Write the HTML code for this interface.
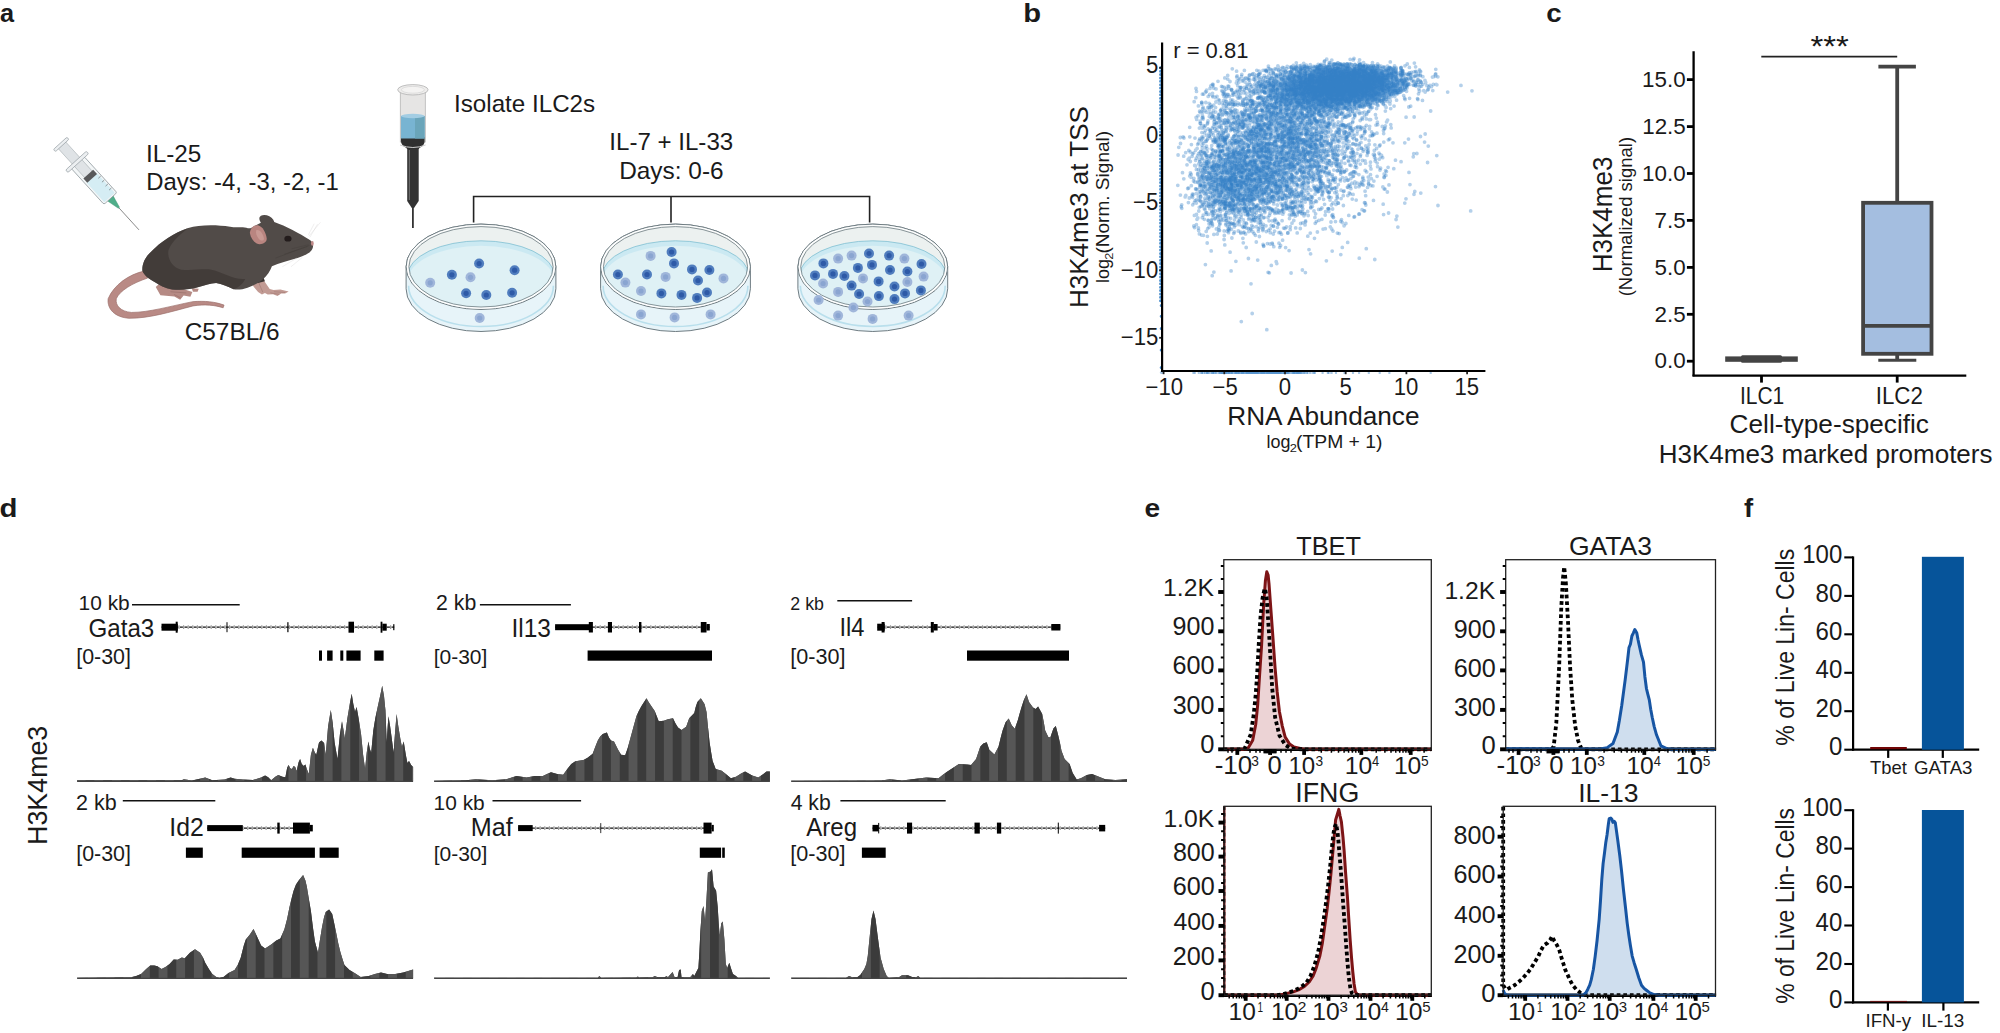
<!DOCTYPE html>
<html lang="en"><head><meta charset="utf-8"><title>Figure</title>
<style>
html,body{margin:0;padding:0;background:#fff;}
body{width:2000px;height:1033px;overflow:hidden;}
svg{display:block;font-family:"Liberation Sans",sans-serif;}
svg text{fill:#1a1a1a;}
</style></head><body>
<svg width="2000" height="1033" viewBox="0 0 2000 1033">
<rect width="2000" height="1033" fill="#fff"/>
<g id="panel-a">
<text transform="translate(0 21.6) scale(1.004 1.000)" font-size="25.2" font-weight="bold">a</text>
<text x="146" y="161.9" font-size="24.3">IL-25</text>
<text x="146.3" y="190.3" font-size="23.9">Days: -4, -3, -2, -1</text>
<text x="184.7" y="339.6" font-size="24.4">C57BL/6</text>
<text x="454" y="111.7" font-size="24.2">Isolate ILC2s</text>
<text x="609.3" y="149.5" font-size="24.1">IL-7 + IL-33</text>
<text x="619.2" y="178.6" font-size="24.4">Days: 0-6</text>
<path d="M473.6 222.5V196.5H869.6V222.5M671 196.5V222.5" fill="none" stroke="#222" stroke-width="1.6"/>
<g transform="translate(61.2 144.4) rotate(47.7) scale(0.1065)">
<line x1="795" y1="0" x2="1085" y2="0" stroke="#555" stroke-width="6"/>
<polygon points="683,-36 683,36 805,7 805,-7" fill="#4fae8a" stroke="#3f9574" stroke-width="4"/>
<rect x="225" y="-82" width="462" height="164" rx="16" fill="#f3f6f7" stroke="#8f989d" stroke-width="7"/>
<rect x="428" y="-66" width="246" height="132" rx="6" fill="#d5edf4"/>
<rect x="8" y="-47" width="380" height="94" fill="#dfe3e6" stroke="#a0a8ad" stroke-width="5"/>
<rect x="378" y="-62" width="54" height="124" fill="#58595b"/>
<rect x="206" y="-132" width="32" height="264" rx="14" fill="#eceff1" stroke="#8f989d" stroke-width="6"/>
<rect x="-14" y="-86" width="28" height="172" rx="12" fill="#eceff1" stroke="#8f989d" stroke-width="6"/>
<path d="M470 -74V-44M520 -74V-44M570 -74V-44M620 -74V-44" stroke="#555" stroke-width="5" fill="none"/>
</g>
<g transform="translate(100 200) scale(0.11616)">
<path d="M380 612 C250 640 120 730 70 850 C60 940 130 1010 250 1018 C420 1020 600 965 800 912 C900 895 990 905 1060 928 L1068 905 C990 875 900 868 800 875 C600 915 420 968 270 968 C180 960 130 910 140 850 C170 780 280 715 410 672 Z" fill="#b98a85" stroke="#9c6f6a" stroke-width="6"/>
<path d="M480 750 L520 712 L600 760 L710 765 L795 792 L778 832 L720 822 L690 858 L640 830 L520 820 Z" fill="#b58a84"/>
<path d="M610 790 L740 800 M640 815 L690 840" stroke="#9a716b" stroke-width="6" fill="none" stroke-linecap="round"/>
<path d="M790 760 L850 765 L840 790 L800 790Z" fill="#b58a84"/>
<path d="M1302 717 L1361 692 L1411 692 L1461 767 L1494 775 L1553 771 L1624 788 L1594 804 L1560 806 L1528 826 L1490 812 L1444 813 L1420 800 L1394 813 L1361 792 L1328 754 Z" fill="#c29b94"/>
<path d="M1361 700 L1400 790 M1500 790 L1590 796 M1470 800 L1540 812" stroke="#a47c76" stroke-width="6" fill="none" stroke-linecap="round"/>
<path d="M1345 690 L1405 660 L1420 700 L1360 715Z" fill="#3a3432"/>
<path d="M365 610 C360 540 400 480 440 445 C520 360 640 280 760 240 C850 212 1000 210 1120 230 C1170 240 1190 232 1230 235 C1260 238 1285 250 1300 240 L1385 195 C1370 170 1365 150 1385 135 C1420 122 1470 135 1492 170 L1500 190 C1600 225 1720 290 1800 340 C1830 360 1840 375 1832 410 C1820 450 1780 470 1700 500 C1620 525 1540 545 1480 570 C1465 610 1440 650 1400 685 C1370 715 1320 735 1270 755 C1230 770 1180 775 1150 768 C1100 745 1050 722 1000 715 C950 715 900 735 850 750 C780 770 700 778 620 770 C560 760 510 730 470 705 C420 680 380 650 365 610 Z" fill="#514b48"/>
<path d="M365 610 C360 540 400 480 440 445 C520 360 640 280 760 240 C700 290 620 350 590 430 C575 500 620 580 700 600 C800 610 880 590 960 600 C1060 620 1150 690 1250 680 C1230 720 1200 750 1150 768 C1100 745 1050 722 1000 715 C950 715 900 735 850 750 C780 770 700 778 620 770 C560 760 510 730 470 705 C420 680 380 650 365 610 Z" fill="#3d3734" opacity="0.75"/>
<path d="M1290 285 C1295 240 1325 212 1360 218 C1400 228 1428 280 1435 330 C1438 360 1410 380 1375 380 C1335 378 1300 340 1290 285 Z" fill="#b98580"/>
<path d="M1345 260 C1375 250 1405 290 1412 335 C1405 355 1385 352 1368 335 C1350 315 1338 285 1345 260Z" fill="#c99a94"/>
<ellipse cx="1618" cy="333" rx="31" ry="25" fill="#231c1c"/>
<ellipse cx="1828" cy="374" rx="12" ry="20" fill="#c08a88"/>
<path d="M1802 392 L1511 500 M1786 400 L1586 467 M1795 385 L1650 420" stroke="#3b3532" stroke-width="3" fill="none" opacity="0.7"/>
<path d="M1798 312 L1898 192 M1807 321 L1873 208 M1794 300 L1844 204 M1744 492 L1644 575 M1694 500 L1569 575" stroke="#d4d2d0" stroke-width="3" fill="none"/>
</g>
<g>
<line x1="412.9" y1="205" x2="412.9" y2="228" stroke="#333" stroke-width="1.8"/>
<path d="M407.2 146 H418.7 V201 L414 208 H411.8 L407.2 201Z" fill="#333"/>
<line x1="409.3" y1="150" x2="409.3" y2="200" stroke="#888" stroke-width="0.8"/>
<rect x="400.3" y="90" width="25" height="52" fill="#e6e5e4" stroke="#b5b5b5" stroke-width="0.8"/>
<path d="M401 137 H424.6 V141 C424.6 146 420 147 418.7 149 H407.2 C406 147 401 146 401 141Z" fill="#2f2f2f"/>
<rect x="401" y="116" width="23.6" height="22.5" fill="#78b4d2"/>
<rect x="415" y="116" width="9.6" height="22.5" fill="#6aa5ba"/>
<ellipse cx="412.8" cy="116" rx="11.8" ry="2.2" fill="#a3cde3"/>
<path d="M400 145 Q412.9 150 425.6 145" stroke="#ccc" stroke-width="1" fill="none"/>
<ellipse cx="412.9" cy="89.8" rx="15.2" ry="5.2" fill="#eeedec" stroke="#b8b8b8" stroke-width="0.9"/>
<ellipse cx="412.9" cy="89.8" rx="11.5" ry="3.4" fill="#f4f3f2" stroke="#d0d0d0" stroke-width="0.6"/>
</g>
<g>
<path d="M406.1 266.8 A74.9 42.7 0 0 1 555.9 266.8 V288.8 A74.9 42.7 0 0 1 406.1 288.8 Z" fill="#e7f4f9" stroke="#6f7c82" stroke-width="1"/>
<path d="M408.6 285.8 A72.4 40.7 0 0 0 553.4 285.8" fill="none" stroke="#b9dfec" stroke-width="1.6"/>
<ellipse cx="481" cy="266.8" rx="74.9" ry="42.7" fill="#ecf1f0" stroke="#6f7c82" stroke-width="1"/>
<clipPath id="dc481"><ellipse cx="481" cy="266.8" rx="72.5" ry="40.5"/></clipPath>
<g clip-path="url(#dc481)">
<ellipse cx="481" cy="275.8" rx="73.4" ry="35" fill="#cbe9f2" stroke="#7fbfd2" stroke-width="0.8"/>
<ellipse cx="481" cy="280.3" rx="72.9" ry="34.5" fill="#dff1f5"/>
</g>
<ellipse cx="481" cy="266.8" rx="73.3" ry="41.2" fill="none" stroke="#fff" stroke-width="1.4"/>
<ellipse cx="481" cy="266.8" rx="72.1" ry="40.2" fill="none" stroke="#6f7c82" stroke-width="0.8"/>
<circle cx="470.5" cy="277.3" r="5" fill="#a0b6da"/><circle cx="470.5" cy="277.3" r="2.6" fill="#8aa5d1"/>
<circle cx="430.2" cy="282.8" r="5" fill="#a0b6da"/><circle cx="430.2" cy="282.8" r="2.6" fill="#8aa5d1"/>
<circle cx="479.7" cy="318" r="5" fill="#a0b6da"/><circle cx="479.7" cy="318" r="2.6" fill="#8aa5d1"/>
<circle cx="479.1" cy="263.5" r="5" fill="#507dbe"/><circle cx="479.1" cy="263.5" r="2.6" fill="#2e5aa7"/>
<circle cx="451.9" cy="274.8" r="5" fill="#507dbe"/><circle cx="451.9" cy="274.8" r="2.6" fill="#2e5aa7"/>
<circle cx="514.6" cy="270.2" r="5" fill="#507dbe"/><circle cx="514.6" cy="270.2" r="2.6" fill="#2e5aa7"/>
<circle cx="466.1" cy="293.3" r="5" fill="#507dbe"/><circle cx="466.1" cy="293.3" r="2.6" fill="#2e5aa7"/>
<circle cx="486.3" cy="295" r="5" fill="#507dbe"/><circle cx="486.3" cy="295" r="2.6" fill="#2e5aa7"/>
<circle cx="512.1" cy="292.8" r="5" fill="#507dbe"/><circle cx="512.1" cy="292.8" r="2.6" fill="#2e5aa7"/>
</g>
<g>
<path d="M600.6 266.8 A74.9 42.7 0 0 1 750.4 266.8 V288.8 A74.9 42.7 0 0 1 600.6 288.8 Z" fill="#e7f4f9" stroke="#6f7c82" stroke-width="1"/>
<path d="M603.1 285.8 A72.4 40.7 0 0 0 747.9 285.8" fill="none" stroke="#b9dfec" stroke-width="1.6"/>
<ellipse cx="675.5" cy="266.8" rx="74.9" ry="42.7" fill="#ecf1f0" stroke="#6f7c82" stroke-width="1"/>
<clipPath id="dc675"><ellipse cx="675.5" cy="266.8" rx="72.5" ry="40.5"/></clipPath>
<g clip-path="url(#dc675)">
<ellipse cx="675.5" cy="275.8" rx="73.4" ry="35" fill="#cbe9f2" stroke="#7fbfd2" stroke-width="0.8"/>
<ellipse cx="675.5" cy="280.3" rx="72.9" ry="34.5" fill="#dff1f5"/>
</g>
<ellipse cx="675.5" cy="266.8" rx="73.3" ry="41.2" fill="none" stroke="#fff" stroke-width="1.4"/>
<ellipse cx="675.5" cy="266.8" rx="72.1" ry="40.2" fill="none" stroke="#6f7c82" stroke-width="0.8"/>
<circle cx="650.6" cy="255.9" r="5" fill="#a0b6da"/><circle cx="650.6" cy="255.9" r="2.6" fill="#8aa5d1"/>
<circle cx="665.6" cy="276.9" r="5" fill="#a0b6da"/><circle cx="665.6" cy="276.9" r="2.6" fill="#8aa5d1"/>
<circle cx="723.5" cy="278.4" r="5" fill="#a0b6da"/><circle cx="723.5" cy="278.4" r="2.6" fill="#8aa5d1"/>
<circle cx="625.4" cy="282.6" r="5" fill="#a0b6da"/><circle cx="625.4" cy="282.6" r="2.6" fill="#8aa5d1"/>
<circle cx="641" cy="291" r="5" fill="#a0b6da"/><circle cx="641" cy="291" r="2.6" fill="#8aa5d1"/>
<circle cx="641" cy="314.4" r="5" fill="#a0b6da"/><circle cx="641" cy="314.4" r="2.6" fill="#8aa5d1"/>
<circle cx="674.6" cy="317.4" r="5" fill="#a0b6da"/><circle cx="674.6" cy="317.4" r="2.6" fill="#8aa5d1"/>
<circle cx="710.6" cy="314.4" r="5" fill="#a0b6da"/><circle cx="710.6" cy="314.4" r="2.6" fill="#8aa5d1"/>
<circle cx="671.6" cy="252" r="5" fill="#507dbe"/><circle cx="671.6" cy="252" r="2.6" fill="#2e5aa7"/>
<circle cx="674" cy="263.4" r="5" fill="#507dbe"/><circle cx="674" cy="263.4" r="2.6" fill="#2e5aa7"/>
<circle cx="692" cy="269.4" r="5" fill="#507dbe"/><circle cx="692" cy="269.4" r="2.6" fill="#2e5aa7"/>
<circle cx="709.4" cy="270" r="5" fill="#507dbe"/><circle cx="709.4" cy="270" r="2.6" fill="#2e5aa7"/>
<circle cx="617.9" cy="274.5" r="5" fill="#507dbe"/><circle cx="617.9" cy="274.5" r="2.6" fill="#2e5aa7"/>
<circle cx="647" cy="274.5" r="5" fill="#507dbe"/><circle cx="647" cy="274.5" r="2.6" fill="#2e5aa7"/>
<circle cx="698" cy="280.5" r="5" fill="#507dbe"/><circle cx="698" cy="280.5" r="2.6" fill="#2e5aa7"/>
<circle cx="661.4" cy="293.4" r="5" fill="#507dbe"/><circle cx="661.4" cy="293.4" r="2.6" fill="#2e5aa7"/>
<circle cx="681.5" cy="294.9" r="5" fill="#507dbe"/><circle cx="681.5" cy="294.9" r="2.6" fill="#2e5aa7"/>
<circle cx="707" cy="292.5" r="5" fill="#507dbe"/><circle cx="707" cy="292.5" r="2.6" fill="#2e5aa7"/>
<circle cx="697.1" cy="297.9" r="5" fill="#507dbe"/><circle cx="697.1" cy="297.9" r="2.6" fill="#2e5aa7"/>
</g>
<g>
<path d="M797.9 266.8 A74.9 42.7 0 0 1 947.7 266.8 V288.8 A74.9 42.7 0 0 1 797.9 288.8 Z" fill="#e7f4f9" stroke="#6f7c82" stroke-width="1"/>
<path d="M800.4 285.8 A72.4 40.7 0 0 0 945.2 285.8" fill="none" stroke="#b9dfec" stroke-width="1.6"/>
<ellipse cx="872.8" cy="266.8" rx="74.9" ry="42.7" fill="#ecf1f0" stroke="#6f7c82" stroke-width="1"/>
<clipPath id="dc872"><ellipse cx="872.8" cy="266.8" rx="72.5" ry="40.5"/></clipPath>
<g clip-path="url(#dc872)">
<ellipse cx="872.8" cy="275.8" rx="73.4" ry="35" fill="#cbe9f2" stroke="#7fbfd2" stroke-width="0.8"/>
<ellipse cx="872.8" cy="280.3" rx="72.9" ry="34.5" fill="#dff1f5"/>
</g>
<ellipse cx="872.8" cy="266.8" rx="73.3" ry="41.2" fill="none" stroke="#fff" stroke-width="1.4"/>
<ellipse cx="872.8" cy="266.8" rx="72.1" ry="40.2" fill="none" stroke="#6f7c82" stroke-width="0.8"/>
<circle cx="838.1" cy="258.6" r="5" fill="#a0b6da"/><circle cx="838.1" cy="258.6" r="2.6" fill="#8aa5d1"/>
<circle cx="851.6" cy="255.6" r="5" fill="#a0b6da"/><circle cx="851.6" cy="255.6" r="2.6" fill="#8aa5d1"/>
<circle cx="904.4" cy="258.6" r="5" fill="#a0b6da"/><circle cx="904.4" cy="258.6" r="2.6" fill="#8aa5d1"/>
<circle cx="923.6" cy="276.6" r="5" fill="#a0b6da"/><circle cx="923.6" cy="276.6" r="2.6" fill="#8aa5d1"/>
<circle cx="863" cy="278.4" r="5" fill="#a0b6da"/><circle cx="863" cy="278.4" r="2.6" fill="#8aa5d1"/>
<circle cx="907.4" cy="282" r="5" fill="#a0b6da"/><circle cx="907.4" cy="282" r="2.6" fill="#8aa5d1"/>
<circle cx="823.1" cy="283.5" r="5" fill="#a0b6da"/><circle cx="823.1" cy="283.5" r="2.6" fill="#8aa5d1"/>
<circle cx="838.1" cy="291.9" r="5" fill="#a0b6da"/><circle cx="838.1" cy="291.9" r="2.6" fill="#8aa5d1"/>
<circle cx="818.6" cy="300" r="5" fill="#a0b6da"/><circle cx="818.6" cy="300" r="2.6" fill="#8aa5d1"/>
<circle cx="867.5" cy="301.5" r="5" fill="#a0b6da"/><circle cx="867.5" cy="301.5" r="2.6" fill="#8aa5d1"/>
<circle cx="853.4" cy="307.5" r="5" fill="#a0b6da"/><circle cx="853.4" cy="307.5" r="2.6" fill="#8aa5d1"/>
<circle cx="838.1" cy="315.6" r="5" fill="#a0b6da"/><circle cx="838.1" cy="315.6" r="2.6" fill="#8aa5d1"/>
<circle cx="872.6" cy="318.9" r="5" fill="#a0b6da"/><circle cx="872.6" cy="318.9" r="2.6" fill="#8aa5d1"/>
<circle cx="908.6" cy="315.6" r="5" fill="#a0b6da"/><circle cx="908.6" cy="315.6" r="2.6" fill="#8aa5d1"/>
<circle cx="869" cy="253.5" r="5" fill="#507dbe"/><circle cx="869" cy="253.5" r="2.6" fill="#2e5aa7"/>
<circle cx="889.1" cy="255.6" r="5" fill="#507dbe"/><circle cx="889.1" cy="255.6" r="2.6" fill="#2e5aa7"/>
<circle cx="823.4" cy="263.4" r="5" fill="#507dbe"/><circle cx="823.4" cy="263.4" r="2.6" fill="#2e5aa7"/>
<circle cx="921.5" cy="264" r="5" fill="#507dbe"/><circle cx="921.5" cy="264" r="2.6" fill="#2e5aa7"/>
<circle cx="872" cy="264.9" r="5" fill="#507dbe"/><circle cx="872" cy="264.9" r="2.6" fill="#2e5aa7"/>
<circle cx="857.9" cy="267.9" r="5" fill="#507dbe"/><circle cx="857.9" cy="267.9" r="2.6" fill="#2e5aa7"/>
<circle cx="890" cy="270" r="5" fill="#507dbe"/><circle cx="890" cy="270" r="2.6" fill="#2e5aa7"/>
<circle cx="907.4" cy="271.5" r="5" fill="#507dbe"/><circle cx="907.4" cy="271.5" r="2.6" fill="#2e5aa7"/>
<circle cx="815" cy="275.4" r="5" fill="#507dbe"/><circle cx="815" cy="275.4" r="2.6" fill="#2e5aa7"/>
<circle cx="833" cy="273.9" r="5" fill="#507dbe"/><circle cx="833" cy="273.9" r="2.6" fill="#2e5aa7"/>
<circle cx="844.4" cy="276" r="5" fill="#507dbe"/><circle cx="844.4" cy="276" r="2.6" fill="#2e5aa7"/>
<circle cx="878.6" cy="281.4" r="5" fill="#507dbe"/><circle cx="878.6" cy="281.4" r="2.6" fill="#2e5aa7"/>
<circle cx="851.6" cy="285.6" r="5" fill="#507dbe"/><circle cx="851.6" cy="285.6" r="2.6" fill="#2e5aa7"/>
<circle cx="894.5" cy="286.5" r="5" fill="#507dbe"/><circle cx="894.5" cy="286.5" r="2.6" fill="#2e5aa7"/>
<circle cx="859.1" cy="294" r="5" fill="#507dbe"/><circle cx="859.1" cy="294" r="2.6" fill="#2e5aa7"/>
<circle cx="878.9" cy="296.1" r="5" fill="#507dbe"/><circle cx="878.9" cy="296.1" r="2.6" fill="#2e5aa7"/>
<circle cx="905" cy="293.4" r="5" fill="#507dbe"/><circle cx="905" cy="293.4" r="2.6" fill="#2e5aa7"/>
<circle cx="920.9" cy="290.4" r="5" fill="#507dbe"/><circle cx="920.9" cy="290.4" r="2.6" fill="#2e5aa7"/>
<circle cx="894.5" cy="299.1" r="5" fill="#507dbe"/><circle cx="894.5" cy="299.1" r="2.6" fill="#2e5aa7"/>
</g>
</g>
<g id="panel-b">
<text transform="translate(1023.3 22) scale(1.159 1.000)" font-size="25.2" font-weight="bold">b</text>
<g fill="none" stroke="#2f7cc4" stroke-opacity="0.36" stroke-width="3.8" stroke-linecap="round">
<path d="M1160.6 67.8h0M1160.6 71.2h0M1160.6 74.6h0M1160.6 77.9h0M1160.6 81.3h0M1160.6 84.7h0M1160.6 88.1h0M1160.6 91.4h0M1160.6 94.8h0M1160.6 98.2h0M1160.6 101.6h0M1160.6 104.9h0M1160.6 108.3h0M1160.6 111.7h0M1160.6 115.1h0M1160.6 118.4h0M1160.6 121.8h0M1160.6 125.2h0M1160.6 128.6h0M1160.6 131.9h0M1160.6 135.3h0M1160.6 138.7h0M1160.6 142.1h0M1160.6 145.4h0M1160.6 148.8h0M1160.6 152.2h0M1160.6 155.6h0M1160.6 158.9h0M1160.6 162.3h0M1160.6 165.7h0M1160.6 169.1h0M1160.6 172.4h0M1160.6 175.8h0M1160.6 179.2h0M1160.6 182.6h0M1160.6 185.9h0M1160.6 189.3h0M1160.6 192.7h0M1160.6 196.1h0M1160.6 199.4h0M1160.6 202.8h0M1160.6 206.2h0M1160.6 209.6h0M1160.6 212.9h0M1160.6 216.3h0M1160.6 219.7h0M1160.6 223.1h0M1160.6 226.4h0M1160.6 229.8h0M1160.6 233.2h0M1160.6 236.6h0M1160.6 239.9h0M1160.6 243.3h0M1160.6 246.7h0M1160.6 250.1h0M1160.6 253.4h0M1160.6 256.8h0M1160.6 260.2h0M1160.6 263.6h0M1160.6 266.9h0M1160.6 270.3h0M1160.6 273.7h0M1160.6 277.1h0M1160.6 280.4h0M1160.6 283.8h0M1160.6 287.2h0M1160.6 290.6h0M1160.6 293.9h0M1160.6 297.3h0M1160.6 300.7h0M1161.2 305.4h0M1161.2 316.2h0M1161.2 328.4h0M1161.2 350h0M1161.2 367.5h0" stroke-opacity="0.9" stroke-width="3"/>
<path d="M1231.5 372.9h0M1237.9 372.9h0M1256.7 372.9h0M1257 372.9h0M1287.1 372.9h0M1258.4 372.9h0M1292.5 372.9h0M1255.1 372.9h0M1251.4 372.9h0M1247 372.9h0M1307 372.9h0M1310 372.9h0M1226.5 372.9h0M1276.9 372.9h0M1275.6 372.9h0M1272 372.9h0M1223.2 372.9h0M1238.6 372.9h0M1292.5 372.9h0M1228.4 372.9h0M1295.8 372.9h0M1269.2 372.9h0M1244.4 372.9h0M1261.7 372.9h0M1237.4 372.9h0M1289.4 372.9h0M1290.8 372.9h0M1252.4 372.9h0M1273.1 372.9h0M1251.6 372.9h0M1271 372.9h0M1277.3 372.9h0M1277.3 372.9h0M1255.6 372.9h0M1274.3 372.9h0M1264.4 372.9h0M1286.8 372.9h0M1262.4 372.9h0M1249.6 372.9h0M1299.3 372.9h0M1283.5 372.9h0M1331.6 372.9h0M1248.3 372.9h0M1278.6 372.9h0M1201.6 372.9h0M1255 372.9h0M1201.6 372.9h0M1235 372.9h0M1212.9 372.9h0M1252.6 372.9h0M1230.8 372.9h0M1268.1 372.9h0M1212 372.9h0M1288.3 372.9h0M1279.8 372.9h0M1246.6 372.9h0M1275.4 372.9h0M1228.9 372.9h0M1256 372.9h0M1250.3 372.9h0M1258 372.9h0M1251.8 372.9h0M1294 372.9h0M1244.4 372.9h0M1268.3 372.9h0M1306.7 372.9h0M1280.6 372.9h0M1273.9 372.9h0M1269.5 372.9h0M1304.4 372.9h0M1252 372.9h0M1297.7 372.9h0M1242.1 372.9h0M1261.3 372.9h0M1236 372.9h0M1300.2 372.9h0M1216.3 372.9h0M1245.6 372.9h0M1243.9 372.9h0M1267.2 372.9h0M1272.7 372.9h0M1219.5 372.9h0M1331.3 372.9h0M1206.7 372.9h0M1244.5 372.9h0M1284.5 372.9h0M1296.7 372.9h0M1223.4 372.9h0M1262.3 372.9h0M1221.6 372.9h0M1306.5 372.9h0M1216 372.9h0M1211.3 372.9h0M1249.9 372.9h0M1205.2 372.9h0M1237.9 372.9h0M1257.2 372.9h0M1253.7 372.9h0M1263.2 372.9h0M1232.7 372.9h0M1251.4 372.9h0M1297.5 372.9h0M1236.4 372.9h0M1223.8 372.9h0M1229.8 372.9h0M1270.5 372.9h0M1280.7 372.9h0M1162 372.9h0M1161 372.5h0M1322.6 372.9h0M1328.7 372.9h0M1336 372.9h0M1344.5 372.9h0M1353 372.9h0M1359.1 372.9h0M1368.8 372.9h0M1379.7 372.9h0M1389.4 372.9h0M1430.7 372.9h0" stroke-opacity="0.42" stroke-width="2.4"/>
<path d="M1294.6 372.9h0M1267.3 372.9h0M1276.2 372.9h0M1271.4 372.9h0M1283.8 372.9h0M1248.8 372.9h0M1255.3 372.9h0M1249.8 372.9h0M1257.9 372.9h0M1258.9 372.9h0M1273.2 372.9h0M1235.9 372.9h0M1327.8 372.9h0M1253.6 372.9h0M1214.2 372.9h0M1266.1 372.9h0M1312.5 372.9h0M1283.6 372.9h0M1257.5 372.9h0M1236.7 372.9h0M1267 372.9h0M1280.7 372.9h0M1250.5 372.9h0M1267.8 372.9h0M1258.8 372.9h0M1228.8 372.9h0M1247.3 372.9h0M1269.6 372.9h0M1242.5 372.9h0M1257.5 372.9h0M1276.7 372.9h0M1239.4 372.9h0M1274.5 372.9h0M1287.3 372.9h0M1269.7 372.9h0M1284.2 372.9h0M1301.7 372.9h0M1204.1 372.9h0M1307.6 372.9h0M1241.1 372.9h0M1244.3 372.9h0M1241.3 372.9h0M1268.8 372.9h0M1250.7 372.9h0M1213.6 372.9h0M1208.4 372.9h0M1241.9 372.9h0M1277.5 372.9h0M1293.6 372.9h0M1253.3 372.9h0M1267.4 372.9h0M1258.6 372.9h0M1207.6 372.9h0M1261.9 372.9h0M1252.5 372.9h0M1254.7 372.9h0M1264.1 372.9h0M1242.3 372.9h0M1275.1 372.9h0M1222.1 372.9h0M1302.6 372.9h0M1256.8 372.9h0M1193.4 372.9h0M1296.9 372.9h0M1260.7 372.9h0M1279.8 372.9h0M1262.9 372.9h0M1215.6 372.9h0M1278.6 372.9h0M1249.7 372.9h0M1198.8 372.9h0M1267.7 372.9h0M1287.1 372.9h0M1287 372.9h0M1242.5 372.9h0M1246.5 372.9h0M1280.3 372.9h0M1262.8 372.9h0M1225 372.9h0M1266.1 372.9h0M1247.4 372.9h0M1203 372.9h0M1298.8 372.9h0M1288 372.9h0M1296.2 372.9h0M1280.1 372.9h0M1314.9 372.9h0M1247.2 372.9h0M1261.6 372.9h0M1277.3 372.9h0M1248.9 372.9h0M1296.6 372.9h0M1220.5 372.9h0M1281.2 372.9h0M1289.4 372.9h0M1211.7 372.9h0M1226.3 372.9h0M1212.5 372.9h0M1301.1 372.9h0M1248.7 372.9h0M1268.2 372.9h0M1243.8 372.9h0M1231.7 372.9h0M1271.5 372.9h0M1250.2 372.9h0M1250.6 372.9h0M1264.4 372.9h0M1245.3 372.9h0M1237.9 372.9h0" stroke-opacity="0.42" stroke-width="2.4"/>
<path d="M1239.8 372.9h0M1231.7 372.9h0M1201.2 372.9h0M1228.2 372.9h0M1297.2 372.9h0M1267 372.9h0M1253.7 372.9h0M1201.9 372.9h0M1248.8 372.9h0M1252.3 372.9h0M1222 372.9h0M1243.1 372.9h0M1260.2 372.9h0M1213.6 372.9h0M1235 372.9h0M1236 372.9h0M1249.2 372.9h0M1256.7 372.9h0M1280.6 372.9h0M1261.3 372.9h0M1213.6 372.9h0M1264.7 372.9h0M1279 372.9h0M1301.6 372.9h0M1248.2 372.9h0M1259.3 372.9h0M1194.8 372.9h0M1273.4 372.9h0M1268.5 372.9h0M1218.9 372.9h0M1224.1 372.9h0M1279.6 372.9h0M1273.9 372.9h0M1299.2 372.9h0M1279.5 372.9h0M1209 372.9h0M1264.9 372.9h0M1247.6 372.9h0M1284.7 372.9h0M1263.5 372.9h0M1275.6 372.9h0M1271.4 372.9h0M1266.8 372.9h0M1294.4 372.9h0M1285.7 372.9h0M1253.8 372.9h0M1272.5 372.9h0M1242.2 372.9h0M1251.2 372.9h0M1267.8 372.9h0M1278.1 372.9h0M1239.2 372.9h0M1242.7 372.9h0M1261.2 372.9h0M1298.9 372.9h0M1235.3 372.9h0M1206.9 372.9h0M1224.4 372.9h0M1268 372.9h0M1227.9 372.9h0M1273.5 372.9h0M1271.4 372.9h0M1238.4 372.9h0M1221.4 372.9h0M1235.1 372.9h0M1255.6 372.9h0M1253.9 372.9h0M1247.3 372.9h0M1278.4 372.9h0M1279.3 372.9h0M1270.2 372.9h0M1246.7 372.9h0M1262.9 372.9h0M1241.6 372.9h0M1277.2 372.9h0M1236 372.9h0M1284.3 372.9h0M1287.7 372.9h0M1218.4 372.9h0M1257 372.9h0M1314.1 372.9h0M1292.4 372.9h0M1273.7 372.9h0M1268.4 372.9h0M1286.4 372.9h0M1259.7 372.9h0M1304.4 372.9h0M1232.7 372.9h0M1274.1 372.9h0M1275.9 372.9h0M1253.9 372.9h0M1231.8 372.9h0M1262.7 372.9h0M1256.4 372.9h0M1276.1 372.9h0M1224.2 372.9h0M1273.4 372.9h0M1282.8 372.9h0M1271.1 372.9h0M1264.7 372.9h0M1224 372.9h0M1242.2 372.9h0M1261.4 372.9h0M1229.1 372.9h0M1229.6 372.9h0M1284.2 372.9h0M1284.7 372.9h0M1230.4 372.9h0M1255.5 372.9h0M1226.6 372.9h0" stroke-opacity="0.42" stroke-width="2.4"/>
<path d="M1181.8 208.3h0m1.3-71.5h0m5.5 51.3h0m1.7-26.6h0m0.1 11.3h0m2.8 21.7h0m0.6 31.4h0m0.4-124.2h0m0.9 98.9h0m0.5-50.4h0m0.6 43.3h0m0.3-102.1h0m0.6 57h0m0.5 7.4h0m0.4 19.2h0m0.1-1.9h0m2.1 11.7h0m0.7-29.1h0m0.2 17h0m1.2-25.1h0m0 0.4h0m0.4-39.3h0m0.2 66.3h0m0.9-22h0m0.5 17.8h0m0.3 12.9h0m0.1 1.1h0m0.1 13.6h0m0.2-50.5h0m1.5-35.7h0m0.3 79.9h0m0.2-1.6h0m0.1 2.5h0m0.1-53.2h0m0.3-16h0m1.3 32.4h0m0.2-43.1h0m0.1-6h0m0.1-3.8h0m0.6 63.5h0m0.6 38h0m1.2-28.2h0m0 46.1h0m0.4-40.7h0m0.2-65.5h0m0.1 11.7h0m0.4 78.6h0m0.3-56.1h0m0.2 56.9h0m0.1-42.3h0m0.1 49.5h0m0.3-74.1h0m0 40.7h0m0.1-16.3h0m0.7-8.3h0m0.1-18.2h0m0.2 3.3h0m0.3 35.8h0m0.6-65.6h0m0.2-10.1h0m0.2 73.2h0m0.3 13.9h0m0.3-24.9h0m0-37.1h0m0.3-30.8h0m0.1 85.2h0m0.4-17.9h0m0 3.3h0m0.2 18.3h0m0.2 18.4h0m0 6.9h0m0.1-93.1h0m0.2 64.2h0m0.1-15.4h0m0.4-10.3h0m0-40.8h0m0.1 54.4h0m0.1 60.5h0m0.3-59.1h0m0.1-43.8h0m0.3-26.8h0m0.3 20.4h0m0.1 80.9h0m0-9.8h0m0.1 31.5h0m0.3-27.9h0m0-57.8h0m0.1 47.1h0m0 17.5h0m0.1-92.1h0m0.2 84.6h0m0.1-15.3h0m0.1-53.6h0m0.5 54.8h0m0.4-43.1h0m0.1-3.3h0m0.1 47.7h0m0.3 20.1h0m0.2-50.5h0m0.2 28.6h0m0-42.6h0m0.1 21.8h0m0-27.8h0m0.4-26.1h0m0 64.8h0m0.2-38.4h0m0 34.8h0m0.2-26.8h0m0.1 52.8h0m0-51.6h0m0-34h0m0.5 128.4h0m0-54.5h0m0.1 21.6h0m0.1-15.7h0m0.3-31.8h0m0.1-24.9h0m0.1 57.4h0m0.2 0.4h0m0-4.6h0m0.1-77.7h0m0.1 57.1h0m0 45.4h0m0.3-19.9h0m0.2 16.9h0m0.1-27.2h0m0.5-40.7h0m0.1-32.8h0m0.1 65.9h0m0 15.7h0m0-17.9h0m0 19.1h0m0.5-7.5h0m0-36.5h0m0.2 41.4h0m0 18.7h0m0 23h0m0-48.8h0m0.3 1h0m0.1 9.2h0m0.1-34h0m0.2-31.9h0m0.1 22.8h0m0.1 36.2h0m0.2-62.8h0m0 51.1h0m0.2 22.8h0m0.1 13.5h0m0-119h0m0.4 32.8h0m0 66h0m0.2-5.4h0m0.3 43.8h0m0-42.2h0m0.1-3.7h0m0 30.7h0m0.1-36.4h0m0.1-90.5h0m0.2 103.4h0m0.1-12h0m0-5h0m0.1 22.1h0m0.2-24.8h0m0.2-46.4h0m0.2 73.5h0m0.1-14.2h0m0.1-62.5h0m0.2 70.8h0m0 42.9h0m0.1-43.5h0m0.2 12.2h0m0.2-5.9h0m0.4-47.6h0m0 17.6h0m0.2 28h0m0.1-20.3h0m0.1 20.6h0m0.1 21.6h0m0-36.7h0m0.3-21.7h0m0.2 24.4h0m0.2-32h0m0.1 33.8h0m0.2-75.1h0m0.1 103.9h0m0 4.6h0m0.5-39.9h0m0.1-42.5h0m0.1 74.9h0m0.3-40h0m0-48.2h0m0.1 0h0m0 51.2h0m0.1 26.5h0m0.3-24.9h0m0 20.7h0m0.1 16.2h0m0.4-10.4h0m0 64.5h0m0.1-83.2h0m0.3-20h0m0.1 18.5h0m0.1-7.5h0m0-17.2h0m0.5-12h0m0.1-14.3h0m0.1-33.8h0m0 50.1h0m0.1-20.8h0m0.2 77.3h0m0.1-36.6h0m0-28h0m0.1 18.6h0m0 47h0m0.1-0.4h0m0.1-13.8h0m0-38.4h0m0.1-0.8h0m0.1-29.8h0m0 87.2h0m0.1-44.1h0m0-35h0m0.1 106.7h0m0.1-18.9h0m0-15.1h0m0.1-12.5h0m0-64.2h0m0.1 100.6h0m0.1-67.2h0m0-18.4h0m0.1 58.4h0m0.1-70.2h0m0.3 80.2h0m0.1-45.3h0m0.2-18.4h0m0 53.3h0m0.4 7h0m0-38.9h0m0.4-28.9h0m0.1 21.2h0m0.3 24.2h0m0-20.5h0m0.1 28h0m0.2-98h0m0.1 62.4h0m0 61.7h0m0.2-29.8h0m0-24.7h0m0.1-52.1h0m0 72.8h0m0.1-101.3h0m0.1 72.1h0m0.5-0.4h0m0.1 17.2h0m0.2-43.6h0m0 0.7h0m0-41.4h0m0.1 46.5h0m0.1-14.2h0m0.1 0.8h0m0 85.8h0m0.1 11.8h0m0.1-39h0m0.5 47.1h0m0.1-114.4h0m0.5 99.5h0m0.1-22.5h0m0.1 25.8h0m0.1-94h0m0-35.4h0m0.1 20.3h0m0.7 62.8h0m0.4-24.3h0m0.4 18.6h0m0.2 14.2h0m0.1 77.1h0m0.1-91.2h0m0.2 20.5h0m0.1 34h0m0.1-32.8h0m0-1.7h0m0.2 23.5h0m0.2-23.2h0m0.2-98.1h0m0.5 21.9h0m0.1 77.6h0m0.5-31.8h0m0-10.8h0m0.2-0.3h0m0.8 76.2h0m0.2-10.7h0m0.2-8.1h0m0.1-82h0m0.3 6.7h0m0.2 72.8h0m0-83.7h0m0.1 67.7h0m0 11.2h0m0.1-23.6h0m0-8.1h0m0.1-15.4h0m0 15.8h0m0 46.7h0m0.1-50.1h0m0.2-19.2h0m0.1 8.6h0m0-43.6h0m0.1 45.5h0m0 12.9h0m0.3-41.9h0m0.6 102h0m0-29.1h0m0.2-85.4h0m0-25.9h0m0.7 117.4h0m0.2-24.8h0m0.1-10.2h0m0-18.1h0m0.1 47.3h0m0.2-16.5h0m0-2.3h0m0.1-93.5h0m0.2 134.7h0m0.2-41h0m0.2 2h0m0-9.6h0m0.1-85.5h0m0 92.9h0m0.2 17.5h0m0-11.9h0m0.4 17.3h0m0.1-100.1h0m0.2 88.2h0m0.2-15.8h0m0-69.8h0m0 76.5h0m0.1-30.2h0m0.1-49h0m0.1 117.1h0m0-77.4h0m0 15h0m0.1 15.8h0m0 5.3h0m0-16.9h0m0.1-12.2h0m0.2 50.4h0m0.1-95h0m0.1-4.1h0m0.2 75.3h0m0-75.6h0m0.2 98.9h0m0.1-31.4h0m0.1-49.1h0m0.1 26.7h0m0.1 19.6h0m0.2 13.3h0m0.3 94.5h0m0-140.2h0m0.1 62.5h0m0.4-35.3h0m0-0.7h0m0-29.6h0m0.1 56.8h0m0-4.6h0m0.1 62.2h0m0.1-62.9h0m0-6.3h0m0.1-34.9h0m0.1-50.5h0m0.2 91.6h0m0.1-64.5h0m0.1-32.6h0m0.4 14.7h0m0 71.6h0m0.4-6.4h0m0.1-78.5h0m0.1 100.5h0m0.1-41.6h0m0.1-1.9h0m0 93.3h0m0.2-112.6h0m0 101h0m0.2-107.6h0m0.1 69.7h0m0 12.7h0m0.2 30h0m0.1-73.5h0m0 67.4h0m0-33.4h0m0.1-13.7h0m0-13.6h0m0.1 29.8h0m0 10.8h0m0.2-8.7h0m0-7.8h0m0.2 15h0m0.9-86.9h0m0.4 93.3h0m0.1 4.7h0m0-19.9h0m0.1-63.5h0m0.3-11.2h0m0 66.1h0m0.1 74.8h0m0.1-70.6h0m0-97.1h0m0.1 120.9h0m0.1-109.7h0m0.1 83.1h0m0.1 7.8h0m0.3-37.5h0m0-51.4h0m0.3 102.7h0m0.1-104.6h0m0.4-8h0m0.3 85.6h0m0.2 36.1h0m0.1-87.3h0m0.2 41.3h0m0.2-39h0m0.1-47.6h0m0 68.8h0m0.1 48h0m0.3-12h0m0-1.1h0m0.1-71.3h0m0-1.9h0m0 9.8h0m0.1-22h0m0.3 8.6h0m0.1 17h0m0.2 60.6h0m0-71.3h0m0.2 30.8h0m0.3-24.9h0m0.1 58.1h0m0.4-18.8h0m0 7.1h0m0 2.5h0m0.1 39.2h0m0 3.3h0m0.1-87.2h0m0.2 40.3h0m0-70.7h0m0.2 21.9h0m0 115.6h0m0.1-107.3h0m0.1 28.4h0m0 39.6h0m0.1-26.5h0m0.4 10.2h0m0-30h0m0 23.1h0m0.1 1h0m0.1 4.7h0m0 20.8h0m0.3-41.6h0m0.1 56.8h0m0.1-40.5h0m0.3 22.1h0m0-7.7h0m0.2-80.3h0m0 27.5h0m0.3-15.6h0m0 18.5h0m0 141.4h0m0.2-68h0m0.2-24.7h0m0.1-87.5h0m0 89h0m0-30.1h0m0.6 53.7h0m0.5 3.3h0m0 9.5h0m0-13.9h0m0.1-80.5h0m0.3-29.8h0m0-13h0m0.1 124.2h0m0.1-85.7h0m0.1-31h0m0.1 94.1h0m0.3-33.5h0m0 57.6h0m0.2-15h0m0-91.9h0m0.3 82.5h0m0.3-85.7h0m0 24.3h0m0.3 86.4h0m0.2-106.8h0m0.1 79.6h0m0.2 11.4h0m0-67.6h0m0.1-36.1h0m0.3 11.1h0m0.1 16.3h0m0.3-5.2h0m0.1 64.8h0m0.1-9.9h0m0-50.5h0m0.1 17.1h0m0.2-10.2h0m0.3 79.9h0m0-104.3h0m0.2 41.5h0m0.3 3.4h0m0.1-6.2h0m0-45.3h0m0.1 16.7h0m0.2-3h0m0.1 55h0m0.2 16.3h0m0-85.5h0m0.1-6h0m0.3 96.3h0m0.1-6h0m0.1 76.7h0m0.5-30.1h0m0.1-90h0m0 67.2h0m0.4-49.2h0m0.1-40.7h0m0.2 17.3h0m0.1-15.8h0m0.1-13.9h0m0.2 71.4h0m0.2-12.5h0m0-24.9h0m0.1 30.7h0m0 50.6h0m0.5-99.3h0m0.1 86.3h0m0.1-68.9h0m0-41.7h0m0.1-0.5h0m0.2 111.7h0m0-51.4h0m0 30.5h0m0.1-29.5h0m0.4 56.4h0m0.1-14.8h0m0.1-27.3h0m0 50.4h0m0.1-100.8h0m0.3-17.8h0m0 107.3h0m0.1-20.4h0m0.1-37h0m0.5 24.8h0m0.5-77.4h0m0.1 47h0m0.2 25.8h0m0 28.2h0m0.1-109.5h0m0.1 13.9h0m0.2 84h0m0-31.3h0m0 86.4h0m0.3-92.7h0m0.2-51.1h0m0.1 0.6h0m0.2 118.3h0m0-114.7h0m0-6.2h0m0.1 77.3h0m0.1-8.3h0m0.1-34.4h0m0.1 61.2h0m0-78.1h0m0.3 46.4h0m0.1-51.4h0m0.2 24.1h0m0.2-18.4h0m0.1-3.9h0m0-6.9h0m0.1-23.7h0m0.6 48.4h0m0.2 64.6h0m0.1-12.1h0m0-49.1h0m0.1 48.8h0m0-18.7h0m0.1-4.4h0m0.1-60.1h0m0 50.5h0m0.1 3.7h0m0-4.6h0m0.2-24.6h0m0-19.4h0m0.1 29.3h0m0.1-0.5h0m0 29.8h0m0-70.2h0m0.1 111.1h0m0 17.7h0m0-139.4h0m0.1 10.6h0m0 46.5h0m0-1.2h0m0.4-33.6h0m0.1 62.6h0m0-2.7h0m0.1-54.8h0m0.3 70.5h0m0.1-49.4h0m0 51.5h0m0-41.2h0m0.1 18h0m0.1-51.8h0m0 69.4h0m0.1-24.5h0m0.1-13.9h0m0.4 43.5h0m0-52.5h0m0.1-21.6h0m0 0.9h0m0.1 107.5h0m0-117.2h0m0.2 44.3h0m0 1.5h0m0.2 3.3h0m0.2-62.8h0m0.3 0.6h0m0 93.2h0m0-85.7h0m0 16.2h0m0.1 5.3h0m0 16.2h0m0.6 39.4h0m0.2-74.7h0m0 95.5h0m0.1-9.2h0m0-87.1h0m0.1 10h0m0 36.6h0m0.1-34.2h0m0-15.6h0m0.2 102.2h0m0-21.6h0m0.2 1.1h0m0-64.9h0m0.1 50h0m0-20.5h0m0.2-38.7h0m0 109.2h0m0.3-87.1h0m0.1-17.6h0m0 81.8h0m0 43.8h0m0.1-53.3h0m0.1-52.9h0m0.1 73.6h0m0.1-96.4h0m0.2 44.9h0m0-55h0m0.2 105.5h0m0-87.5h0m0.1 2.3h0m0.1 76.2h0m0-73.2h0m0-30.1h0m0.1 37.5h0m0.1 20.3h0m0 80.9h0m0.2-76.8h0m0 22.4h0m0-71.3h0m0.1 78.2h0m0-67.8h0m0.2 21.5h0m0.1 38.8h0m0.1-52.4h0m0.1-10.4h0m0.2-18.8h0m0.1 15.7h0m0 31.5h0m0-29.6h0m0 107.8h0m0-104.4h0m0.2 20.9h0m0-3.3h0m0-15.4h0m0-21.7h0m0.1 80.8h0m0.2 3h0m0-61.9h0m0.1 138.9h0m0-124.9h0m0.1 40h0m0-62.6h0m0.1-1.4h0m0.1 2.9h0m0.1 43.3h0m0.1 7.5h0m0.1 25.3h0m0.1-47.6h0m0-34h0m0.2 104.6h0m0.5-92.9h0m0-0.5h0m0.2-2.9h0m0-9.2h0m0 7.5h0m0 10.5h0m0.2 35.2h0m0.2-49.3h0m0.1 102.1h0m0.2-102h0m0.1-3.8h0m0 78.5h0m0.3-56.5h0m0.1 67.6h0m0-87.6h0m0.2-14.3h0m0 9.5h0m0-4.5h0m0 94.1h0m0.1-14.6h0m0 75.6h0m0-144.9h0m0.3 73.8h0m0.2-75.7h0m0.1 40.5h0m0.1-33.3h0m0 16h0m0.1-19.4h0m0 8.8h0m0.2-25.6h0m0 115.3h0m0.2-96.6h0m0.1 81.4h0m0-11.1h0m0.1 15.6h0m0.2 39.9h0m0.1-129.5h0m0.1 0.1h0m0.2 12.7h0m0.1-9.5h0m0 2.8h0m0.2-4.2h0m0 82.5h0m0.3-59.2h0m0-29.1h0m0 11h0m0.1-10.4h0m0 3.8h0m0 24.8h0m0-29.7h0m0 12.5h0m0.2 2.6h0m0.1-13.6h0m0 22h0m0-29.8h0m0 24.1h0m0.2-19.4h0m0 20.9h0m0.2-10.4h0m0 61.8h0m0-60.6h0m0-8.2h0m0.1 10.2h0m0 90.9h0m0.1-90.3h0m0.2 65h0m0.2-2.9h0m0 24.1h0m0.2-82.9h0m0-12.6h0m0.2 19.5h0m0-33.7h0m0 40.6h0m0.1-20.5h0m0.1-16.4h0m0.1 104.5h0m0.3-48.8h0m0-36.1h0m0-17h0m0.2 9h0m0.1 43.8h0m0.2-41.6h0m0.1-7h0m0.2 30.5h0m0.1 6.6h0m0.2-37.6h0m0.1 71.2h0m0-22.5h0m0 6.5h0m0.3-44h0m0 27.2h0m0.1-36.3h0m0 47.7h0m0.1 8.8h0m0-57.9h0m0.1 6.1h0m0.1 6.9h0m0 11.1h0m0 20.5h0m0-25.9h0m0.1 42.3h0m0.1-29h0m0-44.6h0m0.3 2.8h0m0.1 82.9h0m0-60.3h0m0.1-7.8h0m0.2 82.3h0m0.1-65.9h0m0.3 34.5h0m0.2 52.8h0m0.2-97.7h0m0.1-9.3h0m0.1-1.5h0m0.2 99h0m0-76h0m0.1-8h0m0-1.5h0m0-3.7h0m0.2 30.5h0m0.1-43h0m0 21.4h0m0.1 0.3h0m0.2-5.5h0m0.1-15.9h0m0 18.2h0m0 76h0m0.1-79.3h0m0-11.1h0m0 5.8h0m0.4 77.7h0m0-77.3h0m0.1 0.6h0m0 58.3h0m0 62h0m0.1-123.3h0m0 9h0m0.1-18.3h0m0 21.4h0m0.1 63.4h0m0-80.3h0m0.4 62.2h0m0.1-54.2h0m0 82.8h0m0-6.2h0m0.2-82.2h0m0-6.4h0m0 8h0m0-10.9h0m0 10.2h0m0.2-2h0m0 2h0m0.1 7.5h0m0.1 11.9h0m0.3-29.3h0m0.4 12.8h0m0.1 80.9h0m0-62.7h0m0.1-17h0m0 27h0m0.1 39h0m0.1-58.6h0m0 84.3h0m0-106.9h0m0.1 27.3h0m0.1-16.7h0m0 22.2h0m0.1-29.9h0m0 19.4h0m0.1 108.5h0m0-37.8h0m0.2-78.8h0m0.2-7.9h0m0-0.8h0m0.2 10.5h0m0.1 45.9h0m0.1-47.4h0m0 58.6h0m0-63.1h0m0.1 83.7h0m0-46h0m0-31.4h0m0.1 99.6h0m0.2-35.5h0m0 36.4h0m0.1-90.5h0m0.1 95.9h0m0.1-66.3h0m0.1-32h0m0 52.2h0m0.2-56.1h0m0 2.8h0m0-6.2h0m0 14.2h0m0.2 26h0m0.1-35.3h0m0.3 27.2h0m0.1 7.1h0m0.2-60.9h0m0.1 3.5h0m0.2 17.4h0m0-3.7h0m0.1-4.2h0m0 18.7h0m0 35.8h0m0.1-36.7h0m0.1 30.2h0m0.1-29.7h0m0.1-31.1h0m0 15.3h0m0.1-13.5h0m0 123.1h0m0.4-101.8h0m0.2 17.6h0m0-21.1h0m0-0.8h0m0.2 8.9h0m0.4 6.8h0m0-11h0m0-11.9h0m0 14.1h0m0.1-25.2h0m0.1 4.4h0m0.1 7.4h0m0.1 16.8h0m0-1.8h0m0.1 10.5h0m0 115.5h0m0.2-136.1h0m0 26.9h0m0-29.7h0m0.2-0.1h0m0 15.1h0m0-7.3h0m0.1 42.5h0m0 66.9h0m0-10.4h0m0.2-8.2h0m0.2-83.8h0m0.2-17.7h0m0.1 24h0m0-12h0m0.1 1h0m0-14.2h0m0 2.3h0m0.1 18.8h0m0.1-9.4h0m0-4.6h0m0-7.1h0m0.3 109.6h0m0.1-108h0m0 29.2h0m0-29.1h0m0.1 14.6h0m0 14.8h0m0.2-13.7h0m0.1-4.9h0m0.1 0.3h0m0.2-15.4h0m0.1 29.5h0m0.1 41.3h0m0.2 62.4h0m0-127h0m0.2 9.6h0m0.1-20.3h0m0 17.4h0m0 12.3h0m0.1-21h0m0.1 53.2h0m0.1-40.9h0m0-9.7h0m0 12.3h0m0.1 1.4h0m0.1-10.2h0m0.2 45.5h0m0-59.2h0m0.1 121.5h0m0.1-39.1h0m0-70.9h0m0 0h0m0 7.2h0m0.2-9.7h0m0.1 81.9h0m0-67.4h0m0-27.5h0m0.2 59.3h0m0.1-47.8h0m0 1.9h0m0 5h0m0-6.3h0m0.1-7.4h0m0 21.7h0m0.1-7.8h0m0.1-11.3h0m0.1 5.9h0m0.1 2.1h0m0.1 9.6h0m0.1 2.8h0m0.2-8.7h0m0-6h0m0.1 0.8h0m0 7.5h0m0-2.2h0m0.1 36.3h0m0 49.4h0m0 0.8h0m0.1-73.8h0m0 46.4h0m0-49.5h0m0-1.7h0m0.2-16.5h0m0.2 11.1h0m0.2 9.7h0m0-5.6h0m0.2-10.9h0m0 90.8h0m0 14.3h0m0.2-57.3h0m0.1-27h0m0-12.3h0m0-22.7h0m0 4.5h0m0.3 13.5h0m0 20.1h0m0 21.5h0m0-25.5h0m0.1-24.5h0m0.1 90.6h0m0.1-68.9h0m0.1 76.5h0m0-70.4h0m0.1-9h0m0.1-7.5h0m0 25.5h0m0-36h0m0-8.2h0m0 27.9h0m0.3 65.2h0m0-76.8h0m0-1.5h0m0.1 4.1h0m0-10.9h0m0.1 13.8h0m0 48.4h0m0-49.5h0m0.1 5.1h0m0.1-9.2h0m0-9.6h0m0 6.9h0m0-5.7h0m0.1 8.6h0m0.1-2h0m0.2 101.7h0m0.1-92.5h0m0.2 7.5h0m0-26.2h0m0 9.1h0m0.2-11.5h0m0.3 20.2h0m0-25.3h0m0.1 23.6h0m0 63.8h0m0 19.3h0m0-108h0m0.3 21.4h0m0.1-2.5h0m0 14.1h0m0-7h0m0 1.2h0m0.1 7.6h0m0.1-21.4h0m0 7.5h0m0 25.8h0m0.2-36.2h0m0 83.8h0m0.1-62.3h0m0.1-15.5h0m0.1 27.3h0m0.1-33.8h0m0.1 2.3h0m0 8h0m0.2 57.6h0m0-38.3h0m0-5.3h0m0.1-15.5h0m0 14.8h0m0 1.2h0m0.1 82.9h0m0.1-108.7h0m0 22.7h0m0.2-21.6h0m0.2 10.8h0m0 29.3h0m0.1-46.4h0m0 31.7h0m0.1-29.5h0m0 17.9h0m0.1 5h0m0-11.9h0m0 12.3h0m0 55.4h0m0.1-66.9h0m0 120.6h0m0.1-118h0m0.1-7.4h0m0 55h0m0.1-46.5h0m0.1-4.4h0m0-6.3h0m0 3.9h0m0.1 9.1h0m0-2.1h0m0-4.6h0m0.1 4.8h0m0 10.2h0m0.1-18.4h0m0.1 4.4h0m0-0.6h0m0 15.1h0m0-17.4h0m0.1-9.9h0m0 9.8h0m0.1 75.8h0m0.1-87.1h0m0.1 16.1h0m0 5.8h0m0.1 122.3h0m0.1-116.9h0m0.1-13.4h0m0 23h0m0.1-16.8h0m0.2-12.6h0m0.1 1h0m0.1-0.6h0m0.1 8.3h0m0-16.4h0m0.3 109.9h0m0-97.9h0m0 7.1h0m0-0.3h0m0.1-11.4h0m0 22.7h0m0.1-14.3h0m0 15.5h0m0.1 33.5h0m0-66.1h0m0.1 19.3h0m0 10.2h0m0.3-2.5h0m0-19.5h0m0 4.9h0m0.3 27.8h0m0-20.2h0m0.1-2.4h0m0 10.5h0m0.1 0.4h0m0-19.6h0m0.4 14.7h0m0.1-18.2h0m0 19.1h0m0.1-22.2h0m0 19h0m0-1.6h0m0 1.9h0m0.1-3.1h0m0.1-8.4h0m0 21.2h0m0.1-17.5h0m0 9.1h0m0-13.3h0m0 14.6h0m0-19.7h0m0.2 3.5h0m0 10h0m0 3.3h0m0.1-17.4h0m0 0.8h0m0-0.6h0m0 18.6h0m0.1-9.7h0m0 13.3h0m0.1-0.9h0m0.1-12.6h0m0-1.3h0m0.4 1.1h0m0.1-17.2h0m0 32.6h0m0.1-19.7h0m0.1 5.7h0m0-0.3h0m0.1-13h0m0.1 100.9h0m0.1-31.1h0m0-49.8h0m0.1-6.4h0m0.1 6.1h0m0-20.4h0m0.1 23.7h0m0-5.1h0m0 16.6h0m0.1-18.1h0m0 46.5h0m0.1-19.4h0m0-31.7h0m0.1 2.7h0m0-5.4h0m0-15.6h0m0.1 8.6h0m0 13.3h0m0.1 99.6h0m0-92.5h0m0 7.1h0m0-9.1h0m0.3 38.7h0m0-45.4h0m0 0.4h0m0-2.2h0m0.2 32.9h0m0.1 15.1h0m0-44.3h0m0.1-8.8h0m0.3-7.5h0m0 64h0m0-32.5h0m0.1-18.6h0m0.1-0.1h0m0 1.1h0m0.2-7h0m0.2 8.7h0m0 52.7h0m0.1-43h0m0 0.1h0m0.1-29.6h0m0 25.2h0m0.2 2h0m0 1.5h0m0.2-23.3h0m0 6h0m0.1 9.5h0m0.1-2.1h0m0.1 9.1h0m0-20.4h0m0.1 7.7h0m0.1 0.8h0m0 8.9h0m0.1-5.9h0m0 3.7h0m0.2 10.7h0m0.1 121.4h0m0-131.4h0m0.1 2.8h0m0 31h0m0-43.7h0m0-4.7h0m0 3.4h0m0 2.8h0m0.2 13.5h0m0-11.9h0m0-3.7h0m0 2.6h0m0 4.7h0m0-3.7h0m0.1 3.4h0m0-1.3h0m0.1 20.2h0m0-15h0m0 80.5h0m0-83.5h0m0-13.2h0m0.4 21.2h0m0.1 8.2h0m0.2-2h0m0-21.3h0m0-6.5h0m0.1 27.8h0m0.3-23.8h0m0 10.6h0m0.2 9.7h0m0-15.5h0m0.1 3.5h0m0.1-6.1h0m0 16.4h0m0-12h0m0 3.8h0m0.2-0.2h0m0.1-6.1h0m0.1 10.2h0m0 0.1h0m0-4.6h0m0 10.1h0m0.1-11.9h0m0.1 14.2h0m0.4-25.1h0m0.1-8.1h0m0 26.5h0m0.1 80h0m0-54.3h0m0.1-40.9h0m0.3 55.8h0m0-52.2h0m0-2.5h0m0.1 1.7h0m0 1.8h0m0.1-11.5h0m0 6.4h0m0.1 25.1h0m0-9.6h0m0.1 14.7h0m0.1-31.4h0m0.1 5.8h0m0 3.7h0m0.1 61.4h0m0.1-73.9h0m0 25.7h0m0-23.7h0m0.2 0.8h0m0-9.9h0m0.1 24.9h0m0.1-7.1h0m0.2-14.4h0m0 32.1h0m0.1-0.3h0m0.1-35.6h0m0.1 20.3h0m0.1 9.3h0m0-8.7h0m0 7.4h0m0-20.8h0m0.2 13.2h0m0 1.7h0m0-3.2h0m0.1 0.5h0m0.1-11.4h0m0 10.3h0m0.1 104.4h0m0.1-99.2h0m0-10.5h0m0-5.2h0m0 12.2h0m0.2 63.7h0m0-66.2h0m0 160.5h0m0-155.2h0m0-4.3h0m0.1-13.2h0m0 8.6h0m0.1-11.7h0m0.2 12.8h0m0.1 12.6h0m0-5.4h0m0-3.8h0m0-7.6h0m0 16.5h0m0.1 94.2h0m0.2-92.8h0m0-17.3h0m0 7.5h0m0.1-7.4h0m0.1 2h0m0-0.7h0m0 9.4h0m0.1 1.1h0m0-7.4h0m0 4.2h0m0 130.9h0m0.1-81.9h0m0.2-38.7h0m0-16.5h0m0.1 25.7h0m0.1-30.6h0m0.1 23.6h0m0.2-9.3h0m0 4.3h0m0.2-10.8h0m0.2 15.3h0m0.1-7.7h0m0 4.1h0m0.1-22.7h0m0 16.1h0m0.3-5.4h0m0 10.2h0m0.1-0.4h0m0-13.9h0m0.1 12.2h0m0.1 3.3h0m0.1 2.9h0m0.2 5.4h0m0.1-27.2h0m0.1 18.7h0m0.1 2.3h0m0-14.6h0m0 2.6h0m0 15.3h0m0.1-3.6h0m0.1-18.2h0m0 4.3h0m0-10h0m0.2 1.8h0m0 15.3h0m0.1-6.8h0m0.1 16.1h0m0.1-3.7h0m0.1-3.2h0m0-11.7h0m0.3 5.6h0m0 4.5h0m0.1-3.3h0m0 6.7h0m0.1 6.8h0m0.5-20.9h0m0.1 9h0m0 4.2h0m0.1-7.5h0m0-6.6h0m0.2 4.2h0m0.1 2.5h0m0 12.5h0m0-25.3h0m0.1 10.4h0m0.1-4.7h0m0.1 9.7h0m0.6-6.3h0m0 0.1h0m0 11.5h0m0 92.6h0m0-106.7h0m0 15.2h0m0.1-1.8h0m0.1 3.5h0m0 9.9h0m0.1 78.2h0m0-76.9h0m0-3h0m0.1 69.9h0m0-87.3h0m0.1-5.8h0m0-4.4h0m0 14.4h0m0-19.7h0m0.1 4.3h0m0.2-1.7h0m0 7.8h0m0.1 7.2h0m0.1 6.3h0m0.1-3.8h0m0-11.9h0m0.1 21.7h0m0-13.7h0m0-11.8h0m0.2 17h0m0-4h0m0.1 8.6h0m0.1-12h0m0.1-9.3h0m0 9.6h0m0.2-11.2h0m0-1.5h0m0.2 12.8h0m0 9h0m0.1-3.5h0m0-8.3h0m0-15h0m0.1 6.1h0m0 2.2h0m0 29h0m0.1-23h0m0.1 7.5h0m0.1 0.2h0m0.2 43.5h0m0-55.6h0m0 18.2h0m0.3-2.3h0m0-22.9h0m0.1 18.6h0m0-21.7h0m0 13.9h0m0.1-12.4h0m0.1 82.1h0m0.1-57.6h0m0.1-5.4h0m0.2 11.1h0m0-5.3h0m0.2-14.8h0m0.1 2.9h0m0.1-10.5h0m0 11.1h0m0.1 13.7h0m0-7.6h0m0.1-6.6h0m0.2 15.8h0m0-21.5h0m0-12h0m0.1 10.9h0m0.2 16.3h0m0 10.4h0m0.1-40.3h0m0.2 43h0m0-5.2h0m0.2-17.6h0m0 8.3h0m0.1-5.3h0m0.1-8.4h0m0.1-6.6h0m0.1 16h0m0.1-3.8h0m0-13.8h0m0.1 10.8h0m0.3 16.7h0m0-15.2h0m0.1 7.8h0m0.2-11.1h0m0 6.9h0m0.3 6.1h0m0.1-15.1h0m0.1 17h0m0.1-1.1h0m0-21.2h0m0.1 16.9h0m0.1-10.7h0m0 22.1h0m0.1-8.2h0m0-3.9h0m0.2 21.9h0m0-38.2h0m0 17.3h0m0 9.1h0m0.2-10h0m0.2-8.5h0m0.1 20.1h0m0-12.4h0m0 0.8h0m0.1-6.5h0m0 99.4h0m0.1-103.3h0m0 15.9h0m0-19.9h0m0.2 3.5h0m0.1 2.9h0m0.2 14.9h0m0-3.6h0m0.2-8.2h0m0.1 12.6h0m0-19.5h0m0 108.1h0m0.2-113.7h0m0.2-0.8h0m0.1 20.8h0m0.1-5.1h0m0.4-3.5h0m0.1-2.8h0m0 8.8h0m0.1-9h0m0 20.9h0m0.2-3.9h0m0.1 1.2h0m0.1-6.5h0m0.3-18h0m0 13.8h0m0.1 10.8h0m0.1-14h0m0-5h0m0-4.1h0m0 13.7h0m0.2-1.7h0m0.1-4h0m0 7.5h0m0 3h0m0.2 5.8h0m0 24.1h0m0.1-25.1h0m0-27.3h0m0.1 5.7h0m0.1 3.8h0m0.1-7.6h0m0.1 2h0m0 31.4h0m0.1-23.4h0m0.1-1.1h0m0 14.2h0m0.1-5.4h0m0.1-6h0m0.1-12.1h0m0 26.1h0m0.2-11.5h0m0 5.6h0m0.2-0.3h0m0.2-18.1h0m0.1 16h0m0 14.1h0m0-10.4h0m0-9.6h0m0.2 8.3h0m0-2.7h0m0.2 6.1h0m0-14.6h0m0 6.1h0m0.1 97.7h0m0.2 3.4h0m0.2-94h0m0.1 2.1h0m0 14.3h0m0.1-20.6h0m0.2-4.9h0m0 6.5h0m0.1-1.2h0m0-3.5h0m0.4 14.1h0m0.2 7.1h0m0-29.8h0m0-0.9h0m0.4 22.7h0m0.2-28.1h0m0 11.2h0m0.3 7.5h0m0-9.9h0m0.1 1.1h0m0.1 18.6h0m0.1-11.6h0m0.1-0.3h0m0 1.2h0m0.1-5.9h0m0.1-8.2h0m0.1 0h0m0 3.7h0m0.1 14.3h0m0.1-11h0m0.3 16.1h0m0.3-7.6h0m0.2 48.2h0m0-60.8h0m0.1 13.4h0m0.1-10.3h0m0.3-10.9h0m0 24.1h0m0.1-14.2h0m0.2-10.7h0m0 21h0m0.1-3.1h0m0 8.2h0m0.1-4.9h0m0.4-3.8h0m0.1-1.4h0m0 1h0m0.1-4.9h0m0.1 7.9h0m0.1-4.8h0m0 76h0m0.1-81.1h0m0 9.6h0m0-7.1h0m0.5-6.2h0m0-2.9h0m0 23.6h0m0.1 0.9h0m0-8.4h0m0.1 1.7h0m0 4.4h0m0.1-6.3h0m0.2-15.1h0m0 20.5h0m0.2-11.9h0m0.2 4.4h0m0 41.8h0m0.3-39.6h0m0.2-6.7h0m0 13.7h0m0.2-18.8h0m0 18.2h0m0-2.6h0m0.1-0.3h0m0.1-12.2h0m0 13.6h0m0.1 7.9h0m0.1 78h0m0.1-82h0m0-8.3h0m0.2 8.7h0m0-12.3h0m0.1 19.7h0m0.2-14.8h0m0.1-5.7h0m0.3 5.8h0m0.2-11.1h0m0.1 13.7h0m0.2 3.6h0m0.2-14.7h0m0 12.6h0m0.2 61.7h0m0.1-59.1h0m0.2-16.8h0m0.2 6.1h0m0.2 10.1h0m0.3-4.7h0m0-0.2h0m0.1-8.4h0m0.1 9h0m0.5-9.5h0m0.4-0.4h0m0 0.7h0m0-13.9h0m0.1 21h0m0.4-5.9h0m0.1 7h0m0.1 2.1h0m0.1 4.8h0m0.4-16.9h0m0.2 6.4h0m0.1 4.1h0m0.1-11.2h0m0.5 5.1h0m0.3 47.8h0m0.3-34.7h0m0.1-12h0m0-8.6h0m0-8.2h0m0 33.3h0m0.3-10.2h0m0 87.6h0m0.2-93.6h0m0 12.6h0m0.1 4.6h0m0.6-23.4h0m0.2-0.9h0m0.6 0.5h0m0.2 0.9h0m0.3 7.2h0m0.1 86.1h0m0.2-102.2h0m0.3 15.8h0m0.5-4.7h0m0.1-1.8h0m0.5 8.4h0m0.5 125.9h0m0-125.6h0m0.3-14.2h0m0.3 21.6h0m0.8-27.3h0m0.6 6.5h0m1.6 1.7h0m0.6 8.3h0m0 1.4h0m0.1-6.8h0m0.2 1.5h0m0.1-10.8h0m0.1 22.2h0m0.1-5.6h0m0-15.6h0m0.2 11.1h0m0.4-2.5h0m0 2.2h0m0.6-15.3h0m0.1 10.9h0m0.4 12.7h0m0.5-6.7h0m0.2-5.9h0m0.3 10h0m0.9 5.8h0m0.1-1.1h0m0.2-9.1h0m0.3-0.9h0m0.9 9.1h0m0.3-9.4h0m0.1 1h0m3-7.3h0m0.7-1.5h0m0.2-2.7h0m1.6 3.2h0m0.4 129.2h0m0.1-115.8h0m0.3-9.2h0m1 0.6h0m0.3 6.7h0m1.5-10.7h0m2.8-0.4h0m0 4.2h0m0.1-3.3h0m3.1 10.1h0m2-9.6h0m2.3 4h0m17.2 106.9h0"/>
<path d="M1180.5 143.5h0m10.9 1.1h0m1.3 60.2h0m2.9-15.9h0m0.4-100.4h0m0.4 111.3h0m2-93.9h0m0.1 47.8h0m0.7 23.5h0m0.1 30.1h0m0.6-45.6h0m0.3-49.2h0m0.9 72.8h0m0.2-7.6h0m0.2-66.3h0m0.3-7.4h0m0.1 28.6h0m0.1 26.6h0m0.3 6.1h0m0.9 49.9h0m0.1-49.8h0m0.9 21.3h0m0-59.5h0m0.3 33.7h0m1.1-19.7h0m0.6 90.2h0m0.2-139.9h0m0.2-1.4h0m0.5 58.5h0m0.4 36h0m0.1-0.1h0m0.3-4.9h0m0.1-0.2h0m0.7 4.4h0m0.2 18.5h0m0.2-68.5h0m0 41.9h0m0.1-39.6h0m0.5 38.1h0m0.2-12.4h0m0.3 22.6h0m0.1 8h0m0.2 31.2h0m0-118.6h0m0.3-19.2h0m0.2 72h0m0.3 14.5h0m0-54.3h0m0 87.8h0m0.1-27.7h0m0.2-11.9h0m0.2-12.6h0m0.4 122.1h0m0.2-60.6h0m0.2-129.3h0m0.1 99.2h0m0.2-69h0m0 95.8h0m0.7-49.9h0m0.6 1.6h0m0.6-34.7h0m0 44h0m0.1 5h0m0.4 22.1h0m0.1-18.8h0m0.1-18.7h0m0 9.4h0m0 30.1h0m0.1-22.7h0m0.1-16.1h0m0.4-12.1h0m1.6 65h0m0.1-47.1h0m0.3 28.8h0m0.1-20.4h0m0.1-77.6h0m0.7 64.8h0m0 57.1h0m0.2-13.6h0m0.1-81.6h0m0.6 51.3h0m0.5 21.7h0m0.1-88.6h0m0.3 73.1h0m0.2-22h0m0.2 42.6h0m0.2-1h0m0-26.2h0m0.6-15.6h0m0.1 15.2h0m0.3 14.2h0m0 6h0m0.1-10.6h0m0-12.1h0m0.1-35.5h0m0.1 58.7h0m0.5 12.2h0m0.2-63.2h0m0.1 18.8h0m0.2-32.4h0m0-39.9h0m0.1 74h0m1 40.7h0m0.6-87.8h0m0 60h0m0.1 34.3h0m0.1-54.7h0m0-20.2h0m0.1 23.3h0m0.1 38.6h0m0-10.1h0m0.1 24.9h0m0.1-55.5h0m0.1-71.6h0m0 116.3h0m0-77.7h0m0.3-21.3h0m0.5 65.7h0m0-9.2h0m0.2 7.3h0m0.1-47.9h0m0 109h0m0.1-80.3h0m0.1 47.2h0m0.2-30.7h0m0.5 54.9h0m0.1-29.9h0m0.1-5.7h0m0 8.3h0m0.2 0h0m0-24.7h0m0.1-18.5h0m0 19.3h0m0.3 42.5h0m0.5-43.4h0m0-73.8h0m0.2 88h0m0 21.8h0m0.1-31.5h0m0-20.2h0m0.1-7.1h0m0.3 104.8h0m0-41.9h0m0.1-53.8h0m0 33.7h0m0.3-17.4h0m0 51.5h0m0.1-47.2h0m0.3 12.4h0m0-89.7h0m0.1 83.8h0m0 19.2h0m0-18h0m0.1-38.9h0m0 125h0m0.3-80.8h0m0.3-46.4h0m0.1 24.3h0m0.2 31.3h0m0.4 2.7h0m0.3-51.1h0m0.1 6.5h0m0-53.2h0m0 7.6h0m0.6 5.8h0m0.3 18.8h0m0 97h0m0.1-110.9h0m0.3 81.8h0m0.1-49.3h0m0 19.2h0m0.1-5.4h0m0.3 9.9h0m0-17.8h0m0.3 1.1h0m0 31.5h0m0.2-101.4h0m0 97.4h0m0.1-30h0m0.4 26.4h0m0-33.3h0m0.1-60.5h0m0 43.2h0m0 61.3h0m0.1-53.9h0m0.6 29.2h0m0.4 24.3h0m0.1-41.7h0m0.2 44.4h0m0.3-11.6h0m0.3-1h0m0.2-20.9h0m0.3-23.5h0m0 29h0m0-47.9h0m0.6 6.9h0m0.1 64.3h0m0.1-8h0m0.1-66.3h0m0.5 6.7h0m0.1 0.2h0m0.2 43.4h0m0.2 17.5h0m0-2.4h0m0.2-9.4h0m0.2-7.3h0m0.3 64.7h0m0.1-60.6h0m0.2 44.5h0m0.2-44.4h0m0.2-12.3h0m0.3-19.6h0m0 21.5h0m0.1 12h0m0.1 20.5h0m0.7-45.1h0m0.2 18.7h0m0.3-14.7h0m0.1-27.4h0m0.7 105.8h0m0-66.5h0m0.1 0.6h0m0.3-18.5h0m0.3 12h0m0.1-6.4h0m0 72.9h0m0-54.8h0m0.1-46.4h0m0.2 38.9h0m0.1 16.2h0m0.1-49.2h0m0.4 23.3h0m0.2 30.9h0m0-70.1h0m0.2 71.3h0m0.1 23.1h0m0.1-98.7h0m0-22.7h0m0.2 31.4h0m0.6-11h0m0 18.7h0m0.3 30.5h0m0 19.5h0m0.1-3.4h0m0.1-4.2h0m0.1-30.3h0m0.1-7.9h0m0.1 5.1h0m0.1 22.4h0m0.1 9.7h0m0 10.2h0m0.2-28.2h0m0-33.1h0m0.1 141h0m0-44.4h0m0.5-82.6h0m0.1 17.3h0m0.4 15.7h0m0.2-0.4h0m0 6.1h0m0.3 21.8h0m0-62.5h0m0.1 71.5h0m0-5.2h0m0.3 32.8h0m0-98.7h0m0-45.3h0m0.2 16.5h0m0.4 108.4h0m0.2 1.2h0m0-109.9h0m0.3 93.7h0m0.1-60.1h0m0.1 46.6h0m0.2-20.4h0m0 54.5h0m0.1-13h0m0-4.2h0m0-54h0m0.1 49.8h0m0.2 17.7h0m0-54.3h0m0 18h0m0.2 0.1h0m0.2-72.3h0m0.2 64.7h0m0.1-34.1h0m0.1 5.1h0m0.2 47.6h0m0-50.4h0m0.1 42.9h0m0.4-87.9h0m0.1 61.4h0m0-0.4h0m0-3.2h0m0.2 3.4h0m0.4 60.1h0m0.1-62.2h0m0.1 58.8h0m0.2-33.9h0m0.1-6.3h0m0.2 7.9h0m0.3-14h0m0 7.9h0m0.1 47.2h0m0-39.3h0m0.1-96.9h0m0 49.9h0m0-19.7h0m0.1 17.1h0m0.3 78.1h0m0.1-39.7h0m0.1-35.9h0m0.1 110.9h0m0-49.3h0m0.2-11.5h0m0-48.6h0m0.1 36.9h0m0.1-40.3h0m0.2 61h0m0.3-70.4h0m0.3 57.9h0m0.2 14.3h0m0.3-3.4h0m0-9h0m0.3-93.4h0m0 102.8h0m0-43.7h0m0.3-20.1h0m0.2-4.9h0m0.1-22.7h0m0.1 90.9h0m0.1 7.8h0m0.1-109.5h0m0.5 121.5h0m0.1-7.3h0m0.2-127.2h0m0.2 5.6h0m0.1 67.8h0m0.1 72.3h0m0-59.9h0m0.4 43.4h0m0-33.4h0m0.1 2h0m0.6 43h0m0.6-64.4h0m0.3-37.2h0m0 33h0m0.1-34.8h0m0.5 30.3h0m0.1-25.8h0m0.2 11h0m0.1-1h0m0.1 4.7h0m0.2 19.8h0m0.1 16.5h0m0.1-78.2h0m0.1 36h0m0.3 25.2h0m0 27.5h0m0.2-60.4h0m0.1 21.9h0m0-46.6h0m0.1 53.8h0m0-43h0m0.1 108.2h0m0.1-118h0m0.1 64.4h0m0.2-6.1h0m0.3-64.5h0m0.2 102.2h0m0.3-54.3h0m0.2-37.2h0m0.3 18.4h0m0.4 65h0m0-61.2h0m0.1-42.7h0m0.1 98.2h0m0.1 2.9h0m0.2 65.4h0m0.1-75.6h0m0.8-39.2h0m0.1-17h0m0.2-21.8h0m0.1 78.6h0m0.1-17.5h0m0.1 36.1h0m0-4.9h0m0 11.5h0m0.1-49h0m0-59h0m0 122h0m0.4-112.1h0m0.1 74.2h0m0.3-49.4h0m0-51.6h0m0.2 60.1h0m0.1-46.7h0m0 27.4h0m0.1 119.1h0m0-125.6h0m0.2 29.5h0m0-53.8h0m0.1 40.4h0m0.2 50.9h0m0.5-50h0m0-34.8h0m0.1 26h0m0.1-11.1h0m0.1 43.4h0m0.2-57.8h0m0 104.9h0m0.1 6.2h0m0.1-73.6h0m0.2 52.3h0m0.1 7.3h0m0-71h0m0 87.8h0m0.1-44.9h0m0-76.7h0m0.2 132.4h0m0.3-27.7h0m0 6.7h0m0-3.8h0m0.1 14.5h0m0.4-8.6h0m0.1 34.2h0m0-0.1h0m0-48.8h0m0.2-95.3h0m0.2 119.8h0m0.3-64.2h0m0-41.1h0m0.1 89.4h0m0.4-81.6h0m0 116.4h0m0-41.3h0m0.2-93.3h0m0.1 54.4h0m0 1.2h0m0.2-28.8h0m0.1-19.6h0m0.3 95.8h0m0.1-98.5h0m0.1 74.9h0m0-38.2h0m0 52.7h0m0.3-67.1h0m0.1 96.2h0m0-21.3h0m0.4-36.6h0m0.2 3.6h0m0.3-23.2h0m0 18.3h0m0.4-61.2h0m0.1 44.6h0m0.2 76.9h0m0.1-22.9h0m0.1-79.3h0m0 84h0m0.3-93.7h0m0 101.3h0m0.4-42.7h0m0.1 55.4h0m0-49.9h0m0-76.8h0m0.1-15.4h0m0 92.4h0m0.2-43.7h0m0 114.1h0m0.1-40.6h0m0.1 5.7h0m0.1-112.7h0m0.5 0.1h0m0.5-11.1h0m0.1 114.6h0m0.1-26.7h0m0.1 83.5h0m0.1-99.5h0m0 8.4h0m0.4-1.9h0m0.2-55.9h0m0.1 61h0m0.1-88.6h0m0 40h0m0.1 33.9h0m0.1-4.2h0m0.1-54.2h0m0.1 39.9h0m0.1-29.6h0m0.1 37.5h0m0.1-48.5h0m0.2 90.6h0m0-48.9h0m0.2 18.5h0m0.3-5.1h0m0-9h0m0-39.6h0m0.3-19.7h0m0 85.2h0m0.1-19.5h0m0.1-1.3h0m0.2 93.1h0m0.1-20.2h0m0-140.1h0m0.1 83.3h0m0.1-48.8h0m0.2 18.6h0m0.2 75h0m0.2-53.5h0m0.1 11.5h0m0.3-54.5h0m0.1 80.1h0m0.2-23.4h0m0 42.1h0m0.1-113.5h0m0.2 28.4h0m0.1-8.2h0m0.1 62.9h0m0.1-47.9h0m0.1-30.7h0m0.6 8.1h0m0.1 85.2h0m0-77.3h0m0.1 0.7h0m0.1 10.5h0m0-10.7h0m0 17.5h0m0.1 85.8h0m0-122.9h0m0.2 96.7h0m0 7.8h0m0.1-112h0m0.1-1.5h0m0.2 112.4h0m0.3-46.8h0m0.2-3.2h0m0 39.8h0m0.1-84.5h0m0.1 58.3h0m0.1 11.7h0m0-63.5h0m0.1 88.4h0m0.1-93.2h0m0 48.2h0m0.1 24.1h0m0.3-89.1h0m0.2 116.4h0m0.3-2.2h0m0.1 24.6h0m0-130.3h0m0.1 50.8h0m0.2-53.4h0m0.1 110.8h0m0-117.9h0m0.1 22.2h0m0-5.2h0m0.1-12.4h0m0.2 47.6h0m0.1 36h0m0-83.3h0m0.1 34.3h0m0 14.3h0m0.2-31.1h0m0 76.6h0m0-74.5h0m0.1-10.9h0m0-1.3h0m0 63.2h0m0.1 53.5h0m0.2 65.5h0m0-142.4h0m0.3-17.5h0m0.1 37.6h0m0.1-69.5h0m0 0.9h0m0.1 92.7h0m0.5-80.6h0m0.1 72.1h0m0.1-91.1h0m0.2 76.4h0m0-68.2h0m0 5.5h0m0.1 103h0m0.3 10h0m0.1-31.5h0m0.3 12.2h0m0-99.3h0m0.2 3.5h0m0.2-3.9h0m0.3-13.1h0m0.2 68.3h0m0-62.3h0m0.1 6.2h0m0-2.9h0m0 63h0m0.1-53.1h0m0.1 68.5h0m0.2-64.2h0m0 75.1h0m0.1-76.2h0m0.1-12.4h0m0.1 98h0m0.2-48.1h0m0.5-39.2h0m0.3 83h0m0-25.5h0m0.1-66.6h0m0 24.8h0m0.1 85.8h0m0-9.4h0m0.1-49.2h0m0-40.1h0m0.2 52.7h0m0-48.8h0m0.3-17.5h0m0.1 12.7h0m0 15.3h0m0.1-15.9h0m0 72.8h0m0-73.7h0m0.1 28.8h0m0 20.8h0m0.2-37.8h0m0.1 34.2h0m0.1-46.9h0m0.3-13.4h0m0.1 120.3h0m0.2-100.7h0m0 100.4h0m0.3-37.9h0m0.2-20.9h0m0.2-32.8h0m0-21.5h0m0.1 65.6h0m0.1-71.4h0m0.2 23.2h0m0-12h0m0 1.9h0m0.1 36.3h0m0.2 34.6h0m0.1 7.4h0m0.2-46.5h0m0.1-19h0m0 102.3h0m0.1-123.2h0m0.1 87.8h0m0-60.4h0m0.1 66.8h0m0.2-107.5h0m0 84.9h0m0-40.1h0m0.1 109.3h0m0-139.1h0m0.2 55h0m0-44h0m0.2-20.7h0m0 23.2h0m0.1-32.4h0m0.1 41.5h0m0-19.5h0m0.2 25.5h0m0.1-37.4h0m0.3 78.6h0m0.1-61.4h0m0 40.7h0m0.1-39.1h0m0.3 71.8h0m0-54.9h0m0.1-28.5h0m0 29.2h0m0 21.7h0m0.1 77.7h0m0-115.1h0m0-7.8h0m0-9.6h0m0.3 11.2h0m0.1 57.8h0m0.2-5.2h0m0 52.4h0m0.1-92.5h0m0-3.2h0m0.1 52h0m0.1-65h0m0.1 8.9h0m0 64h0m0.1-71.1h0m0.1-24.9h0m0 26.6h0m0-5.3h0m0.1-1.4h0m0.2 13h0m0.3 88.4h0m0-93.3h0m0.1 26.9h0m0 54.1h0m0-106.3h0m0.4 62.7h0m0 25.2h0m0-67.1h0m0.1 101.9h0m0.1-100.7h0m0 18.8h0m0-27.8h0m0 13.1h0m0-18.5h0m0 51.2h0m0.2-17.6h0m0.3 47.3h0m0-71.5h0m0 138.9h0m0.1-146h0m0.1 110.2h0m0-93.7h0m0.2-2.1h0m0-3.6h0m0.1-5h0m0.1 53.3h0m0.1-45.4h0m0.2 6.4h0m0 46.6h0m0.3-50.2h0m0 50h0m0-58.3h0m0 2.1h0m0-1.3h0m0.1 1.4h0m0.1 14.6h0m0-10.5h0m0.1 50.9h0m0.1-27.7h0m0-9.2h0m0.4-23.9h0m0 13.5h0m0 59.1h0m0.2-74.9h0m0 133.2h0m0-125.3h0m0.2 97.5h0m0-30.9h0m0 40.1h0m0.1-85.4h0m0 78.5h0m0.1-101.6h0m0-16.4h0m0 85.6h0m0.1 7.4h0m0.1-76.2h0m0 17.4h0m0-20.3h0m0.3 54.1h0m0.1-45.6h0m0 53.8h0m0.1-51.4h0m0 37.4h0m0.1-37.6h0m0.3 68.8h0m0-53.4h0m0.2 31.9h0m0-47h0m0.1 48.4h0m0.1-36.1h0m0.1-16.7h0m0 58.7h0m0.2-29.6h0m0.1-42.6h0m0-4.4h0m0 49h0m0.1 5.5h0m0.1 35.3h0m0-73.8h0m0.1 76.7h0m0-82.1h0m0 84.7h0m0.2-60.5h0m0.2-30.6h0m0-7.3h0m0.1 17.5h0m0.1-8.5h0m0.1 8.7h0m0.1 104.9h0m0-97.7h0m0.1-1h0m0.1 19.3h0m0.1-29.5h0m0 7.5h0m0.1-8.6h0m0 9.9h0m0-1.9h0m0 53.9h0m0.2-40h0m0.1 48.8h0m0-59.1h0m0 75.2h0m0.1-75.5h0m0 12.2h0m0.1-23.5h0m0.1 6.8h0m0-9h0m0.3 5.8h0m0.1-6.7h0m0.1 5.7h0m0-6h0m0.4 25.5h0m0.1-12.4h0m0 9.6h0m0-12.6h0m0.1-11.2h0m0.3 104.5h0m0-76.9h0m0 10.6h0m0.1-38.7h0m0 38h0m0.1-15.8h0m0 45.1h0m0-50.8h0m0.1 68.7h0m0-8.7h0m0.1-55.7h0m0.1-25.4h0m0 79.6h0m0.1-82.6h0m0.1 25.1h0m0.1 21.3h0m0 48.9h0m0.1-77.1h0m0-4.4h0m0.1 27.6h0m0.2-18.1h0m0-6.4h0m0 36.5h0m0-34.2h0m0.1-13.2h0m0 13.9h0m0 47.2h0m0.1-37h0m0.1-12.3h0m0.1 22h0m0.1 16.5h0m0-31.2h0m0.1 74h0m0.1-73.3h0m0.3-7.5h0m0.1 11h0m0.1-20.9h0m0.1 17h0m0.1-22.3h0m0.1 63.1h0m0 46.3h0m0-87.7h0m0-0.6h0m0-16.2h0m0.1 11.3h0m0 69.6h0m0.1-70.5h0m0-4.9h0m0 3.4h0m0.1 117.4h0m0-62.6h0m0.2-62h0m0-2.9h0m0.1 21h0m0-16.2h0m0.3 20.4h0m0.1-4.5h0m0 4.8h0m0.1 24.7h0m0-39.2h0m0 88h0m0-85.7h0m0.2-12.5h0m0 12.6h0m0-11.8h0m0.1-7.6h0m0.3 38h0m0-33.6h0m0 87.1h0m0.1-70.6h0m0-3.8h0m0 63h0m0.2-56.5h0m0 1.3h0m0.2 78.5h0m0.1-60h0m0.1 27.9h0m0.1 48.9h0m0.2-73.1h0m0.1-22.7h0m0.1-14.5h0m0.1 56.8h0m0.1-41.2h0m0-13.3h0m0.1 3.1h0m0 9.8h0m0-26h0m0 27.6h0m0.1-6.9h0m0 78.3h0m0.1-61.6h0m0.1-20.5h0m0-1.2h0m0-7.6h0m0.3 9.6h0m0 10.9h0m0.2-27h0m0.1 15.8h0m0 91.7h0m0.1-94.5h0m0-14.5h0m0.1 115.6h0m0-90h0m0.1-21.3h0m0.1 79.3h0m0 58.3h0m0-133.2h0m0.3 23.4h0m0-0.7h0m0.2-10.6h0m0-2.4h0m0.4 30h0m0 21h0m0 33.1h0m0.2-67.5h0m0-8.3h0m0 56.8h0m0-57h0m0.1 18.7h0m0.1 81.7h0m0-43.6h0m0.1-68.2h0m0-10.6h0m0 18.6h0m0.1-6.6h0m0.1 4.5h0m0 6.1h0m0.1-9.8h0m0.4 5.7h0m0.1 100.3h0m0-99.4h0m0-18h0m0 9.9h0m0.1 6.7h0m0.1-23.9h0m0.1 19.3h0m0 98.2h0m0-105.4h0m0.2 15.2h0m0-13.2h0m0.2 107.3h0m0.1-114.8h0m0 12.4h0m0.1 19.8h0m0-25.3h0m0.2 14.3h0m0.1-20.4h0m0.1 12.3h0m0 9.8h0m0-13.4h0m0.3 19.9h0m0.1-19h0m0 9.9h0m0-27.6h0m0.1 87h0m0.1-70.3h0m0 17.2h0m0-24.7h0m0 7.5h0m0.1-14.7h0m0 7h0m0 0.6h0m0.1 25.3h0m0-22.7h0m0 13.8h0m0.1-4.1h0m0.1-13.5h0m0 30.6h0m0.1-8.1h0m0.1 89.7h0m0-105.3h0m0-6.9h0m0 77.4h0m0.2-60.4h0m0.1-20.5h0m0.2 31.8h0m0-12.9h0m0 7h0m0-10.9h0m0.1-7.6h0m0.1 111h0m0.1-90.7h0m0.2-23.1h0m0 22.1h0m0-24h0m0.1-2.9h0m0.1 23.3h0m0.1-1.7h0m0 4.1h0m0-14.1h0m0 10.8h0m0.1-8.1h0m0-14.6h0m0.1 17.1h0m0.1 4.5h0m0 9.5h0m0-28.9h0m0.1-2.4h0m0 16.6h0m0.1 3.8h0m0-14.6h0m0.1 5h0m0.1 3.4h0m0 7.9h0m0.1-16.9h0m0 3.9h0m0 7.1h0m0.1-8.9h0m0.1 10.1h0m0.2 4h0m0-18.3h0m0.1 79.1h0m0-59.9h0m0.2-8.4h0m0.1-1.9h0m0 6.7h0m0.1-13.3h0m0.1 9.3h0m0 13.4h0m0 30.2h0m0.1 65.3h0m0-70.1h0m0.1-47h0m0.1 10.5h0m0.1-13.1h0m0.1 99.7h0m0.3 23.9h0m0-103.6h0m0 2.2h0m0.1 65h0m0.1-78.8h0m0 0.3h0m0 19.4h0m0.1-25.1h0m0 8.1h0m0-7.9h0m0.3 30.3h0m0-13.1h0m0-6.4h0m0.1 0.5h0m0 4.5h0m0.1 5.3h0m0.2 129.1h0m0-134.7h0m0-13.9h0m0 12.3h0m0.1-17.7h0m0 77.1h0m0-57.8h0m0.2-9.9h0m0 12.5h0m0.1-1.9h0m0-0.7h0m0 9.1h0m0.1-22h0m0.2 12.7h0m0.1-12.1h0m0.1 24.6h0m0.1-25.1h0m0.1 21.3h0m0 89.3h0m0.1-109.7h0m0 4.1h0m0.1-1.7h0m0 65.2h0m0-46.4h0m0.1-22.4h0m0-2.2h0m0 152.1h0m0-162.4h0m0 28.7h0m0.1-18.8h0m0.1 9.4h0m0 2.3h0m0.1 9.7h0m0 18.6h0m0-10.8h0m0.1-34.1h0m0.5 137.5h0m0-134.1h0m0.1-7.6h0m0 9.2h0m0 78.3h0m0.1-66.9h0m0 31.6h0m0-26.8h0m0-2.8h0m0.1-23h0m0 19.2h0m0.2 0.4h0m0-5.8h0m0.2-7.2h0m0.2 11.4h0m0 42h0m0.1-45.6h0m0.1 33.1h0m0.1-27.8h0m0-11h0m0-1.8h0m0.2 4.3h0m0.1 16.5h0m0-7.4h0m0.1-1.8h0m0 5.6h0m0.1 67.5h0m0.1-69.5h0m0-12.7h0m0 5.6h0m0.1 8.6h0m0 2.7h0m0.1-17.4h0m0 112.5h0m0.1-86.3h0m0.1-21.2h0m0.1-11.7h0m0.1 29.3h0m0-13.3h0m0 12.1h0m0.1-20.3h0m0.2 69.6h0m0.1 11.6h0m0-71.9h0m0.1 26.5h0m0.2-18.1h0m0-23.7h0m0.1 22.4h0m0-22h0m0.2 7.8h0m0.1-10.4h0m0.1 28.8h0m0.1-8.1h0m0.1 3.8h0m0-2.4h0m0.1 3.5h0m0.1 97h0m0.2-119.2h0m0 5.9h0m0.1 7.6h0m0.1-7.7h0m0.1 22.4h0m0-15.4h0m0 81.4h0m0.1-79.5h0m0-1.9h0m0-2.5h0m0.1-1.9h0m0.1-0.9h0m0.1 14.1h0m0 4.3h0m0-10.5h0m0 2.4h0m0.1-9.9h0m0.1 23.8h0m0.1-18.2h0m0-9.8h0m0.1 23.2h0m0.1-7.5h0m0-3.6h0m0.1 5.8h0m0.1-27.5h0m0 25.5h0m0.1-26.7h0m0.1 8.5h0m0 2.4h0m0 7.5h0m0-9.5h0m0.2 3.5h0m0.1 11.9h0m0-7.9h0m0 0.2h0m0.2 8.5h0m0 13.6h0m0-16.8h0m0 8h0m0.1-15.6h0m0 15.4h0m0.2-16h0m0 0.8h0m0.1 12.5h0m0-5.3h0m0.1-10.2h0m0 12.3h0m0.1-7.2h0m0.1-3.4h0m0 13.9h0m0 3.1h0m0.1-15.4h0m0.1 55.6h0m0.1-63.5h0m0.1 16.9h0m0.2 0h0m0.1 1.2h0m0.2-26.1h0m0 66h0m0.2 42.3h0m0-46.5h0m0.2-44.6h0m0 5.1h0m0.1 6.3h0m0 7.4h0m0.1 66.3h0m0-90.3h0m0.1 17.4h0m0-11.2h0m0-1.1h0m0.1 81.7h0m0-69.5h0m0.1-17.7h0m0.1 85.6h0m0.1-80.4h0m0-2.5h0m0.1 22.9h0m0.1-23.6h0m0-2.5h0m0 16.5h0m0-24h0m0.3 22.2h0m0.2 10.3h0m0-12h0m0.1-5.9h0m0.1-4.2h0m0.1 10.7h0m0-15.9h0m0 16.3h0m0-3.1h0m0 8.3h0m0.1-14.1h0m0 18.6h0m0.2-17h0m0 13.8h0m0-13.8h0m0.1-4.9h0m0.1-3.2h0m0 62.3h0m0.1-52.7h0m0-11.2h0m0.1-4.7h0m0 16.5h0m0.1 5.2h0m0-22.6h0m0 139.1h0m0-111.8h0m0.1-9.8h0m0 3.4h0m0.1 70.7h0m0.2-80.3h0m0.1 0.3h0m0 7.5h0m0-8.5h0m0.1 3.6h0m0-0.1h0m0.2-9.6h0m0 1.4h0m0 23.1h0m0.1-4.3h0m0-13.9h0m0 12.4h0m0-22.9h0m0 15.8h0m0.1 0.2h0m0-1.3h0m0.1 9.5h0m0 2.7h0m0 78.1h0m0-88.3h0m0.1-3.1h0m0.1-3.6h0m0 23.2h0m0-0.5h0m0-4.7h0m0.1-4.5h0m0 10h0m0.1-22.3h0m0.2 11.4h0m0-2.2h0m0.1 7.4h0m0-5h0m0 4.6h0m0.3-8.4h0m0-3.9h0m0.1-5.3h0m0 10.4h0m0.1-6.7h0m0.2 5.2h0m0 7.4h0m0-7.6h0m0.1-14.3h0m0.1 30.7h0m0-8.3h0m0.1 62.8h0m0-65.1h0m0-4.2h0m0.1-10.7h0m0.2 5.8h0m0 11.1h0m0.1 15h0m0-20.3h0m0.1 13.1h0m0-12.9h0m0 10.7h0m0.1-1.9h0m0.1-12.5h0m0 10.3h0m0.1-11.1h0m0-5.7h0m0.1 14.7h0m0-21.1h0m0 18.6h0m0.1-8.4h0m0 27.8h0m0-26.6h0m0.1-9.9h0m0 12.7h0m0 1.4h0m0 9.9h0m0-24.5h0m0 26h0m0.1-4.6h0m0 86.6h0m0-95.2h0m0.3 6h0m0.2 45.5h0m0-50.2h0m0.1-10.1h0m0 12.4h0m0.1 12.5h0m0.1-4.6h0m0.1-28h0m0.1 14.9h0m0.2-12.7h0m0 2.4h0m0 20h0m0.2-18.6h0m0 2.6h0m0.2 1h0m0.1 15h0m0-1.2h0m0.2-5.2h0m0-18.4h0m0 28.2h0m0-21.1h0m0 16.8h0m0.1-6.4h0m0 99h0m0-103.3h0m0.2 9.3h0m0-27h0m0 30.1h0m0.1-25.7h0m0 7.4h0m0.1 54.2h0m0.2-40.7h0m0.1-10.2h0m0.1 21.9h0m0.1-11.1h0m0-15.3h0m0 14.4h0m0.1-7.3h0m0.2 10.3h0m0.2-9.7h0m0.2 8.4h0m0 6h0m0-4.3h0m0.1-17.4h0m0.1 21.3h0m0.2 1.4h0m0-27.9h0m0 37.2h0m0-15.3h0m0-1.1h0m0.2-14.1h0m0.1 16.4h0m0.1-7.3h0m0.1 44.6h0m0-43.7h0m0.1-2.9h0m0 5.1h0m0.2-11h0m0.1 9.3h0m0 112.2h0m0.1-115h0m0-5h0m0-3.6h0m0.1 22.5h0m0-22.6h0m0.2 68.8h0m0.1-59.9h0m0-6h0m0.1 12.4h0m0 3.8h0m0.1 82.1h0m0-87.6h0m0.3-3.3h0m0-11.4h0m0 7.3h0m0 0.4h0m0.3 56.7h0m0-62h0m0 20h0m0.1 32.1h0m0-53h0m0.2 13.3h0m0.1 24.6h0m0-25.4h0m0.1-15.6h0m0 0.2h0m0.1 15.5h0m0-2.8h0m0.1 52.7h0m0-58.2h0m0.1-7.7h0m0 89.9h0m0.1-91.6h0m0 6.9h0m0.1 139.1h0m0-143.3h0m0.1 17.2h0m0-2.2h0m0.2 9.3h0m0.1-26.1h0m0.1-6.9h0m0 17.2h0m0.1 11.7h0m0-8.4h0m0.1-9.6h0m0.1 19.3h0m0-15.8h0m0-0.4h0m0.1 25.4h0m0-14.9h0m0.7 110.9h0m0-122.3h0m0.2 5.5h0m0.1 22.3h0m0-15.1h0m0 10.5h0m0-3.6h0m0.1-23.8h0m0.1 34.8h0m0.1-35.2h0m0.1 26.4h0m0.1-7.6h0m0 42.1h0m0.2-53.4h0m0.1 21h0m0.2-8.1h0m0.1-15.7h0m0 0h0m0.1-3.6h0m0 16h0m0.1-1.5h0m0 0.4h0m0.2-14.8h0m0.1 16h0m0.1-7.2h0m0 11.6h0m0.3 1.2h0m0 5h0m0-13.9h0m0 10h0m0.1-17.5h0m0 80.5h0m0-71h0m0.1-10.8h0m0.1 22.7h0m0-2.5h0m0-20.5h0m0 7.5h0m0.1-18.3h0m0 16.3h0m0.1 21.7h0m0.1-11.8h0m0-18.3h0m0.1 8.3h0m0-18.6h0m0.1 28.9h0m0-19.3h0m0.1 3.8h0m0.1 1.6h0m0 27.2h0m0.2-29.4h0m0-7.9h0m0.3 7.7h0m0.1 11.8h0m0-4h0m0 13.6h0m0-16h0m0.1 23.2h0m0-29.9h0m0-11.9h0m0.1 40.5h0m0-21.3h0m0 3h0m0-9.6h0m0.2 2.1h0m0 15.6h0m0-4.4h0m0.1-11.2h0m0 4.9h0m0-16.9h0m0 14.3h0m0.3-2.2h0m0.1 63.4h0m0-40.8h0m0.1-25.2h0m0 50.7h0m0.1-51.3h0m0 18.8h0m0-18.8h0m0.2 26.5h0m0.2-26.9h0m0.1 10.5h0m0.5-14h0m0 23.1h0m0.1 0.6h0m0 2.9h0m0.1 3.7h0m0.3-14.6h0m0.1 19.8h0m0.1 71.3h0m0-95.3h0m0.3-7.4h0m0 9h0m0.1-1.7h0m0 0.8h0m0 1.7h0m0-8.6h0m0 9.1h0m0.1-8.1h0m0.2-11.9h0m0 25.7h0m0.1-10.7h0m0.1-3.2h0m0-2.5h0m0.1 1.2h0m0 3.4h0m0 5.1h0m0.3 4.6h0m0.1-2h0m0-4.2h0m0-13.6h0m0.1 12.3h0m0.1-11.5h0m0 12.2h0m0 2.4h0m0.1-1.1h0m0 45.8h0m0.1-50.5h0m0.3-3h0m0.2 0.7h0m0 7.6h0m0.1 2.3h0m0.2-4.7h0m0.1-0.2h0m0 10.8h0m0-0.8h0m0.3 7h0m0.3-16.4h0m0.3 9h0m0.2 7h0m0-12.1h0m0.2 62.1h0m0.1-59.9h0m0.1 3.3h0m0.1 4.2h0m0.1-4h0m0.1-4.1h0m0.1-0.2h0m0-23h0m0 7.7h0m0.1 14.3h0m0 100.1h0m0.2-119h0m0 16.2h0m0.2-4.5h0m0 15.1h0m0.1 1.8h0m0.1 7.7h0m0.1-21.3h0m0.1 1.4h0m0.3-2.1h0m0.3 1.2h0m0-3.8h0m0.1 9.5h0m0 15.4h0m0 35.5h0m0.1-51.7h0m0-1.7h0m0-9.7h0m0.1 8.1h0m0 2.8h0m0.1 40.5h0m0.2-38.1h0m0.1 7.6h0m0-22.7h0m0 50.7h0m0-38.3h0m0.1-8.7h0m0.1 4.6h0m0.2 0.2h0m0.1 23.2h0m0.2-20.6h0m0-6.5h0m0.1 94.5h0m0.1-86.5h0m0.4 5.4h0m0.2-5.8h0m0.1-16.3h0m0 21.5h0m0-16.2h0m0.5 8.4h0m0-0.8h0m0.4 8.2h0m0.1-15.7h0m0 6.6h0m0.1 5.4h0m0-16.5h0m0.1 4.8h0m0-14.5h0m0.1 15.2h0m0.2 22.7h0m0.1 85.3h0m0.1-106.5h0m0 24.1h0m0.1-19.4h0m0 1.4h0m0.1 10.1h0m0-25.1h0m0 63.3h0m0.2 20.7h0m0.1-65.9h0m0-11.7h0m0.1 3.2h0m0.2-2.1h0m0.1-4.8h0m0 11.8h0m0.1 6.8h0m0-9.7h0m0.1-1.4h0m0.1 9.5h0m0-9.8h0m0 3.8h0m0.1 12.4h0m0 57.6h0m0.3-79h0m0.1 12.5h0m0.8 3.5h0m0.4 3.2h0m0.1-5.7h0m0 10.4h0m0.1-18.4h0m0.2 37.4h0m0.1-39h0m0.1-1.6h0m0.2-7.1h0m0 12h0m0.2 1.2h0m0-3.5h0m0.2 15.9h0m0-4.9h0m0-8.1h0m0.1 80.1h0m0.3-68.6h0m0.1 72.2h0m0.3-85.4h0m0.1 0.8h0m0.1-1.4h0m0 1.9h0m0 0.9h0m0.2-14.1h0m0.4 24.4h0m0.1-11.6h0m0.3 3.2h0m0.1-11.1h0m0.1 2.4h0m0.5 23.7h0m0.1-18.3h0m0.5-4.5h0m0.3 6.7h0m0-2.5h0m0.1-1.1h0m0.1 9.2h0m0.4-0.5h0m0.2-4.5h0m0.1-13.9h0m0.2 13.6h0m0.2 17.9h0m0.1-11.9h0m0-13.5h0m0 8.5h0m0.1 14.9h0m0-19.2h0m0.1-6.8h0m0 5.4h0m0.2 11.8h0m0.2-6.2h0m0.1-4.1h0m0.1 0.7h0m0.4-7.3h0m0.2 4.8h0m0.5 1.7h0m0.1-2.5h0m0.6-4.1h0m0.1 19.1h0m0.1-16.5h0m0.5 48.5h0m0.1-47.5h0m0.2 14.8h0m0.3 6.6h0m0.3-4.8h0m0.3 27h0m0.3-36.9h0m0 1.3h0m0-7.9h0m0.7 41.7h0m0-43.3h0m0.5 10.8h0m0.6-12.8h0m0-4.2h0m0.8 6.5h0m0.6 13.3h0m0.2-28.5h0m0.1 18.4h0m0.3 28.3h0m0.1-29h0m0.1-3h0m0.4 0.3h0m0.2-4h0m0.1 15h0m0.2-15.2h0m0 19h0m0-7.5h0m0.4 5.4h0m0.2-13.7h0m1.2-0.5h0m0.3 17.9h0m0.6-20h0m0.3 12.7h0m0.7 74.2h0m0.3-86.5h0m0.2 18.7h0m0.2-13h0m0.1-2h0m2.7 12.4h0m0.8-0.7h0m1.2-18.8h0m0.3-2.8h0m0.1 12.2h0m0 8.5h0m0.1-7.8h0m1 2.9h0m0.1 3h0m0.1-12.9h0m1.2 7.3h0m0 9.4h0m0.6-10.7h0m0.3 63.4h0m1.2 56h0m0.8-112.2h0m2 20.4h0m0.2 65.4h0m0.4-105h0m1.1 7.5h0m3.5 1.9h0m0.1-5h0m1.9 14.3h0m0.9 67.4h0m6-69.2h0m6 2.6h0m6.9-13h0m34.9 137h0"/>
<path d="M1178.8 147.3h0m6.4 49.6h0m0.6-1.5h0m3.5 2.6h0m1.9-23.6h0m1.2 19.7h0m1.5-15.6h0m0.4 24.2h0m0.1 12.7h0m0.3-49.9h0m0.8 0.4h0m0.1-5.6h0m0.5-42.8h0m0.2 85.6h0m0.2 11.4h0m0.2-95.1h0m0.3 99.9h0m0.6-37.5h0m0.2 36.2h0m0.6 10h0m0.6-48.7h0m0.1-0.5h0m0.4 13h0m0.2-4.2h0m0.4-20.8h0m0.1-45.6h0m0.2 80.2h0m0.4-5.1h0m0.9-9.6h0m0.3-41.6h0m0.2-2.8h0m0.2-48.1h0m0.3 75.9h0m0.2-57.9h0m0.2 24.7h0m0.2 67.9h0m1 14.5h0m0-10.6h0m0.2-2.2h0m0.6-11.8h0m0.9-17.2h0m0.3-22.4h0m0.2 59.2h0m0.1-51.7h0m0.5 3.3h0m0.6 62.7h0m0.1-48.9h0m0.3-0.8h0m0.3 17.9h0m0.6-13.6h0m0.1 20.7h0m2-23.9h0m0 24h0m0.4-35.6h0m0.7-51.6h0m0 86.2h0m0.1-14.1h0m0.2 36.9h0m0.2-72.2h0m0.2 14.7h0m0.4-41.6h0m0.3 80h0m0.1-45.6h0m0.2 20.9h0m0.2-57.9h0m0 30.1h0m0 31.4h0m0.3-25.8h0m0.2 30.6h0m0.3 10.7h0m0.1 3.9h0m0-52.3h0m0.2-15.1h0m0.6-6.5h0m0 10.5h0m0.1 44.3h0m0.1 8.5h0m0.4 34.5h0m0-64.1h0m0.6 6.1h0m0.1 23h0m0.4-48.5h0m0.4 29.8h0m0.1 3.4h0m0 11.8h0m0-109.1h0m0.4 149.3h0m0-91.5h0m0.3 80.8h0m0.1-18.4h0m0.5-53.4h0m0.2 82.4h0m0-37.6h0m0.3-48.6h0m0.1 51.4h0m0.1 0.3h0m0-1.2h0m0.1-43.8h0m0.5 49.2h0m0.1-27.8h0m0.1-3.7h0m0.2 15h0m0-1.7h0m0.2 10.4h0m0.5-101.6h0m1.3 94.7h0m0.2 13.4h0m0.1-66h0m0.1 47.1h0m0.2-8.1h0m0 28.1h0m0.7-105.3h0m0 89.2h0m0-92.9h0m0.3 29.1h0m0 63.9h0m0 24.3h0m0.2 36.6h0m0.1-40h0m0-67.4h0m0.2 78.5h0m0.1-14.5h0m0.2-33.8h0m0.4 4.1h0m0.1 13.9h0m0.2-31.1h0m0.2 44.8h0m0.4 21h0m0.2-112.2h0m0.1 75.2h0m0.1-36.1h0m0.2 42.4h0m0.2-34.7h0m0 46h0m0.2-121.9h0m0.2 119.1h0m0.1-112.1h0m0 103.1h0m0.1-16.6h0m0.3-13.5h0m0.1 73.6h0m0-30.7h0m0 27.5h0m0-11.7h0m0.1-45.9h0m0.1-83.6h0m0 81.6h0m0.2-65.4h0m0.4 47.4h0m0 0.4h0m0.1 27.7h0m0 25h0m0.1-24.6h0m0.1-16.9h0m0.1 2.1h0m0.3-52.7h0m0.3 57.1h0m0 11.3h0m0.1-21.1h0m0.2 38.7h0m0.2-27.1h0m0.1-0.3h0m0.4 9.2h0m0.1 26.2h0m0.4-5.5h0m0.1 36.6h0m0.2-54.5h0m0.1 4.9h0m0-13.8h0m0.1-105.8h0m0.2 115.5h0m0 3.4h0m0.3-38.4h0m0.5 53.2h0m0-13.6h0m0.1 11.8h0m0-25.1h0m0.2-13h0m0-9.7h0m0.2-58.2h0m0.2 33.8h0m0.1 43.8h0m0-15h0m0.1-17.3h0m0.1 70h0m0.3-68.2h0m0 48.5h0m0.2-25.7h0m0 18.6h0m0.3-78.4h0m0.1 29.8h0m0.1 45.7h0m0 8.4h0m0.3-84.3h0m0 76.6h0m0.1-19.1h0m0-12.4h0m0.3 27.3h0m0.6-57h0m0.1-42.7h0m0.1 52.4h0m0.4 46.9h0m0-86.2h0m0.3 67h0m0.2-71.5h0m0.4 12.5h0m0.2 63.4h0m0 5.8h0m0.1 43.3h0m0.2-131.9h0m0.1 87.4h0m0.2 43h0m0-65.6h0m0.1 54.1h0m0.1-44.9h0m1.1 28.4h0m0 14.1h0m0-91.1h0m0.2 55h0m0.3-12h0m0.2 18.8h0m0.2-16.3h0m0.1 37.3h0m0.3-2.3h0m0.1-13.4h0m0.2-36.2h0m0-14h0m0-46.7h0m0.3 86h0m0.2-42.4h0m0 108.3h0m0-98.1h0m0-1.8h0m0 31.7h0m0.3 68.4h0m0.1-48.8h0m0.1-25.5h0m0-37.7h0m0.1 123.8h0m0.1-79.1h0m0.2-44.2h0m0 67.4h0m0.1 60.4h0m0.4-118.3h0m0 76.6h0m0.1-79.7h0m0.2 41.3h0m0.1 26.2h0m0.1-41.2h0m0 28.3h0m0.2-17.7h0m0.3-21.6h0m0.3 62.5h0m0.1-47.4h0m0 45.4h0m0.2-2.8h0m0-42.5h0m0 25.1h0m0.1-55.1h0m0.1 71h0m0 15.5h0m0.2-75.9h0m0.3 20.4h0m0.1 53.4h0m0.1-41.6h0m0.1-18.1h0m0.1-42.3h0m0.2 119.5h0m0.2-109h0m0.6 59.4h0m0-29.5h0m0.2 50.8h0m0.1-72.4h0m0.3 68.3h0m0.2-41.8h0m0.1-16.1h0m0.1 55.7h0m0.2-33h0m0.1-34.4h0m0 109.8h0m0.1-34.4h0m0.2-107.6h0m0.1 61.1h0m0.1-75.3h0m0 7.4h0m0.1 57.6h0m0.2 38.5h0m0.4-7.2h0m0 24.1h0m0-77.6h0m0.2 4.5h0m0.2-31.3h0m0.1 68.7h0m0.5 35.8h0m0.1 33.6h0m0.2-48.4h0m0.2-15.1h0m0 4.2h0m0.5-36.3h0m0.1 28.2h0m0.3 46.2h0m0.3-16.6h0m0.4-78.2h0m0.1 84.7h0m0.2-32.3h0m0.2-64.3h0m0-7.6h0m0.2 123.4h0m0.1-113.4h0m0.5 76.4h0m0.2-16.6h0m0.1-30.4h0m0.1 87.7h0m0-56.4h0m1-27.2h0m0.1 34.2h0m0.2-63.8h0m0.4 18.9h0m0 41.4h0m0.1 38.2h0m0-70.1h0m0.4 47.9h0m0.1 25.8h0m0-87.3h0m0-18.6h0m0.1 92.1h0m0-77.6h0m0.2 52.3h0m0.1-86.8h0m0 120.8h0m0.6-16.1h0m0.1-0.4h0m0-41.7h0m0.3-2.2h0m0.1 5.9h0m0.4 20.6h0m0.1-23.4h0m0.2 28.6h0m0.2 13.7h0m0-97h0m0.2-3.1h0m0.2 103.1h0m0.1 6.6h0m0-84.4h0m0.1-19.4h0m0-2.3h0m0.1 64.3h0m0-53.1h0m0 94.7h0m0.1-53h0m0.2-40.8h0m0 81.1h0m0.1-96h0m0.1 69.6h0m0.1-9.6h0m0.3 29.3h0m0 0.2h0m0.4-45.1h0m0-38.1h0m0 31.8h0m0-32.1h0m0.1-11.5h0m0.1 59.8h0m0.3 4.3h0m0-30.8h0m0.2-18h0m0.1 8.9h0m0.1 53.1h0m0.1-23.7h0m0 16.4h0m0-12.8h0m0.2 57h0m0.1-117.7h0m0.1 4.7h0m0.1 5.3h0m0.3 93.6h0m0.1-29.4h0m0.1 68.5h0m0.4-31.6h0m0.1-94.4h0m0.1-6.3h0m0.2 108.7h0m0.1-125h0m0.2 48h0m0.1 1h0m0.5 37.1h0m0.2 11.3h0m0 8.8h0m0-2.3h0m0.1-91.8h0m0.1 24.2h0m0.1 2.3h0m0 66.3h0m0.1-43.5h0m0.3-28.4h0m0.1 9h0m0-46.8h0m0 105.1h0m0.1 23.3h0m0.2-47.8h0m0 4.7h0m0 51.3h0m0.1-41.8h0m0.1-82.1h0m0.2 91.4h0m0.1-47.7h0m0.1-26.3h0m0.1-18.9h0m0 0.8h0m0.1 22.9h0m0.1 58.7h0m0.1-20.5h0m0.5 24.8h0m0.1-10.3h0m0.2 26.3h0m0-89.5h0m0 28.9h0m0.1-55.7h0m0.1 80.4h0m0 15.4h0m0 37.6h0m0.1-19.7h0m0-71.9h0m0.1 42.7h0m0.1 9.4h0m0.1-38.4h0m0.1-42.3h0m0.2 107.1h0m0-45.8h0m0.2 129.8h0m0.2-150.1h0m0.1 38.4h0m0.4-7.6h0m0-74.9h0m0 99.7h0m0.1-18.2h0m0.2-42.5h0m0-19.8h0m0.1-8.1h0m0.2 45.5h0m0.1 43.4h0m0.1-0.3h0m0-43.5h0m0 2.8h0m0.3-23.9h0m0.1 111.6h0m0.1-34.3h0m0.6-86.3h0m0.1 42.4h0m0.4 50.9h0m0.1-39h0m0-13.9h0m0.1-74.9h0m0.4 20.3h0m0.1 17.3h0m0-17.1h0m0.3-2.8h0m0.1 1.3h0m0.2 114.7h0m0-21.1h0m0.2-10.9h0m0-51.8h0m0 76.1h0m0.1-31.9h0m0.2-7.9h0m0.4-20.8h0m0.1 56.8h0m0.1 21h0m0-118.7h0m0.2 16h0m0-26.9h0m0.3 78.6h0m0-29.7h0m0.1 13.6h0m0.2 35.5h0m0 3.6h0m0.2-57.6h0m0-32.2h0m0.1 92.2h0m0.1-86.4h0m0.2 160.3h0m0.1-130.6h0m0 41.2h0m0.3-64.8h0m0.2 105.7h0m0 50.4h0m0.3-173.9h0m0 80.9h0m0.1-75.7h0m0 44.8h0m0.2 87.6h0m0.1-113.4h0m0 21.5h0m0.3 60.7h0m0-72.8h0m0 34.3h0m0.9-86.8h0m0 153.2h0m0.2-49.3h0m0 17.8h0m0.1-89.3h0m0.4 0.7h0m0 65.8h0m0.1 11h0m0.3-78.9h0m0 79h0m0.1-89.9h0m0.3 95.7h0m0.1-85.4h0m0 10.3h0m0.1 46.7h0m0-30.3h0m0.1-34.4h0m0.4 19.4h0m0.2 77h0m0.1-111.4h0m0.2 132.2h0m0.3-118.2h0m0-2.1h0m0.1 71.9h0m0.1 7.8h0m0.1-79.4h0m0.1 130h0m0-70.8h0m0.5 48.8h0m0-57h0m0.1-45.7h0m0 20.6h0m0.1 54.9h0m0.1-93.5h0m0.1 93h0m0.1-38.7h0m0.1 50.2h0m0.1-89.9h0m0.1 2.7h0m0 97.7h0m0-60.4h0m0 25.7h0m0.1-59.5h0m0.2 77.3h0m0.2-6.9h0m0.2-74.8h0m0.3 51.3h0m0-3.1h0m0.2-17.7h0m0.3 40.2h0m0.4 6.2h0m0-29.6h0m0.2 26.6h0m0.1-75.6h0m0 0.5h0m0-21.2h0m0 175.6h0m0.1-142.6h0m0.1 3.6h0m0.5 51.4h0m0.2-71.9h0m0 118.3h0m0.3-109.4h0m0.1 17.7h0m0-12.4h0m0.1 3.7h0m0-22h0m0.6 102.1h0m0.1-89.5h0m0-0.5h0m0.1 1.5h0m0.1-14.8h0m0 83.4h0m0.1-81.2h0m0.2 112.5h0m0.1-43.6h0m0.1 1.5h0m0.1-26.1h0m0-31.3h0m0.2-7h0m0.1 115.5h0m0-134.1h0m0.1 6.6h0m0.2 13.5h0m0.1-10.9h0m0-0.4h0m0.1-6.8h0m0.2 79.2h0m0.4-49.5h0m0.1 102.4h0m0-113.4h0m0.1 28.2h0m0-2.8h0m0 22.5h0m0-3.8h0m0.3 66.3h0m0-55.1h0m0.1-43.5h0m0 45.3h0m0-2.1h0m0.1-56h0m0.2 7.2h0m0 2.4h0m0.1 24.5h0m0.1 36.3h0m0.1 15.1h0m0.2 16.9h0m0-59.2h0m0.1 80h0m0.1-126.4h0m0-2h0m0 46.2h0m0.2 58.9h0m0.2-101.4h0m0.1 8.1h0m0 124.5h0m0.1-133.7h0m0 52.4h0m0.1 70.6h0m0.1-2.8h0m0-18.5h0m0.6-99.1h0m0 45.9h0m0.1-47.9h0m0.3-2.3h0m0.2 39.7h0m0.2-21.4h0m0-12.5h0m0.1 126.9h0m0.2-131.3h0m0.1 20.5h0m0.1 49.8h0m0.1 47h0m0.2-103.8h0m0.1 64.1h0m0.1-52.8h0m0.1-30.3h0m0 7.6h0m0.1-11.8h0m0 29.8h0m0.3-35.6h0m0 142.5h0m0.2-104.8h0m0 19.1h0m0.1 71.4h0m0.2-42.4h0m0-57.4h0m0.1 15.5h0m0.1-32.7h0m0.1 15.1h0m0.1-4.8h0m0.1 3.9h0m0.1-15.7h0m0.1 7.7h0m0.1-3.4h0m0.4 40.5h0m0.1-46.5h0m0.1 60.8h0m0-49.6h0m0.2 58.6h0m0.4 33.6h0m0.5-108.5h0m0 102.4h0m0-32.8h0m0.2-41.7h0m0 40.9h0m0.1 47.6h0m0.5-91.6h0m0.2-29.8h0m0 21.6h0m0.1-11.7h0m0.2 63.3h0m0-40.9h0m0.2 90.9h0m0 7.4h0m0.1-122h0m0.1 100h0m0.1-87.8h0m0 62h0m0.1-2.2h0m0-7.7h0m0.1-49.9h0m0.1 45.1h0m0-54.4h0m0.2-12.6h0m0.1 15.6h0m0.1 122.9h0m0.1-98.8h0m0-21.6h0m0.4 1.1h0m0 102.6h0m0.1-125.4h0m0.1 22.9h0m0.1 17h0m0-5h0m0.1 68.1h0m0.3-18.4h0m0.1-59.9h0m0.1-10.6h0m0-6.5h0m0.1 94.7h0m0.1-89.3h0m0.1 42.6h0m0 42.9h0m0.2-84.3h0m0-8.5h0m0 19.6h0m0.1 91.5h0m0.1-65.2h0m0.1-35.4h0m0.1 104h0m0.3-95.5h0m0-1.9h0m0.1 38.8h0m0.1-2.4h0m0.1-44.4h0m0 21.6h0m0.2-16.6h0m0 2h0m0-3.9h0m0.2 12.7h0m0 54.6h0m0.1-12.4h0m0.1 49.9h0m0.3-76.3h0m0 46.3h0m0-93.4h0m0.1 23.9h0m0.1 5.6h0m0.1 32.7h0m0 35.6h0m0.2-84.7h0m0.2 52.6h0m0.5-50.2h0m0 50.2h0m0-44.7h0m0.1 55.8h0m0-45.6h0m0 57.8h0m0.2-67.6h0m0.1-10.6h0m0 19.7h0m0.1 61.9h0m0.1-39.2h0m0-30.4h0m0.4-3.2h0m0.1 64h0m0.2-66.9h0m0.1 44.9h0m0-39.2h0m0.1-17.6h0m0.1 17.2h0m0 11h0m0.1 26.6h0m0.4-35.7h0m0.2-5.5h0m0-13.6h0m0 105h0m0.1-93.6h0m0.2 88h0m0-66.9h0m0.2-15.2h0m0 2h0m0.1 2.9h0m0.1 5.3h0m0.2 94h0m0-93.2h0m0.1-21.3h0m0.1 4.3h0m0.1 15.5h0m0 22.7h0m0.1-33.7h0m0 13.7h0m0.4-26.5h0m0.1 24.4h0m0.1 66.3h0m0.2-85.3h0m0.1-3.3h0m0 70.5h0m0-68h0m0 17.4h0m0.3-20.3h0m0.1 53.6h0m0 45h0m0 77.4h0m0.1-174.9h0m0 51h0m0-44.5h0m0.2 121.6h0m0.1-126.1h0m0 67.6h0m0-3.6h0m0-64.3h0m0.1 27.5h0m0-23.7h0m0.2-3.1h0m0.1 6.3h0m0.1 111.9h0m0.1-90.4h0m0.1 24.9h0m0.1-54.1h0m0.1 26.4h0m0 31.2h0m0-52.2h0m0.2 11.4h0m0.1-4.9h0m0-4.5h0m0.1 27.9h0m0.3 20.8h0m0-41.2h0m0-11.9h0m0.1 0.4h0m0.1-4.8h0m0.1-2.5h0m0.1 0.8h0m0.2 32.1h0m0.1-29.4h0m0.1 13.4h0m0 52.6h0m0.1 40.4h0m0.4-108.2h0m0.1 33.1h0m0 100h0m0.1-122.2h0m0 59.1h0m0.1 8.4h0m0.1-44.1h0m0.2-1.6h0m0.1-19h0m0.2-20.7h0m0 9h0m0 14.1h0m0.1-18.5h0m0 24.3h0m0-21.5h0m0.1-6.7h0m0.3 15.4h0m0.1-9.9h0m0 12.9h0m0.2 5.6h0m0.2 0h0m0-2.7h0m0.1 0.9h0m0-19.1h0m0 7h0m0.3-5.9h0m0 64.9h0m0-68h0m0.1 15.3h0m0.1 8.8h0m0.1 92.5h0m0.1-100.3h0m0-12.8h0m0.1 72.8h0m0.2-59.5h0m0 1.7h0m0.1 74.8h0m0.3-78.8h0m0.1 144.9h0m0-162.8h0m0.1 93.5h0m0-6.9h0m0.2-67.1h0m0.2 2h0m0 12h0m0.2-27.9h0m0 5.5h0m0.3 41.2h0m0-30.5h0m0.1 100.5h0m0-37.2h0m0-2.5h0m0.2-47.6h0m0-3.1h0m0-25h0m0.1 20h0m0 78.6h0m0.2-9.2h0m0-83.7h0m0.1-9h0m0 40.6h0m0-27.5h0m0.2-4h0m0 8.4h0m0 9.9h0m0-9.9h0m0.1-3.8h0m0-2.9h0m0.2-1.7h0m0.1-16.3h0m0.1 29.1h0m0 8.4h0m0.3-22.3h0m0 64.4h0m0.1-68.4h0m0-7.3h0m0.1 32.7h0m0.2 23.2h0m0.1 18.2h0m0.1-64.7h0m0-3.6h0m0.1 2.2h0m0.2 3.7h0m0 11.7h0m0.1 43.8h0m0-53.4h0m0.1-6.6h0m0.2 46.5h0m0 57.8h0m0-87.3h0m0-2.9h0m0-12.9h0m0.1-5.9h0m0 16.3h0m0-14.3h0m0 53.7h0m0-31.7h0m0-16.9h0m0 25.3h0m0.2 34.1h0m0.2-47.8h0m0.4 5.6h0m0.1-5.3h0m0-14.3h0m0.3 68.9h0m0.2-21.9h0m0.1-53.5h0m0 67.8h0m0.1-54.8h0m0.2 9.7h0m0 11.7h0m0.1-26.5h0m0.2 9.3h0m0-2.1h0m0-8.5h0m0.1 15.4h0m0.1 15.3h0m0-19h0m0.1 54.5h0m0.2-56.6h0m0 12.7h0m0-8.6h0m0.1 12.7h0m0 14.5h0m0-32.9h0m0 9h0m0-7.9h0m0.1 55.6h0m0.1-32.8h0m0.1 1.6h0m0-22.5h0m0.1 3.3h0m0.1-8.3h0m0 25.4h0m0.2-13.6h0m0-7h0m0-7.2h0m0.1-1.1h0m0 13.3h0m0.3-11.2h0m0 18.1h0m0 2.2h0m0-21.7h0m0.2 44.5h0m0.3-44.6h0m0-5.8h0m0 8h0m0.2-0.4h0m0.1 81.5h0m0-72.6h0m0-5h0m0.1-10.7h0m0-3.5h0m0 0.8h0m0 29.5h0m0.1-29.1h0m0.1 7h0m0.3 46.4h0m0-33.4h0m0.1-6.5h0m0 18.4h0m0.1-5.4h0m0-8.6h0m0.1-1.1h0m0-4.5h0m0 1.2h0m0.2-10.6h0m0 13.3h0m0.2-17.3h0m0.1 70.7h0m0-74.5h0m0.1 74.9h0m0.1-18.8h0m0-51.9h0m0.1-1.3h0m0 16.7h0m0 3.7h0m0 4.8h0m0 3h0m0.1 11.8h0m0-38.5h0m0.1 18.4h0m0.2-0.1h0m0 6.5h0m0.1-11.4h0m0 2.5h0m0.1 98.6h0m0-88.1h0m0-15.4h0m0.1 0.7h0m0.1 8.7h0m0 15.3h0m0.1-26.9h0m0.1 2.7h0m0.1 6.7h0m0-10.7h0m0.1 38.9h0m0.1-42.1h0m0.1 4.2h0m0.1 111.8h0m0.1-114.3h0m0.1 2.1h0m0 7.7h0m0-4.1h0m0.1-16.8h0m0 21.6h0m0-5.5h0m0.2-4.5h0m0.1 26.2h0m0.1-24.1h0m0.1-10h0m0 18.5h0m0 3h0m0-14h0m0-15.2h0m0.1 32.9h0m0.1-27.6h0m0.1 19h0m0 36.6h0m0-39.2h0m0.1 12.1h0m0-3.9h0m0-2.7h0m0.1-12.5h0m0 14.3h0m0.1-10.3h0m0.1 4.9h0m0.1 5.3h0m0.1-19.5h0m0.1 22.2h0m0.1-21.1h0m0.1 39.5h0m0.1 30.2h0m0-55h0m0.1 10.3h0m0-16.3h0m0.1 10.6h0m0.1-8.3h0m0 10.6h0m0-8.7h0m0.2-9.6h0m0.2 10.9h0m0 88.7h0m0-105.8h0m0 18.8h0m0-11.2h0m0.1 0.6h0m0 23.1h0m0.1-17.9h0m0.1 18.3h0m0-24.2h0m0.1 17.1h0m0.1-2.7h0m0.1-4.3h0m0.1 9.6h0m0.1-15.9h0m0 13.5h0m0 85.2h0m0-97.8h0m0.2 80.4h0m0-72.8h0m0-3.8h0m0.1-16h0m0 16.1h0m0-4.6h0m0 12.3h0m0.1-9.7h0m0.1 9.8h0m0-14.5h0m0.1 3.5h0m0-18.5h0m0.3 25.8h0m0.1-15.9h0m0 95.2h0m0-91.2h0m0 2.2h0m0.1 4.3h0m0.1 13.9h0m0-18.6h0m0.1-8.7h0m0.1 19h0m0.1-16.8h0m0.1 12.1h0m0.1 1.6h0m0 28.2h0m0.1-19.8h0m0 0.1h0m0-16.1h0m0.1 8.8h0m0-20.4h0m0.1 19.8h0m0.1 8.9h0m0-20.3h0m0.1-13.1h0m0 28.6h0m0.1-16h0m0 13.2h0m0.1 64.9h0m0.1-71.2h0m0-7.4h0m0.1 28.3h0m0.2-11.3h0m0-6.8h0m0 10.4h0m0.1-3.3h0m0.1 38.7h0m0.2-51.1h0m0.1 70.5h0m0-66.5h0m0.3-9.4h0m0.1-2.4h0m0.2 8.9h0m0.1 12h0m0-12.9h0m0 24.7h0m0.1-12.3h0m0.1-15.3h0m0 8.9h0m0 107.2h0m0.2-34.2h0m0-84.2h0m0-6.8h0m0 15.9h0m0 3.4h0m0.1 0.6h0m0 16.3h0m0.3-20.5h0m0 3.4h0m0 57.7h0m0.1-50.7h0m0.2 59.3h0m0-80h0m0 8.2h0m0.1-14.8h0m0 26.9h0m0.2-0.4h0m0-8.2h0m0 12.1h0m0-19.6h0m0 11.3h0m0.1-0.5h0m0 113.6h0m0.1-131.7h0m0 13.4h0m0.1 14.8h0m0-9.7h0m0 1.1h0m0.1-6.7h0m0.1-13.4h0m0.1 23.1h0m0.1-12.3h0m0.2 32.2h0m0-20.2h0m0 9.1h0m0.1 60.9h0m0.1-63.6h0m0-25.2h0m0.1 1.7h0m0.1 5.1h0m0.1 0h0m0 14.1h0m0-8.2h0m0.1 6.3h0m0.2-0.4h0m0.1-14h0m0 11.6h0m0.1 19.5h0m0.1-15.9h0m0.1-1.2h0m0.1 2h0m0 1.9h0m0.1-3.4h0m0.2 160.5h0m0-172.1h0m0.1-5.9h0m0 16.7h0m0.1-9.6h0m0 6.3h0m0.1-4h0m0 16.1h0m0.1-9.6h0m0-0.8h0m0.1-10.5h0m0.1 11.2h0m0-10.1h0m0.1 7.7h0m0-9.6h0m0 92.2h0m0.1-79.8h0m0-15.4h0m0.1 7.6h0m0.1-4.4h0m0-1.5h0m0.1 15.8h0m0 2.3h0m0-16.5h0m0.1-6.4h0m0 15h0m0-9.5h0m0.1 12.9h0m0-23.9h0m0 29.7h0m0.2 148.9h0m0-145.5h0m0.1-10.7h0m0-5.3h0m0.1-5.5h0m0-8.6h0m0.1 46.7h0m0-19.1h0m0-14.3h0m0 18.3h0m0.2-11.8h0m0.1-1h0m0.1-9.2h0m0.1 20.6h0m0.1-1.2h0m0 7.1h0m0-34.1h0m0 0.7h0m0 14.8h0m0.1 35.6h0m0-37.3h0m0.1 1.1h0m0-23.6h0m0 126.5h0m0.2-90.8h0m0 71.4h0m0.2-45h0m0.1-24.6h0m0.1-17.7h0m0.1 4.2h0m0 14.8h0m0-21.5h0m0.1 15.9h0m0.2-5.6h0m0 0.5h0m0-15.4h0m0.1 12.3h0m0 0.6h0m0-1.7h0m0 2.3h0m0-0.8h0m0 5.7h0m0.1-6.1h0m0-25.5h0m0 92.3h0m0-64.8h0m0.2-24h0m0 14.5h0m0.1 5.8h0m0.1 18.7h0m0.1-22.7h0m0-14.7h0m0 4.2h0m0 7.8h0m0 10.5h0m0.1-8.8h0m0.1 16.1h0m0.1-12.4h0m0 64.2h0m0-58.1h0m0.1 3.2h0m0-9.6h0m0 53.2h0m0-48h0m0.1-10.6h0m0.1 20.5h0m0-29.6h0m0 25.7h0m0.1 40h0m0-63.5h0m0.3 11.1h0m0.1-18.5h0m0.2 9.7h0m0.1 15.4h0m0.1-9h0m0 4.4h0m0.1 2h0m0.1-4.1h0m0 23.5h0m0-14.8h0m0.1-5.4h0m0-17.5h0m0.1 12.8h0m0 6.7h0m0.2-16h0m0.1 15.9h0m0.2-7h0m0.1-2.2h0m0.1 6.4h0m0 4.4h0m0.1-10.6h0m0 7.5h0m0.1 14.5h0m0.3-38.6h0m0 18.4h0m0.2 18.8h0m0-18.9h0m0.1-2.4h0m0.1 8.3h0m0-8.4h0m0 20.1h0m0-10.8h0m0.1-16h0m0.1 9.9h0m0 8.4h0m0-2.5h0m0.1 14.5h0m0.1-12.2h0m0.1-8.3h0m0.1 2.6h0m0-9.9h0m0 6.9h0m0.1 21.7h0m0-10.7h0m0-14.6h0m0.1 12.1h0m0.1 1h0m0-3.1h0m0.1-11.5h0m0.1-7.1h0m0 33.5h0m0-5.1h0m0.1 3.4h0m0.1-10.6h0m0 8.9h0m0 0.8h0m0.2-5.6h0m0.1 11.5h0m0-20.5h0m0.1 17.1h0m0-20.4h0m0.1 13.2h0m0 30.1h0m0-46.8h0m0.1 8.2h0m0-8.3h0m0.1-2.9h0m0 2.8h0m0.1-8.9h0m0.1 4.6h0m0 5.6h0m0 1.1h0m0.1 0.6h0m0 94.9h0m0-94.7h0m0.1 6.9h0m0-6.7h0m0.2-4.1h0m0.1-15.7h0m0.2 11.7h0m0.2 22.9h0m0.1-8h0m0-11.4h0m0 4.1h0m0-12.9h0m0 9.5h0m0 13.8h0m0-9.2h0m0.1-0.6h0m0.2 10.8h0m0-7.5h0m0 0.2h0m0.2 5.4h0m0.1-9.2h0m0.1-6h0m0 5.2h0m0.1 1.9h0m0 52.5h0m0-61.3h0m0.5 19.4h0m0-20.4h0m0 9.9h0m0.1 2.5h0m0.1-27.7h0m0 11.5h0m0 15.8h0m0.2 3.5h0m0.1 64.5h0m0.1-64h0m0-2.7h0m0 6.1h0m0.1-9.4h0m0.1 5.6h0m0.1 9.3h0m0 0.3h0m0 116.7h0m0-114.9h0m0.1-22.4h0m0-11.6h0m0.1 21.9h0m0-6.1h0m0 13.4h0m0.1 38.6h0m0-40.9h0m0-15.6h0m0 18.7h0m0.1-28.9h0m0-0.2h0m0.1 12.7h0m0-7.1h0m0.2 29.3h0m0-24.3h0m0.2-7.7h0m0 17.2h0m0-12.6h0m0 8.4h0m0.2 82h0m0-77h0m0.1-15.5h0m0.1 28.6h0m0.3 41.2h0m0.1-60.1h0m0 1.6h0m0.1 9.3h0m0 8.4h0m0.1-20.6h0m0.1 2.9h0m0.1 3.4h0m0.1 19h0m0.1-22.5h0m0 0.4h0m0-3.2h0m0.1 6.8h0m0-2.5h0m0.3 53.1h0m0.1-53.5h0m0-9.4h0m0.1 15h0m0-2.5h0m0-15.8h0m0 9.3h0m0 12.8h0m0.1-22.8h0m0.1-7.4h0m0.1 19.2h0m0 8.2h0m0.1 3.7h0m0 86.1h0m0.2-99.3h0m0.1 4.8h0m0 37.9h0m0-47.3h0m0.2 11.4h0m0-14.9h0m0.1 9.8h0m0-5.1h0m0.2 2.2h0m0.1-0.2h0m0.2 5.8h0m0 4.3h0m0-17.2h0m0.1 7h0m0-5.9h0m0.1-4.3h0m0 11.8h0m0.3-0.1h0m0 0.2h0m0 21.6h0m0.1-13.7h0m0.1-4.1h0m0 16.8h0m0-29.8h0m0.1 1.6h0m0.1 5.7h0m0.1 17.4h0m0-8.8h0m0.1 3.9h0m0 32h0m0.1-44.6h0m0 1.8h0m0.4 5.4h0m0-7.1h0m0.1 4.6h0m0.1-1.1h0m0.1 7.2h0m0-20.5h0m0 11.8h0m0.3-14.6h0m0.2 24.1h0m0-11h0m0-6.1h0m0.1 22.7h0m0.2 36.9h0m0.3-57.1h0m0.1 6.4h0m0-2.1h0m0.1 6.2h0m0.3-10.6h0m0 9.9h0m0.1-2.9h0m0.1 3.6h0m0-9.9h0m0-7.8h0m0.1 112.5h0m0.2-113.7h0m0.2 89.8h0m0.1-82.8h0m0.2 14.5h0m0 5h0m0.1 0.6h0m0.1-24.2h0m0.2 23.2h0m0.1-2h0m0-28.4h0m0.1 83.2h0m0-70.6h0m0.1 2.5h0m0.1-15.9h0m0.1 33.4h0m0.2-17.6h0m0.2-1.2h0m0.3 14.3h0m0-13.7h0m0.1 51h0m0.2-47h0m0 20.3h0m0.1-23.8h0m0 5.5h0m0-9.7h0m0.1-4.1h0m0 1.2h0m0 21.3h0m0.1-8.5h0m0 7h0m0.1-16.2h0m0 18.7h0m0-9.1h0m0-5.6h0m0.2-1.8h0m0 13.1h0m0.1-22.6h0m0 8.1h0m0.2 20.9h0m0.1-12.8h0m0-9.2h0m0 0.8h0m0.4-1.7h0m0 15.4h0m0.1-22.4h0m0.3 21.1h0m0-10.4h0m0.1 3.6h0m0.1-4h0m0 5.6h0m0 7.4h0m0.1 12.2h0m0.1-10h0m0-11.2h0m0.1 71.5h0m0.2-71.4h0m0.1-8h0m0.1 5.1h0m0-5.2h0m0.1 14.1h0m0.1 8.6h0m0.2 4.2h0m0.1-21.3h0m0 14h0m0.1 52.2h0m0.2-69.4h0m0 98.8h0m0.3-83.7h0m0-16.7h0m0.1 7.7h0m0-2.4h0m0.1-8h0m0.1 20.9h0m0.1-16.5h0m0 5.6h0m0 4.1h0m0-13.1h0m0.2 2h0m0.3 13.7h0m0 2.8h0m0.1 26.2h0m0.1-32.5h0m0.3 1.3h0m0-8.4h0m0.2 3.3h0m0.1-4.9h0m0 2.8h0m0.2 80.9h0m0.1-82.3h0m0 2.5h0m0 37.2h0m0.2-32.5h0m0.1-0.5h0m0.1-21h0m0.1 28.9h0m0-21h0m0.1 12.1h0m0.1-1.9h0m0.1-7.4h0m0 102.3h0m0-93.4h0m0.2-17.4h0m0.1 12.3h0m0 9h0m0-1.3h0m0.3 9.2h0m0.1-27.3h0m0.3 1.4h0m0.2 0.3h0m0 1.5h0m0.1 2h0m0 7.9h0m0.1 8.3h0m0-16.2h0m0 1.3h0m0.2 16.3h0m0-15h0m0.5-1.4h0m0.5-5.3h0m0 15h0m0.1 2.5h0m0.1 7h0m0-10.7h0m0.3 70.7h0m0-82.7h0m0 8.2h0m0.2 13h0m0-0.2h0m0.3-8h0m0 13.5h0m0.2-13.2h0m0.1-7.8h0m0.1 16.2h0m0-20.2h0m0.1 3.9h0m0 36.7h0m0.1 44.2h0m0-85.6h0m0.3 22.7h0m0-30.3h0m0 12.4h0m0.1-7.5h0m0 17.1h0m0-6.8h0m0.3 12.1h0m0.3 8.8h0m0.2 31.4h0m0-36.4h0m0.2-0.1h0m0 36.5h0m0.2-54.9h0m0 0.9h0m0.4-12.7h0m0 29.7h0m0.5-8.2h0m0 13.3h0m0.5-4.4h0m0-9.7h0m0.4 1.1h0m0.2 5.2h0m0.1 4.3h0m0.1-17.8h0m0.1 8.3h0m0.1 0.3h0m0-11.3h0m0.2 1.1h0m0 10h0m0 12.9h0m0-18.1h0m0.2 4.7h0m0 12.5h0m0.1-22.4h0m0.1 11h0m0.7-8.7h0m0 6.2h0m0.4 9.7h0m0-16.3h0m0.2 8.7h0m0.3-4.9h0m0.2 6.5h0m0.1-17.1h0m0.1 4.8h0m0.3 0.6h0m0.1 2.2h0m0-3.2h0m0.1 18.1h0m0.1-10.3h0m0.1 15h0m0.3-2.8h0m0.1-11.1h0m0.1-1.8h0m0 19.6h0m0.1-27.1h0m0 9.4h0m0.7-0.3h0m0.4 4.2h0m0.1-11.1h0m1-8.7h0m0.2 104.8h0m0.4-81.6h0m0.1-3.1h0m0.5-6.9h0m0-2.3h0m0.1 10h0m0.1-11.6h0m0.5 0.6h0m0.3-4.7h0m0.1 14.7h0m0-22.1h0m0.1 98.9h0m0.3-79.5h0m1.1 3.8h0m0.1 2.8h0m0.9-24.4h0m0-1h0m0.2-0.7h0m0.4 22.6h0m0.3-14h0m0.2 14.4h0m0.3-22.2h0m0.2 5h0m0.2 17h0m0.3-21.5h0m0.4 73.2h0m0.1-59.7h0m0.8 2.7h0m0.7-1.6h0m0.2 12.4h0m0.4-6.2h0m0.2-18.1h0m0.1 12.8h0m0.2-16.1h0m0.3 9h0m0.3 7.3h0m0.1 0.8h0m0.5-7.3h0m0.3-1.1h0m0.4 11.4h0m0.1-3.7h0m0.2-10.1h0m0.2 17.1h0m1.3-5.9h0m0.4-8.5h0m0.2 8h0m0.8 6.1h0m0-24.2h0m1.1 12.6h0m1.3 9.9h0m0.8-6.7h0m0.2-1.9h0m0.5-1.7h0m0.7 1h0m0.5 4.4h0m0.2 31.7h0m1.7-32.3h0m0.4-10.3h0m1.6-1.8h0m6.3-0.6h0m1.7 12.4h0m0.4 0.3h0m3.1-2.5h0m1.6-5.7h0m0.9 14h0m1.4 1.3h0m7.6-1.4h0m5.1-13.8h0m9.8 15.3h0"/>
<path d="M1181.2 206.7h0m2.6-27.9h0m4.4-19.3h0m1.1-1.4h0m0.9-6.2h0m5.9 37h0m0.2-30.8h0m0.1 66.6h0m1.2-50.8h0m0.8-4.3h0m0.2-5.8h0m0.2 47.2h0m0.8-49.2h0m0-50.6h0m0.4 88.9h0m0.1-76.8h0m1.3 16.3h0m0.4-37.1h0m0 34.7h0m0.1 48.6h0m0.4-10.7h0m0.3 2.2h0m0.8 5.3h0m0.2-8.8h0m0.1 12h0m0.1 7.2h0m0.4-17.1h0m1.1 11.4h0m0.7-21.2h0m0.5 12.9h0m0.4 27.1h0m0.3 36.9h0m0-70.4h0m0.3-10.6h0m0.1-39.2h0m0.1 74.2h0m0.1-89.5h0m0.1 90.5h0m0.1 22.2h0m0.3-57.2h0m1.6 24.9h0m0-57.7h0m1.1 44.1h0m0-40.2h0m1.2 59.2h0m0.4-11.3h0m0.3-14.8h0m0-54h0m0.1 54.6h0m0.1-83.3h0m0.2 90.7h0m0.4 14h0m0.2 45.2h0m0-46.4h0m0.1-66.4h0m0.1 73.5h0m0.2-30.2h0m0.6 54.2h0m0.4-79.1h0m0.1 78.1h0m0.3-95.7h0m0.7 64.7h0m1.2-52.3h0m0.2 8.1h0m0.1-26.1h0m0.1 82.9h0m0.1-52.8h0m0 13.3h0m0-41.8h0m0.3 61.6h0m0 17h0m0.1-82.2h0m0 70.2h0m0.1-62.3h0m0.5 14.1h0m0.1 29.2h0m0.1 28.7h0m0.6-39.1h0m0 31.5h0m0 9.4h0m0.2-77.6h0m0.3 39.5h0m0.2 21.3h0m0.2-2.6h0m0.4-41.8h0m0.3-26.1h0m0 83.8h0m0.6-48h0m0.2-24.7h0m0 52.3h0m0.1-22h0m0 15.9h0m0.2-79.7h0m0.2 4.5h0m0 90.3h0m0.6-41.8h0m0.2 13.7h0m0.4-29.9h0m0-27h0m0.1 142.9h0m0.1-8.6h0m0-94.4h0m0.3 67.1h0m0-62.2h0m0.3 37h0m0.1 6.6h0m0.3 9.8h0m0.1-100.7h0m0.1 49.8h0m0.3 80.9h0m0-36.9h0m0 14.3h0m0.2-89.8h0m0.1 42h0m0.1 31.6h0m0.1-1.2h0m0-14.3h0m0.1 19.6h0m0.1-52.2h0m0.1-36.6h0m0.2 109.4h0m0.3-29.6h0m0.3-45.7h0m0.3 53.2h0m0.1 4.5h0m0.3-72.8h0m0 58.9h0m0.1-44.8h0m0.4 60h0m0.1 9.7h0m0.2-46.5h0m0.6 4.6h0m0.2 41.9h0m0.5-36.5h0m0.1-44.4h0m0.3 2.4h0m0.1 81h0m0-25.8h0m0.1 10.5h0m0.5-28h0m0.1 14.6h0m0-65.8h0m0.2 56.4h0m0.1-79h0m0.2 90.9h0m0-51.5h0m0 55.2h0m0.2-40.5h0m0.4 55.8h0m0-34.9h0m0.2 44.2h0m0-14.7h0m0.1-93.9h0m0.2 105.7h0m0.1-30.9h0m0.1-72.4h0m0.3 98.5h0m0.2-8.8h0m0.3-17.5h0m0.1-21.9h0m0.1-33.2h0m0.1 2.3h0m0.2 110h0m0.1-34.9h0m0.3-66.1h0m0.1 64.6h0m0 20.9h0m0.4-95h0m0.3 37.3h0m0.1-17.7h0m0 37.8h0m0.1-9.5h0m0.1-55.6h0m0 67.8h0m0.2-0.8h0m0.2 11.4h0m0.1-26h0m0.2-94.9h0m0.1 128.3h0m0.1 9h0m0-17.3h0m0 1.4h0m0.1-24.6h0m0.2 30.8h0m0-18.1h0m0.1-13h0m0.3 17.6h0m0-53.5h0m0.2 58h0m0-72.9h0m0.1 88h0m0.3-50.4h0m0.1-0.4h0m0.1 60.2h0m0.1-22.7h0m0.4-97.7h0m0.1 108.1h0m0.2-39h0m0.1 7.3h0m0.2 54.4h0m0.1-44.4h0m0.2-92.7h0m0.1 2.7h0m0 131.2h0m0.1-133.6h0m0.1 54.2h0m0.1-19.8h0m0.4 0.2h0m0.2 80.4h0m0-44.7h0m0.7 27.6h0m0-31.8h0m0 34h0m0.2-15.9h0m0.1-59.9h0m0.1 70h0m0.3 4.7h0m0 0.7h0m0.1 6h0m0.2-79.6h0m0.1 63.6h0m0.6-42.1h0m0.1-2.7h0m0.1 94.6h0m0.1-59.8h0m0 31.3h0m0-42.4h0m0.2-51.2h0m0.4 65.2h0m0.1-13.4h0m0.1 43.9h0m0.1-110.9h0m0 93.3h0m0.3-31.5h0m0 29.7h0m0.1 0.1h0m0 29.1h0m0-16h0m0.1-29.2h0m0.1-40.4h0m0.1 58.4h0m0.2-26.4h0m0.2 22.3h0m0.1-22.1h0m0.1 76.5h0m0.3-30.4h0m0.1-104.9h0m0.2 86.1h0m0-11.8h0m0.1-7.6h0m0.3-39.4h0m0.1 73.8h0m0 28.4h0m0.2-26.7h0m0.2-116.8h0m0.1 97.4h0m0.2 29.7h0m0.2-47h0m0 10.5h0m0.2-35.6h0m0.1 46h0m0 11.5h0m0.6-24.3h0m0.1-26.7h0m0.1-29.9h0m0.1 90.6h0m0 7.6h0m0.2-25.8h0m0-37.9h0m0-34.7h0m0.6 87.7h0m0.1-67.9h0m0-45.6h0m0.1 62.6h0m0.2 32.9h0m0.1-23.6h0m0 16.4h0m0.4-6.7h0m0 17.5h0m0.1-19.7h0m0.1 0.9h0m0-83.5h0m0.2 89.2h0m0 14.2h0m0.1 8.1h0m0.4-86.5h0m0.1-3h0m0.1 22.1h0m0.2 42.8h0m0 57.3h0m0-5.8h0m0.5-5.3h0m0.1-145.9h0m0 28.2h0m0.1 2h0m0.4 16.5h0m0 110.9h0m0-26.9h0m0.1-39.6h0m0.1-56.8h0m0.2 80.8h0m0.3 9.7h0m0-29.8h0m0.6-20.6h0m0 30.5h0m0.1-62.2h0m0 16.5h0m0.1-56.8h0m0.2 83.5h0m0.3-7.6h0m0 41.8h0m0.7-91.9h0m0.4 69h0m0.1-85.9h0m0.1 25.6h0m0.1 77.1h0m0.1-9.4h0m0.4-108.5h0m0.1 66.4h0m0.2-61.2h0m0 118.8h0m0.2-24.2h0m0.4-46h0m0.4 53.6h0m0.1-34.2h0m0-59.9h0m0.2 66.4h0m0.5-67.3h0m0.2 19.7h0m0 23.2h0m0 5.2h0m0.1 39.3h0m0.1-1.8h0m0.4-28.3h0m0.1 87.7h0m0.2-100.5h0m0.1-30.3h0m0.2-13.6h0m0.1 3.3h0m0.1 137.7h0m0-47.1h0m0.2-28.7h0m0 32.7h0m0.1-55.4h0m0.8-15.5h0m0.2 9.9h0m0.1 47.6h0m0-51.1h0m0.1 73h0m0.1 5.7h0m0.1-0.2h0m0.1-65.3h0m0.1 41.6h0m0.4-21.2h0m0 80.2h0m0.3 13.9h0m0.1-160.1h0m0.1 143.9h0m0-51.1h0m0.1-29.6h0m0 59.3h0m0.1-104.6h0m0.1 80.6h0m0-7.1h0m0 17.1h0m0.1-95.3h0m0.1 65h0m0 38.2h0m0.4 16.7h0m0.1-81.3h0m0.3 11.3h0m0-16.6h0m0.2 19.6h0m0.4-44.4h0m0.4 58.5h0m0.1-86.9h0m0 113.3h0m0.2-35.2h0m0.1 70.1h0m0.2-53h0m0.2-16.1h0m0 30.4h0m0.3-24.9h0m0.1-18.1h0m0.1 18.2h0m0.4 2.8h0m0-57.5h0m0.1 89.8h0m0.4-9.6h0m0.1-81.6h0m0 73.6h0m0.1-27.7h0m0.1-7.8h0m0-20.9h0m0-18.9h0m0 23.4h0m0.1-4.9h0m0.3 21.9h0m0.2 40.2h0m0-89.1h0m0.1 89.1h0m0.1-109.8h0m0.2 48.7h0m0.2 70.1h0m0.2-100.9h0m0 122.1h0m0.3-48.3h0m0 20.6h0m0.2-87.5h0m0.1 21h0m0 64.7h0m0.5-9.1h0m0-39.4h0m0.2-20.6h0m0-22.2h0m0.1-10h0m0.2 113.3h0m0.2-58.8h0m0.1-33.9h0m0.2 58.3h0m0.1 9.4h0m0-81.4h0m0.1 69h0m0.1-60.7h0m0 13.5h0m0-30.4h0m0.1 75.4h0m0.2 33.4h0m0.3-87.7h0m0.2 50h0m0.1-64.5h0m0.2 24.4h0m0 49.8h0m0 9.1h0m0.1-29.2h0m0.3-30.4h0m0.1 65.8h0m0.2-73h0m0.5 42h0m0.1-69h0m0 26.2h0m0.1 16.7h0m0.1-23.3h0m0-0.9h0m0.2 101.5h0m0.1-95.3h0m0.3 40.7h0m0 9.7h0m0.1-69.2h0m0.1 57.4h0m0 38.5h0m0.4-74.8h0m0.1-10.1h0m0.1-4.3h0m0.1 120.7h0m0.3-114.1h0m0.2 0.2h0m0.2 23h0m0-45h0m0.1 43.2h0m0.5 66.1h0m0.1-71.8h0m0.2-27.9h0m0.1 3.2h0m0.3 57.6h0m0.1-31.6h0m0.4 64.9h0m0.1-44.7h0m0.4-6.8h0m0 34h0m0.1 34.3h0m0.1-30.3h0m0-29.4h0m0.5-45.6h0m0 23.5h0m0.2-9.8h0m0-3h0m0 20.3h0m0.4-48.8h0m0.1 32.5h0m0.2 62.2h0m0.1-83.8h0m0 69.8h0m0-41.6h0m0.1-3.5h0m0.2-2h0m0 77h0m0-86.4h0m0.1 4.2h0m0.2 83.9h0m0.1-35.7h0m0.1-59.4h0m0.1-0.9h0m0.2 93.8h0m0.1-76.3h0m0.1-11.2h0m0.1-4.3h0m0-3.9h0m0.1 48.9h0m0-39.5h0m0.5 80.5h0m0-83.7h0m0 64.1h0m0 40.6h0m0.1 5.4h0m0-17.2h0m0-96.7h0m0.1 119.5h0m0.1-79.2h0m0 29.3h0m0 0.9h0m0.1 3.6h0m0.5-63.5h0m0.1 109.5h0m0 1.3h0m0.4-66.6h0m0.1-46.7h0m0 18.5h0m0.2-34.1h0m0-8.1h0m0.1 50.8h0m0.2 77.2h0m0.2-67.2h0m0-40.7h0m0.4-22.8h0m0.2 57.4h0m0.1 65.2h0m0.2-65.5h0m0.1 45.1h0m0.1-99.6h0m0-3.2h0m0.1 113h0m0.2 23.5h0m0-121.7h0m0.2 95.2h0m0 45.2h0m0-144.7h0m0.2 17.6h0m0.2-11.3h0m0.1 71.9h0m0.3-76.4h0m0 9.4h0m0.1-1.7h0m0 18.6h0m0 78.8h0m0-74.8h0m0.1-38.6h0m0.1 110.6h0m0-94h0m0.2 53.6h0m0.3 45.2h0m0-57.7h0m0 27.1h0m0.2-2h0m0 13.7h0m0.1 3.8h0m0.1-81h0m0 35.9h0m0.1-42.5h0m0 25.6h0m0-8.2h0m0.1 48.8h0m0-68.9h0m0.1 58.3h0m0.2-39.2h0m0.1 145.7h0m0.3-134.5h0m0.2-33.9h0m0.1 35.9h0m0 47h0m0.1-60h0m0 88.4h0m0-108.6h0m0.1-4.7h0m0.4 108.9h0m0 37.6h0m0.1-140.5h0m0.4-14.4h0m0.1 66.2h0m0-63.6h0m0.1 15.3h0m0.2 10.5h0m0 19.1h0m0.2-30.9h0m0.3 38.1h0m0.1 76.9h0m0-67.5h0m0-69.2h0m0 108.4h0m0-16.4h0m0.6-17.5h0m0 3.3h0m0 2.4h0m0.1 4.2h0m0-55.4h0m0.2-14.4h0m0.2-5h0m0.1 86.3h0m0 45.2h0m0.1-123.4h0m0.1 69.5h0m0.1-88.4h0m0 11.7h0m0.1 33.5h0m0 0.2h0m0.1-8.1h0m0-18.4h0m0.1 127.8h0m0-143.6h0m0.2 69.5h0m0.2-23.2h0m0 70h0m0.1-94h0m0 75.8h0m0-41.9h0m0.1-27.3h0m0.3 36.5h0m0.1-38.3h0m0 99.2h0m0.1-59h0m0.2 14.2h0m0.3-49h0m0.6-6h0m0.3-5.7h0m0.2 61.6h0m0.1-63.2h0m0.1 51.5h0m0.1 12.7h0m0.2 32.9h0m0-96.5h0m0.1 62.7h0m0.1 4.1h0m0-83.2h0m0.1-6.1h0m0.1 107.4h0m0.3-79.5h0m0-6.7h0m0.1 54.7h0m0.1-38.7h0m0-14.9h0m0.4 1.8h0m0.3-4h0m0.3 14.8h0m0-23.3h0m0-4.5h0m0 51.6h0m0.6-34.1h0m0.2 0.9h0m0 46.9h0m0.1 73.3h0m0.1-145.6h0m0 93.2h0m0-72.9h0m0.1 50.9h0m0 27.8h0m0.1 28.7h0m0.1-54.3h0m0-38.8h0m0.1-24.7h0m0 82.7h0m0-40.9h0m0-30h0m0.2-21.2h0m0.2 38.7h0m0-1.3h0m0-21.7h0m0.2 21.4h0m0.1 102.2h0m0.2-112.4h0m0.2 11.1h0m0.2 96.4h0m0.1-107.8h0m0 98.8h0m0-56.8h0m0.3-54.5h0m0-1.4h0m0.1 60.3h0m0.2-59.5h0m0.3 20.3h0m0.1-20.3h0m0.1-11.3h0m0 18h0m0.1-2.3h0m0.3 31.2h0m0.3-29.1h0m0 32.3h0m0.1 53.4h0m0-77.9h0m0.1 21.6h0m0.1 35.4h0m0.1 26.3h0m0-83.3h0m0.1 63.2h0m0.2-70.7h0m0-10.9h0m0.1 63.8h0m0.1-73.6h0m0 19.4h0m0.5 3.5h0m0-17.3h0m0.3 17.2h0m0 20.3h0m0-38.6h0m0 8.7h0m0.1 145.6h0m0-132.7h0m0.2-9.6h0m0.1 10.3h0m0 179.7h0m0.2-188.5h0m0-2.2h0m0.1 59.7h0m0-27h0m0.1 16h0m0.1 38.8h0m0-81.3h0m0.1-7.9h0m0.3 6.4h0m0.1 6.9h0m0.1-5.8h0m0-6.5h0m0 14.2h0m0.1 10.9h0m0.1-20.1h0m0 8.2h0m0-15.1h0m0.1 5.1h0m0.2 14h0m0.2-6.1h0m0 3.2h0m0.2-18.4h0m0 6.9h0m0.2 47.7h0m0.1-27.4h0m0-22.8h0m0-5.9h0m0.1 24.3h0m0 136.3h0m0.2-53.7h0m0.1-98.3h0m0 18h0m0.1-10.3h0m0 123.6h0m0.1-103.6h0m0 49h0m0-77.3h0m0 98.8h0m0.1-64.7h0m0.1-41.6h0m0.1 19.4h0m0.1 4.4h0m0 0.5h0m0.1-5.5h0m0-18h0m0.1 8.5h0m0.1-6h0m0.1 11.2h0m0-2.6h0m0.1-4.7h0m0 6h0m0.2-7.2h0m0 92.9h0m0.2-96.2h0m0.3 21.2h0m0-6.7h0m0.1 53.2h0m0-79.3h0m0 98.2h0m0.1-58.3h0m0-31.9h0m0.2 36.8h0m0-47.3h0m0 24h0m0.2-9.8h0m0.2 5.9h0m0.1 53.5h0m0.3-43.1h0m0.1-11.3h0m0 7h0m0.1 85.7h0m0-70.2h0m0.1-29.7h0m0 59.9h0m0-58h0m0 36.9h0m0.1-32.5h0m0.1-5.1h0m0.2 21.1h0m0 27.3h0m0.1 26.5h0m0.2-10.5h0m0-54.1h0m0.2-6.6h0m0 77.9h0m0-61.6h0m0.1 0.8h0m0 55.5h0m0.1 43.3h0m0.1-121.1h0m0 97.2h0m0.1-20.3h0m0.1-68.4h0m0 3.6h0m0.1-9.8h0m0.1 0.8h0m0.1 4.3h0m0 6.7h0m0-11.1h0m0 8.7h0m0.2-1.8h0m0.3 17.3h0m0.2-14.5h0m0.1 3.1h0m0 73.3h0m0.1-72.9h0m0 24.8h0m0.2-22.8h0m0 4.3h0m0.3-14.1h0m0 6.7h0m0 63.4h0m0.2-62.4h0m0.1-5.8h0m0.1 6.7h0m0.2-18.5h0m0 13h0m0 68.8h0m0-71.5h0m0.1-8.9h0m0.2 8.4h0m0 8.1h0m0.2 121h0m0.1-69.5h0m0.2-23.9h0m0-25.3h0m0.1-20.8h0m0.1 86.7h0m0-71.5h0m0-4.7h0m0.1 2.3h0m0 7.6h0m0.1-9.6h0m0 7h0m0 17.2h0m0.1 61.7h0m0.1-85.9h0m0-11.3h0m0.3 9h0m0.2-2.4h0m0.1 72.2h0m0-30.2h0m0.2-30h0m0-10.4h0m0-5.3h0m0 16.6h0m0-1.7h0m0-4h0m0.1-18.9h0m0 29.5h0m0.1 65.4h0m0-71.2h0m0.1 57.4h0m0-57.9h0m0.2-7.7h0m0.2 8.7h0m0.1 4.4h0m0-14.3h0m0.1 9.8h0m0-9.2h0m0.1 9.2h0m0-7.2h0m0.1-11.7h0m0 39.7h0m0.2-29.5h0m0.1 4.9h0m0 21.4h0m0.1-33.1h0m0-5.7h0m0 13.8h0m0.1 8.7h0m0-1.7h0m0-9.2h0m0 20.9h0m0.2-18.4h0m0-10.7h0m0 20h0m0.1-20.6h0m0.1 92.6h0m0-93h0m0 102.2h0m0.1-94h0m0 32.3h0m0.1-18.6h0m0-1.2h0m0.1-10.3h0m0 64.2h0m0.1-53.5h0m0 8.4h0m0.1 75.1h0m0.2-76.9h0m0.1-24.1h0m0.1 22.3h0m0.2 28.6h0m0-35.7h0m0 78.3h0m0.1 12.8h0m0-80.2h0m0.1 10.8h0m0 23.9h0m0-52.3h0m0.1-0.2h0m0 6.1h0m0.1-2.8h0m0.2-19.4h0m0 86.8h0m0.1-67.4h0m0 97.8h0m0.1-108h0m0.2 12.2h0m0 5.3h0m0.1-11.3h0m0 91.1h0m0-94.7h0m0.1 23.3h0m0.1-12h0m0-12.8h0m0.2 139.2h0m0.2-136.7h0m0 7.7h0m0.1-3h0m0-0.2h0m0.1 12.5h0m0 16.9h0m0-31.2h0m0-6.6h0m0.1 15.5h0m0.1 64.7h0m0-69.1h0m0.1-10.7h0m0 2.4h0m0.1-1h0m0.1 37.3h0m0-27.7h0m0 3.9h0m0.1 5.8h0m0-11.7h0m0 42.8h0m0-31.1h0m0.1 58h0m0-87.8h0m0.1 159.1h0m0-44h0m0.1-111.1h0m0.1 6.2h0m0 27.2h0m0.2-30.6h0m0-6.3h0m0.1 6.9h0m0.1 23.9h0m0.1 3.2h0m0.1-19.4h0m0 25.4h0m0-35.7h0m0.1 22.6h0m0.2-17.8h0m0.3 7.1h0m0-1.2h0m0.1-6.8h0m0.1 4.4h0m0 1.5h0m0-0.7h0m0.1 3.8h0m0.2 24.8h0m0.1-19.7h0m0.1 8.4h0m0-8.8h0m0 122.7h0m0-117.2h0m0.1 130.8h0m0-147.6h0m0.2 2h0m0-16.1h0m0.1 12h0m0-2.8h0m0 14.7h0m0.2 5.9h0m0.1 61.6h0m0-74.7h0m0 1.8h0m0.1-9.6h0m0.1 80.2h0m0.3-74h0m0.1 1.2h0m0.1-2.2h0m0 6.6h0m0.1-10.2h0m0.2 21.3h0m0.1-9.2h0m0.1 15.7h0m0 19.9h0m0-57.2h0m0.1 27.2h0m0 3.5h0m0-24.8h0m0.1 19.7h0m0-1.9h0m0.1 4.2h0m0-29.2h0m0 29h0m0.1-26.3h0m0.2-1.5h0m0.1 20h0m0 103.6h0m0-119.7h0m0.1 32.3h0m0 12.1h0m0.2 35.1h0m0-63.4h0m0.2-4.4h0m0-2.2h0m0 7.4h0m0 1.2h0m0.2-6.6h0m0 113.8h0m0-114.8h0m0.2 61.6h0m0.1-42.7h0m0-21.2h0m0.1 45h0m0-31.9h0m0-20.7h0m0.1 11.6h0m0 2.7h0m0.6-11h0m0 16.1h0m0 1.7h0m0.1-4h0m0.2 93.5h0m0-84.9h0m0.1-18.8h0m0.1 4.7h0m0.1-0.2h0m0 19.6h0m0.1 77.4h0m0.1-96h0m0 11.9h0m0-20.6h0m0.2 14.1h0m0 8.1h0m0.1-1.2h0m0.1-8.5h0m0.1-10.3h0m0.1 13.2h0m0.1-21.6h0m0.1 2.7h0m0.3-2.8h0m0.1 22.7h0m0 8.6h0m0.1-16.2h0m0 7.6h0m0.1 0.2h0m0.1 95.9h0m0.2-122h0m0 16h0m0.1 12.5h0m0.1 4.5h0m0 7.8h0m0.1 28.5h0m0.1-29.5h0m0 68.4h0m0-88.8h0m0 21.1h0m0.1 34.7h0m0.1-51.2h0m0-15.8h0m0.1 16.1h0m0-9.9h0m0 12.2h0m0-4.2h0m0.2-6.3h0m0 23.9h0m0.1-15.9h0m0.1-6.3h0m0.1-9.3h0m0.1-5.8h0m0 12.3h0m0.2 8.2h0m0 3.9h0m0.2-18.8h0m0.1 1.1h0m0-12h0m0 24.1h0m0.1-10.7h0m0.2 14.3h0m0.1-7.5h0m0.2-5.6h0m0.1 13h0m0.1 43.9h0m0-46.7h0m0.1 10.3h0m0-12.2h0m0 18.6h0m0-27.5h0m0.1-4.3h0m0 22.5h0m0-10.3h0m0.1 56h0m0-63.5h0m0 30.8h0m0.1-29.8h0m0.1 4.7h0m0 98.1h0m0.1-65.7h0m0.1-46.3h0m0 27.3h0m0-21.3h0m0.1 85.6h0m0.1-85.3h0m0.1-0.1h0m0.2 10.9h0m0-11.7h0m0 14.7h0m0-0.8h0m0.1 111.1h0m0-129.7h0m0 10.6h0m0.1 18.5h0m0.1 1.1h0m0-33.3h0m0.1 1.1h0m0 5.4h0m0.2 35.5h0m0-29.1h0m0.1 5.3h0m0-10.2h0m0.1-4.2h0m0.1 9.7h0m0 1.9h0m0-0.4h0m0.1-8.2h0m0 89.4h0m0.1-81h0m0 12.5h0m0 21h0m0.1-34.7h0m0.1 17.7h0m0.1-14.8h0m0 1.5h0m0-5.7h0m0.1 7.2h0m0-14.8h0m0 12.1h0m0.2-15.8h0m0.1-6.3h0m0.1 23.1h0m0-0.4h0m0.1 7.2h0m0.1-16.3h0m0 19.2h0m0.3-17.5h0m0.1-1h0m0.1 17.9h0m0-5.8h0m0.4-11.5h0m0 9.5h0m0.1 4.7h0m0 49.9h0m0.1-69.3h0m0 11.8h0m0.1 149.2h0m0-144.7h0m0.1 43.3h0m0.1 14.2h0m0-59.8h0m0.1 7h0m0-7.9h0m0.1-10.4h0m0 13h0m0.1-10.4h0m0 6.2h0m0.2-19.8h0m0 10.4h0m0.1 8.5h0m0 10.9h0m0.1-6.3h0m0-8.9h0m0 23.7h0m0-21.6h0m0 2h0m0.1-11.2h0m0 23.2h0m0.1-15.6h0m0 14.9h0m0.1 0.7h0m0-5.3h0m0.1-2.1h0m0.1-1.8h0m0-6.7h0m0.1 2.6h0m0.1 4.5h0m0.1-0.2h0m0.1-14.3h0m0.1 24.2h0m0 4.1h0m0-15.8h0m0.1 41.3h0m0-51.7h0m0 24.8h0m0-8.3h0m0.1-14h0m0.1-0.6h0m0 14.2h0m0-10.5h0m0.1 23.4h0m0.1-31.3h0m0 42.2h0m0.2-28.3h0m0.2 6.1h0m0.2-9.1h0m0.2 0.7h0m0.1 4.4h0m0-7h0m0-0.1h0m0.1 9.6h0m0 23.7h0m0-35.4h0m0 3.3h0m0.1 7.9h0m0.1 6.3h0m0.1-12.3h0m0.1-0.4h0m0 5h0m0.2 7.4h0m0-7.8h0m0.1-5.8h0m0.1 8.5h0m0-17.9h0m0.1 11.3h0m0.1-2.9h0m0.1 12.8h0m0-2.8h0m0.1-8.1h0m0-6.8h0m0 10h0m0.1-3.3h0m0.1 1.5h0m0 1.7h0m0-8.6h0m0.1 6.1h0m0.2 1.8h0m0-9.5h0m0-2.5h0m0.1 26.8h0m0 53.5h0m0-37.2h0m0.2-38.1h0m0 10.7h0m0.1-9.1h0m0.1 14h0m0.1 69.5h0m0-78.6h0m0-5.9h0m0.1 19.3h0m0.1 28.8h0m0-34.6h0m0.2-11.9h0m0-1.5h0m0.1 8.2h0m0.1-16.2h0m0.1 36.4h0m0-12.5h0m0-7.9h0m0.1 11.7h0m0.1-3.7h0m0.1-29.3h0m0 21.9h0m0.1-6h0m0.1 8.9h0m0-2.4h0m0.1-5.8h0m0 52.2h0m0.2-37.9h0m0 0.3h0m0.1-7h0m0.2-0.4h0m0 43.2h0m0-53.5h0m0 27.2h0m0 10.5h0m0-29h0m0.1 1.1h0m0 1h0m0.1-21.8h0m0 71.8h0m0-47.9h0m0.1-7.7h0m0-14.1h0m0.1 11.3h0m0 14.7h0m0-32.4h0m0.1 7.1h0m0 1.8h0m0 4.2h0m0.2 5.4h0m0 8.7h0m0.1-10.4h0m0-3h0m0 9.7h0m0 0.1h0m0.1-3h0m0.2 15.2h0m0.1-30.9h0m0 22.5h0m0.2 0.3h0m0.1-6.1h0m0.1 1.6h0m0-1.4h0m0 4.4h0m0-17.1h0m0.1 18.2h0m0.1 8.1h0m0-15.1h0m0 25.4h0m0.1 15.2h0m0.1-31.8h0m0-9.4h0m0 15.6h0m0-15.5h0m0.1 8.6h0m0 9.5h0m0-4.1h0m0.2-21.7h0m0 10.1h0m0.1 0.7h0m0.1-5.2h0m0-6.5h0m0.1 7.7h0m0.1-4.2h0m0.1 13.9h0m0-10h0m0-6.8h0m0.1 15.4h0m0 4.3h0m0-15h0m0.1 94.2h0m0-92.5h0m0-7.5h0m0.1 18h0m0.1-9.8h0m0 11.4h0m0.1-6.4h0m0 5.6h0m0-6.3h0m0 1.3h0m0.1 2.7h0m0 15.5h0m0-31.1h0m0.2 118.5h0m0-19.7h0m0-95.8h0m0.1-0.3h0m0 1.3h0m0 3.1h0m0.2-3.9h0m0 0.6h0m0 14.3h0m0-7.4h0m0.1 66.5h0m0.1-63.7h0m0.2-15h0m0 54.3h0m0.1-47.6h0m0 13.6h0m0-8.2h0m0 5.3h0m0-16.7h0m0.1 12.5h0m0.1 3.4h0m0.1 0.7h0m0.2-5.8h0m0.1-11.8h0m0 11.9h0m0-8.5h0m0.1 96h0m0.1-86.1h0m0.1-15.4h0m0.3 19.2h0m0.1-6.4h0m0.1 71.5h0m0.1-80.5h0m0 15.3h0m0-19h0m0 5.9h0m0-3.2h0m0.1 25.9h0m0.1-4.7h0m0 26.1h0m0.1-36.4h0m0 1.7h0m0-1.7h0m0.1 67.3h0m0-63.7h0m0 2.5h0m0-10.6h0m0.2 38.1h0m0 24.8h0m0.1-46.5h0m0.1-11.2h0m0.1-0.9h0m0.1 7.9h0m0-13.1h0m0-6.6h0m0 9.8h0m0.4-16.5h0m0 33.6h0m0-41.7h0m0.1 42.8h0m0.1-10.7h0m0-3h0m0.1-12h0m0-4h0m0.2 84.9h0m0.1-64h0m0-0.5h0m0.2-10.6h0m0.1-1.4h0m0 0.5h0m0-3.5h0m0.2 13.3h0m0.2-18.3h0m0 13.4h0m0.2-7.6h0m0.4 95.5h0m0.1-28.2h0m0-50.4h0m0.1-17.5h0m0 7.2h0m0.1 3.2h0m0.2-4.2h0m0.2 84.4h0m0-84.8h0m0.1 3.2h0m0.1 10.7h0m0-2.8h0m0.1-5.4h0m0 6.1h0m0.2 6.8h0m0-19.7h0m0 3h0m0-2.8h0m0.1-0.6h0m0.1-8.2h0m0.2 18.9h0m0-9.3h0m0.1 11.7h0m0-7.4h0m0 9.8h0m0-25.9h0m0.2 1.1h0m0 17.7h0m0.1 1.6h0m0.1-4.2h0m0.1 7.9h0m0-13.3h0m0.1 4.6h0m0 3.2h0m0 1.6h0m0.1 0.1h0m0.1-0.1h0m0.2 2.7h0m0-16.6h0m0.1-5.5h0m0.1 7.7h0m0 10.7h0m0-11.1h0m0.1-6.1h0m0 14h0m0.3 1h0m0 8.8h0m0-12.5h0m0.1 173.9h0m0-184.1h0m0.1 17.4h0m0.1 0.6h0m0.1-22.6h0m0.1 23.7h0m0-4.1h0m0.3 7.6h0m0.1-27.3h0m0.1 4.9h0m0 12.5h0m0.2 0.2h0m0 0.5h0m0-13h0m0.1 6.6h0m0 7.6h0m0-19h0m0.1 18.6h0m0.2 9.3h0m0.1-23.8h0m0.4 18.6h0m0.1-21.8h0m0.1 77.6h0m0-77.3h0m0 21.1h0m0.1 46h0m0-64.5h0m0.1 17.8h0m0.1 3.3h0m0.1-0.6h0m0-11.2h0m0.2-3h0m0 13.3h0m0.1-5.1h0m0-8h0m0.2 4.6h0m0 34.6h0m0.3-41.5h0m0-10.6h0m0.1 11.7h0m0.1 0.8h0m0 11.7h0m0-15.2h0m0 10.7h0m0.1 5.2h0m0-16h0m0.1 3.7h0m0 16.2h0m0.1-13.7h0m0 1h0m0 1.6h0m0-7.1h0m0.1 13.5h0m0.3 2.4h0m0.2 10.1h0m0.1-25h0m0.1 11.6h0m0 120.5h0m0.2-110.5h0m0-21.4h0m0 6.3h0m0.1-0.8h0m0.1 0.7h0m0.2-4.3h0m0 35h0m0.1-22.1h0m0-21.7h0m0.1 24.9h0m0-3.4h0m0-10.7h0m0.2 17h0m0-15.4h0m0.5 9.1h0m0-6.4h0m0.1 2.4h0m0.1-3.7h0m0.2 11.3h0m0.1 1.1h0m0.1 0h0m0-18.9h0m0 8.6h0m0 2h0m0 0.1h0m0.1-3.5h0m0.1 12.9h0m0-25.2h0m0 27.5h0m0.1-8.6h0m0-11.1h0m0-7.4h0m0.3 20.7h0m0.2-22.9h0m0.1 15h0m0 6.3h0m0.1-13.7h0m0 1.2h0m0 9.7h0m0.1-3.7h0m0-11.4h0m0.3 1.9h0m0 19.5h0m0.2-15.4h0m0.1-5.2h0m0-8h0m0.1 28.4h0m0-22.9h0m0.2 9.4h0m0 68.9h0m0.1-50.6h0m0.1-9.8h0m0.1-9.3h0m0-7.2h0m0.1 18h0m0.1-19h0m0.1-0.3h0m0.1 15.2h0m0.2 3.4h0m0.1 51.6h0m0.1-47.6h0m0.4-7.7h0m0 3.6h0m0.2-22.4h0m0 6.2h0m0 9.7h0m0.1-7.5h0m0.3 0h0m0.1 87.1h0m0.2-84.5h0m0 1.3h0m0 2.5h0m0.2 5h0m0-10.1h0m0 2.7h0m0.1 13.4h0m0-2.7h0m0 92.1h0m0.1-119.6h0m0.1 13.5h0m0.5 19.8h0m0-21.5h0m0-0.4h0m0.3 10.4h0m0.2 13.2h0m0.1-20.4h0m0 20h0m0.3-21.4h0m0 16h0m0.3-24.4h0m0.1 3.6h0m0.1 3.4h0m0-5.5h0m0.1 10.1h0m0-8.7h0m0.1 10.9h0m0.2 7.2h0m0.3-25.9h0m0.2 25.4h0m0 5.6h0m0-26.7h0m0.2 64.3h0m0.1-61.8h0m0 26.3h0m0.1-19h0m0.1 70.5h0m0-55.2h0m0-22.5h0m0.2-5.1h0m0.3 9.9h0m0.1 67.3h0m0-44.9h0m0.2-11.7h0m0.1 72.8h0m0.1-79.6h0m0.2 9.1h0m0.1-7.5h0m0.1 5.1h0m0.2-15.8h0m0.2 26.4h0m0-5.7h0m0.2-17.7h0m0.2 10h0m0 4.4h0m0.1 18.9h0m0.4-30.6h0m0.1 11.2h0m0-1.2h0m0.2-7.3h0m0.1 7.4h0m0.3-10.7h0m0 0.6h0m0.4 9.3h0m0 18.3h0m0.2-17.8h0m0.1-5.4h0m0-1h0m0.2-8.4h0m0 7.7h0m0.2-4.2h0m0.2 0h0m0.3-0.4h0m0.2 4.3h0m0 18.9h0m0.1-2.1h0m0-1.7h0m0.1-21.9h0m0 21.5h0m0.4 59.6h0m0-67.5h0m0.1-8.8h0m0 9h0m0.2-12.6h0m0.1 3.7h0m0.1 89.7h0m0.6-11.7h0m0.2-70.7h0m0-3h0m0.2 10.6h0m0 62h0m0.1-74.5h0m0 0.1h0m0.1-7.7h0m0.2 5.5h0m0.5 1.7h0m0 9h0m0.1-4.5h0m0.3-7.2h0m0 109.1h0m0.1-106.2h0m0 8.5h0m0.1-0.2h0m0.3-11.1h0m0.1 0.5h0m0.2 55.2h0m0.1-41.6h0m0.3 96.8h0m0-97.4h0m0.1-20.1h0m0.2 26h0m0.2-12.8h0m0.2-0.4h0m0.1-9.2h0m0.2 12.8h0m0.2-4h0m0 22.2h0m0.1-21.1h0m0.6 2.7h0m0-11.8h0m0 13.6h0m0.1 18.1h0m0.6-36.7h0m0.2 7.9h0m0.4-3.7h0m0.5 15.6h0m0.1-4.8h0m0.1 6.3h0m0.3-16.9h0m0-5h0m0.5 27.2h0m0.8-23.5h0m0.1 10.3h0m0.6 3.4h0m1-5.2h0m0.2 14.2h0m0.1-2.4h0m0.4-7.2h0m1.4-11.3h0m0.1-4.3h0m0.7 13.4h0m0.3 6.9h0m0.2 0.9h0m0.2-5.2h0m0.8 3h0m0.1-7.9h0m0.1-5.6h0m0.2-6.3h0m0.4 23.2h0m0.4-10.2h0m0.5 1.8h0m0.5 141.8h0m0.2-145.2h0m0.6 6.7h0m1.6-15.8h0m0.1 1.4h0m0.8 6.5h0m1.4 0.3h0m2.7 8.1h0m1.2-6.5h0m2.3-3.5h0m1.2 105.5h0m0.4-106.7h0m1.5 2.9h0m5.6-0.8h0m0.8-6.1h0m6.3 68.2h0m2.3-56.4h0m0.7 76.8h0m0.7-16.4h0m2.4-35.1h0m6.1 44.6h0"/>
<path d="M1178.1 155h0m5.6 1.2h0m4 32.3h0m2.1-51.7h0m2.7 17h0m1 27.3h0m2.3-83.4h0m2.7 45.4h0m0.8-2.6h0m0.1-12.4h0m0.5 57.6h0m0.1-5.1h0m0-28h0m0.5 44.1h0m0.1 0.7h0m0.3 9h0m0.1-54.8h0m0.4-25.7h0m0.2 109.2h0m0.4-59.2h0m0.1-57.9h0m0.3 10.2h0m0.3 76.2h0m0.7 30.9h0m0.1-109.6h0m0.2-31.6h0m0.3 109.1h0m0.5-34.8h0m0-35.5h0m1-40.9h0m0.9 101.8h0m0.2-38.3h0m0.1 57.1h0m0.5-36h0m0.8-55.7h0m0.4 93.5h0m0.5-8.1h0m0.8-111.9h0m0.2 61.6h0m0.1 22.5h0m0.1-6.3h0m0.4-41.7h0m0 43h0m0.6-60.3h0m0-6h0m0.1 143.7h0m0.3-38.2h0m0-36.5h0m0.2 0.4h0m0 35.6h0m0.8-118.9h0m0.2 2.5h0m0 100.3h0m0.1-46.3h0m0-17.2h0m0.6 69.5h0m0.5-27.2h0m0 97.2h0m0.1-67.9h0m0.4-33.9h0m0.8 18.5h0m0 12.2h0m0.5-13.9h0m0.1-12.4h0m0.6-8.3h0m0.4-43.7h0m0.2 78h0m0.6-11.6h0m0.4 27.8h0m0.1-37.4h0m0.3 12.8h0m0.4-46.2h0m0.1 14.9h0m0.8 63.6h0m0-15.3h0m0.1-92.4h0m0.5 35h0m0.3 67.9h0m0.1-36.6h0m0-2.9h0m0.1-40.4h0m0.2-4h0m0.2 49.2h0m0.2-20.6h0m0.1 55h0m0-41.8h0m0.4-48.2h0m0.1 28.5h0m0 47.7h0m0.9-58.9h0m0.4 18.8h0m0 4.2h0m0 34.6h0m0-41.4h0m0.2 7.2h0m0 8.6h0m0.2-28.9h0m0.4 47.5h0m0.1-17.6h0m0.4 9h0m0-66.1h0m0 16.1h0m0.1 33.1h0m0.1-30.5h0m0.1 26.4h0m0.1 17.5h0m0.2-2.7h0m0.1-39h0m0 40.9h0m0.1-40.6h0m0.1 60h0m0.2-17.2h0m0.5-61.3h0m0.4-12.6h0m0.7 44.9h0m0.2 15.2h0m0.2-97.5h0m0.6 106.9h0m0.1-87.6h0m0.2 60.8h0m0.2-40.8h0m0.5 74.4h0m0.2-10.5h0m0.2 49.7h0m0.2-124.8h0m0.2 5.4h0m0.1 16.8h0m0 55.3h0m0.2 3.6h0m0.1-23h0m0.2 56.7h0m0-33.8h0m0.1-0.4h0m0.2 3.8h0m0 0.1h0m0.1-0.9h0m0.2-35h0m0 23.6h0m0.3-19h0m0.1 52.6h0m0.2-48.9h0m0.1 7.1h0m0-26.8h0m0.5 64.5h0m0.2 1.5h0m0.1-80h0m0-33.6h0m0.3 98.9h0m0.1-1.3h0m0.1 9.3h0m0.6 9.6h0m0.1 13.9h0m0.1-35.7h0m0.1-71h0m0.5 39.1h0m0.1-51.6h0m0 51.8h0m0 34.1h0m0.2-62h0m0.2 87.1h0m0-105.6h0m0 72.6h0m0.2 29.4h0m0-68.8h0m0.2 61.3h0m0.1-9.6h0m0.1-82h0m0.1-10.8h0m0.6 115.2h0m0-51.8h0m0.1 17.3h0m0 13.9h0m0.2-45.9h0m0.1 17.8h0m0.5-0.6h0m0.2 16h0m0.2-2.4h0m0.1-39.6h0m0.1 47.5h0m0.2-86h0m0 63.4h0m0.1-16.2h0m0.1-8.2h0m0 48.4h0m0.1-10.3h0m0-14.9h0m0 7.4h0m0.4-59.1h0m0 52.8h0m0.1 15.8h0m0-14.2h0m0.5-43.7h0m0 20.6h0m0.2 73.9h0m0.1-102.8h0m0 94.1h0m0.1-113.3h0m0 21.5h0m0-39.3h0m0.2 90h0m0.1 7.1h0m0.1-86.1h0m0 25.8h0m0.3 84.6h0m0 31.6h0m0.4-23.7h0m0.1-42.9h0m0.1-53h0m0.1 55h0m0 47.3h0m0.1-73.6h0m0.2 31.7h0m0.3 7.3h0m0.1 6.6h0m0.3-43.8h0m0.5-26.8h0m0.2 82.6h0m0.4 34h0m0-119.8h0m0.1 30.4h0m0-16.5h0m0.6 81.7h0m0.2-13.2h0m0.4-27h0m0-56.8h0m0.1 55.6h0m0.6-56.6h0m0.4 46.8h0m0.1-37.4h0m0.1 13h0m0 2.3h0m0 45.1h0m0.3 4.2h0m0.2-7.6h0m0.3 2.6h0m0-13.5h0m0-69.6h0m0.3 7.7h0m0 73.7h0m0.1-91.8h0m0 89.7h0m0-13.1h0m0.3 52.3h0m0.1-36.2h0m0.1-27.3h0m0.6 24.9h0m0.1-12.3h0m0.2 55.1h0m0.1-44.2h0m0.2 7.4h0m0.1-48.3h0m0.3-19.6h0m0 68.8h0m0.1 26.3h0m0.1-30.6h0m0.1-53.7h0m0.1-45.2h0m0.1 120.7h0m0.1-107.8h0m0 107h0m0-81.1h0m0.4 32.4h0m0.4-31.5h0m0.2 60.2h0m0-49.1h0m0.1-29.9h0m0.1 40.8h0m0.4 1.3h0m0 50.9h0m0.1 5.7h0m0.2-81.1h0m0.1 21.2h0m0.1-47.8h0m0.1 44h0m0 28.3h0m0.1-36.5h0m0-26.5h0m0.1 2.3h0m0 0.2h0m0.1 71.3h0m0.3-35.8h0m0.3 7.4h0m0.1 42.5h0m0.1 30.1h0m0-130.9h0m0.1 72.1h0m0.1-9.2h0m0.1 38.7h0m0.1-68.3h0m0.1 51.3h0m0.1-1.5h0m0-35.9h0m0 52.9h0m0.1-78.7h0m0.1 37h0m0.1 86.8h0m0.2-44h0m0-96.4h0m0 20.7h0m0.1 17h0m0.3 23.4h0m0.1-33.5h0m0 78.6h0m0.2-47.5h0m0.1 68.2h0m0.1-30.9h0m0.2-111.3h0m0.2 103h0m0.1-63.5h0m0 56.6h0m0.2 11.6h0m0.2-64.3h0m0.1 38.7h0m0 59.9h0m0.2-109.7h0m0 116.5h0m0.1-20.6h0m0.1-74.1h0m0.1-16.2h0m0.1 36.7h0m0 33.1h0m0.1-58.3h0m0.3 40.6h0m0.1 29.2h0m0-1h0m0.3-38.2h0m0.1-79.9h0m0 15.5h0m0.2 22.3h0m0.1 28.1h0m0 1.4h0m0.2 51.3h0m0.1 19.8h0m0.1-118.8h0m0.7 57.8h0m0.1 28.5h0m0.2-12.1h0m0-54.9h0m0 98.8h0m0.1 4h0m0.2-21.7h0m0.1-59.9h0m0.1 45h0m0.1 9h0m0.1-17.3h0m0.1 0.4h0m0-41.8h0m0.1-29.5h0m0.2 97.8h0m0.1-22.7h0m0-22.6h0m0.2-25.8h0m0.1 46.7h0m0-6.9h0m0 6.6h0m0.1-55.5h0m0 3.5h0m0.4-8h0m0.1 77.1h0m0.1-42.3h0m0.1-21h0m0.4 52.3h0m0.3-20.9h0m0.3-51.2h0m0 63.4h0m0.2-63.1h0m0.3 52.5h0m0-38.8h0m0.2-24.9h0m0 35.8h0m0.2 41.4h0m0.2-40.9h0m0.2 72.1h0m0.1-40.3h0m0-63.8h0m0.6 65.4h0m0.1 42.7h0m0-57h0m0.3-21.4h0m0.2 48.4h0m0-58.6h0m0.1-37.4h0m0.1 15.6h0m0.2 78h0m0-28.5h0m0 36.5h0m0.3-13.1h0m0.1 33.6h0m0-116.1h0m0.1 100.4h0m0.2-121.4h0m0.1 71.4h0m0.1 15.1h0m0.1 32h0m0.1-41.6h0m0.1 2.5h0m0 56.8h0m0.2-25.5h0m0-43.6h0m0.2-31.9h0m0 73.1h0m0.1-88h0m0.1 7.4h0m0 63.4h0m0 23.7h0m0.3-5.1h0m0.2-83.7h0m0.2 67.7h0m0.3 44.1h0m0.2-80.8h0m0.2 36.7h0m0.1-9.4h0m0 24.8h0m0.1-2.2h0m0-86.9h0m0.3 88.7h0m0.1-11.6h0m0-5.5h0m0.2-37.2h0m0.2 87.2h0m0-56.6h0m0.2-6h0m0.2 50.8h0m0.1-27.3h0m0-10.3h0m0.1 48.8h0m0.4-56.6h0m0-21.3h0m0.1 37.8h0m0.1-74.7h0m0.1 9.8h0m0-17h0m0.1 80.6h0m0.2-34.9h0m0.3-6.1h0m0.1 79.5h0m0-133.3h0m0.3 166.9h0m0-22.4h0m1.1-136h0m0 149.2h0m0.2-161.6h0m0.2 11.5h0m0.3 102.4h0m0-41.4h0m0.1-0.4h0m0.1-36.8h0m0.1 43.9h0m0.2 11.5h0m0-66h0m0.2 20.8h0m0.1 19.1h0m0.1 5.1h0m0.9-1.4h0m0.2-65.6h0m0.1 70.1h0m0-15.4h0m0.2 27.1h0m0 16.4h0m0-80.4h0m0.1 90.5h0m0.1-101.9h0m0.1 19.6h0m0.3 85h0m0.1-87.8h0m0.3 106.6h0m0-12.2h0m0.1 12.5h0m0-112.8h0m0.1 46.8h0m0.1 45h0m0.5-72.4h0m0.1 58.7h0m0 53.4h0m0.3-50.1h0m0-9.5h0m0.1 12.3h0m0-41h0m0-10.3h0m0 14.8h0m0.4 48.7h0m0.3-37.4h0m0.1 25.1h0m0.9-42h0m0-22.2h0m0.1-2.9h0m0-4.5h0m0.3-20.6h0m0.1 2.6h0m0.2-11.7h0m0 51.1h0m0-32.2h0m0 18.5h0m0.1 79.5h0m0.2-114.8h0m0.2 156.9h0m0.2-135.8h0m0 67.7h0m0.1-67.8h0m0.2 40.9h0m0.2-56.8h0m0.2 50.9h0m0.1 46.1h0m0.1-102h0m0 162.8h0m0-172.9h0m0.2 90.8h0m0.3-64.8h0m0 33.8h0m0.3 21.7h0m0-66.8h0m0.1-0.6h0m0.4 96.1h0m0.2-81.9h0m0.1 77.5h0m0-7h0m0-87.3h0m0.1 17h0m0-10.6h0m0.3 51h0m0.3 32.2h0m0.1 5.3h0m0-13.3h0m0.2-76.5h0m0.8 102.6h0m0.1-87.7h0m0.1 9.4h0m0-17.7h0m0 115.5h0m0-52.3h0m0.2-43.7h0m0-30.9h0m0 121.6h0m0.1-132h0m0.1 40.4h0m0.3 65.7h0m0.1 33.4h0m0.3-81.2h0m0.1-32.5h0m0.3 4.9h0m0.1 133.6h0m0-60.7h0m0.7-33.2h0m0-5.6h0m0.1-46.1h0m0.1 95.4h0m0-40.9h0m0.3 35.9h0m0.1-76.6h0m0.1-11.5h0m0.1 31.4h0m0.3 61.4h0m0.1-74h0m0.1 55.6h0m0.1-74.8h0m0 121.3h0m0-66.4h0m0.1 66.3h0m0.2 19.2h0m0.1-133.2h0m0.2 35.1h0m0-54.2h0m0.1 95.2h0m0.1 6.1h0m0-48.2h0m0.1-8.7h0m0.3 25.2h0m0 18.3h0m0 25.7h0m0-74.6h0m0.1 71.5h0m0.3-53.6h0m0.1 1.8h0m0.1-20.4h0m0.1-46.6h0m0 2.2h0m0 108.8h0m0.2-91.1h0m0.1-7.9h0m0 61.7h0m0-37.3h0m0.1 41.8h0m0.1-69h0m0 25.5h0m0.1 34.6h0m0-59.5h0m0.2 15.8h0m0.3 23.8h0m0.4-33.9h0m0.2 8.7h0m0.1 50h0m0.1-8.7h0m0.1 29.6h0m0 48.8h0m0.1-92.1h0m0.3 22.2h0m0.2 21.2h0m0.2-4.5h0m0-61.2h0m0-8.7h0m0.1 76h0m0.2-70.6h0m0.1-17h0m0.1 68.5h0m0.1 60.4h0m0.1-112.4h0m0.2-8h0m0 5.8h0m0.1-15.8h0m0 15.6h0m0-6.8h0m0.1-5.3h0m0.3 9.8h0m0.2 1.7h0m0-22.7h0m0.1 33.2h0m0.1 25.4h0m0.1-41.2h0m0.1-19.2h0m0.1 8.6h0m0.2 44.6h0m0 14.3h0m0.1 74.2h0m0.5-0.2h0m0-76.4h0m0.2 30.8h0m0-56.8h0m0.1-26.5h0m0 64.1h0m0.2 26.9h0m0.4-75.5h0m0-22.3h0m0.1 123.3h0m0.1-108.4h0m0.1 29.4h0m0.3 12.4h0m0.1-54.1h0m0 4.5h0m0.4 17.6h0m0.2-11.8h0m0.1 2.1h0m0 46.2h0m0.1 20.5h0m0-29.9h0m0 54.8h0m0.1-39.1h0m0.1 28.5h0m0.2-65.9h0m0-35.7h0m0.1 13.9h0m0.3 1.4h0m0.3-3.1h0m0.3 18.4h0m0-15h0m0.1 50.4h0m0-47.3h0m0 75.3h0m0.2-80.2h0m0.1 17.1h0m0.4 29.5h0m0-34.3h0m0.3 12.8h0m0 7.7h0m0.1 32.7h0m0-65.3h0m0.1 124.1h0m0-134.9h0m0 26.5h0m0.1-28.7h0m0.1 38.6h0m0.1 13.8h0m0.2-29h0m0.1 15.7h0m0 36.3h0m0.1-51.2h0m0.5 2.7h0m0 6.8h0m0.2-17.9h0m0 131.5h0m0.2-126.4h0m0 3h0m0 34.1h0m0.1-55.5h0m0.3 27.7h0m0.1-3.5h0m0 118.6h0m0.2-129.4h0m0.1 16.2h0m0.1 98.6h0m0.1-107.7h0m0.2-3.4h0m0 67.7h0m0.1-66.1h0m0.1-7.3h0m0.1-2.6h0m0.1 80.7h0m0-74.5h0m0.1 63.2h0m0-49.6h0m0.1 32.9h0m0.1-66h0m0.2 44h0m0.1-45.3h0m0 98.9h0m0.2-79.5h0m0.1 8.3h0m0 36.1h0m0.1-54.3h0m0 17.4h0m0.2 41.3h0m0.2-45.7h0m0 28.2h0m0 82.6h0m0.4-52.2h0m0-60.4h0m0-13.9h0m0.1 73.8h0m0.1-55.6h0m0.1 76.9h0m0.1-87.2h0m0 72.8h0m0.1-1h0m0.1-60.4h0m0.3-2h0m0.1 6.8h0m0 77.3h0m0-98h0m0.2 2.9h0m0 14.2h0m0.1 61.3h0m0-72.6h0m0.1-9.6h0m0 12.7h0m0.1-16.3h0m0 8.3h0m0 14.2h0m0 4.2h0m0.3 25.4h0m0.1-29.9h0m0-3.7h0m0.1-4.7h0m0.2 9.5h0m0.2 4h0m0.1 25.9h0m0-34.4h0m0.2-7.1h0m0.2-4.7h0m0.3 20.1h0m0 0.8h0m0.1-2.8h0m0-6.6h0m0.1-6.8h0m0.2 27.5h0m0-24.5h0m0.2 63.3h0m0-59.7h0m0.1 5h0m0 31.3h0m0.1-32.2h0m0.1-2.7h0m0.1 108.7h0m0-55.9h0m0.1-49.5h0m0.1 23.6h0m0-41.2h0m0 19.1h0m0.1-8.2h0m0 8.8h0m0 84.6h0m0-55.2h0m0.1-42.8h0m0.1-0.2h0m0.1 32.8h0m0.1-27.7h0m0.1-8.7h0m0 15.5h0m0 65.9h0m0-72.7h0m0 3.2h0m0-7.5h0m0-9.6h0m0.1 14.5h0m0-3.4h0m0.3 97.4h0m0-79.2h0m0.1 72.3h0m0.1-75.1h0m0.1 24h0m0-36.8h0m0.4 90.3h0m0-34.6h0m0.1-54.7h0m0 20.2h0m0.1-11.9h0m0.2-7.5h0m0.1 17.2h0m0-18.6h0m0 77.4h0m0.1-23.8h0m0-38.6h0m0.1-11.7h0m0.1 99.2h0m0.1-80.2h0m0 11.3h0m0.1-10.8h0m0.1-10.3h0m0-17h0m0 73.7h0m0.1-66.2h0m0 44.8h0m0-49.9h0m0.2-5.9h0m0 7.6h0m0.3-12.4h0m0 30.8h0m0.1 47.8h0m0.2-50.1h0m0-23h0m0.1 13.3h0m0 18.1h0m0.2-19.4h0m0.3-1.2h0m0-20.7h0m0.1 61.1h0m0.1-25.1h0m0 47.6h0m0-62.1h0m0-6.3h0m0 8.8h0m0.2 61.5h0m0-54.5h0m0-3.6h0m0.1-22.6h0m0 19.9h0m0 12.2h0m0.2-2.9h0m0.1 19.9h0m0.1-36.6h0m0.2 9.2h0m0 5.2h0m0 0.6h0m0.1-13.7h0m0 6.2h0m0-7.2h0m0.1-8.6h0m0 93.2h0m0.1-90.4h0m0.1-12.9h0m0.1 89.2h0m0-65.3h0m0.1-11.8h0m0 3.3h0m0.1 91.7h0m0.2-82.3h0m0.2 0.4h0m0.2 117.7h0m0-130.7h0m0.4 12.3h0m0 100.1h0m0-92.6h0m0.3-29.1h0m0 32h0m0 39.1h0m0.1-52.7h0m0 90.1h0m0.1-82.7h0m0.2-10.1h0m0 9h0m0.3-12.3h0m0 29.1h0m0 40.4h0m0.1-62h0m0.2-15.2h0m0 12.3h0m0-2.5h0m0.1 0.8h0m0.2-19.6h0m0 9.1h0m0 41.9h0m0.2 27.5h0m0-38.4h0m0 76.6h0m0-88.1h0m0.1-16.3h0m0-3.1h0m0.1 19h0m0 64.8h0m0.1-72.1h0m0 23.3h0m0-10.2h0m0.1-10.8h0m0.1 13.3h0m0.1-22.4h0m0.1 21.6h0m0-23h0m0.1 15.4h0m0.1-7.4h0m0.1-0.3h0m0 4.2h0m0-0.2h0m0.1 42.8h0m0.1 63.4h0m0-114.3h0m0.1-14.8h0m0 26.8h0m0-1h0m0.1-14.2h0m0.1 11.1h0m0-3.7h0m0.1 1.7h0m0 15.9h0m0.1-8.5h0m0.2-9.9h0m0.2-7.8h0m0 6.3h0m0 4.7h0m0.1 0.4h0m0.1 83.3h0m0.2-96.4h0m0.1 23.7h0m0.1-7.8h0m0 15.3h0m0.1-22.7h0m0 5.9h0m0.1 26.1h0m0.1 35.4h0m0-31.1h0m0-29.6h0m0.1 3.4h0m0.3 33.9h0m0 21.2h0m0-44.1h0m0.1-25.1h0m0 12.3h0m0-12.5h0m0 61.5h0m0.1-53.7h0m0 3h0m0.1 13.9h0m0-24.4h0m0 14.2h0m0.2-9h0m0.1-12.5h0m0 29.8h0m0.3-10.1h0m0-9.9h0m0.1-4.4h0m0 0.9h0m0 6.6h0m0.1 41.6h0m0-43.3h0m0.1 9.1h0m0.1-0.5h0m0-6.7h0m0 126h0m0-131.7h0m0.3 5.4h0m0.1 14.6h0m0.1 53.7h0m0.1-62.6h0m0-6.5h0m0.1 11.1h0m0-0.2h0m0.1 165.3h0m0.1-92.2h0m0.2-82.7h0m0-26.7h0m0.1 23.2h0m0 11.3h0m0 61.6h0m0.2-72.5h0m0.2-0.6h0m0 3.1h0m0-12.9h0m0 16.1h0m0.2 20.7h0m0-12.4h0m0-16.8h0m0.1 24.1h0m0-7.8h0m0.1 7.3h0m0-27.4h0m0 21.3h0m0.1 8h0m0-25.9h0m0-9.3h0m0 16.5h0m0.1-3.6h0m0-8.5h0m0.1 11.2h0m0.1-0.9h0m0.1 5.7h0m0.1-15.1h0m0 61h0m0 72h0m0.3-129.5h0m0 53.6h0m0-44.8h0m0.1 6h0m0-10.3h0m0.1 22.1h0m0.1-11.3h0m0.2-3.2h0m0-7h0m0.1-4.7h0m0-8h0m0.1 91.3h0m0-100.3h0m0 15h0m0.2-4.8h0m0 3.6h0m0 71.5h0m0.1-67.4h0m0.3 18.3h0m0-25.5h0m0 16.1h0m0-17.8h0m0.1 16.2h0m0-2.3h0m0 4.8h0m0-2h0m0-1.9h0m0.2 38.3h0m0-42.5h0m0.1-0.7h0m0.2 10.9h0m0.2-23.1h0m0 5.8h0m0 35.4h0m0-33.8h0m0.1 6.9h0m0.1-1.3h0m0-7.2h0m0 3h0m0.1 2.2h0m0.1 8.5h0m0-10.7h0m0 7.4h0m0 5h0m0 16h0m0.2 2.4h0m0-21h0m0.1 21.1h0m0.1-17.4h0m0-15.6h0m0.1 3.6h0m0 3.3h0m0.1 7.6h0m0-2.7h0m0-10.3h0m0 1.4h0m0.1 0.6h0m0 2h0m0.1 3.6h0m0 53.9h0m0.1-41.6h0m0-10.7h0m0-2.9h0m0.1 55.6h0m0-60.1h0m0.1-2.3h0m0.1 174.2h0m0-156.3h0m0.2-16.2h0m0 24.5h0m0.1-13.1h0m0.1-11.2h0m0-1.9h0m0 11.3h0m0.1 11h0m0-35.4h0m0 20.4h0m0.1 5.1h0m0-16.2h0m0.1 1.7h0m0-7.2h0m0.1 135.4h0m0 13.8h0m0.1-126.5h0m0-9.7h0m0.1 4.4h0m0.2 4.3h0m0.1 49.2h0m0-54.1h0m0 94.8h0m0.1-95.1h0m0.1 1.5h0m0 3.2h0m0 1.8h0m0-9.8h0m0.1-0.4h0m0 9h0m0.2-0.6h0m0.2 63.6h0m0.1-72h0m0.2 32.8h0m0-22.3h0m0-0.2h0m0.2-4.5h0m0.1 5.3h0m0-25.9h0m0.1 13.7h0m0 70.5h0m0-64h0m0.1 14.2h0m0.1-28.6h0m0 9.9h0m0.2-9.6h0m0.2 149.9h0m0-67.1h0m0.1 24.7h0m0-104.1h0m0 12.3h0m0.3 1.9h0m0 13h0m0-36.2h0m0.2 26.1h0m0 3h0m0.1 0.3h0m0-31.4h0m0.2 19.8h0m0 10.7h0m0.1-8.5h0m0-1h0m0 26.3h0m0-8.3h0m0-26.4h0m0.2 1.1h0m0.1 48.5h0m0-33.9h0m0.1 69h0m0.1-72.6h0m0-15.4h0m0.2 5.1h0m0 2.8h0m0.1 12.7h0m0 103.9h0m0-99h0m0-18.6h0m0-4.3h0m0.1-11.4h0m0 18.6h0m0 0.9h0m0 45.9h0m0.1-36h0m0 7.7h0m0-9.4h0m0.2 18.6h0m0-15h0m0-16h0m0 18.2h0m0-6.4h0m0 16.7h0m0-38.4h0m0.2 25h0m0-12.1h0m0 4h0m0.1 14.5h0m0 101.6h0m0-62.4h0m0-53.8h0m0.1 6h0m0.1 12.6h0m0 16.4h0m0.1-29.9h0m0 6.4h0m0-16.4h0m0 5.6h0m0.1 5.4h0m0 11.3h0m0.1-15h0m0-15.1h0m0 53.3h0m0-47.6h0m0 13.1h0m0.1-14.1h0m0.1 2.5h0m0 69.5h0m0.2-46.8h0m0.1-24.2h0m0.3 16.5h0m0.1-25.4h0m0-2.3h0m0 26.4h0m0-11h0m0 10.5h0m0.1-7.1h0m0 83.2h0m0.2-78h0m0.1 2.9h0m0.2-5.4h0m0-3.7h0m0.1 1.3h0m0.1 2.6h0m0-22.7h0m0.1 21.3h0m0-8.1h0m0-7.2h0m0 15.2h0m0.1 10.4h0m0-17.1h0m0 21.3h0m0-26.9h0m0 26h0m0-25.6h0m0.3 8.9h0m0 135.5h0m0-137.4h0m0.1 11.5h0m0.1-21h0m0.1-8.4h0m0.1 21.7h0m0 14.3h0m0 96.6h0m0.1-117.3h0m0-1h0m0.1-1.3h0m0 1.7h0m0 16.3h0m0.2-19.7h0m0 35.6h0m0.1-21.6h0m0-9.1h0m0.1 6.1h0m0.1 7.5h0m0.1-11.9h0m0 7.3h0m0-4.6h0m0.1 11.7h0m0-12.8h0m0-1.5h0m0.1 7.6h0m0-7.4h0m0 18.9h0m0.1 21.8h0m0-50.2h0m0 1.9h0m0.1 11.1h0m0 0.2h0m0.1 1.6h0m0-10.4h0m0 13.2h0m0-18.7h0m0.1 5.6h0m0.1 5.4h0m0-7h0m0.1-0.1h0m0 14.4h0m0 3.1h0m0-15.8h0m0.2 9.5h0m0.1-10.2h0m0 13h0m0.1 0.1h0m0.3-9.2h0m0.2-4.9h0m0.1 4.4h0m0.2 8.5h0m0 3.4h0m0-11h0m0 10.2h0m0.1-2.7h0m0-3.1h0m0.2 5.1h0m0 65.7h0m0.1-80.9h0m0.2 14.9h0m0.1-3.2h0m0.1-2.3h0m0-5.4h0m0.1 18h0m0.1-10.2h0m0.1-9.2h0m0.1 2.3h0m0 2.7h0m0-5.8h0m0-0.4h0m0 9.6h0m0.2-1.6h0m0.1 3.2h0m0-6.9h0m0 25.2h0m0.1-19.8h0m0.1-13.7h0m0.1 2.2h0m0.1-2.7h0m0 43.2h0m0.1-26.8h0m0 133.1h0m0.1-45.6h0m0.1-94.6h0m0 1.8h0m0-4.2h0m0.2-5.1h0m0 6h0m0 20.7h0m0-15.3h0m0.3-11.9h0m0.1 5.7h0m0 20.2h0m0.1-10.3h0m0 8.6h0m0.2-9.9h0m0 47.6h0m0.2-29.2h0m0.1-29.3h0m0 2.1h0m0.1 9.7h0m0-17h0m0.1-3.7h0m0 16.7h0m0-6.2h0m0-12.2h0m0 34.1h0m0.1-25.8h0m0.1 10.5h0m0 60.6h0m0.2-66.2h0m0.1 7.9h0m0.1 98.2h0m0-100h0m0 28.5h0m0.1-28.1h0m0-0.2h0m0.1-11.5h0m0.2 25.5h0m0-18h0m0.1-13.6h0m0.1 28.6h0m0.1-13.2h0m0.1-6.7h0m0.1 62.8h0m0.1-69.2h0m0.1 12.2h0m0.1 15.9h0m0 2.9h0m0.1-14h0m0-21.4h0m0.1 33.4h0m0-20.3h0m0.1 0.8h0m0-9h0m0 22.2h0m0-23h0m0 31.7h0m0.2-11.2h0m0 6.1h0m0.1-15h0m0 1.4h0m0.1 50.3h0m0-51.9h0m0.1 15.7h0m0.1-15.1h0m0-24.7h0m0.1 26.7h0m0 6.4h0m0.1 19.6h0m0-30.6h0m0.1 10.3h0m0.2-19.6h0m0 27.6h0m0.1-3.2h0m0.1 36.4h0m0-56.1h0m0 111.9h0m0-97.7h0m0.2-11.3h0m0-5.6h0m0.1 24.8h0m0.1 49.7h0m0.3-69.7h0m0 9.6h0m0.2 1.7h0m0.1-15.2h0m0 82.6h0m0-74.7h0m0.1 47.9h0m0-51.9h0m0.1 9.8h0m0 3.9h0m0.1-1.9h0m0 1.2h0m0-10.4h0m0.2-3.8h0m0 18.1h0m0.2-22h0m0 9.3h0m0.2-11.5h0m0.1 12h0m0.1-10.1h0m0 14.7h0m0 4.5h0m0-16.4h0m0.1 7.2h0m0-6.1h0m0 11.2h0m0.1 45.5h0m0.3-56.4h0m0.3-3.9h0m0.1 97.9h0m0.1-86.2h0m0-8.7h0m0 17.4h0m0.2-10h0m0-9.7h0m0 11.9h0m0-0.2h0m0 73.5h0m0.1-66.6h0m0.1-20h0m0 6.7h0m0.1 3.7h0m0 23.1h0m0.1-18.2h0m0.1-0.7h0m0-9.7h0m0 12.3h0m0-8.7h0m0.1-8.5h0m0 27.5h0m0-16.4h0m0.1-4.1h0m0 4.3h0m0-10.5h0m0.1-9.5h0m0.1 21.1h0m0 9.8h0m0.1-5.5h0m0-10h0m0-1.2h0m0 10.3h0m0.1-13.1h0m0 2.8h0m0-3.3h0m0.1-6.5h0m0 27.4h0m0-8.5h0m0.1 2.9h0m0.2 6.8h0m0-12.3h0m0 10.1h0m0.1-0.5h0m0.2-14.1h0m0.1-3.8h0m0.1 13.4h0m0.1-16.5h0m0.1 5.3h0m0.1-3h0m0 5h0m0.1 15h0m0.3-22.2h0m0.1 28.2h0m0 9.9h0m0.1-19.8h0m0 1h0m0.2-17h0m0 15.3h0m0-21.2h0m0.1 30h0m0.1-25.3h0m0 20.9h0m0-22.1h0m0 3.2h0m0 4.3h0m0.1 0.5h0m0.1 4h0m0.2-12.3h0m0-4.7h0m0.1 18.9h0m0.1 1.7h0m0.1 6.1h0m0 5.5h0m0.2-8h0m0.2-1.5h0m0 0.8h0m0-2.9h0m0 0.8h0m0 6.3h0m0-11.2h0m0-16.5h0m0.2 14.4h0m0 27.8h0m0.4 34.7h0m0-57.3h0m0.1-5.9h0m0.1 131.5h0m0.1-120.8h0m0-4h0m0.1 11.8h0m0 11.9h0m0.1-20.5h0m0-4.3h0m0-11.3h0m0-11.2h0m0.1 7.2h0m0 19.5h0m0.1-8.3h0m0.1 101h0m0.1-116.5h0m0.2 29.9h0m0-10.9h0m0-1.2h0m0 70.2h0m0.2-70.9h0m0-11.2h0m0.2 22.5h0m0.1-21.6h0m0 16.4h0m0-4.4h0m0.1-4h0m0.1 15.5h0m0-1.6h0m0.1-30.5h0m0 24.8h0m0.1-16.4h0m0.1 16.4h0m0.1-21.1h0m0.1 2.3h0m0 13.6h0m0.2-14.8h0m0.2 14.5h0m0.1-1.2h0m0.2-9h0m0.1 17h0m0-5.1h0m0.1-2.6h0m0 5.9h0m0-15.6h0m0.3 10.1h0m0 10h0m0.2 40.3h0m0.1-38.6h0m0-11.4h0m0.4 6.5h0m0-22.5h0m0.1 115.4h0m0-111.7h0m0.1 17.9h0m0.2-5.8h0m0-8.7h0m0-2.4h0m0.1-1.2h0m0.2 6.9h0m0.2-13.2h0m0.1 9.6h0m0 17.9h0m0-21.8h0m0 16.9h0m0.1 113.2h0m0.2-121.7h0m0-0.6h0m0 0.6h0m0.2 14.1h0m0-10.3h0m0.2-16.1h0m0.1 28h0m0.1-11.5h0m0.1 1.8h0m0 44.4h0m0-55.3h0m0-6.8h0m0.1 6.2h0m0 11.9h0m0.1 5.8h0m0.1-26.1h0m0.2 6.7h0m0 16.6h0m0.1-5.3h0m0-1.3h0m0.5-5.3h0m0 10.8h0m0.1 13.2h0m0.1 69.4h0m0.3-84.7h0m0.2-11.2h0m0.1 6.7h0m0.2-9.3h0m0 0.6h0m0 19h0m0.2 7.1h0m0 0.6h0m0.4-12.9h0m0.1-4h0m0.4-1.2h0m0.2 2.9h0m0 1.5h0m0.1-5.2h0m0-5.6h0m0.2 17.2h0m0-12.3h0m0 5.6h0m0.2 8.2h0m0-13.2h0m0.2 17.3h0m0-19.9h0m0.1 22.6h0m0.1-16h0m0.5 50.2h0m0-36.1h0m0-20h0m0.1 0.1h0m0.1 7.9h0m0.1 12.6h0m0.2 5.7h0m0.1-27.3h0m0-4.7h0m0.1 7h0m0.1-2.1h0m0 5.9h0m0.1 4.6h0m0-18.4h0m0.1 24.3h0m0.1-2.6h0m0-7.8h0m0.1 11.6h0m0.2-22.5h0m0.2 9.7h0m0-7.3h0m0.1 15.6h0m0.1-18.9h0m0.2 3h0m0.1 31.2h0m0.3-17.9h0m0.1-8.7h0m0.1 18.8h0m0.4-17.9h0m0.1 7.3h0m0.2-9.7h0m0 7.1h0m0.1 9.8h0m0.3 1.9h0m0.1-20h0m0 21.9h0m0-16h0m0-2.6h0m0.1-1.9h0m0.1-1.8h0m0.1-4.1h0m0.1 0.9h0m0 20h0m0.4-14.6h0m0.2 9.7h0m0-5.1h0m0.2-3.2h0m0.2 8h0m0.4-17.7h0m0 2.8h0m0.2 9h0m0.1 3.2h0m0 9.1h0m0.3-0.8h0m0.1-14.7h0m0.5-12.8h0m0.1 33.8h0m0.1-32.7h0m0.2 30h0m0-15.3h0m0.1 6.3h0m0.1-22.8h0m0.2 17.9h0m0.3 11.5h0m0.2-19.3h0m0 15h0m0.1-0.7h0m0.2-19.9h0m0.1 28.7h0m0-17.9h0m0-7.8h0m0.1-2.5h0m0.3 14h0m0.2-10.9h0m0 5.4h0m0.9-6.6h0m0.1-3h0m0.3 13.6h0m0.3-2h0m0.1-11.3h0m0 2h0m0.5 14.7h0m0-7h0m0.4 7.9h0m0-5.2h0m0.1-2.3h0m0.1-0.2h0m0 6.6h0m0.1-9.1h0m0-6.3h0m0.3 16.8h0m0.1-14.2h0m0.4 15.4h0m0.2-2.2h0m0-4.7h0m0-6.9h0m0.1 6h0m0.1 1.9h0m0.3-3.5h0m0.3 3.9h0m0.2-1.8h0m0.2 46.1h0m0.3-61.2h0m0.1 13.7h0m0.1 6.6h0m0.1 101.2h0m0.2-101.7h0m0.1-3.1h0m0.3 9h0m0.4-8.2h0m0.3-6.7h0m0.1 18.3h0m0.3-19.6h0m0.1 12.1h0m0.2-22.5h0m0.3 8.9h0m0.2-9.5h0m0.2 7.2h0m0.1-3.2h0m0.5 19.6h0m0.7 95.2h0m0.6-101.9h0m0.3 8.9h0m0.2 1h0m0.1-17.3h0m0.2 11.1h0m0.3 8h0m0.1-26.3h0m0 21h0m0.5 3.9h0m0.2 0h0m0-20h0m1.5 4.9h0m0 14.5h0m0.2 0.8h0m0.1-10.2h0m0.5 6.6h0m0.1-12.1h0m0.1-1.1h0m0.1 2.5h0m0 0.2h0m1.8-7.5h0m0 18.3h0m0.2 129.3h0m0.2-144.9h0m0.3 25.6h0m0.2-21.2h0m0.7 3.2h0m0.2 1.6h0m0.1 4.8h0m0-0.5h0m1.5-3.3h0m1 3.1h0m0.3 2.2h0m0-15.1h0m1 0.9h0m0-1.7h0m0.2 5.1h0m0.7 4.2h0m0.2-11.4h0m0.6 12.1h0m1-3.1h0m0.8 18.4h0m2.6-14.7h0m0-6.2h0m0.6 4.5h0m0.2 56h0m2.2-32.9h0m0.5-27.8h0m2.5 2.4h0m0.3 113.5h0m0.2-77.3h0m0.5-41h0m1.6 6.3h0m1.2 16.3h0m3.2-17h0m0.1 0.7h0m0 110.8h0m11.7-116h0m0.8 7.4h0m0.4-7.8h0m38.3 14.1h0"/>
<path d="M1180.3 137.5h0m1.4 67.3h0m2.2-66.8h0m5.8 37.9h0m1.3 1.4h0m0.9 18.6h0m0.2-39.6h0m1.6-3.5h0m0.8 74.8h0m0.5-89.5h0m2.1 51.5h0m1.5 40.9h0m0.8 3.4h0m1.2-42.4h0m0.7-14.7h0m0.3-74.5h0m0.4 100.4h0m0.1 3.2h0m0.4-54.5h0m0.2-12.7h0m0.2 62.9h0m0.1-84.2h0m0.2-9.9h0m0 69.9h0m0.2 24.8h0m0-13h0m0.1-10.8h0m0.5-11.1h0m0.3-15.1h0m0.3 20.4h0m0.5-62.1h0m0.3 80.7h0m0-21.9h0m0 95.3h0m0.7-101.2h0m0.3 39.3h0m0.2-67.3h0m0.2 28.5h0m0.5-4.8h0m1 9h0m0.3 5.5h0m0.5 25.4h0m0.1-23h0m0-40h0m0.1-26.5h0m0 79.9h0m0.5 19.3h0m0.6-16h0m0.3 3.8h0m0-38.7h0m0.3 28.5h0m0.2-6.3h0m0.5-34.4h0m0.1-38.9h0m0.3 60.3h0m0.3 21.9h0m0.1-19h0m0 8.9h0m0.1-9.4h0m0.4-2.1h0m0.2-25.6h0m0.4 68.4h0m0-122.1h0m0.1 103h0m0.2-20.9h0m0.2-27.5h0m0.5-23.6h0m0.3 48.5h0m0.2 29h0m0.1-18.6h0m0.2 3.9h0m0.8-58.3h0m0.1 31.6h0m0 27.9h0m0.1-3.9h0m0.3-4.7h0m0 16.1h0m0.2-60.3h0m0.5 58.5h0m0.1-37.2h0m1.2-6h0m0.2 10.8h0m0.2-6.2h0m0.2-46.8h0m0.5 64.5h0m1.1 18.9h0m0-9.5h0m0.1 38.3h0m0.3-26.1h0m0.1-17.3h0m0.1-85.7h0m0 94.3h0m0.1-34.2h0m0.2-34.2h0m0.2 75h0m0.1-2h0m0.2 6.7h0m0-41.3h0m0 41h0m0.1-76.4h0m0.5 86.1h0m0.1-107.2h0m0.3 19.3h0m0.3 72.5h0m0.2-85.7h0m0.7-13h0m0.1 16.3h0m0.1 36.7h0m0.1-62.4h0m0 32.4h0m0.3 54.8h0m0.2 17.6h0m0.1-21.8h0m0 47.2h0m0.1-47.7h0m0.3-1h0m0.1-27.8h0m0 64.3h0m0.1 24.6h0m0.1 2.9h0m0.2-94.1h0m0 68.5h0m0.2-24.5h0m0 25.1h0m0.3-102.3h0m0.1 60.6h0m0.2 49.4h0m0-25.1h0m0.3-60.7h0m0.3 50.8h0m0.1-12.2h0m0.1 47.9h0m0.4-70.8h0m0 60.3h0m0.4-19.2h0m0-55.2h0m0.1 52.2h0m0.3 56.5h0m0-108.1h0m0.2 66.4h0m0.2-40.7h0m0.1 30.1h0m0.1-19.2h0m0.2 44h0m0.1-23.1h0m0.6-8h0m0.4 15.3h0m0.1 8.1h0m0.1-7.4h0m0-9.2h0m0.3 26.3h0m0-75.6h0m0-39.3h0m0.2 94.8h0m0.4-12.3h0m0.1 17.4h0m0.1-88.3h0m0.2 75.4h0m0.1-82h0m0.1 61h0m0-17.4h0m0.1 15h0m0.2 55.6h0m0.1-31.1h0m0-54.6h0m0 100.2h0m0.4-44.8h0m0.1-24.8h0m0.1 11.4h0m0-72.9h0m0.1 113.9h0m0-29.4h0m0.1-35.6h0m0 9.5h0m0.4 23.5h0m0.2-38h0m0.1 59.3h0m0.1 29.2h0m0.1-47.9h0m0.3-2.1h0m0.1 6h0m0.3 9.8h0m0.2-52.6h0m0.3 86.7h0m0.3-59.2h0m0.7-55.2h0m0 63.2h0m0.1-26.4h0m0-71.6h0m0.3 93.6h0m0.3-7.4h0m0-57.1h0m0.1 78.4h0m0.1 39.1h0m0-37.4h0m0.3 6.4h0m0.2-20.3h0m0.1-10.9h0m0 35h0m0.3-113h0m0 89.1h0m0.1-2.9h0m0.3-21.9h0m0.3 48.9h0m0.4-27.5h0m0.2 21.9h0m0.4 8.9h0m0.1-39.6h0m0 46.1h0m0-5.4h0m0.4-45.8h0m0-3h0m0 10.4h0m0.2 34.6h0m0-33.8h0m0 46.1h0m0.2-12.2h0m0.7-29h0m0.4 11.1h0m0.1 30.4h0m0.1-44.5h0m0-62.7h0m0.1 19.3h0m0.1 52.1h0m0.1 9h0m0-37.1h0m0.1 6.7h0m0.1 46.4h0m0.2-117.5h0m0 83.1h0m0.3-12.7h0m0.1 24.8h0m0.5-20.9h0m0 9h0m0.1-76.2h0m0.1 72.5h0m0.2 43.9h0m0.3-23.7h0m0.1-98.1h0m0.4 107.6h0m0.1-111.7h0m0 28h0m0.1 48.6h0m0.1-51.2h0m0 96.6h0m0.1-14.6h0m0.2 22.9h0m0-15.2h0m0 29.8h0m0.2-83.8h0m0.1-20.1h0m0 63.6h0m0.1 11.4h0m0-24.7h0m0.2-3.9h0m0.2 23.4h0m0.3-11.9h0m0.1 35.9h0m0.1-32.3h0m0.7 6.2h0m0.4 41.8h0m0-148.9h0m0.1 112.4h0m0.1-77.3h0m0.1 41.9h0m0.2-39.9h0m0.2 29h0m0.2 24.4h0m0.2-66.6h0m0.1-28.7h0m0.1 133.8h0m0-112.6h0m0 99h0m0.1-92.1h0m0 60.4h0m0.6 25.6h0m0.4-5.5h0m0.1-83.4h0m0.2 3.4h0m0 79.1h0m0.1-7.5h0m0-40.3h0m0 27.4h0m0.2 30.7h0m0.1-106.7h0m0.1 52.4h0m0.2 35.3h0m0 7.6h0m0.3-64.2h0m0 196.3h0m0.2-118.7h0m0.5-43.2h0m0.1-21.1h0m0.1 20.2h0m0.1-2.5h0m0.1 41.2h0m0-60.2h0m0.1 64.6h0m0.2 0.8h0m0.1-33.2h0m0.3-5.2h0m0 48.8h0m0.2 2.4h0m0.2-0.5h0m0.1-127.2h0m0.3 84.3h0m0 23.1h0m0 5.7h0m0.4-29.3h0m0.2 53.8h0m0-106.3h0m0.1 86.5h0m0.1-57.9h0m0.6 34.1h0m0 39.4h0m0.5-21.8h0m0.2-55.5h0m0-29.1h0m0.1 78.5h0m0 13.2h0m0.1-73.9h0m0.2 16h0m0.1-49.4h0m0 100.1h0m0.2-93.2h0m0.1 88.5h0m0.2-30h0m0 35.3h0m0.1-23.5h0m0.2 54.5h0m0.2-69.9h0m0-78.4h0m0.1 111.8h0m0-16.2h0m0.1-59.4h0m0.2 68h0m0-8.8h0m0.3 13.6h0m0.1-27.1h0m0 39.1h0m0.1-80.6h0m0-33.6h0m0 126.7h0m0.1-74h0m0.1 11.1h0m0.1-54.3h0m0 94.6h0m0-17h0m0.1 10.8h0m0.2-50.6h0m0.1-2.5h0m0.2-1.2h0m0.2 4.9h0m0.2 3h0m0-34.4h0m0 29.7h0m0.3 93.7h0m0.3-133.6h0m0.1-10.4h0m0.3 105.3h0m0.2-54.2h0m0 42.1h0m0.1-37.5h0m0.1-52.1h0m0.1 2.5h0m0.5-0.1h0m0.1 109.8h0m0-83h0m0.1 26.2h0m0 54.5h0m0.1 38h0m0-72.7h0m0.1 47.3h0m0.1-65.6h0m0 28.3h0m0.1-43.8h0m0 3.8h0m0 26.5h0m0.1-5.6h0m0.2 12h0m0-74h0m0 75.9h0m0.1-80.8h0m0.2 120.1h0m0.5-70.9h0m0.1-3.8h0m0-34.2h0m0.1 42.1h0m0.3 13h0m0.4 15.7h0m0.1-19h0m0.1 57h0m0.6-40.7h0m0-67.2h0m0.2 60h0m0.1 78.9h0m0.3-103.8h0m0 51.5h0m0.2 150.4h0m0.2-197.4h0m0.1 58.8h0m0.1-81.3h0m0.1 63.4h0m0-23.5h0m0.2 54.2h0m0-54h0m0-68.2h0m0 50.3h0m0-25.4h0m0.6 165.7h0m0.1-99.9h0m0.1-62.3h0m0.1-44h0m0.1 52.1h0m0.3 81.9h0m0-80.2h0m0.2 60h0m0.2-69.4h0m0 84h0m0.1-85.4h0m0 98.7h0m0.1-127.7h0m0 46.8h0m0.1 75.5h0m0-98.2h0m0.2 39.4h0m0-24.8h0m0-31.3h0m0.1 51.1h0m0 38.3h0m0.2-49.2h0m0.1 63.1h0m0-41.4h0m0 52.1h0m0.2-108.5h0m0-8.1h0m0.5 123.9h0m0-52.7h0m0.2-60.8h0m0 87.9h0m0.1-64.8h0m0 33h0m0 39.6h0m0.1-67.3h0m0.2-28.4h0m0.5 20.8h0m0 52.1h0m0.2-74h0m0.1-8.9h0m0.1 96.8h0m0-31.8h0m0.7-44h0m0.1 69.9h0m0.1-89.8h0m0.1 139.9h0m0-111.5h0m0.1-24.6h0m0.2 83.8h0m0.1 3h0m0.1 69.7h0m0-96.6h0m0.6 20.2h0m0.1-4.1h0m0.4-69.2h0m0.1 70.5h0m0.1 4.2h0m0.1-2.1h0m0-19.1h0m0 71.7h0m0.1-60.5h0m0.2-61.6h0m0 90h0m0.1-12.6h0m0.2-27h0m0-43.5h0m0.1 76.9h0m0-68.6h0m0.1-45.9h0m0.1 151.7h0m0.2-53.6h0m0-58.1h0m0.1-33.3h0m0 39.7h0m0.1 4.5h0m0.1 55.2h0m0.1-72.1h0m0.2 43.8h0m0 12.8h0m0.1-43.3h0m0.2 105.8h0m0.3-84.7h0m0-48.3h0m0.1 5.2h0m0.1 3h0m0.6 16.6h0m0.1 23.5h0m0.2 47.4h0m0.2 25.4h0m0.1-11.5h0m0.4-111.6h0m0.4 66.5h0m0 16.4h0m0.3 3.4h0m0.2-8h0m0-40.8h0m0.1 107.4h0m0.1-148.4h0m0.1 46.6h0m0.2-23.8h0m0 41h0m0.1-8.5h0m0.1-0.3h0m0.1 60.2h0m0.5-98.4h0m0.2 17.7h0m0 0h0m0.1 67.7h0m0.2-6.1h0m0.1-31.7h0m0-50.5h0m0.1 27.1h0m0.4-50.3h0m0.1 17.5h0m0.1 43.2h0m0.1-29.7h0m0.2-19.3h0m0.1 92.2h0m0.1-90.3h0m0 58h0m0.1-62.8h0m0.5 4.1h0m0.2 60.5h0m0-53.8h0m0-18h0m0.2 18.1h0m0-0.7h0m0.1-12.6h0m0 91.3h0m0.4-28.6h0m0.3 21.1h0m0-84.8h0m0.4 11.9h0m0 45.2h0m0.1-33.6h0m0.1-25.6h0m0 42.7h0m0.2-35.8h0m0.2 6.1h0m0.1 73.2h0m0.1-11.1h0m0-22.4h0m0.2 56.5h0m0.1-0.2h0m0-82.4h0m0.1 41.5h0m0.3-17.4h0m0 68.9h0m0.1-103.3h0m0.1-14.5h0m0.1 41.1h0m0.1-11.6h0m0.2 23.6h0m0.1-1.1h0m0.6-9.9h0m0-22.3h0m0.3 47.1h0m0.3-26h0m0.1 14.2h0m0.5-58.2h0m0 3.8h0m0.1 70.4h0m0-47.2h0m0.1-14.1h0m0 40.5h0m0.3 27.3h0m0.1-8.1h0m0.2 10.4h0m0 9.7h0m0-60.1h0m0 19.6h0m0.1 68.1h0m0.1-110.8h0m0 11.1h0m0.1 52.5h0m0-27.1h0m0 25.5h0m0-59.9h0m0 90.7h0m0.2-40.5h0m0.1-46h0m0 64.8h0m0.1-25.7h0m0.1-64.7h0m0.3 93.4h0m0.1 13.8h0m0-53.6h0m0.2 40.3h0m0 33.6h0m0.1-82.9h0m0.1 77.8h0m0-92.5h0m0.1 45.6h0m0.3 36.3h0m0 35.7h0m0.1-137.2h0m0.1 4.3h0m0 109.6h0m0-91.2h0m0.1 68.6h0m0-29.8h0m0-63.1h0m0 32.9h0m0.1-34.8h0m0 14.1h0m0 93.5h0m0.1-89.5h0m0 29.7h0m0.3 23.3h0m0.1 20.3h0m0-73.1h0m0.1 6h0m0 0.3h0m0.1-20.3h0m0 2.8h0m0.1 49.6h0m0.1-31.2h0m0.2 56.4h0m0.1-21.3h0m0 9.1h0m0 59h0m0.1-124.3h0m0 22.8h0m0.2 113.4h0m0.2-102.8h0m0.1 11.5h0m0-8.1h0m0.2 16.5h0m0.1 68.1h0m0-118.6h0m0.1 87.7h0m0.1-77.4h0m0 4.5h0m0.1-2.5h0m0 97h0m0-42.6h0m0.1 56.9h0m0.2-127.6h0m0.1 12.8h0m0.2-4.3h0m0 53.1h0m0.1-56.4h0m0.1 7.9h0m0.1-12h0m0 125.2h0m0-102.2h0m0.1 67.2h0m0.3-88.8h0m0 97.7h0m0.1-68.2h0m0.1 16.3h0m0.1-55.1h0m0.5 144.8h0m0-57.7h0m0.1 36.9h0m0.1 6.2h0m0.2-44.2h0m0.1-49.7h0m0.1-36.8h0m0 6h0m0.1 66.3h0m0 70.5h0m0.6-49h0m0-88h0m0.1 104.6h0m0-63.1h0m0 29.6h0m0-3.8h0m0.1 8.1h0m0.1-63.8h0m0-10.6h0m0.2-0.9h0m0 75.9h0m0-51.3h0m0.2 63.5h0m0-50h0m0-9.9h0m0-12.7h0m0-2h0m0.1 2.9h0m0.1-0.7h0m0-9.8h0m0.2-4.6h0m0 50.1h0m0.1-41.3h0m0.3 34.8h0m0-35.7h0m0-5.1h0m0 13.6h0m0.1-10.3h0m0-12.4h0m0.1 22.9h0m0.5 20h0m0.1-6.7h0m0-30.4h0m0.3 88.6h0m0-4h0m0.1-65.4h0m0.1 46.9h0m0 12.6h0m0-3h0m0-62.4h0m0.1-1h0m0 62h0m0.1-28.5h0m0.1-33h0m0.1 33.2h0m0-37.5h0m0-11h0m0 98h0m0.1 20.1h0m0.1-108.6h0m0 114.7h0m0-77.7h0m0.2-37.6h0m0.1 19.5h0m0.1-9.5h0m0.1 177.3h0m0.1-173.8h0m0.1 0.7h0m0.1 126h0m0-74.2h0m0.2-58h0m0.2 66.6h0m0.1-82.5h0m0 6.6h0m0.1 7.9h0m0 10.7h0m0.1 71.8h0m0 10.5h0m0-75.7h0m0.1 33h0m0.3-49.1h0m0 12.5h0m0.1-36.7h0m0.1 6.9h0m0 15.8h0m0.1-7.3h0m0 101.7h0m0.5-116.5h0m0 56.7h0m0.1-25.6h0m0.1-26h0m0.2 71.5h0m0-61.5h0m0.1 4.6h0m0 8.4h0m0 63.6h0m0.1-9.7h0m0-7.9h0m0.1-64.5h0m0.1 5.7h0m0.1-6.8h0m0.2 42.4h0m0 16.9h0m0.1-38.8h0m0.1-28.2h0m0.2 14.6h0m0.2 2.9h0m0.1 88.2h0m0.1-89.4h0m0.1 1.4h0m0-1.7h0m0 83.6h0m0-78.8h0m0 0.2h0m0.1 36.2h0m0.3-45.1h0m0 15.6h0m0.4 5.8h0m0.1-18.8h0m0.3 20.3h0m0.2 5.6h0m0.1-16.1h0m0.1-9.3h0m0.1 9.8h0m0.1 3h0m0.2 103.2h0m0-119.3h0m0.1 9.1h0m0 1.1h0m0.1 22.3h0m0-32.3h0m0.1 6.3h0m0.1 163.5h0m0-160h0m0-4.3h0m0.1-4.1h0m0.1 70.5h0m0-38.5h0m0.1-30.3h0m0 79h0m0-73.3h0m0.1 20.9h0m0-24.1h0m0.2 11.8h0m0.1-10h0m0.1 2.9h0m0 10.1h0m0.1-25.3h0m0.1 1.8h0m0.1 91.9h0m0-88.9h0m0.1 121.4h0m0-119.9h0m0.1 9.9h0m0.3 3h0m0-14.7h0m0.1 124.7h0m0.1-102.1h0m0.2 0.3h0m0 94.6h0m0-93.2h0m0.1-10.2h0m0 29.6h0m0-32.6h0m0.1 69h0m0.1-21.6h0m0-17.8h0m0-31.1h0m0 42.9h0m0.1-36.1h0m0-8.3h0m0-7.9h0m0.1 7.3h0m0.1-13.1h0m0.1 14.5h0m0.3-9h0m0 67h0m0-49.1h0m0.1 39.5h0m0.1-46.9h0m0-2.7h0m0.1 1.4h0m0.1 118.1h0m0-77.8h0m0.1-29.3h0m0.1-5.7h0m0 4.9h0m0.1 1.1h0m0.1-13.1h0m0 5h0m0.1-3.5h0m0.4 1.1h0m0-0.4h0m0 1.3h0m0.2 86.1h0m0.1-89.5h0m0 4.1h0m0.2-2.3h0m0.2-7.4h0m0.1-4.7h0m0-4.6h0m0.1 8.7h0m0 13.9h0m0.2-13.9h0m0 1.9h0m0.1 11.2h0m0.2 25.1h0m0-39.8h0m0.1-1h0m0 28.1h0m0-10.6h0m0.1-22.5h0m0.3 39.5h0m0-36.1h0m0 146.9h0m0.1-149.2h0m0 22.8h0m0.1-14.2h0m0 6.2h0m0.1 4.9h0m0-12.3h0m0 70.5h0m0.1 36.6h0m0.1-114.3h0m0 4h0m0 2.4h0m0.2 63.7h0m0.1-64.6h0m0.2 8.1h0m0 14.7h0m0 33.2h0m0.3-27.1h0m0 3.6h0m0.2 8.6h0m0-39.2h0m0 54.1h0m0.1 11.5h0m0.1 0h0m0.1-57h0m0 14.9h0m0.1 31h0m0 31.8h0m0-77.3h0m0.1 99h0m0.1-110.2h0m0.1 18.7h0m0 41.8h0m0.1-58h0m0.1 17.3h0m0-16.8h0m0.3 74.8h0m0.2-79.9h0m0 11.1h0m0.3 77.1h0m0.1-87.9h0m0 18.6h0m0 4.4h0m0.2-1.4h0m0.1-18h0m0.1 30h0m0-44.5h0m0.1 104h0m0-93.9h0m0 8.5h0m0-16h0m0.2 21.9h0m0.1 6.9h0m0-13.8h0m0 35.4h0m0 14.3h0m0.1-44.3h0m0-21.7h0m0.2 23.1h0m0.2 28.3h0m0-28.3h0m0.2-23.8h0m0.1 24.7h0m0 70.2h0m0.1-96.3h0m0 89.6h0m0-75h0m0-4.2h0m0.2 14h0m0.1-8.6h0m0.1-3.3h0m0 9.6h0m0-6.2h0m0.1 42.1h0m0.1-19.6h0m0 21.7h0m0-38h0m0 6h0m0.1 67.1h0m0-78.4h0m0.1 20.4h0m0-23.1h0m0 10.3h0m0.2-2.3h0m0 7.2h0m0.1-7.6h0m0.1-20.5h0m0 35.6h0m0.1-0.4h0m0.1-28.7h0m0 16.1h0m0-17.5h0m0.1 21.9h0m0.1 76.2h0m0.2-82.9h0m0 57.6h0m0.2-63.3h0m0.1 13.9h0m0-7.9h0m0.1 12.5h0m0.1-18.8h0m0.1 2.6h0m0 99.2h0m0.4-106h0m0 20.8h0m0.2-9.8h0m0 2.8h0m0.1-19.6h0m0.1 21.5h0m0-19.7h0m0 18h0m0-9.5h0m0.2 19.9h0m0-18.9h0m0.1-3.2h0m0.2 12.1h0m0.1-8.6h0m0 22.8h0m0-32.7h0m0.1 9.2h0m0 2.4h0m0-4.4h0m0.1 90.6h0m0-98h0m0.3 13.6h0m0.1 117.7h0m0.1-114.4h0m0-28.9h0m0.2 60.6h0m0-42.5h0m0.3 24.8h0m0-30.5h0m0 12.7h0m0.1 6.1h0m0.1 1.8h0m0.1-11.2h0m0.1-11h0m0 9.2h0m0.2 1.8h0m0.1 48.6h0m0-62.7h0m0 64.7h0m0.2-37.6h0m0.1-11.6h0m0.1 9.5h0m0 11.2h0m0.2 62h0m0-87h0m0 10.5h0m0.1-3.8h0m0 3.5h0m0.1-3.2h0m0 62.9h0m0-72.2h0m0.1 6.4h0m0-4.7h0m0 21.5h0m0.1-8.4h0m0.1-0.9h0m0.1 20.6h0m0 78.9h0m0-98.7h0m0.2-2.4h0m0.2-12.2h0m0.1 5.9h0m0.2 0.2h0m0-5.7h0m0 15.1h0m0.1-8.8h0m0-5.7h0m0 12.9h0m0.1-2.6h0m0-11.5h0m0.1 95.9h0m0.1-94.4h0m0.1 5.3h0m0.1 20.6h0m0.2-15.1h0m0 6.7h0m0-21.2h0m0.1 44.4h0m0.1-31.9h0m0 5.2h0m0.3-4.5h0m0.1-8.3h0m0 11.6h0m0.2-0.1h0m0 4.3h0m0-30.2h0m0.1 24.6h0m0-16.8h0m0-9.2h0m0 12h0m0.1 29.8h0m0.1-24.3h0m0-11.9h0m0.1 103.8h0m0-92.6h0m0 105.6h0m0.1-102h0m0 79.5h0m0.1-80.4h0m0 38.4h0m0.3-24.9h0m0.1-13.8h0m0.1 4.9h0m0.1-8.3h0m0 107.6h0m0-99.8h0m0-0.9h0m0.1 14.8h0m0.1-25.2h0m0.1 0.6h0m0 10.7h0m0 9.3h0m0.1-15.5h0m0.3-5.2h0m0 13.7h0m0.1 8.2h0m0-6.9h0m0.1 54.6h0m0.1-59.9h0m0-10.3h0m0.1 112.1h0m0-107.5h0m0-2.2h0m0.1 84.4h0m0.1-64.8h0m0-11.4h0m0.1 7.7h0m0-24h0m0.3 7.9h0m0.1 5.8h0m0 16.6h0m0.3-9.1h0m0.3-3.1h0m0-12.3h0m0 6.5h0m0 18.2h0m0 130.3h0m0.1-148.3h0m0.1-10.3h0m0 22.5h0m0 4.3h0m0.1 7.1h0m0.1-11h0m0-12.3h0m0.1 134.4h0m0-123.5h0m0.1-6.2h0m0.1 69.4h0m0-2.7h0m0-60.8h0m0-16.2h0m0 1.3h0m0 46.1h0m0.1-18.3h0m0.1-13.9h0m0.3 47h0m0.1-47.2h0m0-16.7h0m0 13h0m0.1 17h0m0-20.5h0m0 22.3h0m0.1-35h0m0 14.8h0m0-10.8h0m0-12.3h0m0.1 29.5h0m0.1-11.8h0m0 0.8h0m0.2 105.2h0m0.1-101.6h0m0-15.5h0m0 2.2h0m0 27h0m0-20.7h0m0.3 20.9h0m0-5.9h0m0-18.7h0m0 3.8h0m0.1 7.8h0m0.1 50.9h0m0.1-33.6h0m0.1-29.3h0m0 79.2h0m0-77.4h0m0.1 15.8h0m0-4.6h0m0 3.2h0m0-15.3h0m0 11.1h0m0-7.4h0m0.1 11.4h0m0.1 113.1h0m0.1-100.6h0m0.1-11.2h0m0.1 0.1h0m0.1 66.5h0m0.1-66.4h0m0.1 39.4h0m0.1-36.5h0m0-4.8h0m0.2 16.4h0m0 10.1h0m0.1-33h0m0.1-0.2h0m0.1 9.1h0m0-1.2h0m0 64h0m0-69.7h0m0 6.9h0m0.1 1.6h0m0.1-6.8h0m0 23.1h0m0.1-13.8h0m0.1-8.6h0m0.1 5.9h0m0-7.5h0m0-19.2h0m0.1 16.9h0m0.1 39.5h0m0-47.9h0m0 10.5h0m0.1-6.8h0m0 5.9h0m0-3.8h0m0.2-2.3h0m0 84.2h0m0.1-62.8h0m0.2-7.4h0m0.1-3.4h0m0.1-7.3h0m0.1 9.9h0m0 7h0m0.2 29.5h0m0-41.2h0m0 3.1h0m0.1-3.7h0m0 2.9h0m0.2-7.6h0m0 16.1h0m0-8.3h0m0.1 6.2h0m0.1-27.9h0m0.2 0.7h0m0 19.1h0m0-13h0m0.1 8.8h0m0.1-8.9h0m0.1 32.5h0m0.1-38.2h0m0.1 34.2h0m0-21.3h0m0.1 15h0m0.1-22h0m0.1 22.1h0m0 1h0m0.1-26.6h0m0.1 22.4h0m0.1-16.4h0m0 2.9h0m0.1-6.1h0m0 7.8h0m0.1 9.3h0m0-10.9h0m0.1 108.5h0m0-98.6h0m0.1-4.7h0m0.1-8.8h0m0.2 5.8h0m0 5.5h0m0-6.8h0m0.1-0.6h0m0 9.9h0m0.3 22.4h0m0.1-35.3h0m0-8.1h0m0.1 15.8h0m0.2 135.8h0m0-118.7h0m0.1-12.2h0m0.1 6.3h0m0.1-29.7h0m0.2-2.2h0m0 5.3h0m0.1 21.4h0m0-4.3h0m0.2-9.5h0m0 12.6h0m0 8h0m0-18.8h0m0-1.3h0m0.1 45.5h0m0.1-30.7h0m0-1.5h0m0-12.1h0m0.1-0.2h0m0-11h0m0 38.8h0m0.3-17.6h0m0.1-9.7h0m0.1 18.1h0m0 0.5h0m0.2 126.3h0m0-138.8h0m0.2 19.6h0m0-32.4h0m0.1 6.8h0m0 5.7h0m0.1-7.3h0m0 7.6h0m0 2.6h0m0.1 91.2h0m0.2-105.1h0m0 10.6h0m0 10h0m0-16h0m0.2 12.9h0m0-24.1h0m0.1 18.8h0m0 1.6h0m0-15.3h0m0.1 28.9h0m0.2-1.7h0m0-24h0m0 2.4h0m0.2-1.4h0m0 2h0m0.2-2.3h0m0.1 15.6h0m0-5.4h0m0.1-4.9h0m0-3.3h0m0.1-9.4h0m0.1 6.7h0m0.1 15.8h0m0.2-11.5h0m0.1 0.3h0m0 21h0m0.1-25.2h0m0 59.2h0m0.1 3.1h0m0.1-66.1h0m0 9.5h0m0 1.9h0m0.1-6.7h0m0.1-1.2h0m0 21.4h0m0-8.8h0m0.1-4.4h0m0 6.2h0m0.1-11.1h0m0 44.5h0m0-38.8h0m0 1.3h0m0.2-9.5h0m0 16.5h0m0-0.6h0m0 0.9h0m0-30.9h0m0.1 9.9h0m0.1 17.1h0m0-24.1h0m0.1 128.5h0m0-69.9h0m0-40.6h0m0 4.4h0m0.1-13.2h0m0 11.2h0m0 4.3h0m0-1.1h0m0.3 12h0m0-15.5h0m0.1 5.6h0m0.1 4.9h0m0-26.9h0m0.1-5.2h0m0.1 18h0m0 5.8h0m0-10.9h0m0-4h0m0.1 1.3h0m0 8.4h0m0.1 10.4h0m0-10.5h0m0.1 3.1h0m0.1-2.5h0m0 2.7h0m0-1.9h0m0.1 13.1h0m0-20h0m0 15h0m0 0.9h0m0.1 3.6h0m0-6.2h0m0.1 42h0m0-18.4h0m0.4-29h0m0.3 7.6h0m0-28.8h0m0.2 3h0m0.1 13.1h0m0 42.6h0m0.1-35.8h0m0 12.2h0m0.1-17.3h0m0-18.6h0m0.3 61.3h0m0.1-28.3h0m0-24.6h0m0.1 92.6h0m0-80.1h0m0 8.6h0m0.1-12.2h0m0.1 2.4h0m0.2 7.8h0m0-9.3h0m0.1-2.8h0m0 10.4h0m0.2 1.9h0m0.1-16.3h0m0.2 18.6h0m0-2.8h0m0.2-26.7h0m0 25.9h0m0.3 3.5h0m0.1-4.1h0m0-8.5h0m0.2-6h0m0 35.8h0m0-26.6h0m0 24.3h0m0.2-13.4h0m0 55.8h0m0.1-66.4h0m0-1.7h0m0.1-5.4h0m0.1-0.8h0m0 94.6h0m0.2-88.4h0m0 92.4h0m0-101.4h0m0.1 0.9h0m0.1 14.6h0m0-4.7h0m0.3-7.1h0m0-6.9h0m0.1 0.3h0m0.1 7.8h0m0.2 6.2h0m0 10h0m0.1-6.4h0m0-2.6h0m0 4.8h0m0.1 11h0m0-15.3h0m0-17.8h0m0.1 18.4h0m0 29h0m0.2-27.6h0m0-13.5h0m0.1 1.2h0m0 6.4h0m0.1-3.9h0m0 13.6h0m0-9.6h0m0-0.3h0m0.1 12.3h0m0.1-9.1h0m0.1 3.2h0m0 12.9h0m0-8.3h0m0.1 0.7h0m0 6.8h0m0-10.2h0m0.1-17.5h0m0.1 15.2h0m0 98h0m0-101.8h0m0 1.1h0m0.1 15.4h0m0.1-11.2h0m0.2-9.3h0m0 80.1h0m0-73.8h0m0.1-15.1h0m0.1 6.9h0m0.1-6.3h0m0.1 2.5h0m0 64.1h0m0-48.7h0m0.1 71.5h0m0.1-70.7h0m0.2-20.8h0m0 22.2h0m0-2.4h0m0.1-17.9h0m0 18.9h0m0.5-1.7h0m0-20h0m0 23.2h0m0-0.7h0m0 0.5h0m0.3-14.7h0m0.3-11.8h0m0.3 14.2h0m0-6.1h0m0.1 26.1h0m0-21.7h0m0.1 0.4h0m0 12.8h0m0.3-9.5h0m0 131.4h0m0-39.6h0m0.1-80.6h0m0 92.7h0m0-104.1h0m0.2 61.3h0m0-44.3h0m0.1-23.3h0m0.3 9.7h0m0 0.5h0m0.1 7.3h0m0-24.1h0m0.1 2.9h0m0.3-7.8h0m0 34.8h0m0-11.8h0m0.3-0.3h0m0 19h0m0.1-27.3h0m0 7.4h0m0.1 2.4h0m0 3.9h0m0-13.6h0m0.2 103.9h0m0.1-93.7h0m0.3-11.9h0m0.3 17.5h0m0-2.9h0m0.1 36h0m0-38.6h0m0.2 4.2h0m0-10h0m0.1-0.3h0m0.1-1.3h0m0 11.1h0m0.1-4.3h0m0.1 10.3h0m0.3-8.5h0m0-5.7h0m0-8.5h0m0.1 4h0m0.1 2.7h0m0 11h0m0.2-3h0m0.3-0.9h0m0-19.7h0m0.1 10.4h0m0.1-3.3h0m0 8.3h0m0.1-0.3h0m0.2 3.6h0m0.1-19.8h0m0.1 13.3h0m0.1-10h0m0.1 2.6h0m0.1 1.3h0m0.2 2.6h0m0 32.7h0m0-32.5h0m0-3.1h0m0.2-6.6h0m0.1 24.6h0m0.1-20.6h0m0 21.7h0m0.1-18.9h0m0.1-3.1h0m0 18.3h0m0-14.7h0m0.1 8h0m0.1-0.9h0m0-7h0m0 93.2h0m0-81.8h0m0.1 4.9h0m0.1-25.5h0m0.1 36.7h0m0-39.8h0m0 15.8h0m0.1-9.3h0m0.1 31.5h0m0.1 102h0m0-117.5h0m0.1 0.6h0m0.1-14h0m0.1 7.6h0m0 7.5h0m0.1-3.6h0m0.1-1.5h0m0.1 41.4h0m0-28.3h0m0.1-4.1h0m0-11.7h0m0-1.2h0m0 10.9h0m0.2 0.4h0m0.2-14h0m0 35.4h0m0.1-23h0m0-7.9h0m0-7h0m0.1 11.1h0m0.1-6.2h0m0.1 0.6h0m0-5.5h0m0.1 24.9h0m0.2-24.1h0m0.3 76.9h0m0-64.9h0m0.1 5.7h0m0.2 0.7h0m0.1 56.5h0m0-66.5h0m0-18.1h0m0 9.4h0m0.1 0.3h0m0 8h0m0.2 2.4h0m0-2.9h0m0 2.5h0m0-6.1h0m0.1 11.2h0m0.3-3.6h0m0.1-2.8h0m0.1 0.3h0m0-6.6h0m0.2-3.2h0m0 7.7h0m0.2-8.7h0m0.1 15.1h0m0.1-15h0m0 8.1h0m0 6.1h0m0.1-10.2h0m0.1 7.1h0m0.2-2.1h0m0 2.5h0m0.4-4.2h0m0 12.6h0m0.1-24.7h0m0 12.2h0m0.1-0.9h0m0.1 2.7h0m0.1 85.6h0m0.1-86h0m0.2 4.5h0m0.1 8h0m0.2-22.9h0m0.3-2.4h0m0.3 65.5h0m0.1-57.1h0m0.1 20.3h0m0.1-22.7h0m0.1 21.4h0m0.5-15.7h0m0.1-10h0m0 18.5h0m0 12.1h0m0.2-35.3h0m0.1 133.3h0m0-118.7h0m0.4 1.7h0m0 97.7h0m0.3-106.6h0m0.1-1.8h0m0 6.9h0m0.2 11.3h0m0-5.8h0m0.1-5.4h0m0.5 7.4h0m0.1-6.3h0m0 3.8h0m0.1 7.3h0m0-14.5h0m0.1 5h0m0 21.3h0m0.2-9.7h0m0.1-17.9h0m0.9 0.1h0m0 72.3h0m0-71.6h0m0.1-1.4h0m0.1-1.9h0m0.1 0.8h0m0.2 0.5h0m0.2 5h0m0.1 1.5h0m0.2-1.4h0m0-13.2h0m0.1-2.8h0m0 60.7h0m0-39.3h0m0.3 0.7h0m0.4-9.8h0m0.1 16h0m0.2-8.1h0m0.2-7.5h0m0.3 12.3h0m0.1-14.8h0m0 8.5h0m1.2-2.8h0m0.3 0.2h0m0.6 3.1h0m0-9.8h0m0.4 12.9h0m0.1 2.1h0m0.1-8.3h0m0.1 1.7h0m0.1-6h0m0 5h0m0.1 45.7h0m0.3-50.1h0m0.1 9.9h0m0-2.9h0m0.4-15.9h0m0.3 9h0m0 13h0m0.1 14h0m0-34.3h0m0.2 3.9h0m0.3 18.9h0m0-4.4h0m0.2-9.3h0m0 98.6h0m0.1-91h0m0.1-10.7h0m0.3 4.8h0m0.1 2.1h0m0-7.3h0m0.9-2.9h0m0 2.8h0m0.8 24.4h0m0.1-8.2h0m0.3 0.2h0m0.1-17.1h0m0.5 0h0m0.5 13.9h0m0.1-6.1h0m0.3 58h0m0.1-57h0m0.1-12.1h0m0.5-3.1h0m0.6 25.8h0m0.1-4.4h0m0.1-3.6h0m0.1 18.6h0m0.1-30.7h0m0 4.2h0m0.7 47.1h0m0.1-37.9h0m0.1-9.3h0m1-6.2h0m0.2 15.3h0m0.6-13.9h0m0.1 18.9h0m0.1-1h0m0.7 3.9h0m0.4 11.7h0m0.9-14h0m0.1-1.7h0m1.1-18.5h0m0.7 144.2h0m0.2-124h0m2-0.1h0m1.8-1.3h0m0-22.6h0m1.3 15.5h0m0.1 4.7h0m0.2-2.8h0m0.1-8.6h0m0 12h0m0.1-17.8h0m0.5 12h0m0.2-7.6h0m0.3 20.1h0m1.3-29.8h0m0.4 15.6h0m1.2 9.9h0m2.4-18.1h0m2.6-0.7h0m4 12.9h0m2.3 14.1h0m0.6-5.7h0m0.4-5h0m1-2.4h0m0.1-15.3h0m0.2 4.6h0m4.8 4.7h0m0.7 2.1h0m9.7-8.1h0m0.3 1.5h0"/>
<path d="M1185.7 152.6h0m4-25.3h0m5.2 54.7h0m2.8-37.6h0m0.1 38.1h0m0.2-66.7h0m0.3 80.9h0m0.9-1.9h0m0.3-35.6h0m0.2-20.4h0m0.3 55.2h0m0.5-23.6h0m0.1-47.1h0m0 58.2h0m0.1-30.1h0m0.9 3.4h0m0.1 16.8h0m0.3 18.5h0m0-20.6h0m0.3 48.2h0m0.2-102.1h0m0.5 65.4h0m0.1-62h0m1.4 33.6h0m0.6 56.9h0m0.1-23.5h0m0.2-55.4h0m0.1 24.9h0m0.2 56.8h0m0-30.8h0m0.1 18.7h0m0-13.5h0m0.4-45.3h0m0.2 35.6h0m0.3-10.6h0m0.3-2.4h0m0.1-12.5h0m0 27.7h0m0.3 57.1h0m0-70.9h0m0.4 1.4h0m0.1 3.6h0m0.2 19.2h0m0.5-6.5h0m0.1-22.4h0m0 22h0m0.3 41.1h0m0.1-35.5h0m0 38.8h0m0.2-43.1h0m0.2-5.5h0m0-14.9h0m0.5-75.2h0m1.2 96.6h0m0.2 36h0m0.3-43.1h0m0.2-22.8h0m0 56.3h0m0.5-44.1h0m0.4-27.3h0m0.1-43.2h0m0 100.7h0m0.1 6.4h0m0.1 13.9h0m0.3-82.6h0m0.5 35.7h0m0.3-3.8h0m0.2-42.8h0m0.1-4.5h0m0.2 82.4h0m0.3-2.9h0m0.2 18.9h0m0-120.7h0m0.1 59.8h0m0.1 53.6h0m0.6-122h0m0.1 51.2h0m0.5 16.8h0m0.1 35.7h0m0 8.2h0m0.3-7.6h0m0-2.6h0m0.3 43.4h0m0.7-49.7h0m0.1-27.3h0m0.2-19.6h0m0.3-18.5h0m0.2 108.3h0m0.1-61.1h0m0.3-11.7h0m0.2-20.1h0m0 20.8h0m0.1 1.2h0m0.1 48.3h0m0.3-72.3h0m0 41h0m0.1-14.4h0m0.7 50.1h0m0-57.8h0m0.4 52h0m0-14h0m0.1-61.7h0m0.1-3.9h0m0-1.4h0m0 34.7h0m0.2 33h0m0.1-11h0m0.4-3.3h0m0.3 44.7h0m0.2-106.1h0m0.1 67.1h0m0.2 37.3h0m0.7-14.8h0m0.2-48.7h0m0.1 64.9h0m0-96.9h0m0.4 36.6h0m0.6 35.6h0m0-35.8h0m0.3-19.1h0m0 47.7h0m0.2-12.5h0m0-35.4h0m0.1 23.8h0m0 20.2h0m0 30.3h0m0.1-24.6h0m0.1-47h0m0.4-45.6h0m0.1 121h0m0.1-29.6h0m0-23.6h0m0.5 8.7h0m0.4 6.3h0m0 7.6h0m0.3-74.8h0m0 24.4h0m0.3 12h0m0.4 44h0m0.2-31.8h0m0.4-33.7h0m0.8 13h0m0.2 69.5h0m0.2-83.1h0m0.1 62.4h0m0 32.6h0m0.3-30.1h0m0.1-81.8h0m0 20.3h0m0.1 49.7h0m0.5 2.3h0m0-5.1h0m0.4-7.1h0m0.1 17.6h0m0.1 5.4h0m0.1-36.2h0m0.2 35.6h0m0.1-54.7h0m0.1-14.8h0m0 40.9h0m0.1 32.6h0m0.1-30.2h0m0.1 11.9h0m0.1 4.4h0m0-76.4h0m0.4 75.3h0m0.2 19h0m0.1-20h0m0.2 3.5h0m0.1 1.2h0m0-30.1h0m0.3 68.9h0m0-88.1h0m0.1-25.8h0m0.2 48.6h0m0.1-1.8h0m0.1 15.9h0m0 53.8h0m0.2-7.1h0m0.1-54.2h0m0.4 13.9h0m0.1-3.2h0m0.2-14.8h0m0.1 5.2h0m0.9-42.3h0m0.1-41.5h0m0.4 102.3h0m0.2-0.4h0m0.1-104h0m0.1 102h0m0.1-55.9h0m0.3 31.8h0m0.1-6.1h0m0.1-35.7h0m0.3 56.4h0m0.5-36.8h0m0.4 27.7h0m0 47.3h0m0.5-12.7h0m0.1-0.9h0m0.2-42.8h0m0 26.7h0m0.3-9.3h0m0.1 22.5h0m0.1-12.4h0m0.3-58.4h0m0.1-30.5h0m0.3 46.2h0m0.3 36.6h0m0.3 21.7h0m0.5-12.4h0m0.3 18.2h0m0.1-36.5h0m0.3 30.8h0m0.2-29.5h0m0-41.1h0m0 20.5h0m0.1 47.8h0m0.1-71.7h0m0.1-21.4h0m0.1 16.8h0m0 36.3h0m0 46.2h0m0.2-19.2h0m0.9 8.2h0m0.2 35.8h0m0.1-84.7h0m0 18.7h0m0.2 26.7h0m0.2 26.7h0m0-102.2h0m0.1 51.1h0m0.1 6.8h0m0.1 43.6h0m0.4-70.6h0m0.2-49.9h0m0.1 113.8h0m0.4-118.7h0m0.2 107.9h0m0.4 15.7h0m0.3-18h0m0.1 5.5h0m0.1-10.6h0m0-31.5h0m0.2 22h0m0.1-69.2h0m0 27.7h0m0 24.6h0m0.1 38.3h0m0-49.1h0m0.4-23h0m0.3 70.9h0m0.1-121.4h0m0 63.1h0m0.3 76.8h0m0.1-48.4h0m0.3-29.6h0m0 3.3h0m0-5h0m0.2 38h0m0.4-58.3h0m0.2-10.7h0m0 71.9h0m0.1-13.2h0m0.1 24.1h0m0.2-58.8h0m0.1 37.3h0m0 22.5h0m0.4 30.1h0m0.2-20.5h0m0.2-6.4h0m0 6.8h0m0.2-92.8h0m0.8 78.4h0m0.1 3.5h0m0.2-0.7h0m0.1 37.5h0m0-53.8h0m0.1-68.1h0m0.2-25.9h0m0 62.7h0m0.1-50.2h0m0.1 35.2h0m0.2 93.1h0m0.1-40.4h0m0.2 16.1h0m0.1-72.6h0m0 39.3h0m0.1-16.6h0m0 4.4h0m0 36.3h0m0.1-70h0m0.1-31.9h0m0.2 97.9h0m0.3-63.9h0m0.2 69.1h0m0.1-69.2h0m0.1 29.8h0m0 87h0m0.3-118.9h0m0.2 10.7h0m0.2 62.7h0m0-38.2h0m0.1-8.7h0m0.1 45.7h0m0.1-61.3h0m0 39.3h0m0.1 6.5h0m0.1 18.9h0m0.1-69.4h0m0.1 43.3h0m0.1-46.4h0m0 73.1h0m0.7-59.3h0m0 41.7h0m0.1-20.3h0m0-56.3h0m0.3 106.9h0m0.5-24.1h0m0-31.1h0m0.1-67.8h0m0.1 23.2h0m0 29.5h0m0.1 17.4h0m0 4.7h0m0-32.1h0m0.4-3h0m0.5 57.6h0m0.2-39h0m0.1-24h0m0 3.3h0m0.2 61.5h0m0.2-11.1h0m0.3-40.7h0m0.1 32.6h0m0 46.3h0m0.2-71.9h0m0.1-52h0m0.1 65.2h0m0 4.9h0m0.3-9.8h0m0.2-36.8h0m0.1 57.5h0m0.1-21.1h0m0-53.1h0m0.7 135h0m0.2-75h0m0 46.4h0m0.2-29.6h0m0-8h0m0.1-89.9h0m0.2 14.4h0m0 117.2h0m0.2 15.9h0m0.1-7.4h0m0-47.7h0m0.1 83.6h0m0-99.5h0m0.1 9.4h0m0 33.1h0m0.2-84.8h0m0-17.3h0m0.1 46.3h0m0.2-26.9h0m0 62.6h0m0.2 14.5h0m0.1-35h0m0 33.7h0m0.4-43.7h0m0.1 12.9h0m0.1-26.9h0m0.1-17.3h0m0.2-22.2h0m0.1 97.1h0m0.1 9.7h0m0-85h0m0.1-24.7h0m0.2 77.3h0m0.2-14.1h0m0 33.1h0m0-47.4h0m0.1-12.5h0m0.1 0.3h0m0.1 30.8h0m0.2-31.5h0m0.1 14.5h0m0.4 54.2h0m0.2-29.3h0m0.2 3.1h0m0.1 9.2h0m0-0.3h0m0.3 47.8h0m0-70.5h0m0.1-67.5h0m0.1 6.1h0m0 82.2h0m0.1-44.6h0m0 6.5h0m0-2.6h0m0.2 103.2h0m0-86.3h0m0.1 39h0m0.2-43.7h0m0.1-22.7h0m0.9 41.4h0m0.1-8.2h0m0.2-36.1h0m0 130.3h0m0.1-91.4h0m0.3-68.7h0m0.1 79.4h0m0.1-68h0m0-22h0m0.1 75.7h0m0 48.2h0m0.2 11.4h0m0-84.1h0m0.1 53.9h0m0-64.2h0m0.2-44.3h0m0 8.1h0m0.2 111.9h0m0.1-30.7h0m0.1-8.7h0m0-37.6h0m0.1 20.6h0m0.2 16.2h0m0-59.5h0m0.1 78.9h0m0-90.6h0m0.1 96.4h0m0.3-95.6h0m0 164.9h0m0-34.9h0m0.2-120.1h0m0 35.3h0m0.1 71.8h0m0-31.6h0m0.2-67h0m0.1 53.6h0m0-31.9h0m0.1-39h0m0.2 84.3h0m0.1-15.4h0m0-27.4h0m0-48.2h0m0.3 13h0m0.3 36.9h0m0.1-44.9h0m0.1 29.4h0m0 103.4h0m0.1-47.9h0m0.1-20.7h0m0.1 2.5h0m0-58.1h0m0.5 84.7h0m0.1-103.4h0m0.2 115.7h0m0.1-85h0m0 60.6h0m0.1-18.5h0m0.1-56.8h0m0.1 35.3h0m0.2-4.1h0m0.1-27.4h0m0.1 104.7h0m0.2-64.5h0m0.1-45.5h0m0 20.3h0m0.3 56.6h0m0.2-80.3h0m0.1 65.5h0m0.4 9.3h0m0 15.9h0m0.2-4.6h0m0-72.4h0m0.2-27.4h0m0 41.8h0m0.1 92.7h0m0.2-7.6h0m0.3-125.7h0m0.1 70h0m0.1 28.1h0m0.4-47.3h0m0.1 42h0m0.5 87.3h0m0-66.4h0m0-99.2h0m0.1-1.6h0m0.1 79.7h0m0 3.1h0m0.2 23.9h0m0.2-26.5h0m0-55.4h0m0.1-3.8h0m0 34.6h0m0.1-40h0m0.1 40.3h0m0.1 22.4h0m0.1 13.3h0m0-72.9h0m0.2 34.7h0m0.1-22.7h0m0-39.8h0m0.1 69.7h0m0.9 1.5h0m0 5.5h0m0 58.1h0m0.1 5.3h0m0-34h0m0.1-25.3h0m0.3 46.7h0m0-43.9h0m0-8.4h0m0.1-6.9h0m0-67.5h0m0 29.9h0m0.1 17.3h0m0 1.6h0m0.2 46h0m0.4-86.7h0m0 16.8h0m0.1 18.2h0m0 12.3h0m0 15.4h0m0.2 26.8h0m0.2-58.2h0m0-14h0m0.1 4.2h0m0.1 44.2h0m0-47.6h0m0 18.5h0m0.1-17.9h0m0.1-10.8h0m0 11h0m0.4 28.1h0m0.2 35.6h0m0-47.8h0m0.2-4.9h0m0.3 80.1h0m0.5-85.6h0m0.1 51.2h0m0-29.8h0m0.1 55.7h0m0-92.9h0m0.1 116.7h0m0.1-50.1h0m0 2h0m0 15.7h0m0.2-25.2h0m0-13.4h0m0-47.5h0m0.1 78.3h0m0 30.7h0m0.1-9.7h0m0-28.3h0m0.1 2.4h0m0.1-59.2h0m0 9.9h0m0.2-10.3h0m0.2 4h0m0 54h0m0.4-66.9h0m0.1 141.3h0m0-118.4h0m0.2 38h0m0-20.7h0m0.2-11.1h0m0.1-33h0m0.2 120.2h0m0-135.6h0m0 65.6h0m0.1-28.2h0m0.1 3h0m0.1 55.9h0m0.4-40h0m0-17.4h0m0.2 103.6h0m0.3-120.8h0m0.2 91.4h0m0-105.6h0m0.5 8.7h0m0 51.8h0m0.1-37.4h0m0-14.6h0m0 33.4h0m0.3 42.3h0m0.3-40.5h0m0.1-50.3h0m0.1 4.9h0m0 91.9h0m0.1-87.2h0m0 85.8h0m0.1 13.4h0m0.1-114.4h0m0.1 35.6h0m0.1-15.2h0m0.1 33.9h0m0.1 35.7h0m0-46.4h0m0.1-20.3h0m0-8.6h0m0.1 94.1h0m0.4-85.4h0m0 116.8h0m0-5.3h0m0.1-102.9h0m0.1-16.2h0m0.1 34.9h0m0.1 47h0m0.1-26.8h0m0.1-13h0m0.3 26.7h0m0.1-53.1h0m0 52h0m0.1-63.9h0m0-19.9h0m0.1 58.7h0m0.3 28.3h0m0.1-79.9h0m0 12.1h0m0.3 8h0m0.3 41.6h0m0.1 8.2h0m0-59.6h0m0.4 112.1h0m0-113.3h0m0.3 9.2h0m0.1 135.2h0m0-113.6h0m0.6-27.2h0m0.1 17.8h0m0 84.1h0m0-39.8h0m0.1-53.7h0m0.1 0.1h0m0.1 6.5h0m0.2 82.2h0m0.1-97.2h0m0-19h0m0 92.2h0m0.1-62.3h0m0-3.3h0m0.1 77.4h0m0.1-96h0m0.1 24.2h0m0 38.3h0m0.1-52h0m0 26h0m0.1-28.4h0m0 88.1h0m0.1-67.5h0m0.1-5.8h0m0.2-13.5h0m0 33.5h0m0-23.2h0m0.3 110h0m0.2 6.7h0m0.1-61.5h0m0.1-69.8h0m0.1-3.8h0m0.2 10h0m0.1 56.3h0m0.4-61.2h0m0.1 54.8h0m0 33.2h0m0.3-86.9h0m0.4 26.9h0m0.1-30.2h0m0 12.9h0m0.1 5.9h0m0.1 95.9h0m0.1-77.8h0m0-37.4h0m0-2.9h0m0.1-4.1h0m0.1 60.8h0m0.1 6.8h0m0.2-16.9h0m0.1 71.1h0m0.1-77.1h0m0 5.8h0m0.1-27h0m0-25.7h0m0.2 42.4h0m0-26.5h0m0 2.9h0m0.1 104.1h0m0.1-97.1h0m0.1-19.1h0m0.1 125.4h0m0.1-59.9h0m0.1 32.6h0m0.4-59.5h0m0 67.4h0m0.1-93.6h0m0.1 25.8h0m0-21.4h0m0 22.5h0m0 92.2h0m0.2-29.6h0m0.1 0.5h0m0.2-4.1h0m0.1-36.1h0m0 3h0m0.1-52h0m0.1 3.5h0m0.2 78.7h0m0.1-80.3h0m0.2 108.6h0m0-118.5h0m0.2 34.6h0m0.2 24.5h0m0-63h0m0 97.9h0m0.1-77.3h0m0 45.2h0m0.1 26.4h0m0 42.9h0m0.1-119.4h0m0.1 8.2h0m0.2 99.6h0m0-49.6h0m0.1 43.4h0m0-79.7h0m0-27h0m0.2 7.7h0m0-3.9h0m0.1 127.9h0m0-144.9h0m0.1 11.1h0m0.1 112.8h0m0.1-99.4h0m0.2 7.9h0m0.1-23.3h0m0 5.3h0m0.1 86.4h0m0.2-84.6h0m0-19.1h0m0.2 10.3h0m0 32.1h0m0 23.4h0m0.1-56.2h0m0.1 50.8h0m0-45h0m0.1 12.9h0m0.1 44.2h0m0.1-72.2h0m0.3 48h0m0.1-46.7h0m0.1 13.6h0m0.2 14.8h0m0.1 38.7h0m0-52.7h0m0.1-5.3h0m0.2 97.2h0m0.1-96.3h0m0 20.9h0m0-4.9h0m0.2 42.9h0m0.1-56.7h0m0 94.9h0m0-21.3h0m0-46h0m0.1 56.1h0m0-15.9h0m0.1-51.3h0m0.1-19.9h0m0.1 10.6h0m0.2 4.2h0m0.2 2.4h0m0.1 59.9h0m0.1-83.2h0m0.1 6.7h0m0-2.9h0m0.1 58h0m0.1 17.8h0m0.1-32.9h0m0-10.8h0m0.2-43.4h0m0 163.2h0m0-148.2h0m0.1 67.5h0m0.1 4.1h0m0-76.5h0m0.3 9.4h0m0.1-18.6h0m0.2 9.5h0m0 16h0m0-15.2h0m0 28.9h0m0 38h0m0.1-64.8h0m0.1 3.7h0m0 7.3h0m0-6.8h0m0.1 0.2h0m0 11.6h0m0 24h0m0.1 11.1h0m0.1 22.6h0m0.1-40.3h0m0.1-0.7h0m0.1-21.1h0m0-3.3h0m0.1 7h0m0-24.1h0m0.2 59.3h0m0-38.4h0m0.1 86.4h0m0-103.4h0m0.1 13.6h0m0.1-3.6h0m0.2 10.2h0m0.2-3h0m0.2 4.3h0m0.1-33.5h0m0.1 30.5h0m0.1-14.5h0m0.3-0.2h0m0.2 23.9h0m0.1-17.6h0m0-9.9h0m0 6.8h0m0 32.1h0m0.1-10.2h0m0 10.5h0m0-29.9h0m0.1-9.1h0m0.1 7.1h0m0-1.4h0m0.1 76.2h0m0.2 17.2h0m0.2-90.2h0m0 6.1h0m0.1-1.6h0m0 125.3h0m0-69.9h0m0-67.9h0m0 19.7h0m0.2-8.4h0m0 53.6h0m0.1-53.4h0m0-4.3h0m0.1 30.8h0m0 73h0m0.1-119.8h0m0 10.5h0m0 93h0m0.6-78.3h0m0.2-7.2h0m0.2 132.8h0m0.1-85.9h0m0-5.6h0m0.3 9.3h0m0.1-48.1h0m0-5.8h0m0 45.9h0m0.1-35.7h0m0-7.5h0m0.1 3.9h0m0.2-2.3h0m0 0.4h0m0.1-11.6h0m0-11.4h0m0 14.3h0m0.1 108h0m0-106.3h0m0 62.3h0m0.1-54.1h0m0 3.9h0m0.1-10.9h0m0-3h0m0.2-8h0m0.1 10.5h0m0 78.3h0m0-76.2h0m0.1-17.4h0m0.1-4.2h0m0 16.4h0m0.1-7.7h0m0.1 1.7h0m0 11.4h0m0.2 12.4h0m0.2-5.1h0m0-7.3h0m0 6h0m0-13.5h0m0 10.4h0m0-7.2h0m0.2-2.2h0m0.2 7.6h0m0 13h0m0.3-17.7h0m0 2.3h0m0 5h0m0-6.7h0m0.2 0.6h0m0-18.1h0m0 11.5h0m0.1 18.7h0m0.2 48.4h0m0-23.5h0m0.1-34.4h0m0 3.7h0m0-7.4h0m0-14.7h0m0.1 18.7h0m0 45.6h0m0.1 22.1h0m0-46.3h0m0.1 71.4h0m0.1-7.1h0m0-84.7h0m0.1-9.4h0m0 4h0m0.1 105.8h0m0-104.9h0m0.2 31.6h0m0-15.3h0m0.1 58.2h0m0-57h0m0 53.3h0m0.2-77h0m0 13.6h0m0-5.9h0m0.2 53.8h0m0-48.2h0m0.1 51.4h0m0-63.2h0m0 10.6h0m0.1-1.4h0m0 48.2h0m0.1-55h0m0 12.4h0m0.1 0.5h0m0 2.8h0m0 50h0m0.2-1.6h0m0-46.4h0m0.1-8.2h0m0 3.2h0m0.1-10.1h0m0 4.4h0m0 13.2h0m0.1-15.1h0m0-12.7h0m0 47.7h0m0 70.4h0m0.1-45.1h0m0.3-5.2h0m0.2-56.7h0m0 14.5h0m0-8.2h0m0.1-13.9h0m0.1 11h0m0-0.8h0m0.2-8.4h0m0 43h0m0-31.9h0m0-9.2h0m0.1-8.5h0m0 61.6h0m0.1-53.4h0m0 87h0m0-81.8h0m0 74.1h0m0.1-47.8h0m0 87.6h0m0.3-115.9h0m0.1-14.3h0m0 31.6h0m0-12.4h0m0.2 1.3h0m0-4.1h0m0.1 74.4h0m0.2-68h0m0.3 10h0m0-11h0m0.1 17.1h0m0-18h0m0.1 2.3h0m0-6.4h0m0-5h0m0.1 10.3h0m0.3-4h0m0.1-5.4h0m0 5h0m0 1.9h0m0.1 47h0m0.1-34.1h0m0-18.7h0m0.2-4.3h0m0 24.7h0m0-2.8h0m0.1-1.3h0m0-32.6h0m0.1 48.5h0m0-29.6h0m0.1 7.2h0m0-15.5h0m0.1 1.6h0m0 23.5h0m0.1-21.4h0m0.1 2.6h0m0 7.2h0m0-13.5h0m0.1 10.8h0m0.1-2.4h0m0.1 9.8h0m0.1-6.7h0m0.1-0.7h0m0 18.6h0m0-7.5h0m0.1 32.7h0m0-40h0m0.2-9.6h0m0 3.4h0m0.1 9.9h0m0-0.8h0m0.1 32h0m0.1 34.3h0m0-72.7h0m0.1 55h0m0-62.7h0m0 17.8h0m0.1 56.5h0m0.1-69.4h0m0 2h0m0 4.8h0m0.1-13.9h0m0.1 53.2h0m0-33.6h0m0-13.3h0m0 1h0m0.1 37.5h0m0.1 58.1h0m0-87.4h0m0.1-5.1h0m0.1 6.3h0m0-13h0m0.1 78.5h0m0.2 50.8h0m0.2-113.1h0m0.1 110.7h0m0.1-110.9h0m0-13.7h0m0 87h0m0-79.9h0m0-12.4h0m0.1 8.1h0m0.3 1.5h0m0.1-6h0m0-11.9h0m0.1 22h0m0.1-7.9h0m0.1 115.1h0m0-103.5h0m0.1-25.8h0m0.1 39.7h0m0.2-25.8h0m0 4.9h0m0.1-2.6h0m0.1-8.7h0m0-8.3h0m0.1 6h0m0 7.3h0m0 10.5h0m0-9.4h0m0.2-1.3h0m0.1 139h0m0-144.5h0m0.1 120.1h0m0-102.2h0m0.1 12.9h0m0-18.1h0m0-4.6h0m0.4 9.6h0m0.1-12.8h0m0 1.8h0m0 0.9h0m0.1 14.8h0m0-6.1h0m0-33.7h0m0.1 155.4h0m0.1-140.9h0m0 25.3h0m0-16.1h0m0.1-4.6h0m0 61.1h0m0-57.7h0m0.2 17h0m0.1-21.7h0m0.2 75.1h0m0-65.4h0m0.1-12.2h0m0 77.9h0m0-62.9h0m0.1 19.5h0m0.1 30.2h0m0-30.1h0m0-24.8h0m0 64.1h0m0.3-75.1h0m0.1 23.2h0m0 81.3h0m0.1-76h0m0.1-21.3h0m0-7.6h0m0 1.3h0m0.1 7.5h0m0.2-12.2h0m0.1 29.6h0m0 5h0m0.1-13.4h0m0.2-8.4h0m0 16.2h0m0-26.7h0m0.1 12h0m0-2h0m0 3.1h0m0 13.6h0m0.2-14.5h0m0 74.4h0m0.1-84.5h0m0-7h0m0 27.4h0m0.2 97.4h0m0.1-112.2h0m0.1-0.3h0m0 68.1h0m0-64h0m0.2 5.5h0m0.1 10.9h0m0-10.4h0m0.1-21.2h0m0 27.4h0m0-10.6h0m0.1-2.8h0m0-7.6h0m0.1 29.4h0m0-15.3h0m0.1-4.2h0m0-12.8h0m0 33.9h0m0.1 57.6h0m0.1-68.2h0m0 0.1h0m0.1-1h0m0-30.2h0m0.1 8.8h0m0.1 12.2h0m0-1.5h0m0.1 4h0m0.1 3.9h0m0-19.2h0m0.1 34.3h0m0-38.9h0m0.1 67.7h0m0-55.7h0m0 0.7h0m0.1 9.7h0m0 96.8h0m0.1-97.4h0m0-9.8h0m0 12.9h0m0.1-13.2h0m0.1-8.1h0m0.1 1.5h0m0 6.5h0m0 9h0m0 10.4h0m0.2-20.3h0m0.1 30.1h0m0-5.4h0m0.2-26.4h0m0.1 11.6h0m0 70.6h0m0-81.5h0m0 18.1h0m0-6.5h0m0-0.7h0m0.1-6.1h0m0.1 9.3h0m0-6.9h0m0.1 48.1h0m0.1-44h0m0-10.4h0m0-1.2h0m0.1-2.6h0m0 2.5h0m0.1 63.5h0m0.1-68.5h0m0 14.2h0m0 6.2h0m0.1-13.3h0m0.2 88h0m0.1-94.8h0m0.1 10h0m0.1-17.2h0m0 20h0m0-3.4h0m0.3 9.6h0m0-2.6h0m0-21.7h0m0.1 21.2h0m0.1 1.5h0m0-22.5h0m0.1 19.8h0m0-0.6h0m0.1 53.3h0m0.1-53.2h0m0.1-11.2h0m0.1 17.4h0m0.1-8.8h0m0.1 10.6h0m0-30.9h0m0.1 30.9h0m0.1-0.6h0m0-13.3h0m0 12.3h0m0.1 87.4h0m0.1-104.1h0m0 7.7h0m0.1 22.1h0m0-19.4h0m0.1 11.5h0m0-9.5h0m0 7.9h0m0.1-12.6h0m0 15.6h0m0.1-17.1h0m0.1-14.4h0m0 15.2h0m0.1 7.1h0m0 3.1h0m0.1-15.8h0m0 7.1h0m0.2 3.7h0m0-0.8h0m0.1-10.2h0m0 25.4h0m0.2-5.4h0m0.1-5.5h0m0-7.7h0m0.1-4.4h0m0 8.3h0m0-11.9h0m0.1 9.2h0m0-0.3h0m0 64.7h0m0.2-53h0m0-24.5h0m0.1 21.2h0m0 5.8h0m0-9.4h0m0-17.7h0m0.1 104.9h0m0-106.9h0m0.1 25h0m0.1-16h0m0.1 4.9h0m0 24.4h0m0-43.1h0m0 45.9h0m0.1-19.8h0m0-10.9h0m0-4.3h0m0 16.5h0m0.1-21.6h0m0 24.6h0m0.2-24.6h0m0.1 123.9h0m0-117h0m0.1-9.3h0m0 9.7h0m0 25.4h0m0-26.4h0m0 52.5h0m0.2-46.8h0m0.2-20h0m0 21h0m0.1-6.7h0m0-7.3h0m0.2 14.2h0m0 3.4h0m0-12.6h0m0.1 49.3h0m0.1 8h0m0-65.4h0m0 22.6h0m0.1 40.9h0m0-29.9h0m0-30.2h0m0.1 13h0m0.1 18h0m0-14.1h0m0.1 8h0m0.1-28.4h0m0.2 21.9h0m0.1 1.6h0m0.1-7h0m0.3-2h0m0.2-7.3h0m0.2-0.6h0m0 3.2h0m0.1 11.4h0m0.1-2.4h0m0.3-7h0m0 3.2h0m0 5.4h0m0.1 39.4h0m0-35.2h0m0-5.6h0m0.1 83.4h0m0.1-89.8h0m0.1 68.6h0m0-53.2h0m0.1-9.4h0m0.2-7.6h0m0 10.8h0m0-15.5h0m0.1 19.2h0m0.1-9.6h0m0.1 5h0m0-0.6h0m0-8.4h0m0 47.6h0m0.3-43.2h0m0-1.5h0m0 10h0m0 6.6h0m0.2 1.7h0m0-9.8h0m0.1-24.7h0m0 18.8h0m0.1-2.3h0m0 14.3h0m0-7.8h0m0.1 24h0m0.1-21.2h0m0.1 8.4h0m0 10.3h0m0.1-27.3h0m0 3.9h0m0.1-6.5h0m0 9.7h0m0-10.2h0m0 29.8h0m0.2-25.7h0m0 77h0m0-77h0m0.1 2.3h0m0 5.4h0m0-16.9h0m0.1 12.8h0m0 10h0m0.1-11.3h0m0-7h0m0 6h0m0 11.4h0m0 16.9h0m0.3-19.3h0m0-18.5h0m0.1 17.8h0m0-19.2h0m0.4 22.2h0m0.1-18.3h0m0 23.4h0m0-15.4h0m0.1-12.6h0m0 23.6h0m0.1 1.9h0m0.2 15.5h0m0-41.6h0m0 16h0m0 0.2h0m0 96.7h0m0.1-77.4h0m0-35.5h0m0.1 14.5h0m0 6.7h0m0 4.3h0m0-12.8h0m0.1 70.7h0m0 16.8h0m0.1-79.9h0m0-20.5h0m0.1 1.7h0m0.1 4.8h0m0 20.3h0m0.2-22.8h0m0-0.9h0m0 8.9h0m0.2-12.1h0m0 18.8h0m0-2.1h0m0 0.7h0m0-3.5h0m0.3 2.9h0m0-12h0m0.2 13.8h0m0 91.4h0m0.2-108.2h0m0-7.5h0m0.2 23.9h0m0-13.5h0m0.1 5.7h0m0.1-7.5h0m0 20.6h0m0.1-20.9h0m0 19h0m0 27.7h0m0-42.6h0m0 7.5h0m0.1 43.5h0m0-62.9h0m0.1 10.2h0m0 16.6h0m0-11.4h0m0 12.5h0m0.3 98.5h0m0-104.4h0m0.1 2.4h0m0-13.6h0m0.1 12.5h0m0.1-13.5h0m0 23.4h0m0-22h0m0-7.1h0m0.1 80.5h0m0-77.3h0m0 24.9h0m0.4-11.9h0m0-12.1h0m0.1 32.5h0m0-4.4h0m0-11.9h0m0.1-18.2h0m0 15.7h0m0.1-4.9h0m0 12.1h0m0-27.8h0m0 20.2h0m0.1-5.6h0m0-2.7h0m0.1 7.9h0m0-4.6h0m0.2 9h0m0.1-11.2h0m0.1 32.9h0m0-30.9h0m0.3-2.8h0m0-10.2h0m0 18.5h0m0.1 2.4h0m0.1-23.4h0m0.4 22.5h0m0.1 2.9h0m0-15.4h0m0.1 8.8h0m0-2.5h0m0.2-15.5h0m0 12.5h0m0-8.8h0m0.2 19.7h0m0.1-10.4h0m0.1-7.6h0m0.1 18.6h0m0.1-8.2h0m0.1-7.6h0m0 5.9h0m0 6.5h0m0-18.9h0m0.1 19.1h0m0 4.6h0m0.1-10.5h0m0-3.2h0m0.1 3.7h0m0-15h0m0.3 12.7h0m0.1-2.3h0m0.1 6.7h0m0.2 1.4h0m0-12.1h0m0.2 8.3h0m0 43h0m0.1-41.6h0m0-4.7h0m0.1 5.7h0m0.1-7.9h0m0.2 4.1h0m0.1 0.4h0m0 13.5h0m0.2 1.6h0m0-9.7h0m0.1-8.1h0m0.1 4.7h0m0.1-2.5h0m0.1-8.5h0m0.1-9.8h0m0.1 48.8h0m0-27.3h0m0 2.1h0m0.1-5h0m0-11.2h0m0.2 18.3h0m0.1 15.4h0m0.4 14.5h0m0.1-55.5h0m0.1 21.8h0m0-8.6h0m0.1 13.1h0m0.1-10.8h0m0 74.3h0m0-69.7h0m0.5-18.5h0m0 21.4h0m0 1.2h0m0.3 12.8h0m0.1 46.3h0m0-61.5h0m0.2-17.1h0m0.1 28.1h0m0-17.1h0m0.1 4h0m0.1 6.3h0m0 91h0m0.1 27.7h0m0-96.7h0m0.1-7h0m0.1-20.1h0m0.1 5.1h0m0-11.6h0m0.1-3.6h0m0 0.5h0m0.1 13.3h0m0.1-2.1h0m0 4.5h0m0.1-13.7h0m0.4 16.8h0m0.1-5.3h0m0-23.5h0m0 13.8h0m0.3 10.5h0m0-13.9h0m0.1 18.3h0m0.1-3.8h0m0-11.5h0m0.1-9.6h0m0 14.9h0m0 7.2h0m0.1-20.6h0m0.1 2.5h0m0.2 32.6h0m0-30.2h0m0.2 5.6h0m0.1 128.7h0m0.5-122.8h0m0 6.4h0m0.1-23.1h0m0.1 67.6h0m0.2-60.8h0m0.1-2.8h0m0.3 2.7h0m0-4.2h0m0.3 11.4h0m0.1 2.2h0m0-5.7h0m0 167h0m0.2-159.2h0m0-18.2h0m0.1 6.8h0m0.1 0.5h0m0 0.6h0m0.2 4.6h0m0.1-0.7h0m0-3.4h0m0.2 72h0m0.1-76.4h0m0.1 15.6h0m0.2-4.6h0m0-7.7h0m0.1 25.3h0m0.1-25.1h0m0.5 3.9h0m0.1-15.7h0m0.5 19h0m0 25.2h0m0.1-34.2h0m0.1 7.1h0m0 5.7h0m0.1-7h0m0.1 8.8h0m0.1-3h0m0.1 6.6h0m0.2-25.4h0m0.1 13.1h0m0-3.5h0m0.1-1.7h0m0 7.3h0m0.2-11.3h0m0.1-4.7h0m0.1 10h0m0.1 24.7h0m0.1-13.6h0m0 19h0m0.1-13.5h0m0-15h0m0.2 4.2h0m0-17.9h0m0 14.2h0m0.1 7.4h0m0.1-6.6h0m0.2 18.3h0m0-12.7h0m0 20.5h0m0.2-30.7h0m0.1 1.9h0m0-6.5h0m0.4 14.7h0m0.2-5.7h0m0.1 3h0m0-4.5h0m0-12h0m0.5 0h0m0 22.8h0m0.1-13.5h0m0.4 18.4h0m0.2-25.1h0m0 20.9h0m0.1 7.4h0m0.2-7.6h0m0.1-8.3h0m0-2h0m0.3 14.2h0m0.3-10.9h0m0.5 9.2h0m0.1-17.9h0m0.2 14.3h0m0-6.2h0m0.1-13.8h0m0.2 18.5h0m0.2-17h0m0.3 17.5h0m0.2-7.5h0m0.3 6.4h0m0.1 0.2h0m0.2-13.6h0m0.3 2.6h0m0-6.3h0m0.2 34h0m0.1 17.3h0m0.2-28.5h0m0.1-23h0m0 15.2h0m0.1-5.1h0m0.2-1.9h0m0.2-1.5h0m0.3 16.2h0m0.2-5.2h0m0.2-22.8h0m0 14.7h0m0.4 3.2h0m0 75.7h0m0.1-13.2h0m0.7-46.6h0m0-9.6h0m0.1-21.8h0m0 25.6h0m0.4-17.8h0m0 24.9h0m0-13.4h0m0.3-1.1h0m0-6.5h0m0.1-3.3h0m0.1 0.1h0m0.1 20.1h0m0.2-20.4h0m0 9.7h0m0.2-9.7h0m0.1-4.3h0m0.1 11.6h0m0.2 3h0m0.1 9.3h0m0.3-7.9h0m0.2 4h0m0-7.1h0m0.1-0.7h0m0 73.6h0m0.1-63.4h0m0.1-18.6h0m0 17.2h0m0-13.5h0m0.1 14.3h0m0.4-5.2h0m0.1-2.2h0m0-5.1h0m0.1 18.6h0m0.1-15.2h0m0.1 1.7h0m0.3-0.3h0m0.1-0.8h0m0.1-2.9h0m0.2-2.4h0m0.8 1.6h0m0.1 4.1h0m0.6 3.8h0m0.9-13.6h0m0.5 116.2h0m0.1-111.6h0m0 21.2h0m0.2-18h0m0-5.3h0m0.2 12.2h0m0.1-9.4h0m0.4-5.6h0m0.1 8.8h0m0.4-5.8h0m0.5 7.9h0m0.1-4.3h0m0.2 56.8h0m0.1-52.3h0m0.5-5h0m0.3 0.7h0m0.4 12.4h0m0.2-8.8h0m0.2-12.4h0m0 8.3h0m0.2 1.1h0m0 3.1h0m0.4-6.2h0m2.1-11.5h0m1.4 17.9h0m0.3-1h0m0.6-11.6h0m0.4 7.1h0m0.2 12.6h0m0.2-9.2h0m0.2 8.6h0m0.1 1.1h0m0.5-13.8h0m0.4 0.5h0m2.3-6.4h0m1.2 1.5h0m0.1 5.4h0m0.1-10.5h0m0.6 3.3h0m0.3 9.3h0m0.8 1.8h0m0.8 13.3h0m0.3-10.5h0m0.6-0.1h0m0.9-2.4h0m1.6-1h0m1.6 14.1h0m3.6-13.2h0m0.3-3.4h0m0.3 72h0m0.1-71.5h0m0.5-19.1h0m1.1 19.2h0m0.4-11h0m0.9 11h0m2.3 0h0m0.2 8.8h0m0.2-21.2h0m0.2 21.2h0m0.6-10.2h0m0.2-6h0m0.2-3.3h0m0.7 14.6h0m1.1 14.2h0m2.7 33.6h0m2.5-43.9h0m2.3-4.8h0m1.4 1.4h0m6.6 118.8h0m23-120.1h0"/>
<path d="M1177.8 185.3h0m2.6 9.8h0m2.1-22.4h0m4.5-7.9h0m1.4 37.8h0m0.4-52.2h0m2.5 35.3h0m1.3 11.7h0m3.8-28h0m2.6 30.8h0m1.3-15.7h0m0.4-19.6h0m1.4-1.2h0m0.5-5.5h0m0.5 21h0m0 12.2h0m0.5-47.8h0m0.2 19.7h0m0.4 4.6h0m0.1 0.3h0m0.9 1.6h0m0-16h0m0.1-28h0m0.5-23.3h0m0.2 69.5h0m0.5-8.7h0m0-17.2h0m0.1 15.5h0m0.3-4.3h0m0.7-18.6h0m0.5 66.9h0m0-76.7h0m0.1-32.5h0m0.4 124.3h0m0.6-47.6h0m0.1-56.5h0m0.3 82.8h0m0.6-1.3h0m0.1-60.3h0m0 48.5h0m0.1-54.9h0m0.9 88.6h0m0-71.2h0m0.3 36.3h0m0.2-16.4h0m0.2 31.2h0m0.1-45.1h0m0.3 69.2h0m0-139.7h0m0.6 78.8h0m0 7.4h0m0.2-4.3h0m0 19.1h0m0 8.4h0m0.2-83.1h0m0.3-5.5h0m0.4 11.5h0m0.2 74.8h0m0.2 22.3h0m0.2-34h0m0.3 22.5h0m0.2-19.8h0m0-10.4h0m0.3-4.3h0m0-16.2h0m0-10.3h0m0.1-33.6h0m0.3 75.3h0m0.1-0.1h0m0.2-10.9h0m0.1-3.6h0m0.3-25.7h0m0.4 22.2h0m0.5 18.1h0m0.2 3.4h0m0 28.5h0m0.3-41.1h0m0.4-41.1h0m0.1 33.1h0m0.2 30.5h0m0.3-55.8h0m0.2 4.8h0m0 56.8h0m0.2-88.2h0m0.1 43.1h0m0.3-2.9h0m0.3 62h0m0.2-4.3h0m0-59.8h0m0.2 9.9h0m0.2 32.8h0m0-35.4h0m0.3-17.4h0m0.4 23.3h0m0.6-0.9h0m0.2 25h0m0-86.3h0m0.3 81.6h0m0.1-47h0m0.1 64h0m0.3-17.8h0m0.1 3.8h0m0.4-14.8h0m0-2.4h0m0.7 10.1h0m0.3-69.7h0m0.1 96.5h0m0.5-7.2h0m0 1.5h0m0.4 3.3h0m0.1-103.6h0m0 76.3h0m0.1-37.9h0m0.1 24.6h0m0.4-49.7h0m0 16.5h0m0.1-18.2h0m0.1 93.3h0m0.2 6.2h0m0.2-89.5h0m0 25.9h0m0.4 40h0m0.1-94.4h0m0.3 66.6h0m0.1 2.6h0m0.4 65.9h0m0.1-125.9h0m0.6 75.9h0m0-21.5h0m0.4-3.1h0m0.1 71.9h0m0-76.6h0m0.1 14.3h0m0.2-61.6h0m0.3 101.8h0m0.1-14.9h0m0 13.2h0m0.1-48h0m0-50.9h0m0.1 99.5h0m0-60.8h0m0.1 54.1h0m0.4-8.5h0m0.3-34.2h0m0.1 39.8h0m0.1-14.3h0m0.4-89.8h0m0.2 21.9h0m0.1 101h0m0-50.8h0m0 61.5h0m0-43.5h0m0.1 4.4h0m0.7-55h0m0.2 39.2h0m0 41.6h0m0.1-96.6h0m0.1 64.5h0m0 8.3h0m0.1-70.8h0m0 78.8h0m0.4-39.7h0m0 7.7h0m0.7-11.2h0m0.1 16.6h0m0-18.5h0m0.3 13.9h0m0-10h0m0 16.6h0m0.1 16h0m0.2-44.8h0m0 40.6h0m0-29.2h0m0.3-1.3h0m0 3.6h0m0.2-31.6h0m0.1 82.3h0m0.1-61.9h0m0.9 34.9h0m0.4-82.3h0m0.2 90.1h0m0.1 22.4h0m0-6.3h0m0.1-47.9h0m0.3-23.4h0m0.1 54.4h0m0-44.6h0m0.1 39.8h0m0.3 17.4h0m0.1-61.1h0m0.1 63.3h0m0.3-29.9h0m0.2-72.7h0m0 30.4h0m0.2 45.1h0m0.2 16.7h0m0.2-37.2h0m0.2 40.2h0m0-5.1h0m0-32.4h0m0.5-18.3h0m0.2-11.6h0m0.2-27.4h0m0 78.4h0m0-11.1h0m0.1-27.8h0m0.1-49.7h0m0.1 95.7h0m0.2-13.8h0m0.2 152h0m0-132.6h0m0.9 2.2h0m0-46.7h0m0.5-42.8h0m0 98.9h0m0.3-61.7h0m0.1-39h0m0 4h0m0.1 45.4h0m0.2-26.2h0m0-31.6h0m0.1 80.7h0m0.2 35.8h0m0-72.4h0m0 7h0m0.1 40.8h0m0-67.1h0m0.1 44.3h0m0 38.6h0m0.1-106.3h0m0.2 130.1h0m0.1-84.4h0m0.1-68.2h0m0.1 99.7h0m0.1 33.6h0m0.1-68.2h0m0-26h0m0.3 28.2h0m0.3 73.2h0m0.5-20h0m0.2-34.9h0m0.2-11.7h0m0.9 40.2h0m0.1-54.1h0m0 33.4h0m0.1-13.1h0m0.1 39.1h0m0-86.4h0m0.1 49h0m0 13.7h0m0 2.2h0m0.1-22.3h0m0.1 20h0m0.2 49h0m0.2-17.7h0m0-50.8h0m0.2 35.9h0m0.6 13.6h0m0.2 8.1h0m0.2-104.8h0m0 71.5h0m0-38.1h0m0.2 55.4h0m0.1-15.1h0m0.2 12.6h0m0.2-65.3h0m0.1-4.8h0m0.2 46.2h0m0-55.9h0m0.3 90.9h0m0-22h0m0.1 33.9h0m0-35.9h0m0.3 111.1h0m0.3-72.7h0m0-32.2h0m0.3-21.6h0m0.1 19.1h0m0.2 42.4h0m0.1-52.6h0m0.2 7.2h0m0.1 26.3h0m0.2-16.9h0m0.1 28.6h0m0.1-76.3h0m0.1 44.5h0m0 17.2h0m0.2 7.1h0m0.2-74.2h0m0.1 1.9h0m0.3 15.2h0m0 8h0m0.1-26.6h0m0.1-1h0m0.3 17h0m0-31.4h0m0.2 86.8h0m0.3-37.5h0m0 52.4h0m0.1-34.9h0m0-50.8h0m0.1 33h0m0.5-26.1h0m0.3-27.4h0m0.3 33.1h0m0.1 23.8h0m0.3 21.6h0m0-41.4h0m0.1 7.1h0m0 14.6h0m0.1 1.4h0m0.3-79.6h0m0.2 80.4h0m0-34.4h0m0.3 25.2h0m0.2 12.2h0m0.4-33.1h0m0.1 16.7h0m0.1 54.6h0m0-42.9h0m0.1 0.6h0m0 2.7h0m0-34.2h0m0.2 28.4h0m0 63.9h0m0.2-11.5h0m0-51.8h0m0.1 19.6h0m0.2-111h0m0.1 54.9h0m0 43.9h0m0.1 2.3h0m0 4.6h0m0-45h0m0.2 0.9h0m0.1 100.6h0m0.1-51.1h0m0.1-60.4h0m0.2 60.3h0m0.6-1.9h0m0-8.5h0m0.1-77.6h0m0.1-11.9h0m0.1 41.5h0m0.3 62.7h0m0.3-32.9h0m0-4.7h0m0.1-3.2h0m0-50.5h0m0 102.1h0m0-33.2h0m0.1-23.8h0m0.3 48.4h0m0.1-28.7h0m0.1 1.2h0m0-9.2h0m0.2-26.4h0m0.1 58.4h0m0.4-72.2h0m0 60h0m0.1-54.9h0m0.1-28.9h0m0.1 100h0m0.5-1.5h0m0.2-25.7h0m0 4.8h0m0.1-5.9h0m0-62.7h0m0.3 72.2h0m0.1 20.5h0m0-91.9h0m0.2 64.6h0m0.3-33.2h0m0-39.6h0m0.2 74.4h0m0.3-21.1h0m0-75.9h0m0.9 42.6h0m0-25.4h0m0.2 57h0m0.3 59h0m0.1-26.5h0m0.1-8.3h0m0.1-21.6h0m0 48.6h0m0.3-69.5h0m0 8.8h0m0.3-8.1h0m0.4 31.4h0m0.1 15.7h0m0.2-7.2h0m0.2-94.8h0m0.1 13.6h0m0.5-2.6h0m0.1 79.2h0m0.3 14.1h0m0.2-64.6h0m0.2-25.5h0m0.1 85.7h0m0-13.4h0m0.3-12.4h0m0-16.9h0m0.1 103.7h0m0-80.2h0m0.2-62.7h0m0.2 7.1h0m0 10.2h0m0.1 25.6h0m0.1 1.3h0m0-18.9h0m0.4 12.1h0m0.1-0.3h0m0.4-28.2h0m0 82.2h0m0.1-28.3h0m0.1 40.2h0m0.1-23.6h0m0.1-38.8h0m0.1 52.8h0m0.3-5.6h0m0.1-50.1h0m0-35.4h0m0.1 104h0m0.2-24.4h0m0.1-84.8h0m0.1 90.8h0m0.1 18.1h0m0.1-82.6h0m0 63.1h0m0.2-70.9h0m0-23.1h0m0 32.2h0m0.1-5.2h0m0.3 70.9h0m0.2-54.2h0m0.1 39.9h0m0 2.6h0m0.2-37.6h0m0.1 100.2h0m0.2-128.4h0m0.2 93.9h0m0.1 22.5h0m0.6-143.3h0m0.1 96.2h0m0 20.7h0m0.2-55.1h0m0.2 56.1h0m0.2-35.5h0m0.2 28.1h0m0.1-103.8h0m0.1-0.3h0m0 99.3h0m0.1 6.3h0m0-50.9h0m0 24.8h0m0.1-87.1h0m0.1 67.2h0m0.3 32.6h0m0.3 15.4h0m0-67.5h0m0.1 64.6h0m0-23.5h0m0-26.3h0m0.1-36.3h0m0 51.4h0m0.1-67.4h0m0.1 102.4h0m0.2-91.9h0m0 94.1h0m0.1-41.2h0m0.2-23.6h0m0.3-47.6h0m0.6 102.4h0m0.3-58h0m0.2-24.5h0m0.1 64.8h0m0.1 15.8h0m0-93.7h0m0.1 27.2h0m0.1-17.9h0m0.3 102.2h0m0.1-59.9h0m0-11.5h0m0.1 10.7h0m0.1-37.1h0m0 78.5h0m0.1 7.6h0m0-66.8h0m0.2-15.6h0m0.1-22.6h0m0.3 7h0m0.1 15.8h0m0 24.5h0m0.2 26h0m0.3-25.5h0m0-11.6h0m0.1-20.3h0m0.4 114.6h0m0 5.1h0m0.2-116.6h0m0-17.6h0m0.1 9.4h0m0.3 57.3h0m0.2-28.5h0m0.1 40.1h0m0.2 0.5h0m0.3-31.2h0m0.2-18.1h0m0.2-20h0m0 91.1h0m0.1-82.2h0m0 2.6h0m0 11.9h0m0.1-10.4h0m0.1 36.2h0m0 57.2h0m0-10.5h0m0.1-46.1h0m0-69h0m0.1 53.8h0m0-42.7h0m0.1 40h0m0.1 5.3h0m0.1-54.4h0m0.7 118.1h0m0-84.4h0m0.2 25h0m0.2-18h0m0 21h0m0 25.4h0m0.1-66.9h0m0.1 1.3h0m0 40.1h0m0.2-50.4h0m0 10.7h0m0.4 64.4h0m0.1 27.8h0m0.3-108.5h0m0.2 81.8h0m0-75.8h0m0.5 52.4h0m0.2-44.6h0m0.2 49.2h0m0 16.4h0m0.2 5.9h0m0.2-34.2h0m0 13.5h0m0.1 21.1h0m0.1-88.4h0m0.1 31h0m0.1 86.4h0m0.2-94.7h0m0.2 45.3h0m0.1-57.4h0m0 41.5h0m0.1 5.8h0m0.3 34.1h0m0.1-64.3h0m0.1-31.6h0m0.1 86.1h0m0-84.2h0m0.2 23.9h0m0.2 24.7h0m0 85.5h0m0.2-122.4h0m0.1 95h0m0.1-91.5h0m0.1 58.4h0m0-4.4h0m0.1-55.1h0m0.4 40.9h0m0.1 3.4h0m0.1-17.5h0m0.1-24h0m0.3 49.9h0m0.2 69.7h0m0.1-114.4h0m0.1 14.7h0m0.1 44.9h0m0.1 40.9h0m0.1-110.3h0m0.1 30h0m0.2 80.8h0m0.1-38.4h0m0.1-75.1h0m0.1-14.1h0m0.1 19.3h0m0 89h0m0.1-96.1h0m0.2-0.3h0m0 67.2h0m0.1-60.7h0m0 64.5h0m0-29.4h0m0-8.9h0m0.1-5.8h0m0.1-31.3h0m0.2 17.4h0m0.4-4h0m0.1-6.5h0m0 13.8h0m0.1-13.3h0m0.1 39.7h0m0-30.2h0m0.1-6.5h0m0.2 53.9h0m0.1-73.9h0m0.2-3.8h0m0.2 101.6h0m0.5-66h0m0-11.7h0m0.2 50.6h0m0.2-53.5h0m0.3 49.8h0m0.3-49h0m0 10.8h0m0.3 7.4h0m0.1-10.3h0m0.1 55h0m0-58.7h0m0.1-5h0m0.1 45.6h0m0.2-37.5h0m0.2-15.5h0m0 7.2h0m0.2-12.2h0m0.2 12.8h0m0.1 9h0m0.1-0.3h0m0-8.8h0m0.4 4.3h0m0 44h0m0.2-42.2h0m0-5.8h0m0.8-5.5h0m0 2.6h0m0.1 36.1h0m0.4 12.9h0m0.1-35.1h0m0 89.9h0m0.1 28.5h0m0-116.4h0m0.1 109.6h0m0.1-116.9h0m0.1-3.5h0m0.1 101.3h0m0-71.8h0m0.1-10.2h0m0 70.6h0m0-84.5h0m0 94.8h0m0.1-73.3h0m0-0.5h0m0.1-28.5h0m0 16.2h0m0.2-1.8h0m0-9.4h0m0.1 7.6h0m0.1-6.5h0m0.2 1.4h0m0.1-8.2h0m0.1 57h0m0.1 21.1h0m0-11.4h0m0-53.7h0m0 11.5h0m0.1-8.6h0m0 98.2h0m0.2-120.5h0m0 11.9h0m0.1-1.9h0m0.1 8.7h0m0.2-1.2h0m0-5.2h0m0 78.1h0m0.3-76.9h0m0-8.5h0m0.2 78h0m0.2 37.3h0m0.1-123h0m0.1 14.8h0m0 65.7h0m0-73.8h0m0 80.3h0m0.2-54.6h0m0.2-9h0m0.1 83h0m0-81.6h0m0 3.4h0m0.1-24.6h0m0.2 9.3h0m0.3-17.7h0m0 20.5h0m0.2-9.1h0m0 8.7h0m0.3 70.2h0m0.1-89.7h0m0 22.4h0m0 84.7h0m0-90.4h0m0.1 58.3h0m0.1 8.5h0m0.1 36.1h0m0.1-92.9h0m0-5.8h0m0.2 0.1h0m0-2h0m0 72.2h0m0.1-93.8h0m0 19.8h0m0.1 13.7h0m0.1-0.1h0m0.2 22.4h0m0 7.6h0m0.1-32.1h0m0.1 1.7h0m0-17.6h0m0 11.3h0m0-4.4h0m0.1 26h0m0-8.1h0m0.1 33.7h0m0.1-59.4h0m0.2 25.4h0m0-29.2h0m0 120.4h0m0.1-109.1h0m0 21.8h0m0.1-27.5h0m0 3.1h0m0 57.4h0m0.2-48.4h0m0.1-4.2h0m0 54.1h0m0.2-56.3h0m0.3 9.2h0m0.1-13.1h0m0.1 88.8h0m0.1-72.6h0m0.1 32.2h0m0-53.2h0m0 74h0m0.1 1.8h0m0-66.8h0m0.1 37.2h0m0-11.2h0m0.1-7h0m0 29.4h0m0.2 18.1h0m0 13.4h0m0-17.9h0m0-75h0m0 13.8h0m0.1 53.6h0m0.3-50.3h0m0 11.1h0m0.1-16.1h0m0.2 1.2h0m0.1 111.5h0m0.1-100.8h0m0-2.6h0m0-25.6h0m0.2 93.1h0m0.2-84.2h0m0.3 3.5h0m0-11.4h0m0 49h0m0.1 45.2h0m0-19.6h0m0.1-61.2h0m0 1.5h0m0.1-8.4h0m0.1-4.3h0m0 7.5h0m0.1 71.3h0m0-54h0m0.2 34.2h0m0-66.7h0m0.1 13.6h0m0.1-2.9h0m0 11.7h0m0.2 0.5h0m0.1-10.5h0m0.3 46.8h0m0.1 13h0m0.2-55.4h0m0 1.9h0m0.1-4.4h0m0 6.5h0m0.2 76.5h0m0-29h0m0.3-60.9h0m0.1 23.6h0m0 138.8h0m0-153.2h0m0.1 9.2h0m0 2.7h0m0.1 46.1h0m0-56h0m0.2 23.7h0m0.1 3.5h0m0.1-25.2h0m0-19.8h0m0 19.2h0m0.1-4.4h0m0 6.1h0m0 18.1h0m0.1-41.9h0m0.1 29.6h0m0-19.8h0m0 7.4h0m0 11.1h0m0.1 0h0m0.1 0.9h0m0 105.4h0m0-108.5h0m0.1 16.4h0m0.3-27.1h0m0.1 42.6h0m0.1-26.6h0m0 4.7h0m0 18.6h0m0-30.5h0m0 50.6h0m0-58.6h0m0 83.8h0m0.1-35h0m0.1 14.4h0m0.2-58.3h0m0-3.9h0m0 9.5h0m0.1 1.1h0m0-4.3h0m0.1 11.3h0m0 84.9h0m0.1-89.4h0m0.2 8.9h0m0.2 71.7h0m0-84.7h0m0-7.2h0m0 36.6h0m0.1 69.2h0m0.1-107.1h0m0.1 7.4h0m0.1-11.6h0m0 21.3h0m0.1 89.2h0m0-22.4h0m0.3-66.4h0m0.1 24.3h0m0-43.3h0m0.1 11h0m0-2.9h0m0.2-16.5h0m0 39.6h0m0-30.6h0m0.2-1.3h0m0 4h0m0.2 94.3h0m0.1-98.9h0m0 6.9h0m0-5.9h0m0.2 10.5h0m0 14.2h0m0-36.2h0m0.2 32h0m0-25.1h0m0.1 12.2h0m0-13.2h0m0.1 7.2h0m0 26.8h0m0-30.4h0m0 101.1h0m0.1-97.9h0m0-5.4h0m0 63.3h0m0-55.9h0m0 9h0m0.2-4.5h0m0 12h0m0.1-7.7h0m0.1-23.6h0m0 118.3h0m0.1-105h0m0.2 102h0m0-98h0m0-15.5h0m0 0.7h0m0 12.7h0m0.2-4.6h0m0 0.1h0m0 4.6h0m0.1 8.9h0m0.2 10.7h0m0.1-41.3h0m0.2 16.8h0m0 85.2h0m0-45.4h0m0.1-31h0m0.1-5.9h0m0 30.3h0m0 22.4h0m0.1 23.9h0m0.1-64.9h0m0.5-7.3h0m0-12.5h0m0 18.1h0m0.1-1.8h0m0.1-10.7h0m0 28.2h0m0.3-14.2h0m0 13.3h0m0.2-1.5h0m0.1-6.1h0m0-23h0m0.1 72h0m0.3-63.5h0m0.1-5.3h0m0-3.7h0m0.1 31.6h0m0-39.5h0m0.2 20.4h0m0.1 2.3h0m0.1-16.6h0m0.2 11.7h0m0-11h0m0-13.4h0m0.1 37.3h0m0.1-28.5h0m0 79.1h0m0-89.4h0m0 10.6h0m0.1 39.1h0m0.1-10.3h0m0-17.4h0m0.1 14.9h0m0-0.2h0m0.2 58.6h0m0.1-74h0m0 6h0m0.4-11.1h0m0.1 8.9h0m0 2.2h0m0.1-0.5h0m0-6.4h0m0 85.6h0m0.1-78.4h0m0.1 83h0m0-30.8h0m0-56.5h0m0 8.6h0m0.1 9.7h0m0.1 34.1h0m0.1-54.2h0m0 6.4h0m0 4.2h0m0.1-13.3h0m0.1 3.9h0m0.1 57.7h0m0.1-51.4h0m0.1-5.1h0m0.2-5.1h0m0 0.2h0m0.1 17.1h0m0.1-9.1h0m0-16.8h0m0 35.2h0m0.1-36.9h0m0.1 74.9h0m0.1-47h0m0.1-5.3h0m0-17.3h0m0 13.7h0m0.1 9.8h0m0.1-17h0m0 23.7h0m0-20.4h0m0.1 20.8h0m0.1-13.7h0m0.1-23h0m0 15.3h0m0.2-3.7h0m0.1 127.8h0m0-43.8h0m0.1 14.4h0m0-95.6h0m0 30.2h0m0.1-28.2h0m0.1-4.7h0m0 44.7h0m0 1h0m0-60h0m0.2-1.6h0m0.2 2.1h0m0.2 25.4h0m0-2.5h0m0.1 2.8h0m0 10.6h0m0 0.4h0m0.1-17.8h0m0 106.1h0m0.1-120.3h0m0 10.1h0m0.1 3.2h0m0.2-1.3h0m0.1 6.2h0m0-8.7h0m0.1 12.8h0m0 7.4h0m0-21.7h0m0.1 12.1h0m0.1 37h0m0-31.3h0m0-13.7h0m0.1 9.2h0m0.2-8h0m0.1 13.7h0m0.1-19.3h0m0.1 63.8h0m0 1.6h0m0.1-41h0m0-26.2h0m0.2 21.2h0m0.1 0.6h0m0-25.4h0m0 2.9h0m0.1 66.7h0m0-12.9h0m0-23h0m0-18h0m0 6.3h0m0.1-7.2h0m0-6h0m0.2 4.7h0m0 22h0m0.1 55.8h0m0.1-87.9h0m0 9.2h0m0.2 2.9h0m0.1 15.5h0m0-10.3h0m0-1.5h0m0-15.4h0m0.2 8.5h0m0.1 3.5h0m0.1 4.9h0m0 2.2h0m0-22.2h0m0.1 1.7h0m0 1.5h0m0 3.6h0m0.1-0.7h0m0-2.6h0m0 42.6h0m0.1-48.7h0m0.2 27h0m0 51h0m0-64.3h0m0 9.7h0m0.2-4.9h0m0-20.4h0m0.1 16.8h0m0 9.4h0m0-25.1h0m0.1 9h0m0 2.5h0m0.2 8.5h0m0-9.9h0m0.2 19.3h0m0-20.5h0m0 12h0m0-10h0m0 14.5h0m0.3 2.2h0m0.1-14.3h0m0-7.3h0m0.1 10.9h0m0-11.6h0m0-1h0m0.1-4h0m0.1 51.5h0m0.2-37h0m0.1-5.9h0m0.3 12.4h0m0-8.3h0m0-7.5h0m0.3 1.6h0m0 6.8h0m0-9.4h0m0.1 16.5h0m0.1-20.1h0m0 24.6h0m0.1 80.5h0m0-106.6h0m0 38.7h0m0.3-21.9h0m0.1-2.7h0m0.1 3.7h0m0 0.6h0m0.1-9.4h0m0.2 85.4h0m0-81.1h0m0 8.4h0m0.1 3.8h0m0.1-0.8h0m0 21.1h0m0-29.4h0m0 15h0m0.1-9.4h0m0-5.7h0m0.1-1.7h0m0.1-11.8h0m0 14.9h0m0.1-12.5h0m0.1 1.3h0m0 25.2h0m0.1-17.2h0m0.1 85.3h0m0 26.1h0m0-116.5h0m0 3.5h0m0-10.1h0m0 28.3h0m0-8.1h0m0.2 3.4h0m0 135.7h0m0-124.6h0m0.1-9.2h0m0.1-14.4h0m0-10.4h0m0.3 74.3h0m0-68.7h0m0 10.5h0m0.1 13.6h0m0-29.1h0m0 34.3h0m0.2 45.9h0m0-81.8h0m0.2 25.4h0m0-18.9h0m0.1 0.6h0m0.1-11.1h0m0.1 15.4h0m0 2.6h0m0.1-16.5h0m0 16.7h0m0-7.7h0m0.1 28.3h0m0.4-18.1h0m0 16.1h0m0-9.2h0m0-17.7h0m0.2 1.8h0m0.2 7.3h0m0-7h0m0 7.8h0m0-5h0m0.1 17.3h0m0.2-23.4h0m0 11.2h0m0-5.3h0m0.1 95.2h0m0.1-90.1h0m0.1 7.9h0m0 70h0m0-79h0m0 0.6h0m0.1 4.7h0m0.1 0h0m0.1 80.7h0m0.1-77.5h0m0.1-7.2h0m0 2.1h0m0.1-13.7h0m0 6.9h0m0 86.5h0m0.1-93.1h0m0 18.6h0m0.1-1.6h0m0.3-3.2h0m0-19.9h0m0.1 18.3h0m0-5.8h0m0.1-19.9h0m0.1 21.7h0m0 1.6h0m0-16.3h0m0 2.3h0m0 6.8h0m0.1-7.6h0m0.1 80.9h0m0-55.4h0m0-14.5h0m0.1 8.9h0m0-4.3h0m0.1 16.1h0m0.1-33.4h0m0 18.5h0m0.2-9.2h0m0 4.5h0m0.1 1.5h0m0.1-14.6h0m0 7.7h0m0.1 12.4h0m0 46.4h0m0-65.8h0m0.2 18.3h0m0.1-5.3h0m0.1-4h0m0 61h0m0-53.8h0m0-5.2h0m0.1-13.3h0m0 76.4h0m0.1-54.4h0m0-20.8h0m0.2 11.9h0m0 1.2h0m0-11.4h0m0 3.3h0m0.1 16.2h0m0.1 5.7h0m0-6.6h0m0-18.8h0m0 59.2h0m0.2-36.7h0m0-12.5h0m0.1 5.2h0m0 7.4h0m0-7.1h0m0.1 102.2h0m0-104.5h0m0.1-15.4h0m0.2 10.6h0m0.1 14h0m0-1.3h0m0.1 39.2h0m0.1-46h0m0-10.4h0m0.1 18.3h0m0-6.5h0m0.1-11.8h0m0 5h0m0 3.3h0m0 22.2h0m0.3-30.3h0m0 2.6h0m0-4.3h0m0.1 9.2h0m0.1-1.6h0m0.1-3.1h0m0 5.8h0m0 45.9h0m0-34.3h0m0.1-3.8h0m0-11.5h0m0 43.5h0m0-10.5h0m0.1 23.3h0m0.1-57.5h0m0.1 7.3h0m0.1-9.1h0m0 6.8h0m0.2 15.2h0m0.1-4h0m0.1-15.1h0m0 2h0m0-1.3h0m0-6.8h0m0 61.1h0m0.1-57.4h0m0-1.5h0m0.1 3.9h0m0.1 5.6h0m0-1.2h0m0 56.9h0m0-47.1h0m0.1 5h0m0-14.8h0m0.1 7.9h0m0.1-15.4h0m0 3.8h0m0.1-4.5h0m0.1 5.1h0m0.2 6.8h0m0-0.6h0m0.1 9.9h0m0-8.2h0m0.1-5.2h0m0-2.6h0m0 3.4h0m0.1-6.7h0m0-1.2h0m0 8.2h0m0.1-17.8h0m0 32.1h0m0-30.6h0m0.1 12.9h0m0-8h0m0 7.1h0m0-14.6h0m0.1 11.6h0m0-3.3h0m0.1 14.3h0m0.1 11h0m0 58.5h0m0-70.7h0m0-1.1h0m0.1-9.3h0m0 100.7h0m0-99.4h0m0 0.5h0m0.1 4.8h0m0.1 3.3h0m0.1-5.5h0m0-3.2h0m0 1.5h0m0.1 23.1h0m0.1-22.2h0m0.1 74.4h0m0.1-74.5h0m0-2.3h0m0 3.9h0m0.1 73.2h0m0-78.8h0m0 13.2h0m0.1-19.9h0m0 7.6h0m0.1-0.3h0m0 113.4h0m0.1-112h0m0 3h0m0.1-9.5h0m0 6h0m0 65.3h0m0-64.1h0m0.3 5.9h0m0 3.7h0m0 74h0m0.2-71.6h0m0 0.4h0m0.1 34.3h0m0-40h0m0.1 1.3h0m0.1 0.8h0m0.1-8.6h0m0.1-1.3h0m0.1 5.3h0m0.1 17.2h0m0-17.2h0m0 13.4h0m0-16.4h0m0.1 4.1h0m0-6.8h0m0.1 9.2h0m0.1-8.2h0m0 7.2h0m0.1 1.3h0m0.1-7.4h0m0 15.7h0m0.1-14.9h0m0.2 4.7h0m0 0.6h0m0.1 64.8h0m0-49.9h0m0.2-30.5h0m0 19.2h0m0.1 5.3h0m0-11.5h0m0.2 13.5h0m0.1-13.3h0m0.1 25.3h0m0-26.2h0m0.1 75.3h0m0-80.9h0m0.1 70.4h0m0-53.9h0m0.1 0.7h0m0.1-16.2h0m0 0.5h0m0.1-0.2h0m0 7.7h0m0.1-4.1h0m0-9.2h0m0.1 11.3h0m0-9.8h0m0 16.8h0m0.1-7.5h0m0.1 15.5h0m0.1-22.8h0m0-6.8h0m0-1.2h0m0.2 12.2h0m0.1 4.3h0m0-10.5h0m0 29.1h0m0.2-35h0m0 24.5h0m0.1-16.9h0m0 2.3h0m0.1 2.9h0m0 11.8h0m0-14.2h0m0 5.3h0m0.1 17.6h0m0.1-26h0m0.1 2h0m0.1-7.6h0m0.1 28.3h0m0.1-10.6h0m0.1-0.4h0m0.1 25.5h0m0.1-38.4h0m0-8.7h0m0.1 12.8h0m0.2 17h0m0.2-15.1h0m0-13.2h0m0 4.8h0m0 14.9h0m0.1 8.5h0m0-12h0m0.1-16.1h0m0 17.1h0m0.1-4h0m0.1 82.7h0m0-79.5h0m0.1 8.7h0m0.1-1h0m0 34.3h0m0-40.7h0m0.1 12h0m0-17.7h0m0.1 7.9h0m0 7.2h0m0-3.8h0m0.1 3.2h0m0.2 2h0m0-16.2h0m0 4h0m0.2 15.2h0m0.1-6.7h0m0.1 2.9h0m0.1 56.2h0m0.5-56.3h0m0.2-25.3h0m0.2 26.4h0m0-1.4h0m0.1-12.7h0m0.1-12.5h0m0.4 13h0m0 8.7h0m0.2-5.1h0m0-14.2h0m0 7.7h0m0.1 14.9h0m0.1-15.3h0m0 2.9h0m0-14.1h0m0.1 9.3h0m0 8.6h0m0.1 18.3h0m0-18.7h0m0 8h0m0.2-1.9h0m0.1-10.1h0m0.1-6.3h0m0.1-6.1h0m0.1 29.6h0m0.1-11.5h0m0 5h0m0.2-10.7h0m0 1.9h0m0-18.3h0m0 38.5h0m0.1-24.9h0m0.1 1.5h0m0.1-10h0m0 91.8h0m0-82.7h0m0.1-6.5h0m0 7.9h0m0.2 46.6h0m0.1-58.3h0m0 13.4h0m0.1 4.2h0m0.1 6.9h0m0.1-15.7h0m0.1-0.6h0m0 8.4h0m0.1-3.9h0m0.2-5.9h0m0.4 13h0m0.1-7.1h0m0.1-7.4h0m0 13.5h0m0.1 4.9h0m0 23.2h0m0.1-32.2h0m0 18.4h0m0.1-40.7h0m0 17.9h0m0 0.6h0m0.1 2.9h0m0 1.2h0m0 9.1h0m0.1-17.6h0m0 1.4h0m0 11.2h0m0.1 2.2h0m0-27.4h0m0 31.3h0m0.1-9.4h0m0.1-16.6h0m0.1 13.4h0m0-1.8h0m0 1.2h0m0.1 12h0m0.1-9.7h0m0 14.3h0m0-18.7h0m0 70.3h0m0.2-61.9h0m0 2.1h0m0-10.5h0m0.2 1.6h0m0.1 6.7h0m0-1.9h0m0-24.7h0m0.3 42.2h0m0.1-31.5h0m0.1 4.8h0m0.2 19h0m0.1-25.1h0m0 28.8h0m0.1 32.3h0m0-55.6h0m0 20.6h0m0.1-12.8h0m0-5h0m0.1 47.1h0m0-40.7h0m0.1-12.4h0m0.1 5.3h0m0.1-2.3h0m0.1 83.4h0m0 30.4h0m0.2-93.9h0m0 105.7h0m0-127.6h0m0 19.5h0m0.3 68.3h0m0.1 32.5h0m0.1-49.8h0m0-77.3h0m0 2.7h0m0 17.5h0m0.2-11h0m0 4.3h0m0.2-5.6h0m0 12.5h0m0 2.7h0m0.1-12.1h0m0.1 15.7h0m0.2 19.1h0m0.2-37.3h0m0-3.2h0m0.1-0.4h0m0.2 15.3h0m0.1-5.3h0m0.1-0.1h0m0.2 16.1h0m0.1-16.2h0m0 1.7h0m0.1-0.3h0m0.1-0.9h0m0.1 14.7h0m0.1-22.2h0m0.1 2h0m0.1 11.8h0m0.1 21.5h0m0-25.7h0m0.2-13.6h0m0 111.4h0m0.1-96.9h0m0.1 11.6h0m0-30.6h0m0.1 13.8h0m0.1 0.1h0m0.2 18h0m0.1-23.1h0m0 3.9h0m0.1-10.8h0m0.1 14.3h0m0.2-4.9h0m0.2 18.1h0m0-7.6h0m0.1-14h0m0.1 0.2h0m0.2 1.4h0m0 9.3h0m0.1 18.2h0m0.1-30.7h0m0-3.1h0m0.1 7.5h0m0.1 6.2h0m0.3 0.6h0m0.1 2.7h0m0.3-8.5h0m0 4.2h0m0-0.4h0m0-1.7h0m0.1-12h0m0.1 24.8h0m0.1-0.3h0m0 38h0m0.1-41.8h0m0.1 3.2h0m0-6.3h0m0.1 1h0m0.1 8.4h0m0.1-11.8h0m0 4.7h0m0-12.7h0m0.3 6.7h0m0-12.3h0m0.4 8.1h0m0 9.2h0m0.1-20.3h0m0.2 19.2h0m0.2-12.7h0m0.1 22.8h0m0.2-30.3h0m0.4 3.2h0m0.3 12.3h0m0.2 9.9h0m0.3-15.8h0m0 182.8h0m0.2-181.3h0m0.2-4.3h0m0.1 11.7h0m0-5.3h0m0-0.2h0m0.3 6.4h0m0.2-7.4h0m0.2 20.5h0m0.2-17.8h0m0.1 13.2h0m0-26.7h0m0.2 9.9h0m0.1 1.6h0m0.1-6.7h0m0.6 6.8h0m0.1-6.9h0m0.2 13h0m0 6.2h0m0.1-10.3h0m0.1-7.2h0m0-1.5h0m0.2 9.2h0m0.1 0.1h0m0.1 9.9h0m0.3-11.4h0m0 12.5h0m0.6-17.1h0m0.2-7.2h0m0.3 9.9h0m0.3-4.6h0m0 4.7h0m0.1 90.8h0m0.1-88.8h0m0 7.3h0m0 56.5h0m0.1-53.7h0m0.1 4.6h0m0.1-23.4h0m0.3 20.4h0m0-8.6h0m0-0.1h0m0.1 6.7h0m0-12.8h0m0-7.7h0m0.2 4.9h0m0.2 5h0m0.2 20.9h0m0-7.7h0m0.1 0.4h0m0-25.4h0m0.4 5.9h0m0 3.7h0m0.2 6.6h0m0.2 7.4h0m0.9 112.1h0m0.3-115.8h0m0.1 126.2h0m0-115.9h0m0.1-3.3h0m0.1 46.7h0m0-53.8h0m0.1 5h0m0.1-11.9h0m0.1-1.5h0m0.1 94.1h0m0.4-85.8h0m0.2-17.5h0m0.2 57.4h0m0.2-48.4h0m0.2-4.3h0m0 35.7h0m0-22.9h0m0.2 82.4h0m1.6-90.2h0m0 6.5h0m0.1-13.8h0m0.2 4h0m0.1 20.5h0m0.1-12h0m0.2-8.1h0m0.2 9.9h0m0.2-6.5h0m0 6.4h0m0.2-3.6h0m0.8-0.2h0m0.4 15.7h0m0.2-8.3h0m0.2-23.1h0m0.1 21.2h0m0.1 11.9h0m0.9 27h0m0-40.1h0m0.1-18.7h0m1 9.4h0m0.1-1.4h0m0.1 4.1h0m0.4-2.6h0m0.4-9.7h0m0 5.9h0m0.1-6.9h0m0.1 18.7h0m0.3 2.7h0m0 79.4h0m0.2-84.6h0m0.2-11.9h0m0.3 7.2h0m0 6.3h0m0.6-0.9h0m0.1-5.4h0m0.4 0.6h0m0 10.3h0m0.7-22.3h0m2.7 15h0m0.3 9.6h0m0.4-19.6h0m0.1 8h0m0.8 7.7h0m0.4 2.7h0m0.1 70.3h0m0.3-90.5h0m0.1 2.9h0m2.5 9.3h0m1.9-5h0m0.1 1.6h0m0.5 5.1h0m0.4-11h0m0 5.5h0m0.1 8.5h0m0.3-24.1h0m1.5 10.7h0m0.9 9.7h0m3.6 72.4h0m1.5 34.6h0m0.4-107.2h0m0.4-17.4h0m2 9.1h0m2.9 60.6h0m7.8-47.3h0m7.5-19.9h0m0.4 15.1h0m0.7 0.4h0"/>
</g>
<line x1="1162.1" y1="42.5" x2="1162.1" y2="372" stroke="#000" stroke-width="2.2"/>
<line x1="1161" y1="371" x2="1485.4" y2="371" stroke="#000" stroke-width="2.2"/>
<line x1="1159.2" y1="67.8" x2="1161.2" y2="67.8" stroke="#222" stroke-width="1.8"/>
<text transform="translate(1146 73.2) scale(0.950 1.000)" font-size="23.3">5</text>
<line x1="1159.2" y1="135.3" x2="1161.2" y2="135.3" stroke="#222" stroke-width="1.8"/>
<text transform="translate(1146 142.7) scale(0.950 1.000)" font-size="23.3">0</text>
<line x1="1159.2" y1="202.8" x2="1161.2" y2="202.8" stroke="#222" stroke-width="1.8"/>
<text transform="translate(1133.1 210.2) scale(0.950 1.000)" font-size="23.3">−5</text>
<line x1="1159.2" y1="270.3" x2="1161.2" y2="270.3" stroke="#222" stroke-width="1.8"/>
<text transform="translate(1120.7 277.7) scale(0.950 1.000)" font-size="23.3">−10</text>
<line x1="1159.2" y1="337.8" x2="1161.2" y2="337.8" stroke="#222" stroke-width="1.8"/>
<text transform="translate(1120.8 345.2) scale(0.950 1.000)" font-size="23.3">−15</text>
<line x1="1163.6" y1="372" x2="1163.6" y2="374.2" stroke="#222" stroke-width="1.8"/>
<text transform="translate(1145.6 395) scale(0.950 1.000)" font-size="23.3">−10</text>
<line x1="1224.3" y1="372" x2="1224.3" y2="374.2" stroke="#222" stroke-width="1.8"/>
<text transform="translate(1212.5 395) scale(0.950 1.000)" font-size="23.3">−5</text>
<line x1="1285" y1="372" x2="1285" y2="374.2" stroke="#222" stroke-width="1.8"/>
<text transform="translate(1278.8 395) scale(0.950 1.000)" font-size="23.3">0</text>
<line x1="1345.7" y1="372" x2="1345.7" y2="374.2" stroke="#222" stroke-width="1.8"/>
<text transform="translate(1339.6 395) scale(0.950 1.000)" font-size="23.3">5</text>
<line x1="1406.4" y1="372" x2="1406.4" y2="374.2" stroke="#222" stroke-width="1.8"/>
<text transform="translate(1393.7 395) scale(0.950 1.000)" font-size="23.3">10</text>
<line x1="1467.1" y1="372" x2="1467.1" y2="374.2" stroke="#222" stroke-width="1.8"/>
<text transform="translate(1454.4 395) scale(0.950 1.000)" font-size="23.3">15</text>
<text x="1173.2" y="57.9" font-size="22">r = 0.81</text>
<text x="1227.3" y="424.9" font-size="26.2">RNA Abundance</text>
<text transform="translate(1266.6 447.5) scale(1.008 1.000)" font-size="17.8">log</text>
<text transform="translate(1289.7 451.8) scale(1.230 1.000)" font-size="10.5">2</text>
<text transform="translate(1296 447.5) scale(1.086 1.000)" font-size="17.8">(TPM + 1)</text>
<text transform="translate(1087.5 308) rotate(-90) scale(1.000 1.000)" font-size="26">H3K4me3 at TSS</text>
<text transform="translate(1109.2 283) rotate(-90) scale(1.026 1.000)" font-size="17.5">log</text>
<text transform="translate(1113.4 259.8) rotate(-90) scale(1.210 1.000)" font-size="10.5">2</text>
<text transform="translate(1109.2 253.6) rotate(-90) scale(1.089 1.000)" font-size="17.5">(Norm. Signal)</text>
</g>
<g id="panel-c">
<text transform="translate(1546.3 22.2) scale(1.101 1.000)" font-size="25.2" font-weight="bold">c</text>
<line x1="1693.6" y1="51.3" x2="1693.6" y2="376.2" stroke="#000" stroke-width="2.3"/>
<line x1="1692.5" y1="375.6" x2="1966.3" y2="375.6" stroke="#000" stroke-width="2.3"/>
<line x1="1686.9" y1="361.2" x2="1694" y2="361.2" stroke="#000" stroke-width="2.8"/>
<text x="1654.6" y="368.4" font-size="22.4">0.0</text>
<line x1="1686.9" y1="314.3" x2="1694" y2="314.3" stroke="#000" stroke-width="2.8"/>
<text x="1654.6" y="321.5" font-size="22.4">2.5</text>
<line x1="1686.9" y1="267.4" x2="1694" y2="267.4" stroke="#000" stroke-width="2.8"/>
<text x="1654.6" y="274.6" font-size="22.4">5.0</text>
<line x1="1686.9" y1="220.4" x2="1694" y2="220.4" stroke="#000" stroke-width="2.8"/>
<text x="1654.6" y="227.6" font-size="22.4">7.5</text>
<line x1="1686.9" y1="173.5" x2="1694" y2="173.5" stroke="#000" stroke-width="2.8"/>
<text x="1642.1" y="180.7" font-size="22.4">10.0</text>
<line x1="1686.9" y1="126.6" x2="1694" y2="126.6" stroke="#000" stroke-width="2.8"/>
<text x="1642.2" y="133.8" font-size="22.4">12.5</text>
<line x1="1686.9" y1="79.6" x2="1694" y2="79.6" stroke="#000" stroke-width="2.8"/>
<text x="1642.1" y="86.8" font-size="22.4">15.0</text>
<line x1="1761.5" y1="375.6" x2="1761.5" y2="382.6" stroke="#000" stroke-width="2.8"/>
<line x1="1897.2" y1="375.6" x2="1897.2" y2="382.6" stroke="#000" stroke-width="2.8"/>
<text transform="translate(1739.9 403.8) scale(0.902 1.000)" font-size="23.3">ILC1</text>
<text transform="translate(1875.7 403.8) scale(0.959 1.000)" font-size="23.3">ILC2</text>
<text x="1729.6" y="432.8" font-size="26.2">Cell-type-specific</text>
<text x="1658.7" y="463.2" font-size="26">H3K4me3 marked promoters</text>
<text transform="translate(1611.9 272.2) rotate(-90) scale(1.000 1.030)" font-size="26">H3K4me3</text>
<text transform="translate(1632.3 296.3) rotate(-90) scale(1.000 1.000)" font-size="18.5">(Normalized signal)</text>
<line x1="1761.3" y1="56.6" x2="1897.2" y2="56.6" stroke="#222" stroke-width="1.8"/>
<text transform="translate(1810.4 55.7) scale(1.094 1.000)" font-size="30">***</text>
<rect x="1725.2" y="356.4" width="72.6" height="5.4" fill="#444"/>
<rect x="1741" y="355.3" width="41" height="7.4" rx="1.5" fill="#444"/>
<line x1="1897.2" y1="66.6" x2="1897.2" y2="203" stroke="#444444" stroke-width="3.8"/>
<line x1="1878.4" y1="66.6" x2="1915.9" y2="66.6" stroke="#444444" stroke-width="3.8"/>
<line x1="1897.2" y1="355" x2="1897.2" y2="360.2" stroke="#444444" stroke-width="3.8"/>
<line x1="1878.3" y1="360.2" x2="1916.3" y2="360.2" stroke="#444444" stroke-width="3"/>
<rect x="1863.1" y="202.8" width="68.4" height="151" fill="#a4bee0" stroke="#444" stroke-width="3.8"/>
<line x1="1863" y1="325.9" x2="1931.6" y2="325.9" stroke="#444444" stroke-width="3.8"/>
</g>
<g id="panel-d">
<text transform="translate(-0.6 517.3) scale(1.167 1.000)" font-size="25.2" font-weight="bold">d</text>
<text transform="translate(46.5 844.9) rotate(-90) scale(1.000 1.000)" font-size="26.8">H3K4me3</text>
<defs>
<pattern id="stp" width="17.65" height="40" patternUnits="userSpaceOnUse"><rect width="8.9" height="40" fill="#3b3b3b"/><rect x="8.82" width="8.83" height="40" fill="#565656"/></pattern>
<pattern id="chv" width="4.6" height="6" patternUnits="userSpaceOnUse"><path d="M3.2 0.8L1 3L3.2 5.2" fill="none" stroke="#8a8a8a" stroke-width="1"/></pattern>
</defs>
<g transform="translate(14.9 0)"><polygon points="62.2,781.2 62.2,780.2 166.9,780.2 168.9,779.2 177.1,780.4 187.2,778.2 190.3,777.6 197.4,780.2 209.6,779.6 215.7,777.6 219.7,778.8 227.9,779.6 238,780 246.2,777.6 250.2,775.5 253.3,777.2 256.3,780.2 260.4,776.7 263.4,775.1 267.5,776.7 270.5,777.2 272.2,768 273.6,765 275.6,768.6 277.1,769 278.7,766 280.3,767 281.7,771.1 283.8,761.9 285.2,758.9 286.8,763.9 288.8,766 290.5,764.6 291.9,769 293.9,774.1 296,754.8 298,747.7 300,752.8 301.4,754.8 304.1,742.6 306.5,740.6 309.2,743 310.8,754.8 313.2,726.3 315.9,710.1 317.7,722.3 319.7,742.6 322.6,758.9 325,734.5 327.1,721.3 328.7,730.4 329.9,738.5 332.5,718.2 335.2,702 336.8,693.8 338.4,704 340.1,712.1 341.7,707 343.7,718.2 346.2,734.5 348.2,754.8 350.2,769 351.8,752.8 353.5,741.6 354.9,748.7 356.3,752.8 358.4,730.4 360.4,718.2 363,706 365.7,693.8 367.3,685.7 369.1,695.9 370.5,710.1 371.8,742.6 372.8,726.3 373.6,716.2 375.2,726.3 376.6,736.5 378.7,752.8 380.3,730.4 381.7,714.1 383.4,726.3 385.4,738.5 387,746.7 388.8,741.6 390.9,754.8 392.5,762.9 394.1,760.9 396.2,765 398.2,767 398.2,781.2" fill="#4a4a4a"/><polygon points="62.2,781.2 62.2,780.2 166.9,780.2 168.9,779.2 177.1,780.4 187.2,778.2 190.3,777.6 197.4,780.2 209.6,779.6 215.7,777.6 219.7,778.8 227.9,779.6 238,780 246.2,777.6 250.2,775.5 253.3,777.2 256.3,780.2 260.4,776.7 263.4,775.1 267.5,776.7 270.5,777.2 272.2,768 273.6,765 275.6,768.6 277.1,769 278.7,766 280.3,767 281.7,771.1 283.8,761.9 285.2,758.9 286.8,763.9 288.8,766 290.5,764.6 291.9,769 293.9,774.1 296,754.8 298,747.7 300,752.8 301.4,754.8 304.1,742.6 306.5,740.6 309.2,743 310.8,754.8 313.2,726.3 315.9,710.1 317.7,722.3 319.7,742.6 322.6,758.9 325,734.5 327.1,721.3 328.7,730.4 329.9,738.5 332.5,718.2 335.2,702 336.8,693.8 338.4,704 340.1,712.1 341.7,707 343.7,718.2 346.2,734.5 348.2,754.8 350.2,769 351.8,752.8 353.5,741.6 354.9,748.7 356.3,752.8 358.4,730.4 360.4,718.2 363,706 365.7,693.8 367.3,685.7 369.1,695.9 370.5,710.1 371.8,742.6 372.8,726.3 373.6,716.2 375.2,726.3 376.6,736.5 378.7,752.8 380.3,730.4 381.7,714.1 383.4,726.3 385.4,738.5 387,746.7 388.8,741.6 390.9,754.8 392.5,762.9 394.1,760.9 396.2,765 398.2,767 398.2,781.2" fill="url(#stp)"/></g>
<line x1="77.1" y1="781.4" x2="413.1" y2="781.4" stroke="#444" stroke-width="1.2"/>
<text x="78.6" y="610" font-size="20.9">10 kb</text>
<line x1="132" y1="604.8" x2="239.7" y2="604.8" stroke="#111" stroke-width="1.5"/>
<text transform="translate(88.5 637.3) scale(0.948 1.000)" font-size="25.5">Gata3</text>
<text x="76.2" y="664.3" font-size="21.4">[0-30]</text>
<line x1="161.5" y1="627.2" x2="394.2" y2="627.2" stroke="#9c9c9c" stroke-width="3.8" stroke-dasharray="1.2 3.4" stroke-dashoffset="-3.1"/>
<line x1="161.5" y1="627.2" x2="394.2" y2="627.2" stroke="#111" stroke-width="1.3" stroke-dasharray="3 1.6"/>
<rect x="161.5" y="623.7" width="16.3" height="7" fill="#000"/>
<rect x="175.7" y="621.7" width="2" height="11" fill="#000"/>
<rect x="226.5" y="622.2" width="1" height="10" fill="#000"/>
<rect x="287.3" y="622.2" width="1.2" height="10" fill="#000"/>
<rect x="348.5" y="621.7" width="5.5" height="11" fill="#000"/>
<rect x="380.6" y="621.7" width="1.8" height="11" fill="#000"/>
<rect x="382.4" y="623.7" width="4.3" height="7" fill="#000"/>
<rect x="393.2" y="624.2" width="1.2" height="6" fill="#000"/>
<rect x="319" y="650.5" width="3" height="10.2" fill="#000"/>
<rect x="327.1" y="650.5" width="5.5" height="10.2" fill="#000"/>
<rect x="340.3" y="650.5" width="3" height="10.2" fill="#000"/>
<rect x="346.4" y="650.5" width="14.2" height="10.2" fill="#000"/>
<rect x="374.3" y="650.5" width="9.3" height="10.2" fill="#000"/>
<g transform="translate(8.6 0)"><polygon points="68.5,978.1 68.5,977.7 122.4,977.3 127.5,976.1 132.5,974 137.6,968.9 141.7,965.5 145.7,965.5 148.8,966.3 152.9,968.9 156.9,966.9 161,963.9 165.1,959.4 169.1,959.8 173.2,957.4 176.2,958.2 181.3,952.7 186.4,949.2 191.5,952.7 194.5,957.8 196.6,962.8 200.6,969.6 203.7,974 207.7,977.1 210.8,977.7 214.9,977.1 219.9,973 226,970 229.1,964.9 232.1,957.8 235.2,945.6 237.2,939.5 241.3,934.4 244.9,928.9 248.4,936.4 252.5,945.6 256.5,948.6 262.6,944.6 267.7,940.5 271.8,938.5 275.8,929.3 278.5,919.1 280.9,907 283.4,896.8 285,890.7 287.4,884.6 290.1,880.5 294.5,875 296.8,880.5 298.2,886.6 300.2,898.8 302.3,911 304.3,927.3 306.3,941.5 309.4,952.7 311.4,939.5 313.4,927.3 315.5,917.1 317.1,912 320.5,909.4 323.6,914.1 325.6,923.2 327.7,933.4 329.7,943.5 331.7,951.7 333.8,958.8 335.8,964.9 340.9,970 346,973 352.1,977.1 360.2,976.1 366.3,974 372.4,972.4 378.5,974 386.6,974 394.7,972.4 404.5,969.6 404.5,978.1" fill="#4a4a4a"/><polygon points="68.5,978.1 68.5,977.7 122.4,977.3 127.5,976.1 132.5,974 137.6,968.9 141.7,965.5 145.7,965.5 148.8,966.3 152.9,968.9 156.9,966.9 161,963.9 165.1,959.4 169.1,959.8 173.2,957.4 176.2,958.2 181.3,952.7 186.4,949.2 191.5,952.7 194.5,957.8 196.6,962.8 200.6,969.6 203.7,974 207.7,977.1 210.8,977.7 214.9,977.1 219.9,973 226,970 229.1,964.9 232.1,957.8 235.2,945.6 237.2,939.5 241.3,934.4 244.9,928.9 248.4,936.4 252.5,945.6 256.5,948.6 262.6,944.6 267.7,940.5 271.8,938.5 275.8,929.3 278.5,919.1 280.9,907 283.4,896.8 285,890.7 287.4,884.6 290.1,880.5 294.5,875 296.8,880.5 298.2,886.6 300.2,898.8 302.3,911 304.3,927.3 306.3,941.5 309.4,952.7 311.4,939.5 313.4,927.3 315.5,917.1 317.1,912 320.5,909.4 323.6,914.1 325.6,923.2 327.7,933.4 329.7,943.5 331.7,951.7 333.8,958.8 335.8,964.9 340.9,970 346,973 352.1,977.1 360.2,976.1 366.3,974 372.4,972.4 378.5,974 386.6,974 394.7,972.4 404.5,969.6 404.5,978.1" fill="url(#stp)"/></g>
<line x1="77.1" y1="978.3" x2="413.1" y2="978.3" stroke="#444" stroke-width="1.2"/>
<text x="76" y="809.8" font-size="21.5">2 kb</text>
<line x1="122.8" y1="800.7" x2="215.3" y2="800.7" stroke="#111" stroke-width="1.5"/>
<text transform="translate(169.3 836.2) scale(0.972 1.000)" font-size="25.5">Id2</text>
<text x="76.2" y="861.2" font-size="21.4">[0-30]</text>
<line x1="207.2" y1="828.1" x2="311.9" y2="828.1" stroke="#9c9c9c" stroke-width="3.8" stroke-dasharray="1.2 3.4" stroke-dashoffset="-3.1"/>
<line x1="207.2" y1="828.1" x2="311.9" y2="828.1" stroke="#111" stroke-width="1.3" stroke-dasharray="3 1.6"/>
<rect x="207.2" y="825.1" width="35.6" height="6" fill="#000"/>
<rect x="277.3" y="822.6" width="2.4" height="11" fill="#000"/>
<rect x="293" y="822.6" width="16.9" height="11" fill="#000"/>
<rect x="309.8" y="824.9" width="3" height="6.5" fill="#000"/>
<rect x="185.9" y="847.6" width="16.9" height="10.2" fill="#000"/>
<rect x="241.7" y="847.6" width="73.2" height="10.2" fill="#000"/>
<rect x="319.6" y="847.6" width="19.1" height="10.2" fill="#000"/>
<g transform="translate(2 0)"><polygon points="432.1,781.2 432.1,780.8 463.7,780.2 473.8,779.2 490.1,780.2 504.3,779.2 510.4,777.2 514.5,776.1 524.6,777.6 532.8,776.1 540.9,776.1 545,774.1 549,772.3 555.1,774.1 561.2,774.7 565.3,769 569.3,763.9 573.4,761.3 581.5,759.9 585.6,757.8 590.7,753.8 593.3,746.7 595.8,740.6 598.2,736.5 600.8,734.1 604.9,732.4 606.9,737.5 609,740.6 612,741.6 616.1,749.7 619.1,754.8 623.2,755.2 625.8,747.7 628.3,738.5 631.3,727.4 634.4,716.2 636.8,711.1 639.5,706 644.5,698.3 646.6,702 648.6,705 652.7,711.1 656.7,721.3 661.8,720.7 665.9,719.2 671,718.2 673.4,723.3 676,727.4 679.5,730 684.2,726.7 687.2,718.2 692.3,713.1 693.7,707 695.4,702 698.8,698.3 702.5,704 704.5,712.1 705.9,726.3 707.6,742.6 709.2,752.8 710.6,760.9 713.7,769 719.7,770.7 723.8,774.1 728.9,778.2 734,776.7 739.1,773.5 743.1,771.5 750.2,775.5 756.3,777.6 761.4,774.1 764.5,771.5 767.9,771.5 767.9,781.2" fill="#4a4a4a"/><polygon points="432.1,781.2 432.1,780.8 463.7,780.2 473.8,779.2 490.1,780.2 504.3,779.2 510.4,777.2 514.5,776.1 524.6,777.6 532.8,776.1 540.9,776.1 545,774.1 549,772.3 555.1,774.1 561.2,774.7 565.3,769 569.3,763.9 573.4,761.3 581.5,759.9 585.6,757.8 590.7,753.8 593.3,746.7 595.8,740.6 598.2,736.5 600.8,734.1 604.9,732.4 606.9,737.5 609,740.6 612,741.6 616.1,749.7 619.1,754.8 623.2,755.2 625.8,747.7 628.3,738.5 631.3,727.4 634.4,716.2 636.8,711.1 639.5,706 644.5,698.3 646.6,702 648.6,705 652.7,711.1 656.7,721.3 661.8,720.7 665.9,719.2 671,718.2 673.4,723.3 676,727.4 679.5,730 684.2,726.7 687.2,718.2 692.3,713.1 693.7,707 695.4,702 698.8,698.3 702.5,704 704.5,712.1 705.9,726.3 707.6,742.6 709.2,752.8 710.6,760.9 713.7,769 719.7,770.7 723.8,774.1 728.9,778.2 734,776.7 739.1,773.5 743.1,771.5 750.2,775.5 756.3,777.6 761.4,774.1 764.5,771.5 767.9,771.5 767.9,781.2" fill="url(#stp)"/></g>
<line x1="434.1" y1="781.4" x2="769.9" y2="781.4" stroke="#444" stroke-width="1.2"/>
<text x="436.1" y="610" font-size="21.3">2 kb</text>
<line x1="479.9" y1="604.8" x2="570.9" y2="604.8" stroke="#111" stroke-width="1.5"/>
<text transform="translate(511.5 637.3) scale(0.961 1.000)" font-size="25.5">Il13</text>
<text x="433.7" y="664.3" font-size="21">[0-30]</text>
<line x1="555.1" y1="627.2" x2="709.6" y2="627.2" stroke="#9c9c9c" stroke-width="3.8" stroke-dasharray="1.2 3.4" stroke-dashoffset="-3.1"/>
<line x1="555.1" y1="627.2" x2="709.6" y2="627.2" stroke="#111" stroke-width="1.3" stroke-dasharray="3 1.6"/>
<rect x="555.1" y="624.2" width="34.6" height="6" fill="#000"/>
<rect x="588.8" y="622" width="4.1" height="10.5" fill="#000"/>
<rect x="607.9" y="622" width="4.1" height="10.5" fill="#000"/>
<rect x="639" y="622" width="2.4" height="10.5" fill="#000"/>
<rect x="700.8" y="622" width="5.7" height="10.5" fill="#000"/>
<rect x="706.5" y="624" width="3.3" height="6.5" fill="#000"/>
<rect x="587.6" y="650.5" width="124.4" height="10.2" fill="#000"/>
<g transform="translate(4 0)"><polygon points="430.1,978.1 430.1,977.7 593.8,977.7 595.4,976.1 597,977.7 632.4,977.5 633.8,976.5 635.2,977.5 648.6,977.3 650.7,976.1 653.7,977.3 660.8,977.3 662.5,976.1 663.9,977.3 665.9,975 668.6,972 670.6,977.3 673.6,977.1 675.1,970 676.7,969.6 677.5,977.3 686.2,977.3 688.9,974 690.3,976.1 692.3,972 694.4,967.9 695.4,951.7 696.4,931.3 697.8,911 699.5,905.9 701.1,921.2 702.5,898.8 703.9,872.4 706.6,871.4 708,869.3 709.6,886.6 712.1,890.7 713.7,907 714.7,923.2 715.7,935.4 717.3,923.2 718.8,921.6 720.4,939.5 721.8,963.9 723.2,967.9 725.3,962.8 726.9,967.9 728.9,974 732,976.1 734,977.7 765.9,977.7 765.9,978.1" fill="#4a4a4a"/><polygon points="430.1,978.1 430.1,977.7 593.8,977.7 595.4,976.1 597,977.7 632.4,977.5 633.8,976.5 635.2,977.5 648.6,977.3 650.7,976.1 653.7,977.3 660.8,977.3 662.5,976.1 663.9,977.3 665.9,975 668.6,972 670.6,977.3 673.6,977.1 675.1,970 676.7,969.6 677.5,977.3 686.2,977.3 688.9,974 690.3,976.1 692.3,972 694.4,967.9 695.4,951.7 696.4,931.3 697.8,911 699.5,905.9 701.1,921.2 702.5,898.8 703.9,872.4 706.6,871.4 708,869.3 709.6,886.6 712.1,890.7 713.7,907 714.7,923.2 715.7,935.4 717.3,923.2 718.8,921.6 720.4,939.5 721.8,963.9 723.2,967.9 725.3,962.8 726.9,967.9 728.9,974 732,976.1 734,977.7 765.9,977.7 765.9,978.1" fill="url(#stp)"/></g>
<line x1="434.1" y1="978.3" x2="769.9" y2="978.3" stroke="#444" stroke-width="1.2"/>
<text x="433.6" y="809.8" font-size="20.9">10 kb</text>
<line x1="492.5" y1="800.7" x2="581.1" y2="800.7" stroke="#111" stroke-width="1.5"/>
<text transform="translate(470.7 836.2) scale(0.989 1.000)" font-size="25.5">Maf</text>
<text x="433.7" y="861.2" font-size="21">[0-30]</text>
<line x1="518.1" y1="828.1" x2="712.6" y2="828.1" stroke="#9c9c9c" stroke-width="3.8" stroke-dasharray="1.2 3.4" stroke-dashoffset="-3.1"/>
<line x1="518.1" y1="828.1" x2="712.6" y2="828.1" stroke="#111" stroke-width="1.3" stroke-dasharray="3 1.6"/>
<rect x="518.1" y="825.1" width="14.6" height="6" fill="#000"/>
<rect x="600.4" y="823.1" width="0.8" height="10" fill="#000"/>
<rect x="703.5" y="822.6" width="8.1" height="11" fill="#000"/>
<rect x="711.6" y="824.9" width="2.2" height="6.5" fill="#000"/>
<rect x="699.8" y="847.6" width="21.3" height="10.2" fill="#000"/>
<rect x="722.2" y="847.6" width="2.6" height="10.2" fill="#000"/>
<g transform="translate(9.6 0)"><polygon points="781.6,781.2 781.6,780.8 872,780.4 880.2,779.2 892.4,780.4 902.5,779.2 916.7,777.6 928.9,778.2 933,775.1 937.1,772.1 943.2,768 949.3,763.9 957.4,764.6 961.5,765 966.5,758.9 968.6,752.8 970.6,746.7 973.7,743.6 977.1,742.2 979.7,749.7 984.8,754.4 988.9,746.7 990.9,738.5 993,730.4 996,722.3 999.1,718.6 1002.1,725.3 1005.2,728.8 1008.2,720.2 1010.2,713.1 1012.3,706 1014.3,699.9 1016.9,694.2 1019.4,702 1023.4,707.6 1026.1,709.1 1028.5,706.4 1032.6,714.1 1034.2,722.3 1035.6,730.4 1038.7,736.9 1040.7,737.5 1043.8,728.4 1046.2,725.9 1048.9,736.5 1050.5,743.6 1051.9,750.7 1055,758.9 1060,763.9 1063.1,773.1 1067.1,779.6 1071.2,778.2 1077.3,775.1 1082.4,774.1 1087.5,776.1 1095.6,779.2 1105.8,780 1117.4,779.2 1117.4,781.2" fill="#4a4a4a"/><polygon points="781.6,781.2 781.6,780.8 872,780.4 880.2,779.2 892.4,780.4 902.5,779.2 916.7,777.6 928.9,778.2 933,775.1 937.1,772.1 943.2,768 949.3,763.9 957.4,764.6 961.5,765 966.5,758.9 968.6,752.8 970.6,746.7 973.7,743.6 977.1,742.2 979.7,749.7 984.8,754.4 988.9,746.7 990.9,738.5 993,730.4 996,722.3 999.1,718.6 1002.1,725.3 1005.2,728.8 1008.2,720.2 1010.2,713.1 1012.3,706 1014.3,699.9 1016.9,694.2 1019.4,702 1023.4,707.6 1026.1,709.1 1028.5,706.4 1032.6,714.1 1034.2,722.3 1035.6,730.4 1038.7,736.9 1040.7,737.5 1043.8,728.4 1046.2,725.9 1048.9,736.5 1050.5,743.6 1051.9,750.7 1055,758.9 1060,763.9 1063.1,773.1 1067.1,779.6 1071.2,778.2 1077.3,775.1 1082.4,774.1 1087.5,776.1 1095.6,779.2 1105.8,780 1117.4,779.2 1117.4,781.2" fill="url(#stp)"/></g>
<line x1="791.2" y1="781.4" x2="1127" y2="781.4" stroke="#444" stroke-width="1.2"/>
<text x="790.3" y="610" font-size="17.8">2 kb</text>
<line x1="837.3" y1="600.7" x2="912.1" y2="600.7" stroke="#111" stroke-width="1.5"/>
<text transform="translate(839.4 636.2) scale(0.929 1.000)" font-size="25.5">Il4</text>
<text x="790.3" y="664.3" font-size="21.6">[0-30]</text>
<line x1="877.6" y1="627.2" x2="1060.5" y2="627.2" stroke="#9c9c9c" stroke-width="3.8" stroke-dasharray="1.2 3.4" stroke-dashoffset="-3.1"/>
<line x1="877.6" y1="627.2" x2="1060.5" y2="627.2" stroke="#111" stroke-width="1.3" stroke-dasharray="3 1.6"/>
<rect x="877.2" y="623.7" width="7.5" height="7" fill="#000"/>
<rect x="881.6" y="622" width="3" height="10.5" fill="#000"/>
<rect x="930.8" y="622" width="3" height="10.5" fill="#000"/>
<rect x="933.5" y="624" width="4.1" height="6.5" fill="#000"/>
<rect x="1051.3" y="624" width="9.1" height="6.5" fill="#000"/>
<rect x="967" y="650.5" width="102" height="10.2" fill="#000"/>
<g transform="translate(6 0)"><polygon points="785.2,978.1 785.2,977.7 840.1,977.7 843.1,976.1 846.2,977.3 851.2,977.3 854.3,975 858.3,968.9 860.4,963.9 861.8,955.7 863.4,939.5 865.5,919.1 867.5,910.4 869.5,919.1 871.6,935.4 873.2,947.6 874.6,957.8 877.7,968.9 880.7,976.1 882.7,977.7 892.9,977.3 896,975.2 902,975.2 906.1,976.9 910.2,977.3 912.2,976.1 914.2,977.7 1121,977.7 1121,978.1" fill="#4a4a4a"/><polygon points="785.2,978.1 785.2,977.7 840.1,977.7 843.1,976.1 846.2,977.3 851.2,977.3 854.3,975 858.3,968.9 860.4,963.9 861.8,955.7 863.4,939.5 865.5,919.1 867.5,910.4 869.5,919.1 871.6,935.4 873.2,947.6 874.6,957.8 877.7,968.9 880.7,976.1 882.7,977.7 892.9,977.3 896,975.2 902,975.2 906.1,976.9 910.2,977.3 912.2,976.1 914.2,977.7 1121,977.7 1121,978.1" fill="url(#stp)"/></g>
<line x1="791.2" y1="978.3" x2="1127" y2="978.3" stroke="#444" stroke-width="1.2"/>
<text x="790.7" y="809.8" font-size="21.2">4 kb</text>
<line x1="840.4" y1="800.7" x2="945.7" y2="800.7" stroke="#111" stroke-width="1.5"/>
<text transform="translate(806.3 836.2) scale(0.944 1.000)" font-size="25.5">Areg</text>
<text x="790.3" y="861.2" font-size="21.6">[0-30]</text>
<line x1="872.5" y1="828.1" x2="1105.2" y2="828.1" stroke="#9c9c9c" stroke-width="3.8" stroke-dasharray="1.2 3.4" stroke-dashoffset="-3.1"/>
<line x1="872.5" y1="828.1" x2="1105.2" y2="828.1" stroke="#111" stroke-width="1.3" stroke-dasharray="3 1.6"/>
<rect x="872.5" y="824.9" width="6.1" height="6.5" fill="#000"/>
<rect x="878.2" y="822.9" width="1" height="10.5" fill="#000"/>
<rect x="907" y="822.6" width="5.1" height="11" fill="#000"/>
<rect x="974.5" y="822.6" width="5.3" height="11" fill="#000"/>
<rect x="996.9" y="822.6" width="4.3" height="11" fill="#000"/>
<rect x="1057.8" y="822.6" width="1" height="11" fill="#000"/>
<rect x="1099.1" y="824.9" width="6.1" height="6.5" fill="#000"/>
<rect x="861.9" y="847.6" width="23.8" height="10.2" fill="#000"/>
</g>
<g id="panel-e">
<text transform="translate(1144.4 517.2) scale(1.117 1.000)" font-size="25.2" font-weight="bold">e</text>
<line x1="1223.2" y1="749.3" x2="1431.9" y2="749.3" stroke="#000" stroke-width="3.6"/>
<path d="M1223.6 749.3 L1243 749.3 L1247.7 748.8 L1252.7 740.3 L1255.7 724.5 L1257.7 704.6 L1259.6 674.8 L1261.6 645.1 L1263.6 605.4 L1265.4 580.8 L1266.8 571.7 L1268.1 575 L1269 583.7 L1270.7 607 L1272.4 630.2 L1275.1 668 L1277.1 691.2 L1279.4 711.5 L1282.3 726.1 L1285.2 737.1 L1289.6 744.1 L1293.9 747 L1302.6 749 L1320.1 749.3 L1431.3 749.3 L1431.3 749.3 L1223.6 749.3Z" fill="#ecd3d5" stroke="none"/>
<path d="M1223.6 749.3 L1243 749.3 L1247.7 748.8 L1252.7 740.3 L1255.7 724.5 L1257.7 704.6 L1259.6 674.8 L1261.6 645.1 L1263.6 605.4 L1265.4 580.8 L1266.8 571.7 L1268.1 575 L1269 583.7 L1270.7 607 L1272.4 630.2 L1275.1 668 L1277.1 691.2 L1279.4 711.5 L1282.3 726.1 L1285.2 737.1 L1289.6 744.1 L1293.9 747 L1302.6 749 L1320.1 749.3 L1431.3 749.3" fill="none" stroke="#7d1416" stroke-width="3" stroke-linejoin="round"/>
<path d="M1223.6 749.3 L1240 749.3 L1244.8 748.3 L1250.7 734.4 L1253.7 714.5 L1255.7 694.7 L1257.1 674.8 L1258.7 645.1 L1260.6 615.3 L1262.6 597.8 L1264.6 588.5 L1265.5 591 L1266.6 596.8 L1269.2 636 L1272.2 688.3 L1275.1 717.3 L1279.4 735.4 L1285.2 744.9 L1291 748.7 L1302.6 749.3 L1431.3 749.3" fill="none" stroke="#000" stroke-width="3.8" stroke-linejoin="round" stroke-dasharray="3.7 2.9"/>
<rect x="1223.8" y="559.7" width="207.5" height="189.6" fill="none" stroke="#222" stroke-width="1.3"/>
<text x="1296.2" y="554.5" font-size="25.3">TBET</text>
<line x1="1218.2" y1="749.3" x2="1223.8" y2="749.3" stroke="#000" stroke-width="3.9"/>
<line x1="1218.2" y1="709.9" x2="1223.8" y2="709.9" stroke="#000" stroke-width="3.9"/>
<line x1="1218.2" y1="670.4" x2="1223.8" y2="670.4" stroke="#000" stroke-width="3.9"/>
<line x1="1218.2" y1="631.3" x2="1223.8" y2="631.3" stroke="#000" stroke-width="3.9"/>
<line x1="1218.2" y1="592" x2="1223.8" y2="592" stroke="#000" stroke-width="3.9"/>
<path d="M1220.8 736.2H1223.8M1220.8 723.1H1223.8M1220.8 696.9H1223.8M1220.8 683.8H1223.8M1220.8 657.6H1223.8M1220.8 644.5H1223.8M1220.8 618.3H1223.8M1220.8 605.2H1223.8M1220.8 579H1223.8M1220.8 565.9H1223.8" stroke="#000" stroke-width="2" fill="none"/>
<text x="1200.3" y="753.3" font-size="25.6">0</text>
<text x="1172.7" y="713.9" font-size="25">300</text>
<text x="1172.4" y="674.4" font-size="25.2">600</text>
<text x="1172.5" y="635.3" font-size="25.1">900</text>
<text x="1163.1" y="596" font-size="24.7">1.2K</text>
<line x1="1237.3" y1="749.3" x2="1237.3" y2="754.9" stroke="#000" stroke-width="3.8"/>
<line x1="1270.1" y1="749.3" x2="1270.1" y2="754.9" stroke="#000" stroke-width="3.8"/>
<line x1="1304.1" y1="749.3" x2="1304.1" y2="754.9" stroke="#000" stroke-width="3.8"/>
<line x1="1361.3" y1="749.3" x2="1361.3" y2="754.9" stroke="#000" stroke-width="3.8"/>
<line x1="1410.7" y1="749.3" x2="1410.7" y2="754.9" stroke="#000" stroke-width="3.8"/>
<path d="M1321.3 749.3V752.7M1331.4 749.3V752.7M1338.5 749.3V752.7M1344.1 749.3V752.7M1348.6 749.3V752.7M1352.4 749.3V752.7M1355.8 749.3V752.7M1358.7 749.3V752.7M1376.2 749.3V752.7M1384.9 749.3V752.7M1391 749.3V752.7M1395.8 749.3V752.7M1399.7 749.3V752.7M1403 749.3V752.7M1405.9 749.3V752.7M1408.4 749.3V752.7M1424.1 749.3V752.7M1250 749.3V752.7M1256 749.3V752.7M1260 749.3V752.7M1281 749.3V752.7M1286 749.3V752.7M1291 749.3V752.7M1264.5 749.3V752.7M1265.9 749.3V752.7M1267.3 749.3V752.7M1268.7 749.3V752.7M1270.1 749.3V752.7M1271.5 749.3V752.7M1272.9 749.3V752.7M1274.3 749.3V752.7M1275.7 749.3V752.7M1228 749.3V752.7M1232 749.3V752.7" stroke="#000" stroke-width="1.5" fill="none"/>
<rect x="1263.5" y="749.8" width="13" height="3.6" fill="#000"/>
<text x="1214.7" y="774" font-size="26">-10</text>
<text transform="translate(1251.3 766.2) scale(0.967 1.000)" font-size="14.2">3</text>
<text x="1267.6" y="774" font-size="25.6">0</text>
<text x="1288.4" y="774" font-size="24.1">10</text>
<text transform="translate(1315.5 766.2) scale(0.967 1.000)" font-size="14.2">3</text>
<text x="1344.7" y="774" font-size="24.7">10</text>
<text transform="translate(1372.1 766.2) scale(0.909 1.000)" font-size="14.2">4</text>
<text x="1393.9" y="774" font-size="24.7">10</text>
<text transform="translate(1421.1 766.2) scale(0.967 1.000)" font-size="14.2">5</text>
<line x1="1505.1" y1="749.3" x2="1716.1" y2="749.3" stroke="#000" stroke-width="3.6"/>
<path d="M1505.5 748.7 L1569.4 749 L1601.4 748.7 L1607.2 747.6 L1613 743.5 L1617.3 731.9 L1619.4 720.3 L1621.7 705.7 L1625.2 679.6 L1627.5 660.7 L1629 647.6 L1630.4 644.2 L1631.9 636 L1633.3 633.1 L1634.8 629.6 L1636.8 633.1 L1638 639.5 L1639.1 644.7 L1641.4 654.9 L1643.5 662.2 L1644.9 676.7 L1646.4 688.3 L1647.8 694.1 L1649.3 699.9 L1650.7 709.2 L1652.2 717.3 L1654.2 726.6 L1656.5 734.8 L1660.9 745.8 L1666.7 748.7 L1674 749.3 L1715.5 749.3 L1715.5 749.3 L1505.5 749.3Z" fill="#cfdeee" stroke="none"/>
<path d="M1505.5 748.7 L1569.4 749 L1601.4 748.7 L1607.2 747.6 L1613 743.5 L1617.3 731.9 L1619.4 720.3 L1621.7 705.7 L1625.2 679.6 L1627.5 660.7 L1629 647.6 L1630.4 644.2 L1631.9 636 L1633.3 633.1 L1634.8 629.6 L1636.8 633.1 L1638 639.5 L1639.1 644.7 L1641.4 654.9 L1643.5 662.2 L1644.9 676.7 L1646.4 688.3 L1647.8 694.1 L1649.3 699.9 L1650.7 709.2 L1652.2 717.3 L1654.2 726.6 L1656.5 734.8 L1660.9 745.8 L1666.7 748.7 L1674 749.3 L1715.5 749.3" fill="none" stroke="none" stroke-width="0" stroke-linejoin="round"/>
<path d="M1505.5 749.3 L1551.4 749.3 L1553.7 746.4 L1556.3 723.2 L1557.8 694.1 L1559.2 665.1 L1561.3 607 L1563 577.9 L1564.2 566.9 L1565.9 583.7 L1568 621.5 L1570 665.1 L1572.3 699.9 L1575.2 726.1 L1578.1 740.6 L1581 747.8 L1584.5 749.3 L1715.5 749.3" fill="none" stroke="#000" stroke-width="3.8" stroke-linejoin="round" stroke-dasharray="3.7 2.9"/>
<path d="M1505.5 748.7 L1569.4 749 L1601.4 748.7 L1607.2 747.6 L1613 743.5 L1617.3 731.9 L1619.4 720.3 L1621.7 705.7 L1625.2 679.6 L1627.5 660.7 L1629 647.6 L1630.4 644.2 L1631.9 636 L1633.3 633.1 L1634.8 629.6 L1636.8 633.1 L1638 639.5 L1639.1 644.7 L1641.4 654.9 L1643.5 662.2 L1644.9 676.7 L1646.4 688.3 L1647.8 694.1 L1649.3 699.9 L1650.7 709.2 L1652.2 717.3 L1654.2 726.6 L1656.5 734.8 L1660.9 745.8 L1666.7 748.7 L1674 749.3 L1715.5 749.3" fill="none" stroke="#1755a3" stroke-width="3" stroke-linejoin="round"/>
<rect x="1505.7" y="559.7" width="209.8" height="189.6" fill="none" stroke="#222" stroke-width="1.3"/>
<text x="1569" y="554.5" font-size="26.5">GATA3</text>
<line x1="1500.1" y1="749.3" x2="1505.7" y2="749.3" stroke="#000" stroke-width="3.9"/>
<line x1="1500.1" y1="709.9" x2="1505.7" y2="709.9" stroke="#000" stroke-width="3.9"/>
<line x1="1500.1" y1="670.4" x2="1505.7" y2="670.4" stroke="#000" stroke-width="3.9"/>
<line x1="1500.1" y1="631.3" x2="1505.7" y2="631.3" stroke="#000" stroke-width="3.9"/>
<line x1="1500.1" y1="592" x2="1505.7" y2="592" stroke="#000" stroke-width="3.9"/>
<path d="M1502.7 736.2H1505.7M1502.7 723.1H1505.7M1502.7 696.9H1505.7M1502.7 683.8H1505.7M1502.7 657.6H1505.7M1502.7 644.5H1505.7M1502.7 618.3H1505.7M1502.7 605.2H1505.7M1502.7 579H1505.7M1502.7 565.9H1505.7" stroke="#000" stroke-width="2" fill="none"/>
<text x="1481.6" y="754.3" font-size="25.6">0</text>
<text x="1454" y="716.4" font-size="25">300</text>
<text x="1453.7" y="676.9" font-size="25.2">600</text>
<text x="1453.8" y="637.8" font-size="25.1">900</text>
<text x="1444.4" y="598.5" font-size="24.7">1.2K</text>
<line x1="1518.6" y1="749.3" x2="1518.6" y2="754.9" stroke="#000" stroke-width="3.8"/>
<line x1="1553.4" y1="749.3" x2="1553.4" y2="754.9" stroke="#000" stroke-width="3.8"/>
<line x1="1586.8" y1="749.3" x2="1586.8" y2="754.9" stroke="#000" stroke-width="3.8"/>
<line x1="1644.3" y1="749.3" x2="1644.3" y2="754.9" stroke="#000" stroke-width="3.8"/>
<line x1="1693.7" y1="749.3" x2="1693.7" y2="754.9" stroke="#000" stroke-width="3.8"/>
<path d="M1604.1 749.3V752.7M1614.2 749.3V752.7M1621.4 749.3V752.7M1627 749.3V752.7M1631.5 749.3V752.7M1635.4 749.3V752.7M1638.7 749.3V752.7M1641.7 749.3V752.7M1659.2 749.3V752.7M1667.9 749.3V752.7M1674 749.3V752.7M1678.8 749.3V752.7M1682.7 749.3V752.7M1686 749.3V752.7M1688.9 749.3V752.7M1691.4 749.3V752.7M1707.1 749.3V752.7M1531 749.3V752.7M1537 749.3V752.7M1541 749.3V752.7M1564 749.3V752.7M1569 749.3V752.7M1574 749.3V752.7M1547.8 749.3V752.7M1549.2 749.3V752.7M1550.6 749.3V752.7M1552 749.3V752.7M1553.4 749.3V752.7M1554.8 749.3V752.7M1556.2 749.3V752.7M1557.6 749.3V752.7M1559 749.3V752.7M1509 749.3V752.7M1513 749.3V752.7" stroke="#000" stroke-width="1.5" fill="none"/>
<rect x="1546.5" y="749.8" width="13" height="3.6" fill="#000"/>
<text x="1496.4" y="774" font-size="26">-10</text>
<text transform="translate(1533 766.2) scale(0.967 1.000)" font-size="14.2">3</text>
<text x="1549.3" y="774" font-size="25.6">0</text>
<text x="1570.1" y="774" font-size="24.1">10</text>
<text transform="translate(1597.2 766.2) scale(0.967 1.000)" font-size="14.2">3</text>
<text x="1626.4" y="774" font-size="24.7">10</text>
<text transform="translate(1653.8 766.2) scale(0.909 1.000)" font-size="14.2">4</text>
<text x="1675.6" y="774" font-size="24.7">10</text>
<text transform="translate(1702.8 766.2) scale(0.967 1.000)" font-size="14.2">5</text>
<line x1="1223.5" y1="995.2" x2="1431.9" y2="995.2" stroke="#000" stroke-width="3.6"/>
<line x1="1224.3" y1="806.3" x2="1224.3" y2="995.2" stroke="#7d1416" stroke-width="2.4"/>
<line x1="1224.3" y1="806.3" x2="1224.3" y2="995.2" stroke="#000" stroke-width="2" stroke-dasharray="3.7 2.9"/>
<path d="M1224.1 995.2 L1277.5 995.2 L1284.1 994.2 L1288 993.1 L1293.3 991.8 L1298.6 989.9 L1303.9 986.8 L1309.2 982 L1313.1 975.9 L1315.8 969.3 L1319.8 956.1 L1322.4 942.9 L1325 924.4 L1327.2 908.5 L1329 892.7 L1330.9 874.2 L1333 850.4 L1334.6 831.9 L1335.6 820 L1337.2 814.7 L1338.8 809.4 L1340.1 816 L1341.4 821.8 L1343 837.2 L1344.1 850.4 L1345.7 874.2 L1347.5 898 L1348.8 919.1 L1350.2 940.3 L1351.5 957.4 L1352.8 972 L1354.1 983.9 L1355.4 991.8 L1357.3 994.4 L1359.4 995.2 L1431.3 995.2 L1431.3 995.2 L1224.1 995.2Z" fill="#ecd3d5" stroke="none"/>
<path d="M1224.1 995.2 L1277.5 995.2 L1284.1 994.2 L1288 993.1 L1293.3 991.8 L1298.6 989.9 L1303.9 986.8 L1309.2 982 L1313.1 975.9 L1315.8 969.3 L1319.8 956.1 L1322.4 942.9 L1325 924.4 L1327.2 908.5 L1329 892.7 L1330.9 874.2 L1333 850.4 L1334.6 831.9 L1335.6 820 L1337.2 814.7 L1338.8 809.4 L1340.1 816 L1341.4 821.8 L1343 837.2 L1344.1 850.4 L1345.7 874.2 L1347.5 898 L1348.8 919.1 L1350.2 940.3 L1351.5 957.4 L1352.8 972 L1354.1 983.9 L1355.4 991.8 L1357.3 994.4 L1359.4 995.2 L1431.3 995.2" fill="none" stroke="#7d1416" stroke-width="3" stroke-linejoin="round"/>
<path d="M1224.1 995.2 L1277.5 995.2 L1282.7 994.4 L1288 992.6 L1293.3 991 L1298.6 988.4 L1302.6 985.7 L1306.5 982.5 L1310.5 975.9 L1313.1 969.3 L1315.8 960.9 L1318.4 950.8 L1321.1 936.3 L1323.7 919.1 L1326.1 901.9 L1328.2 884.7 L1330.3 864.9 L1331.6 850.4 L1333 837.2 L1334.3 827.9 L1336.1 823.9 L1337.5 831.9 L1338.3 839.8 L1339.6 855.7 L1340.9 871.5 L1342.2 890 L1343.5 908.5 L1344.9 927 L1346.2 945.5 L1347.5 962.7 L1348.8 977.3 L1350.4 988.4 L1352 993.6 L1354.1 995.2 L1431.3 995.2" fill="none" stroke="#000" stroke-width="3.8" stroke-linejoin="round" stroke-dasharray="3.7 2.9"/>
<rect x="1224.1" y="806.3" width="207.2" height="188.9" fill="none" stroke="#222" stroke-width="1.3"/>
<text x="1295.3" y="802.3" font-size="26.8">IFNG</text>
<line x1="1218.5" y1="995.2" x2="1224.1" y2="995.2" stroke="#000" stroke-width="3.9"/>
<line x1="1218.5" y1="960.4" x2="1224.1" y2="960.4" stroke="#000" stroke-width="3.9"/>
<line x1="1218.5" y1="925.9" x2="1224.1" y2="925.9" stroke="#000" stroke-width="3.9"/>
<line x1="1218.5" y1="891" x2="1224.1" y2="891" stroke="#000" stroke-width="3.9"/>
<line x1="1218.5" y1="856.6" x2="1224.1" y2="856.6" stroke="#000" stroke-width="3.9"/>
<line x1="1218.5" y1="822.6" x2="1224.1" y2="822.6" stroke="#000" stroke-width="3.9"/>
<path d="M1221.1 986.6H1224.1M1221.1 977.9H1224.1M1221.1 969.3H1224.1M1221.1 952.1H1224.1M1221.1 943.4H1224.1M1221.1 934.8H1224.1M1221.1 917.5H1224.1M1221.1 908.9H1224.1M1221.1 900.3H1224.1M1221.1 883H1224.1M1221.1 874.4H1224.1M1221.1 865.8H1224.1M1221.1 848.5H1224.1M1221.1 839.9H1224.1M1221.1 831.2H1224.1M1221.1 814H1224.1" stroke="#000" stroke-width="2" fill="none"/>
<text x="1200.6" y="1000.4" font-size="25.6">0</text>
<text x="1172.7" y="964.6" font-size="25.2">200</text>
<text x="1173.4" y="930.1" font-size="24.8">400</text>
<text x="1172.7" y="895.2" font-size="25.2">600</text>
<text x="1172.9" y="860.8" font-size="25.1">800</text>
<text x="1163.4" y="826.8" font-size="24.7">1.0K</text>
<line x1="1245.7" y1="995.2" x2="1245.7" y2="1000.8" stroke="#000" stroke-width="3.8"/>
<line x1="1286.7" y1="995.2" x2="1286.7" y2="1000.8" stroke="#000" stroke-width="3.8"/>
<line x1="1328.5" y1="995.2" x2="1328.5" y2="1000.8" stroke="#000" stroke-width="3.8"/>
<line x1="1370.5" y1="995.2" x2="1370.5" y2="1000.8" stroke="#000" stroke-width="3.8"/>
<line x1="1412.3" y1="995.2" x2="1412.3" y2="1000.8" stroke="#000" stroke-width="3.8"/>
<path d="M1258 995.2V998.6M1265.3 995.2V998.6M1270.4 995.2V998.6M1274.4 995.2V998.6M1277.6 995.2V998.6M1280.3 995.2V998.6M1282.7 995.2V998.6M1284.8 995.2V998.6M1299.3 995.2V998.6M1306.6 995.2V998.6M1311.9 995.2V998.6M1315.9 995.2V998.6M1319.2 995.2V998.6M1322 995.2V998.6M1324.4 995.2V998.6M1326.6 995.2V998.6M1341.1 995.2V998.6M1348.5 995.2V998.6M1353.8 995.2V998.6M1357.9 995.2V998.6M1361.2 995.2V998.6M1364 995.2V998.6M1366.4 995.2V998.6M1368.6 995.2V998.6M1383.1 995.2V998.6M1390.4 995.2V998.6M1395.7 995.2V998.6M1399.7 995.2V998.6M1403 995.2V998.6M1405.8 995.2V998.6M1408.2 995.2V998.6M1410.4 995.2V998.6M1229.2 995.2V998.6M1233.2 995.2V998.6M1236.5 995.2V998.6M1239.3 995.2V998.6M1241.7 995.2V998.6M1243.8 995.2V998.6M1424.8 995.2V998.6" stroke="#000" stroke-width="1.5" fill="none"/>
<text x="1228.5" y="1019.8" font-size="24.5">10</text>
<text transform="translate(1257.6 1012) scale(0.704 1.000)" font-size="14.2">1</text>
<text x="1270.9" y="1019.8" font-size="24.7">10</text>
<text transform="translate(1297.8 1012) scale(1.095 1.000)" font-size="14.2">2</text>
<text x="1312.3" y="1019.8" font-size="24.7">10</text>
<text transform="translate(1339.4 1012) scale(1.056 1.000)" font-size="14.2">3</text>
<text x="1354.3" y="1019.8" font-size="24.3">10</text>
<text transform="translate(1381.1 1012) scale(0.993 1.000)" font-size="14.2">4</text>
<text x="1395.1" y="1019.8" font-size="24.7">10</text>
<text transform="translate(1422.2 1012) scale(1.056 1.000)" font-size="14.2">5</text>
<line x1="1502.6" y1="995.2" x2="1716.1" y2="995.2" stroke="#000" stroke-width="3.6"/>
<path d="M1503.2 989.9 L1504.3 993.1 L1506.1 994.7 L1509.3 995.2 L1583.3 995.2 L1586 992.6 L1587.8 989.2 L1589.7 985.2 L1591.2 979.9 L1593.4 969.3 L1595.2 956.1 L1597.1 940.3 L1599.2 919.1 L1600.5 900.6 L1601.8 879.5 L1603.1 863.6 L1604.5 853 L1605.8 842.4 L1607.1 834.5 L1608.4 823.9 L1609.2 818.7 L1610.8 818.1 L1611.9 819.2 L1612.9 822.4 L1614.2 821.3 L1615.3 822.6 L1616.6 831.9 L1617.7 839.8 L1619.8 855.7 L1621.6 871.5 L1623.5 890 L1625.6 908.5 L1627.2 923.1 L1628.8 935 L1630.4 945.5 L1632.2 956.1 L1634.1 962.7 L1636.2 969.3 L1638.8 977.8 L1641.5 985.2 L1644.1 988.4 L1646.8 990.5 L1649.9 992.9 L1653.4 994.4 L1660 995.2 L1715.5 995.2 L1715.5 995.2 L1503.2 995.2Z" fill="#cfdeee" stroke="none"/>
<path d="M1503.2 989.9 L1504.3 993.1 L1506.1 994.7 L1509.3 995.2 L1583.3 995.2 L1586 992.6 L1587.8 989.2 L1589.7 985.2 L1591.2 979.9 L1593.4 969.3 L1595.2 956.1 L1597.1 940.3 L1599.2 919.1 L1600.5 900.6 L1601.8 879.5 L1603.1 863.6 L1604.5 853 L1605.8 842.4 L1607.1 834.5 L1608.4 823.9 L1609.2 818.7 L1610.8 818.1 L1611.9 819.2 L1612.9 822.4 L1614.2 821.3 L1615.3 822.6 L1616.6 831.9 L1617.7 839.8 L1619.8 855.7 L1621.6 871.5 L1623.5 890 L1625.6 908.5 L1627.2 923.1 L1628.8 935 L1630.4 945.5 L1632.2 956.1 L1634.1 962.7 L1636.2 969.3 L1638.8 977.8 L1641.5 985.2 L1644.1 988.4 L1646.8 990.5 L1649.9 992.9 L1653.4 994.4 L1660 995.2 L1715.5 995.2" fill="none" stroke="none" stroke-width="0" stroke-linejoin="round"/>
<path d="M1503.2 806.8 L1503.2 985.2 L1505.1 988.4 L1507.2 989.4 L1510.6 987.3 L1514.6 985.2 L1518.6 982 L1522.5 978.6 L1526.5 974.1 L1530.4 969.3 L1534.4 962.7 L1538.4 956.1 L1541 950.3 L1543.7 945.5 L1547.6 942.9 L1550.3 939.7 L1552.1 936.3 L1554.2 940.8 L1556.9 945 L1559.5 950.8 L1561.6 958.2 L1563.5 964 L1565.3 969.9 L1567.5 974.6 L1570.1 980.4 L1572.7 985.2 L1576.7 989.9 L1580.7 993.1 L1584.6 994.7 L1588.6 995.2 L1715.5 995.2" fill="none" stroke="#000" stroke-width="3.8" stroke-linejoin="round" stroke-dasharray="3.7 2.9"/>
<path d="M1503.2 989.9 L1504.3 993.1 L1506.1 994.7 L1509.3 995.2 L1583.3 995.2 L1586 992.6 L1587.8 989.2 L1589.7 985.2 L1591.2 979.9 L1593.4 969.3 L1595.2 956.1 L1597.1 940.3 L1599.2 919.1 L1600.5 900.6 L1601.8 879.5 L1603.1 863.6 L1604.5 853 L1605.8 842.4 L1607.1 834.5 L1608.4 823.9 L1609.2 818.7 L1610.8 818.1 L1611.9 819.2 L1612.9 822.4 L1614.2 821.3 L1615.3 822.6 L1616.6 831.9 L1617.7 839.8 L1619.8 855.7 L1621.6 871.5 L1623.5 890 L1625.6 908.5 L1627.2 923.1 L1628.8 935 L1630.4 945.5 L1632.2 956.1 L1634.1 962.7 L1636.2 969.3 L1638.8 977.8 L1641.5 985.2 L1644.1 988.4 L1646.8 990.5 L1649.9 992.9 L1653.4 994.4 L1660 995.2 L1715.5 995.2" fill="none" stroke="#1755a3" stroke-width="3" stroke-linejoin="round"/>
<rect x="1503.2" y="806.3" width="212.3" height="188.9" fill="none" stroke="#222" stroke-width="1.3"/>
<text x="1578.2" y="802.3" font-size="26.5">IL-13</text>
<line x1="1497.6" y1="995.2" x2="1503.2" y2="995.2" stroke="#000" stroke-width="3.9"/>
<line x1="1497.6" y1="955.8" x2="1503.2" y2="955.8" stroke="#000" stroke-width="3.9"/>
<line x1="1497.6" y1="916.2" x2="1503.2" y2="916.2" stroke="#000" stroke-width="3.9"/>
<line x1="1497.6" y1="876.5" x2="1503.2" y2="876.5" stroke="#000" stroke-width="3.9"/>
<line x1="1497.6" y1="836.7" x2="1503.2" y2="836.7" stroke="#000" stroke-width="3.9"/>
<path d="M1500.2 985.3H1503.2M1500.2 975.4H1503.2M1500.2 965.5H1503.2M1500.2 945.7H1503.2M1500.2 935.8H1503.2M1500.2 925.9H1503.2M1500.2 906.1H1503.2M1500.2 896.2H1503.2M1500.2 886.3H1503.2M1500.2 866.5H1503.2M1500.2 856.6H1503.2M1500.2 846.7H1503.2M1500.2 826.9H1503.2M1500.2 817H1503.2" stroke="#000" stroke-width="2" fill="none"/>
<text x="1481.3" y="1002" font-size="25.6">0</text>
<text x="1453.4" y="962.6" font-size="25.2">200</text>
<text x="1454.1" y="923" font-size="24.8">400</text>
<text x="1453.4" y="883.3" font-size="25.2">600</text>
<text x="1453.6" y="843.5" font-size="25.1">800</text>
<line x1="1525.2" y1="995.2" x2="1525.2" y2="1000.8" stroke="#000" stroke-width="3.8"/>
<line x1="1567.5" y1="995.2" x2="1567.5" y2="1000.8" stroke="#000" stroke-width="3.8"/>
<line x1="1609.7" y1="995.2" x2="1609.7" y2="1000.8" stroke="#000" stroke-width="3.8"/>
<line x1="1653.4" y1="995.2" x2="1653.4" y2="1000.8" stroke="#000" stroke-width="3.8"/>
<line x1="1695.7" y1="995.2" x2="1695.7" y2="1000.8" stroke="#000" stroke-width="3.8"/>
<path d="M1537.9 995.2V998.6M1545.4 995.2V998.6M1550.7 995.2V998.6M1554.8 995.2V998.6M1558.1 995.2V998.6M1560.9 995.2V998.6M1563.4 995.2V998.6M1565.6 995.2V998.6M1580.2 995.2V998.6M1587.6 995.2V998.6M1592.9 995.2V998.6M1597 995.2V998.6M1600.3 995.2V998.6M1603.2 995.2V998.6M1605.6 995.2V998.6M1607.8 995.2V998.6M1622.9 995.2V998.6M1630.6 995.2V998.6M1636 995.2V998.6M1640.2 995.2V998.6M1643.7 995.2V998.6M1646.6 995.2V998.6M1649.2 995.2V998.6M1651.4 995.2V998.6M1666.1 995.2V998.6M1673.6 995.2V998.6M1678.9 995.2V998.6M1683 995.2V998.6M1686.3 995.2V998.6M1689.1 995.2V998.6M1691.6 995.2V998.6M1693.8 995.2V998.6M1508.4 995.2V998.6M1512.5 995.2V998.6M1515.8 995.2V998.6M1518.6 995.2V998.6M1521.1 995.2V998.6M1523.3 995.2V998.6M1708.5 995.2V998.6" stroke="#000" stroke-width="1.5" fill="none"/>
<text x="1507.9" y="1019.8" font-size="24.5">10</text>
<text transform="translate(1537 1012) scale(0.704 1.000)" font-size="14.2">1</text>
<text x="1550.3" y="1019.8" font-size="24.7">10</text>
<text transform="translate(1577.2 1012) scale(1.095 1.000)" font-size="14.2">2</text>
<text x="1591.7" y="1019.8" font-size="24.7">10</text>
<text transform="translate(1618.8 1012) scale(1.056 1.000)" font-size="14.2">3</text>
<text x="1633.7" y="1019.8" font-size="24.3">10</text>
<text transform="translate(1660.5 1012) scale(0.993 1.000)" font-size="14.2">4</text>
<text x="1674.5" y="1019.8" font-size="24.7">10</text>
<text transform="translate(1701.6 1012) scale(1.056 1.000)" font-size="14.2">5</text>
</g>
<g id="panel-f">
<text transform="translate(1744 516.9) scale(1.090 1.000)" font-size="25.2" font-weight="bold">f</text>
<line x1="1853.1" y1="556.4" x2="1853.1" y2="750.7" stroke="#000" stroke-width="2.2"/>
<line x1="1852" y1="749.7" x2="1979.2" y2="749.7" stroke="#000" stroke-width="2.3"/>
<line x1="1844.3" y1="749.7" x2="1853.1" y2="749.7" stroke="#000" stroke-width="2.1"/>
<text transform="translate(1829 755.3) scale(0.950 1.000)" font-size="25.3">0</text>
<line x1="1844.3" y1="711.2" x2="1853.1" y2="711.2" stroke="#000" stroke-width="2.1"/>
<text transform="translate(1815.6 716.8) scale(0.950 1.000)" font-size="25.3">20</text>
<line x1="1844.3" y1="672.8" x2="1853.1" y2="672.8" stroke="#000" stroke-width="2.1"/>
<text transform="translate(1815.6 678.4) scale(0.950 1.000)" font-size="25.3">40</text>
<line x1="1844.3" y1="634.3" x2="1853.1" y2="634.3" stroke="#000" stroke-width="2.1"/>
<text transform="translate(1815.6 639.9) scale(0.950 1.000)" font-size="25.3">60</text>
<line x1="1844.3" y1="595.9" x2="1853.1" y2="595.9" stroke="#000" stroke-width="2.1"/>
<text transform="translate(1815.6 601.5) scale(0.950 1.000)" font-size="25.3">80</text>
<line x1="1844.3" y1="557.4" x2="1853.1" y2="557.4" stroke="#000" stroke-width="2.1"/>
<text transform="translate(1802.2 563) scale(0.950 1.000)" font-size="25.3">100</text>
<line x1="1888.2" y1="749.7" x2="1888.2" y2="757.9" stroke="#000" stroke-width="2.2"/>
<line x1="1942.8" y1="749.7" x2="1942.8" y2="757.9" stroke="#000" stroke-width="2.2"/>
<text x="1870.1" y="774" font-size="18.4">Tbet</text>
<text x="1914" y="774" font-size="18.7">GATA3</text>
<text transform="translate(1794.2 745.7) rotate(-90) scale(0.910 1.000)" font-size="25.3">% of Live Lin- Cells</text>
<rect x="1870.2" y="747" width="36.6" height="2.2" fill="#720606"/>
<rect x="1921.9" y="556.8" width="42" height="192.9" fill="#06549a"/>
<line x1="1853.1" y1="809.2" x2="1853.1" y2="1003.4" stroke="#000" stroke-width="2.2"/>
<line x1="1852" y1="1002.4" x2="1979.2" y2="1002.4" stroke="#000" stroke-width="2.3"/>
<line x1="1844.3" y1="1002.4" x2="1853.1" y2="1002.4" stroke="#000" stroke-width="2.1"/>
<text transform="translate(1829 1008) scale(0.950 1.000)" font-size="25.3">0</text>
<line x1="1844.3" y1="964" x2="1853.1" y2="964" stroke="#000" stroke-width="2.1"/>
<text transform="translate(1815.6 969.6) scale(0.950 1.000)" font-size="25.3">20</text>
<line x1="1844.3" y1="925.5" x2="1853.1" y2="925.5" stroke="#000" stroke-width="2.1"/>
<text transform="translate(1815.6 931.1) scale(0.950 1.000)" font-size="25.3">40</text>
<line x1="1844.3" y1="887.1" x2="1853.1" y2="887.1" stroke="#000" stroke-width="2.1"/>
<text transform="translate(1815.6 892.7) scale(0.950 1.000)" font-size="25.3">60</text>
<line x1="1844.3" y1="848.6" x2="1853.1" y2="848.6" stroke="#000" stroke-width="2.1"/>
<text transform="translate(1815.6 854.2) scale(0.950 1.000)" font-size="25.3">80</text>
<line x1="1844.3" y1="810.2" x2="1853.1" y2="810.2" stroke="#000" stroke-width="2.1"/>
<text transform="translate(1802.2 815.8) scale(0.950 1.000)" font-size="25.3">100</text>
<line x1="1887.9" y1="1002.4" x2="1887.9" y2="1010.6" stroke="#000" stroke-width="2.2"/>
<line x1="1943.4" y1="1002.4" x2="1943.4" y2="1010.6" stroke="#000" stroke-width="2.2"/>
<text x="1865.5" y="1026.7" font-size="18.7">IFN-y</text>
<text x="1921.2" y="1026.7" font-size="18.9">IL-13</text>
<text transform="translate(1794.2 1003.8) rotate(-90) scale(0.905 1.000)" font-size="25.3">% of Live Lin- Cells</text>
<rect x="1870.1" y="1000.9" width="36.9" height="0.8" fill="#720606"/>
<rect x="1921.9" y="810" width="42" height="192.4" fill="#06549a"/>
</g>
</svg>
</body></html>
